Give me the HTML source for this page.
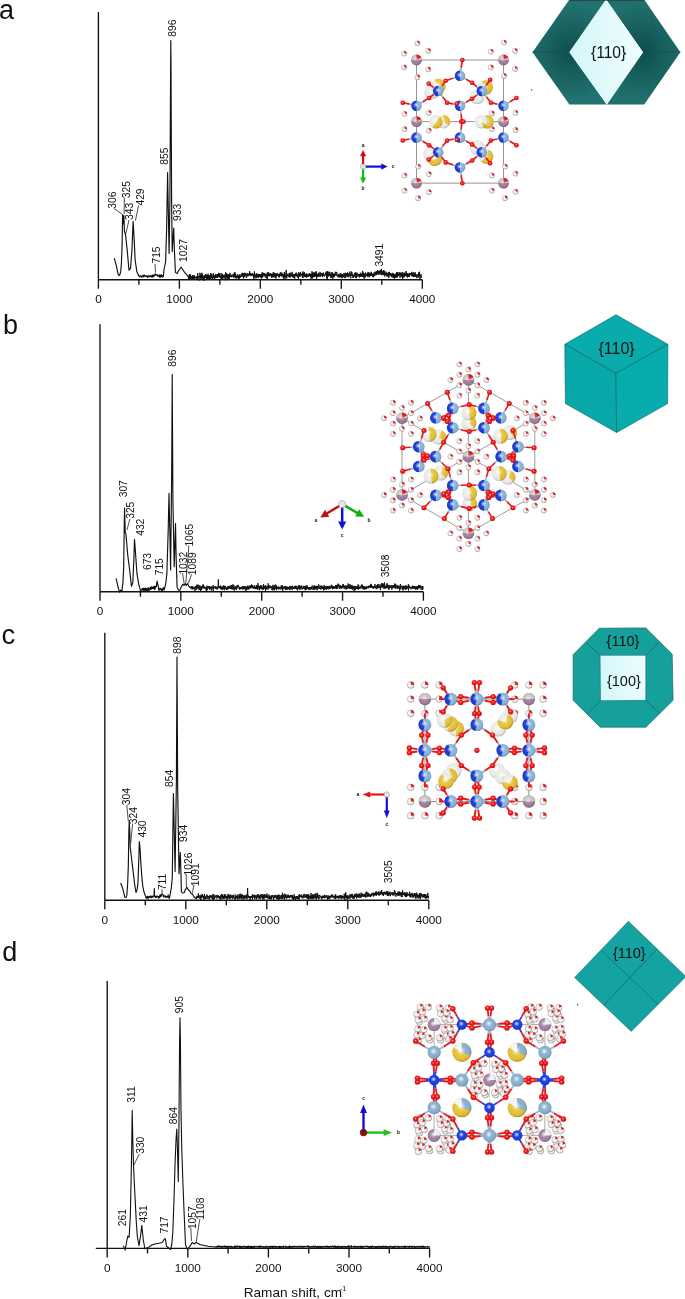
<!DOCTYPE html>
<html><head><meta charset="utf-8"><style>
html,body{margin:0;padding:0;background:#fff;}
svg{display:block;filter:blur(0.3px);}
text{font-family:"Liberation Sans", sans-serif;fill:#111;}
</style></head><body>
<svg width="685" height="1299" viewBox="0 0 685 1299">
<text x="-1" y="18.8" font-size="27">a</text>
<text x="3.1" y="333.6" font-size="27">b</text>
<text x="1.6" y="644" font-size="27.5">c</text>
<text x="2.2" y="960.7" font-size="27">d</text>
<line x1="98.4" y1="12" x2="98.4" y2="279.7" stroke="#111" stroke-width="1.35"/>
<line x1="98.4" y1="279.7" x2="422.3" y2="279.7" stroke="#111" stroke-width="1.35"/>
<line x1="98.40" y1="279.7" x2="98.40" y2="288.7" stroke="#111" stroke-width="1.35"/>
<text x="98.40" y="303.1" font-size="10.5" text-anchor="middle" transform="translate(98.40,0) scale(1.12,1) translate(-98.40,0)">0</text>
<line x1="138.89" y1="279.7" x2="138.89" y2="284.7" stroke="#111" stroke-width="1.35"/>
<line x1="179.38" y1="279.7" x2="179.38" y2="288.7" stroke="#111" stroke-width="1.35"/>
<text x="179.38" y="303.1" font-size="10.5" text-anchor="middle" transform="translate(179.38,0) scale(1.12,1) translate(-179.38,0)">1000</text>
<line x1="219.86" y1="279.7" x2="219.86" y2="284.7" stroke="#111" stroke-width="1.35"/>
<line x1="260.35" y1="279.7" x2="260.35" y2="288.7" stroke="#111" stroke-width="1.35"/>
<text x="260.35" y="303.1" font-size="10.5" text-anchor="middle" transform="translate(260.35,0) scale(1.12,1) translate(-260.35,0)">2000</text>
<line x1="300.84" y1="279.7" x2="300.84" y2="284.7" stroke="#111" stroke-width="1.35"/>
<line x1="341.32" y1="279.7" x2="341.32" y2="288.7" stroke="#111" stroke-width="1.35"/>
<text x="341.32" y="303.1" font-size="10.5" text-anchor="middle" transform="translate(341.32,0) scale(1.12,1) translate(-341.32,0)">3000</text>
<line x1="381.81" y1="279.7" x2="381.81" y2="284.7" stroke="#111" stroke-width="1.35"/>
<line x1="422.30" y1="279.7" x2="422.30" y2="288.7" stroke="#111" stroke-width="1.35"/>
<text x="422.30" y="303.1" font-size="10.5" text-anchor="middle" transform="translate(422.30,0) scale(1.12,1) translate(-422.30,0)">4000</text>
<polyline points="114.30,258.10 116.30,265.60 118.30,274.80 119.50,275.50 120.70,271.90 121.50,262.00 122.10,245.00 122.60,214.80 123.30,224.00 123.90,215.50 124.40,231.00 125.60,235.00 127.30,251.20 129.00,270.20 130.50,268.50 131.90,251.20 133.10,221.20 134.20,239.60 135.10,259.80 136.80,271.40 139.10,276.60 139.40,276.12 139.70,276.66 140.00,276.14 140.30,276.08 140.60,275.65 140.90,276.15 141.20,277.08 141.50,276.60 141.80,277.03 142.10,276.47 142.40,276.58 142.70,276.43 143.00,275.13 143.30,276.90 143.60,276.65 143.90,276.65 144.20,275.12 144.50,275.08 144.80,275.68 145.10,275.97 145.40,276.51 145.70,276.27 146.00,276.66 146.30,275.85 146.60,276.52 146.90,276.58 147.20,275.84 147.50,277.50 147.80,276.69 148.10,277.14 148.40,275.87 148.70,275.78 149.00,276.06 149.30,276.23 149.60,276.74 149.90,276.47 150.20,275.99 150.50,275.63 150.80,275.94 151.10,277.15 151.40,275.73 151.70,276.47 152.00,276.60 152.30,275.26 152.60,276.33 152.90,277.21 153.20,274.87 153.50,276.03 153.80,276.11 154.10,275.46 154.40,276.12 154.70,275.34 155.00,273.85 155.30,274.93 155.60,274.42 155.90,274.46 156.20,274.96 156.50,274.61 156.80,274.96 157.10,274.47 157.40,276.21 157.70,275.61 158.00,275.87 158.30,275.37 158.60,275.61 158.90,275.92 159.20,277.20 159.50,274.88 159.80,275.28 160.10,276.47 160.40,277.31 160.70,276.70 161.00,274.97 161.30,274.54 161.60,276.55 161.90,275.78 162.20,275.52 162.50,276.98 162.80,277.07 163.10,276.41 163.40,276.47 163.90,270.00 165.60,262.00 166.60,230.00 167.60,172.50 168.40,215.00 169.10,253.40 169.90,200.00 170.60,70.00 170.80,40.60 171.00,70.00 171.60,200.00 172.20,251.60 172.90,240.00 173.70,228.00 174.40,250.00 175.40,272.40 177.10,273.60 179.00,270.00 181.20,267.20 183.00,270.00 184.60,272.40 188.10,276.30 188.40,277.84" fill="none" stroke="#111" stroke-width="1.15" stroke-linejoin="round"/>
<polyline points="188.40,277.84 188.55,279.58 188.70,278.11 188.85,277.96 189.00,277.99 189.15,274.82 189.30,279.09 189.45,278.59 189.60,277.95 189.75,274.19 189.90,276.20 190.05,278.41 190.20,274.42 190.35,276.86 190.50,278.66 190.65,275.16 190.80,279.54 190.95,277.95 191.10,276.89 191.25,277.60 191.40,278.08 191.55,277.29 191.70,278.82 191.85,276.11 192.00,276.47 192.15,278.65 192.30,277.13 192.45,275.76 192.60,278.50 192.75,279.27 192.90,276.40 193.05,275.00 193.20,276.86 193.35,276.83 193.50,276.61 193.65,279.16 193.80,275.50 193.95,278.93 194.10,275.13 194.25,275.85 194.40,277.98 194.55,278.72 194.70,278.31 194.85,277.54 195.00,277.23 195.15,277.24 195.30,277.87 195.45,276.74 195.60,277.41 195.75,277.85 195.90,276.99 196.05,278.13 196.20,277.83 196.35,279.99 196.50,277.46 196.65,276.33 196.80,276.41 196.95,276.94 197.10,278.34 197.25,276.45 197.40,277.53 197.55,279.70 197.70,273.09 197.85,275.25 198.00,277.30 198.15,277.53 198.30,277.28 198.45,276.27 198.60,277.90 198.75,277.34 198.90,276.13 199.05,280.55 199.20,277.43 199.35,276.07 199.50,276.74 199.65,276.55 199.80,276.79 199.95,272.79 200.10,276.15 200.25,278.39 200.40,275.12 200.55,276.77 200.70,278.29 200.85,278.14 201.00,279.09 201.15,274.30 201.30,276.32 201.45,276.33 201.60,277.77 201.75,278.47 201.90,272.81 202.05,278.46 202.20,274.65 202.35,277.84 202.50,274.58 202.65,277.07 202.80,278.60 202.95,276.58 203.10,277.08 203.25,277.99 203.40,277.00 203.55,276.65 203.70,279.08 203.85,278.35 204.00,276.33 204.15,280.89 204.30,275.05 204.45,278.13 204.60,276.36 204.75,276.95 204.90,277.81 205.05,277.08 205.20,277.70 205.35,274.45 205.50,274.47 205.65,277.65 205.80,275.28 205.95,275.18 206.10,274.51 206.25,278.61 206.40,277.83 206.55,278.91 206.70,275.29 206.85,276.70 207.00,274.98 207.15,277.84 207.30,279.07 207.45,275.35 207.60,279.02 207.75,278.16 207.90,276.40 208.05,273.71 208.20,278.77 208.35,276.51 208.50,275.75 208.65,277.25 208.80,277.26 208.95,278.89 209.10,275.11 209.25,278.34 209.40,278.86 209.55,278.80 209.70,276.35 209.85,275.50 210.00,278.14 210.15,276.78 210.30,276.79 210.45,278.74 210.60,276.20 210.75,273.15 210.90,276.01 211.05,273.80 211.20,277.81 211.35,277.05 211.50,275.66 211.65,276.55 211.80,277.81 211.95,276.68 212.10,278.55 212.25,276.46 212.40,278.11 212.55,278.78 212.70,278.96 212.85,275.53 213.00,277.85 213.15,273.72 213.30,274.90 213.45,273.58 213.60,278.12 213.75,274.67 213.90,276.49 214.05,276.22 214.20,276.46 214.35,275.61 214.50,276.84 214.65,279.18 214.80,276.55 214.95,277.28 215.10,277.98 215.25,276.18 215.40,274.58 215.55,275.63 215.70,278.07 215.85,273.99 216.00,275.56 216.15,277.96 216.30,277.63 216.45,276.45 216.60,277.65 216.75,276.68 216.90,274.66 217.05,274.08 217.20,275.46 217.35,277.80 217.50,275.57 217.65,275.06 217.80,275.25 217.95,274.10 218.10,276.22 218.25,274.62 218.40,276.94 218.55,272.85 218.70,276.87 218.85,275.41 219.00,273.46 219.15,277.46 219.30,275.95 219.45,273.02 219.60,275.04 219.75,276.79 219.90,275.66 220.05,277.52 220.20,277.46 220.35,277.34 220.50,276.82 220.65,278.33 220.80,277.32 220.95,277.00 221.10,273.19 221.25,277.66 221.40,278.27 221.55,275.86 221.70,275.60 221.85,279.21 222.00,273.66 222.15,276.99 222.30,279.92 222.45,274.89 222.60,277.31 222.75,279.10 222.90,276.09 223.05,277.11 223.20,277.62 223.35,274.90 223.50,276.12 223.65,276.69 223.80,277.48 223.95,276.19 224.10,275.94 224.25,274.71 224.40,275.69 224.55,277.56 224.70,276.37 224.85,274.94 225.00,274.95 225.15,280.21 225.30,277.92 225.45,277.16 225.60,272.31 225.75,277.13 225.90,276.91 226.05,278.71 226.20,276.82 226.35,276.08 226.50,276.96 226.65,273.25 226.80,277.72 226.95,276.65 227.10,275.10 227.25,278.14 227.40,278.86 227.55,274.04 227.70,275.14 227.85,276.57 228.00,276.41 228.15,275.53 228.30,274.66 228.45,279.30 228.60,277.67 228.75,274.32 228.90,274.09 229.05,278.66 229.20,277.59 229.35,278.83 229.50,277.31 229.65,274.78 229.80,276.48 229.95,272.84 230.10,274.96 230.25,275.98 230.40,276.85 230.55,274.97 230.70,275.87 230.85,276.75 231.00,276.62 231.15,277.01 231.30,276.36 231.45,275.56 231.60,277.22 231.75,276.11 231.90,274.79 232.05,275.09 232.20,276.02 232.35,275.85 232.50,276.25 232.65,276.01 232.80,276.27 232.95,275.80 233.10,274.11 233.25,276.63 233.40,277.57 233.55,276.64 233.70,275.70 233.85,276.65 234.00,274.52 234.15,273.13 234.30,276.05 234.45,274.57 234.60,277.07 234.75,274.33 234.90,272.01 235.05,274.39 235.20,278.31 235.35,275.36 235.50,273.88 235.65,274.78 235.80,276.71 235.95,276.67 236.10,276.18 236.25,278.14 236.40,276.97 236.55,275.87 236.70,276.80 236.85,278.38 237.00,277.35 237.15,277.42 237.30,274.26 237.45,275.66 237.60,276.97 237.75,275.43 237.90,277.47 238.05,276.76 238.20,277.22 238.35,275.54 238.50,279.67 238.65,277.71 238.80,275.52 238.95,275.98 239.10,279.73 239.25,275.32 239.40,277.14 239.55,277.30 239.70,275.83 239.85,274.07 240.00,276.09 240.15,276.35 240.30,277.50 240.45,276.98 240.60,275.83 240.75,277.07 240.90,276.60 241.05,276.09 241.20,275.86 241.35,275.41 241.50,276.80 241.65,274.19 241.80,274.82 241.95,275.77 242.10,273.56 242.25,275.10 242.40,272.74 242.55,274.72 242.70,276.59 242.85,276.59 243.00,275.65 243.15,275.38 243.30,273.60 243.45,278.46 243.60,276.49 243.75,277.35 243.90,274.39 244.05,275.43 244.20,272.97 244.35,276.87 244.50,277.10 244.65,272.84 244.80,275.61 244.95,276.63 245.10,273.03 245.25,272.94 245.40,274.07 245.55,274.72 245.70,273.56 245.85,275.70 246.00,276.03 246.15,276.60 246.30,276.70 246.45,277.90 246.60,277.38 246.75,273.67 246.90,274.87 247.05,274.04 247.20,274.01 247.35,275.50 247.50,275.62 247.65,276.34 247.80,273.22 247.95,273.74 248.10,275.07 248.25,274.80 248.40,274.63 248.55,275.01 248.70,273.96 248.85,276.15 249.00,275.63 249.15,274.97 249.30,274.09 249.45,274.84 249.60,271.02 249.75,273.63 249.90,275.16 250.05,272.84 250.20,275.40 250.35,275.32 250.50,273.03 250.65,274.72 250.80,274.63 250.95,275.79 251.10,276.02 251.25,275.05 251.40,273.82 251.55,274.88 251.70,275.00 251.85,276.20 252.00,275.54 252.15,274.02 252.30,273.07 252.45,274.54 252.60,273.99 252.75,273.43 252.90,274.93 253.05,274.36 253.20,275.26 253.35,275.88 253.50,274.48 253.65,278.59 253.80,274.62 253.95,276.75 254.10,275.28 254.25,276.77 254.40,271.54 254.55,273.97 254.70,275.47 254.85,276.00 255.00,278.60 255.15,275.58 255.30,277.02 255.45,276.25 255.60,276.52 255.75,275.87 255.90,274.87 256.05,275.86 256.20,273.48 256.35,276.87 256.50,273.57 256.65,275.47 256.80,278.28 256.95,274.76 257.10,275.13 257.25,276.84 257.40,275.14 257.55,273.89 257.70,275.49 257.85,275.97 258.00,276.17 258.15,273.94 258.30,277.73 258.45,277.60 258.60,275.13 258.75,275.50 258.90,274.46 259.05,277.22 259.20,274.04 259.35,276.11 259.50,274.38 259.65,274.06 259.80,276.18 259.95,277.10 260.10,275.08 260.25,274.08 260.40,276.32 260.55,275.03 260.70,275.57 260.85,277.38 261.00,276.80 261.15,274.32 261.30,278.53 261.45,275.11 261.60,276.28 261.75,274.13 261.90,275.03 262.05,272.48 262.20,277.78 262.35,277.15 262.50,273.28 262.65,272.84 262.80,272.67 262.95,276.86 263.10,274.41 263.25,275.01 263.40,274.63 263.55,274.92 263.70,273.47 263.85,275.14 264.00,272.94 264.15,274.99 264.30,275.56 264.45,275.80 264.60,274.75 264.75,273.74 264.90,275.34 265.05,274.37 265.20,277.45 265.35,276.25 265.50,274.93 265.65,274.39 265.80,274.05 265.95,273.69 266.10,274.57 266.25,275.54 266.40,275.87 266.55,275.95 266.70,278.25 266.85,274.04 267.00,275.12 267.15,279.29 267.30,272.30 267.45,274.32 267.60,275.35 267.75,275.33 267.90,275.71 268.05,274.74 268.20,275.65 268.35,275.18 268.50,276.26 268.65,272.26 268.80,273.77 268.95,275.10 269.10,273.55 269.25,273.53 269.40,276.04 269.55,274.13 269.70,276.05 269.85,276.22 270.00,275.56 270.15,275.86 270.30,274.94 270.45,272.99 270.60,275.05 270.75,275.78 270.90,274.31 271.05,274.95 271.20,276.22 271.35,273.78 271.50,276.06 271.65,277.89 271.80,274.27 271.95,275.32 272.10,274.87 272.25,277.41 272.40,275.57 272.55,276.45 272.70,274.06 272.85,275.08 273.00,275.09 273.15,272.44 273.30,277.26 273.45,276.45 273.60,272.48 273.75,276.22 273.90,274.90 274.05,275.77 274.20,275.65 274.35,272.85 274.50,274.78 274.65,277.34 274.80,274.24 274.95,273.57 275.10,273.06 275.25,273.27 275.40,275.60 275.55,277.64 275.70,275.74 275.85,275.47 276.00,278.45 276.15,274.32 276.30,274.09 276.45,275.89 276.60,275.92 276.75,273.58 276.90,273.35 277.05,275.54 277.20,275.47 277.35,273.14 277.50,274.80 277.65,274.29 277.80,275.79 277.95,274.92 278.10,274.97 278.25,274.57 278.40,276.68 278.55,277.19 278.70,274.55 278.85,276.37 279.00,273.96 279.15,275.21 279.30,276.22 279.45,277.37 279.60,274.53 279.75,274.99 279.90,275.39 280.05,272.85 280.20,275.12 280.35,274.09 280.50,275.66 280.65,273.41 280.80,272.13 280.95,275.16 281.10,275.49 281.25,274.28 281.40,276.43 281.55,274.69 281.70,274.19 281.85,275.82 282.00,272.75 282.15,274.08 282.30,275.07 282.45,276.37 282.60,274.86 282.75,275.56 282.90,274.12 283.05,275.55 283.20,277.60 283.35,274.07 283.50,278.65 283.65,274.13 283.80,275.13 283.95,275.36 284.10,276.64 284.25,273.24 284.40,271.95 284.55,276.01 284.70,276.29 284.85,276.04 285.00,279.05 285.15,275.41 285.30,275.48 285.45,276.49 285.60,275.65 285.75,277.60 285.90,273.24 286.05,274.54 286.20,269.93 286.35,276.32 286.50,274.54 286.65,276.49 286.80,278.33 286.95,275.09 287.10,274.72 287.25,274.35 287.40,273.84 287.55,274.15 287.70,276.06 287.85,275.16 288.00,275.20 288.15,274.84 288.30,276.47 288.45,275.84 288.60,274.89 288.75,276.10 288.90,274.87 289.05,273.37 289.20,277.28 289.35,275.80 289.50,273.66 289.65,276.72 289.80,275.62 289.95,272.75 290.10,277.51 290.25,275.60 290.40,276.44 290.55,275.40 290.70,274.88 290.85,272.78 291.00,276.56 291.15,275.15 291.30,274.67 291.45,275.63 291.60,275.22 291.75,276.11 291.90,274.54 292.05,275.05 292.20,271.89 292.35,274.47 292.50,276.11 292.65,277.11 292.80,274.55 292.95,274.92 293.10,277.48 293.25,274.61 293.40,276.20 293.55,277.62 293.70,275.16 293.85,276.94 294.00,274.03 294.15,275.41 294.30,274.98 294.45,275.27 294.60,276.79 294.75,278.68 294.90,274.10 295.05,274.24 295.20,275.85 295.35,273.52 295.50,275.85 295.65,275.96 295.80,274.68 295.95,275.90 296.10,272.78 296.25,276.24 296.40,272.78 296.55,274.06 296.70,274.27 296.85,274.50 297.00,276.39 297.15,275.22 297.30,274.50 297.45,275.92 297.60,277.47 297.75,275.11 297.90,275.65 298.05,276.96 298.20,275.50 298.35,273.17 298.50,278.84 298.65,278.41 298.80,272.12 298.95,275.04 299.10,275.73 299.25,276.55 299.40,276.10 299.55,274.69 299.70,273.52 299.85,275.25 300.00,276.65 300.15,273.47 300.30,273.56 300.45,275.06 300.60,272.19 300.75,274.71 300.90,274.45 301.05,275.78 301.20,274.05 301.35,273.78 301.50,274.51 301.65,275.03 301.80,274.10 301.95,275.12 302.10,276.23 302.25,276.88 302.40,277.66 302.55,273.92 302.70,274.47 302.85,271.38 303.00,277.95 303.15,274.01 303.30,275.05 303.45,275.88 303.60,273.06 303.75,275.80 303.90,275.06 304.05,272.36 304.20,275.54 304.35,276.89 304.50,272.30 304.65,276.31 304.80,275.41 304.95,275.81 305.10,275.76 305.25,277.06 305.40,274.76 305.55,276.41 305.70,274.49 305.85,276.19 306.00,273.88 306.15,274.94 306.30,277.70 306.45,275.77 306.60,274.86 306.75,273.38 306.90,273.91 307.05,275.39 307.20,276.51 307.35,275.74 307.50,275.89 307.65,275.04 307.80,277.13 307.95,274.51 308.10,274.28 308.25,276.43 308.40,275.20 308.55,274.68 308.70,274.24 308.85,274.71 309.00,276.04 309.15,275.63 309.30,273.29 309.45,275.74 309.60,275.37 309.75,273.60 309.90,276.26 310.05,274.68 310.20,274.60 310.35,276.29 310.50,277.08 310.65,274.07 310.80,275.76 310.95,273.79 311.10,278.57 311.25,274.36 311.40,276.89 311.55,274.13 311.70,276.32 311.85,278.43 312.00,271.29 312.15,274.45 312.30,275.85 312.45,274.96 312.60,274.10 312.75,278.33 312.90,275.22 313.05,272.63 313.20,276.38 313.35,272.52 313.50,276.83 313.65,274.23 313.80,275.32 313.95,276.99 314.10,275.28 314.25,273.01 314.40,272.56 314.55,276.87 314.70,276.21 314.85,273.88 315.00,276.39 315.15,275.84 315.30,276.07 315.45,271.71 315.60,274.65 315.75,276.45 315.90,276.20 316.05,276.42 316.20,271.41 316.35,275.35 316.50,275.84 316.65,278.93 316.80,273.67 316.95,274.61 317.10,275.15 317.25,276.43 317.40,274.44 317.55,276.82 317.70,273.92 317.85,275.50 318.00,274.31 318.15,275.34 318.30,274.06 318.45,272.70 318.60,276.74 318.75,275.56 318.90,274.26 319.05,275.40 319.20,276.59 319.35,273.63 319.50,274.93 319.65,275.91 319.80,275.89 319.95,274.60 320.10,271.94 320.25,276.96 320.40,275.59 320.55,275.12 320.70,274.68 320.85,275.50 321.00,274.46 321.15,273.56 321.30,273.99 321.45,274.20 321.60,274.18 321.75,273.36 321.90,276.05 322.05,273.14 322.20,276.09 322.35,273.58 322.50,275.63 322.65,277.16 322.80,275.40 322.95,274.00 323.10,275.17 323.25,275.32 323.40,272.50 323.55,274.19 323.70,275.34 323.85,274.40 324.00,275.22 324.15,276.20 324.30,276.25 324.45,276.46 324.60,275.98 324.75,274.67 324.90,275.07 325.05,274.69 325.20,274.63 325.35,274.83 325.50,272.51 325.65,274.60 325.80,275.06 325.95,273.64 326.10,275.06 326.25,275.87 326.40,274.85 326.55,278.21 326.70,271.19 326.85,274.79 327.00,272.36 327.15,276.57 327.30,279.08 327.45,271.35 327.60,275.29 327.75,275.88 327.90,274.65 328.05,275.93 328.20,271.74 328.35,276.38 328.50,275.66 328.65,275.13 328.80,274.22 328.95,276.06 329.10,274.37 329.25,275.43 329.40,274.33 329.55,271.73 329.70,275.05 329.85,275.40 330.00,276.23 330.15,273.79 330.30,275.05 330.45,276.03 330.60,275.32 330.75,276.96 330.90,278.09 331.05,273.74 331.20,272.22 331.35,276.38 331.50,277.39 331.65,276.48 331.80,276.32 331.95,274.17 332.10,274.03 332.25,276.43 332.40,273.73 332.55,272.38 332.70,273.60 332.85,278.84 333.00,277.99 333.15,274.07 333.30,274.01 333.45,275.45 333.60,273.98 333.75,277.07 333.90,274.98 334.05,273.47 334.20,277.06 334.35,274.23 334.50,275.43 334.65,275.08 334.80,274.63 334.95,275.59 335.10,274.06 335.25,272.33 335.40,271.79 335.55,273.20 335.70,273.96 335.85,275.07 336.00,275.18 336.15,275.93 336.30,275.28 336.45,273.91 336.60,274.04 336.75,271.92 336.90,274.85 337.05,275.83 337.20,275.89 337.35,274.92 337.50,274.84 337.65,276.50 337.80,275.12 337.95,276.21 338.10,275.97 338.25,275.42 338.40,277.06 338.55,274.24 338.70,274.56 338.85,273.89 339.00,273.90 339.15,277.43 339.30,277.74 339.45,275.13 339.60,275.95 339.75,276.86 339.90,276.31 340.05,276.91 340.20,273.21 340.35,274.14 340.50,275.78 340.65,277.25 340.80,275.26 340.95,273.81 341.10,274.57 341.25,274.11 341.40,273.81 341.55,277.35 341.70,274.16 341.85,275.13 342.00,278.34 342.15,276.88 342.30,275.60 342.45,274.18 342.60,275.72 342.75,277.53 342.90,276.03 343.05,276.99 343.20,275.25 343.35,275.87 343.50,274.80 343.65,275.74 343.80,277.05 343.95,272.95 344.10,275.01 344.25,275.46 344.40,274.24 344.55,274.64 344.70,276.28 344.85,278.10 345.00,276.04 345.15,275.59 345.30,272.77 345.45,277.99 345.60,275.22 345.75,275.05 345.90,273.42 346.05,275.01 346.20,273.46 346.35,275.21 346.50,275.80 346.65,275.15 346.80,275.52 346.95,273.82 347.10,277.24 347.25,274.12 347.40,272.37 347.55,274.82 347.70,273.95 347.85,273.59 348.00,274.57 348.15,275.54 348.30,273.33 348.45,274.89 348.60,277.24 348.75,276.12 348.90,274.87 349.05,275.29 349.20,274.92 349.35,275.03 349.50,276.20 349.65,274.96 349.80,271.49 349.95,275.07 350.10,273.77 350.25,276.08 350.40,274.18 350.55,275.32 350.70,278.37 350.85,273.53 351.00,273.41 351.15,272.98 351.30,271.51 351.45,272.28 351.60,275.65 351.75,274.14 351.90,272.30 352.05,272.88 352.20,276.03 352.35,273.94 352.50,274.55 352.65,275.60 352.80,277.13 352.95,278.01 353.10,276.65 353.25,275.32 353.40,275.38 353.55,277.80 353.70,277.24 353.85,274.63 354.00,275.79 354.15,275.53 354.30,275.18 354.45,274.35 354.60,273.11 354.75,274.30 354.90,272.78 355.05,276.94 355.20,275.90 355.35,273.29 355.50,277.19 355.65,276.44 355.80,272.24 355.95,277.86 356.10,276.31 356.25,278.20 356.40,273.25 356.55,275.90 356.70,275.73 356.85,275.40 357.00,275.36 357.15,276.68 357.30,272.86 357.45,273.24 357.60,273.01 357.75,274.26 357.90,274.19 358.05,275.65 358.20,275.50 358.35,275.15 358.50,274.08 358.65,274.44 358.80,276.53 358.95,276.24 359.10,275.25 359.25,274.61 359.40,277.43 359.55,274.21 359.70,276.07 359.85,276.83 360.00,274.70 360.15,276.34 360.30,273.42 360.45,276.62 360.60,275.40 360.75,272.72 360.90,276.10 361.05,273.76 361.20,277.02 361.35,274.08 361.50,274.85 361.65,275.52 361.80,274.59 361.95,275.48 362.10,274.26 362.25,276.10 362.40,275.10 362.55,275.41 362.70,270.96 362.85,276.83 363.00,275.13 363.15,272.41 363.30,275.23 363.45,275.78 363.60,276.69 363.75,273.45 363.90,277.40 364.05,274.84 364.20,278.67 364.35,274.85 364.50,276.09 364.65,274.52 364.80,273.39 364.95,276.71 365.10,276.42 365.25,277.36 365.40,276.34 365.55,274.19 365.70,272.55 365.85,274.06 366.00,274.02 366.15,273.81 366.30,275.90 366.45,275.51 366.60,274.61 366.75,275.27 366.90,274.78 367.05,275.31 367.20,276.12 367.35,276.42 367.50,273.94 367.65,272.70 367.80,277.10 367.95,275.12 368.10,276.60 368.25,272.46 368.40,274.42 368.55,274.95 368.70,272.73 368.85,274.11 369.00,275.95 369.15,276.47 369.30,277.23 369.45,273.53 369.60,272.71 369.75,275.58 369.90,276.19 370.05,275.05 370.20,272.79 370.35,275.90 370.50,275.90 370.65,275.52 370.80,273.94 370.95,275.10 371.10,275.81 371.25,273.76 371.40,271.81 371.55,275.05 371.70,275.25 371.85,274.53 372.00,275.81 372.15,273.57 372.30,274.30 372.45,273.94 372.60,275.23 372.75,276.73 372.90,273.93 373.05,277.36 373.20,276.54 373.35,275.40 373.50,275.07 373.65,276.81 373.80,273.85 373.95,273.92 374.10,272.46 374.25,274.73 374.40,276.00 374.55,274.75 374.70,274.55 374.85,273.58 375.00,274.10 375.15,271.67 375.30,275.35 375.45,273.13 375.60,272.05 375.75,272.54 375.90,272.40 376.05,274.88 376.20,275.15 376.35,271.49 376.50,274.89 376.65,274.80 376.80,272.56 376.95,271.17 377.10,272.25 377.25,272.38 377.40,273.82 377.55,272.74 377.70,270.20 377.85,273.57 378.00,270.89 378.15,274.52 378.30,271.33 378.45,272.07 378.60,271.81 378.75,272.25 378.90,274.99 379.05,274.30 379.20,273.91 379.35,273.47 379.50,270.65 379.65,272.18 379.80,272.12 379.95,271.47 380.10,273.69 380.25,271.81 380.40,271.85 380.55,271.34 380.70,269.82 380.85,273.79 381.00,274.90 381.15,273.16 381.30,271.44 381.45,268.85 381.60,273.17 381.75,274.74 381.90,273.37 382.05,274.33 382.20,275.17 382.35,274.65 382.50,272.31 382.65,274.57 382.80,274.17 382.95,270.72 383.10,272.44 383.25,270.93 383.40,272.93 383.55,273.98 383.70,271.53 383.85,270.08 384.00,275.14 384.15,273.78 384.30,275.45 384.45,271.29 384.60,274.89 384.75,276.44 384.90,276.38 385.05,273.08 385.20,273.83 385.35,273.23 385.50,274.99 385.65,275.09 385.80,273.70 385.95,271.56 386.10,274.75 386.25,272.97 386.40,274.65 386.55,274.14 386.70,276.21 386.85,275.52 387.00,273.17 387.15,274.41 387.30,276.56 387.45,273.15 387.60,274.64 387.75,275.81 387.90,275.94 388.05,274.87 388.20,272.14 388.35,272.26 388.50,274.56 388.65,274.80 388.80,278.07 388.95,272.99 389.10,276.02 389.25,275.50 389.40,271.86 389.55,273.17 389.70,274.68 389.85,273.71 390.00,274.25 390.15,275.21 390.30,273.32 390.45,275.25 390.60,273.62 390.75,273.78 390.90,275.43 391.05,273.79 391.20,275.10 391.35,277.09 391.50,274.75 391.65,274.51 391.80,275.85 391.95,274.21 392.10,276.40 392.25,272.87 392.40,275.74 392.55,274.06 392.70,273.64 392.85,277.51 393.00,273.59 393.15,277.52 393.30,275.88 393.45,277.08 393.60,273.45 393.75,276.72 393.90,277.12 394.05,274.77 394.20,274.76 394.35,278.65 394.50,275.24 394.65,274.35 394.80,274.04 394.95,275.66 395.10,275.50 395.25,275.27 395.40,277.60 395.55,274.53 395.70,275.73 395.85,277.22 396.00,273.53 396.15,276.60 396.30,277.79 396.45,273.02 396.60,273.40 396.75,273.50 396.90,272.29 397.05,275.74 397.20,272.28 397.35,275.81 397.50,277.25 397.65,272.65 397.80,274.60 397.95,272.20 398.10,276.25 398.25,273.97 398.40,274.68 398.55,275.16 398.70,275.90 398.85,274.56 399.00,275.11 399.15,274.27 399.30,275.26 399.45,273.33 399.60,275.19 399.75,272.19 399.90,274.36 400.05,277.97 400.20,275.21 400.35,273.20 400.50,275.48 400.65,273.64 400.80,272.62 400.95,273.99 401.10,276.20 401.25,275.67 401.40,274.95 401.55,273.71 401.70,273.48 401.85,277.12 402.00,275.46 402.15,273.67 402.30,271.93 402.45,273.04 402.60,278.81 402.75,273.38 402.90,274.98 403.05,275.41 403.20,274.86 403.35,274.68 403.50,273.04 403.65,273.52 403.80,277.63 403.95,273.96 404.10,276.37 404.25,272.56 404.40,274.69 404.55,275.49 404.70,276.65 404.85,273.42 405.00,275.99 405.15,275.68 405.30,273.99 405.45,275.82 405.60,273.75 405.75,273.91 405.90,275.07 406.05,271.03 406.20,274.94 406.35,273.60 406.50,272.91 406.65,274.46 406.80,276.24 406.95,274.49 407.10,277.00 407.25,273.36 407.40,273.13 407.55,277.43 407.70,275.70 407.85,276.52 408.00,273.86 408.15,276.31 408.30,275.49 408.45,276.07 408.60,275.14 408.75,276.91 408.90,274.13 409.05,273.65 409.20,272.88 409.35,276.84 409.50,273.99 409.65,273.54 409.80,273.69 409.95,274.43 410.10,273.19 410.25,274.66 410.40,274.16 410.55,274.27 410.70,273.66 410.85,275.16 411.00,274.41 411.15,275.27 411.30,275.47 411.45,275.61 411.60,271.82 411.75,274.30 411.90,273.91 412.05,276.26 412.20,272.73 412.35,274.03 412.50,274.66 412.65,274.60 412.80,276.59 412.95,274.44 413.10,276.55 413.25,272.90 413.40,272.38 413.55,276.93 413.70,275.75 413.85,275.83 414.00,275.28 414.15,275.83 414.30,273.28 414.45,276.52 414.60,274.30 414.75,276.58 414.90,275.23 415.05,272.14 415.20,273.17 415.35,276.79 415.50,274.89 415.65,274.51 415.80,275.46 415.95,274.46 416.10,274.28 416.25,275.25 416.40,275.32 416.55,277.38 416.70,275.17 416.85,277.92 417.00,277.80 417.15,277.67 417.30,276.69 417.45,275.30 417.60,275.31 417.75,274.89 417.90,274.00 418.05,275.00 418.20,274.14 418.35,277.56 418.50,275.90 418.65,274.43 418.80,272.23 418.95,275.02 419.10,274.48 419.25,273.47 419.40,273.40 419.55,271.72 419.70,275.95 419.85,275.00 420.00,278.97 420.15,275.05 420.30,274.88 420.45,277.27 420.60,275.30 420.75,275.35 420.90,274.54 421.05,274.19 421.20,277.35 421.35,276.60 421.50,277.67" fill="none" stroke="#111" stroke-width="0.95" stroke-linejoin="round"/>
<text x="0" y="0" font-size="10.3" text-anchor="middle" transform="translate(116.21,200.10) rotate(-90)">306</text>
<text x="0" y="0" font-size="10.3" text-anchor="middle" transform="translate(129.91,189.70) rotate(-90)">325</text>
<text x="0" y="0" font-size="10.3" text-anchor="middle" transform="translate(132.61,211.40) rotate(-90)">343</text>
<text x="0" y="0" font-size="10.3" text-anchor="middle" transform="translate(143.71,197.00) rotate(-90)">429</text>
<text x="0" y="0" font-size="10.3" text-anchor="middle" transform="translate(159.61,255.00) rotate(-90)">715</text>
<text x="0" y="0" font-size="10.3" text-anchor="middle" transform="translate(167.61,156.05) rotate(-90)">855</text>
<text x="0" y="0" font-size="10.3" text-anchor="middle" transform="translate(175.51,28.15) rotate(-90)">896</text>
<text x="0" y="0" font-size="10.3" text-anchor="middle" transform="translate(181.41,212.35) rotate(-90)">933</text>
<text x="0" y="0" font-size="10.3" text-anchor="middle" transform="translate(187.21,250.50) rotate(-90)">1027</text>
<text x="0" y="0" font-size="10.3" text-anchor="middle" transform="translate(383.41,255.15) rotate(-90)">3491</text>
<line x1="113.8" y1="208.3" x2="122.5" y2="214.5" stroke="#222" stroke-width="0.8"/>
<line x1="124.3" y1="197.6" x2="124.1" y2="214" stroke="#222" stroke-width="0.8"/>
<line x1="129" y1="220" x2="125.8" y2="233.9" stroke="#222" stroke-width="0.8"/>
<line x1="138.5" y1="205.5" x2="135.4" y2="220.6" stroke="#222" stroke-width="0.8"/>
<line x1="155" y1="263.8" x2="155.5" y2="272.7" stroke="#222" stroke-width="0.8"/>
<line x1="100" y1="324.2" x2="100" y2="591.7" stroke="#111" stroke-width="1.35"/>
<line x1="100" y1="591.7" x2="423.4" y2="591.7" stroke="#111" stroke-width="1.35"/>
<line x1="100.00" y1="591.7" x2="100.00" y2="600.7" stroke="#111" stroke-width="1.35"/>
<text x="100.00" y="615.4" font-size="10.5" text-anchor="middle" transform="translate(100.00,0) scale(1.12,1) translate(-100.00,0)">0</text>
<line x1="140.43" y1="591.7" x2="140.43" y2="596.7" stroke="#111" stroke-width="1.35"/>
<line x1="180.85" y1="591.7" x2="180.85" y2="600.7" stroke="#111" stroke-width="1.35"/>
<text x="180.85" y="615.4" font-size="10.5" text-anchor="middle" transform="translate(180.85,0) scale(1.12,1) translate(-180.85,0)">1000</text>
<line x1="221.27" y1="591.7" x2="221.27" y2="596.7" stroke="#111" stroke-width="1.35"/>
<line x1="261.70" y1="591.7" x2="261.70" y2="600.7" stroke="#111" stroke-width="1.35"/>
<text x="261.70" y="615.4" font-size="10.5" text-anchor="middle" transform="translate(261.70,0) scale(1.12,1) translate(-261.70,0)">2000</text>
<line x1="302.12" y1="591.7" x2="302.12" y2="596.7" stroke="#111" stroke-width="1.35"/>
<line x1="342.55" y1="591.7" x2="342.55" y2="600.7" stroke="#111" stroke-width="1.35"/>
<text x="342.55" y="615.4" font-size="10.5" text-anchor="middle" transform="translate(342.55,0) scale(1.12,1) translate(-342.55,0)">3000</text>
<line x1="382.97" y1="591.7" x2="382.97" y2="596.7" stroke="#111" stroke-width="1.35"/>
<line x1="423.40" y1="591.7" x2="423.40" y2="600.7" stroke="#111" stroke-width="1.35"/>
<text x="423.40" y="615.4" font-size="10.5" text-anchor="middle" transform="translate(423.40,0) scale(1.12,1) translate(-423.40,0)">4000</text>
<polyline points="116.00,578.30 117.10,582.70 118.20,587.80 119.70,592.20 120.80,590.00 121.90,591.40 123.00,581.90 123.70,565.80 124.30,521.90 124.60,508.00 125.20,532.20 125.90,533.70 127.70,554.90 129.60,569.50 131.40,586.30 132.80,582.70 133.90,558.50 134.50,539.50 135.40,551.20 136.90,573.20 138.70,584.10 140.50,590.70 141.60,590.00 141.90,588.99 142.20,589.33 142.50,588.51 142.80,590.17 143.10,588.05 143.40,589.81 143.70,590.29 144.00,590.57 144.30,588.45 144.60,590.28 144.90,588.66 145.20,588.62 145.50,588.11 145.80,590.34 146.10,590.78 146.40,588.76 146.70,588.61 147.00,588.98 147.30,591.54 147.60,590.17 147.90,588.77 148.20,587.62 148.50,588.60 148.80,590.24 149.10,590.81 149.40,588.83 149.70,588.38 150.00,588.46 150.30,587.12 150.60,589.53 150.90,587.62 151.20,589.42 151.50,586.80 151.80,587.07 152.10,588.35 152.40,587.30 152.70,588.61 153.00,587.85 153.30,586.75 153.60,588.36 153.90,588.58 154.20,586.16 154.50,589.60 154.80,588.49 155.10,588.78 155.40,586.39 155.70,587.14 156.00,586.82 156.30,586.97 156.60,583.28 156.90,582.61 157.20,581.15 157.50,583.35 157.80,585.23 158.10,584.97 158.40,587.24 158.70,589.05 159.00,590.44 159.30,589.79 159.60,588.98 159.90,588.22 160.20,588.45 160.50,588.70 160.80,589.43 161.10,589.25 161.40,590.80 161.70,589.56 162.00,588.33 162.30,590.69 162.60,590.15 162.90,589.39 163.20,588.65 163.50,587.62 163.80,588.38 164.10,590.12 164.40,588.58 164.70,588.20 166.00,582.00 166.90,573.10 168.20,530.00 169.00,493.40 169.80,530.00 170.60,570.00 171.70,470.00 172.10,400.00 172.20,374.20 172.35,400.00 172.90,500.00 174.20,566.70 174.90,545.00 175.50,523.60 176.20,560.00 177.10,587.20 178.50,590.00 179.80,590.40 181.20,587.00 183.00,584.00 184.00,585.50 185.20,583.50 186.20,585.50 187.30,583.50 189.00,586.50 191.10,588.20 191.40,585.98" fill="none" stroke="#111" stroke-width="1.15" stroke-linejoin="round"/>
<polyline points="191.40,585.98 191.56,587.95 191.72,588.02 191.88,588.49 192.04,588.55 192.20,589.53 192.36,586.61 192.52,588.97 192.68,586.42 192.84,588.60 193.00,587.93 193.16,588.02 193.32,588.96 193.48,587.68 193.64,589.15 193.80,588.84 193.96,587.88 194.12,586.96 194.28,586.72 194.44,587.01 194.60,587.44 194.76,587.67 194.92,591.58 195.08,588.53 195.24,588.70 195.40,586.58 195.56,586.78 195.72,587.29 195.88,587.95 196.04,586.35 196.20,589.80 196.36,586.97 196.52,589.10 196.68,584.66 196.84,587.69 197.00,588.06 197.16,587.95 197.32,588.48 197.48,588.06 197.64,587.91 197.80,585.24 197.96,586.77 198.12,584.65 198.28,588.52 198.44,588.10 198.60,587.45 198.76,586.63 198.92,586.94 199.08,590.10 199.24,589.95 199.40,587.62 199.56,589.37 199.72,585.64 199.88,585.18 200.04,587.07 200.20,586.56 200.36,586.97 200.52,587.94 200.68,591.63 200.84,586.84 201.00,587.76 201.16,588.06 201.32,587.66 201.48,588.91 201.64,590.01 201.80,586.08 201.96,587.91 202.12,587.36 202.28,588.16 202.44,585.71 202.60,585.41 202.76,584.69 202.92,588.38 203.08,587.95 203.24,587.80 203.40,584.62 203.56,587.21 203.72,586.72 203.88,585.86 204.04,586.51 204.20,588.61 204.36,588.41 204.52,587.67 204.68,588.37 204.84,586.92 205.00,587.79 205.16,587.75 205.32,588.42 205.48,587.61 205.64,587.51 205.80,587.52 205.96,586.86 206.12,590.60 206.28,588.37 206.44,588.26 206.60,590.68 206.76,589.52 206.92,585.68 207.08,588.60 207.24,588.79 207.40,590.15 207.56,589.41 207.72,588.70 207.88,586.17 208.04,586.57 208.20,588.05 208.36,588.36 208.52,586.37 208.68,587.20 208.84,587.18 209.00,587.78 209.16,588.14 209.32,587.33 209.48,586.09 209.64,589.32 209.80,589.77 209.96,587.56 210.12,589.03 210.28,588.28 210.44,588.56 210.60,588.33 210.76,586.71 210.92,588.45 211.08,589.01 211.24,586.53 211.40,590.26 211.56,590.42 211.72,590.07 211.88,590.29 212.04,588.67 212.20,587.26 212.36,586.92 212.52,586.64 212.68,587.85 212.84,587.66 213.00,588.57 213.16,585.07 213.32,590.71 213.48,590.66 213.64,587.66 213.80,588.58 213.96,588.32 214.12,588.06 214.28,587.43 214.44,587.54 214.60,586.63 214.76,587.93 214.92,587.67 215.08,588.12 215.24,586.59 215.40,587.75 215.56,587.76 215.72,588.49 215.88,586.32 216.04,588.25 216.20,588.98 216.36,588.48 216.52,587.22 216.68,587.06 216.84,587.39 217.00,588.65 217.16,589.72 217.32,587.49 217.48,586.86 217.64,588.19 217.80,587.97 217.96,586.52 218.12,586.74 218.28,579.50 218.44,579.50 218.60,586.15 218.76,586.38 218.92,588.35 219.08,586.11 219.24,587.84 219.40,588.16 219.56,587.56 219.72,586.38 219.88,587.62 220.04,587.27 220.20,588.14 220.36,586.61 220.52,589.12 220.68,585.52 220.84,587.47 221.00,587.71 221.16,588.95 221.32,586.91 221.48,588.41 221.64,586.96 221.80,588.66 221.96,589.96 222.12,587.18 222.28,588.28 222.44,586.49 222.60,588.97 222.76,589.27 222.92,587.75 223.08,586.22 223.24,588.22 223.40,589.19 223.56,589.12 223.72,588.76 223.88,585.32 224.04,586.82 224.20,589.55 224.36,586.11 224.52,589.17 224.68,590.15 224.84,588.69 225.00,589.16 225.16,587.27 225.32,586.11 225.48,587.57 225.64,587.44 225.80,587.64 225.96,588.61 226.12,587.51 226.28,587.95 226.44,588.25 226.60,587.69 226.76,590.10 226.92,588.28 227.08,587.81 227.24,587.43 227.40,586.89 227.56,589.45 227.72,587.90 227.88,586.30 228.04,586.97 228.20,587.52 228.36,587.12 228.52,589.11 228.68,586.19 228.84,588.34 229.00,587.89 229.16,586.17 229.32,587.76 229.48,587.58 229.64,588.35 229.80,587.11 229.96,588.09 230.12,585.54 230.28,586.29 230.44,588.72 230.60,589.05 230.76,587.68 230.92,586.92 231.08,589.11 231.24,584.98 231.40,586.66 231.56,588.57 231.72,588.55 231.88,586.36 232.04,585.25 232.20,589.59 232.36,587.90 232.52,586.53 232.68,587.77 232.84,588.87 233.00,584.33 233.16,589.14 233.32,588.66 233.48,584.99 233.64,588.70 233.80,585.39 233.96,589.18 234.12,588.22 234.28,590.63 234.44,586.91 234.60,587.71 234.76,589.06 234.92,586.87 235.08,586.78 235.24,587.22 235.40,587.61 235.56,586.29 235.72,588.33 235.88,588.41 236.04,587.79 236.20,589.91 236.36,587.27 236.52,589.40 236.68,586.99 236.84,588.68 237.00,585.18 237.16,587.96 237.32,587.47 237.48,587.06 237.64,586.91 237.80,587.25 237.96,586.76 238.12,584.85 238.28,586.92 238.44,586.99 238.60,587.02 238.76,586.32 238.92,587.52 239.08,588.72 239.24,587.37 239.40,587.06 239.56,589.46 239.72,588.97 239.88,588.90 240.04,589.20 240.20,587.27 240.36,587.53 240.52,589.15 240.68,586.98 240.84,587.54 241.00,588.19 241.16,588.18 241.32,587.34 241.48,588.98 241.64,587.47 241.80,588.64 241.96,589.09 242.12,588.56 242.28,588.65 242.44,586.19 242.60,586.00 242.76,586.90 242.92,588.32 243.08,589.65 243.24,586.11 243.40,588.10 243.56,586.59 243.72,586.75 243.88,587.34 244.04,588.60 244.20,587.98 244.36,589.23 244.52,586.42 244.68,588.86 244.84,588.91 245.00,587.79 245.16,588.32 245.32,586.97 245.48,586.28 245.64,587.17 245.80,586.86 245.96,591.46 246.12,587.07 246.28,589.85 246.44,587.96 246.60,588.11 246.76,588.67 246.92,586.69 247.08,588.89 247.24,588.19 247.40,585.73 247.56,588.48 247.72,588.42 247.88,588.29 248.04,589.76 248.20,587.16 248.36,588.37 248.52,588.67 248.68,586.53 248.84,589.26 249.00,585.81 249.16,586.01 249.32,588.38 249.48,586.28 249.64,587.55 249.80,585.56 249.96,587.79 250.12,586.23 250.28,588.14 250.44,585.71 250.60,588.28 250.76,587.35 250.92,587.78 251.08,587.61 251.24,587.87 251.40,585.98 251.56,584.37 251.72,587.74 251.88,586.48 252.04,587.11 252.20,588.25 252.36,585.12 252.52,586.71 252.68,586.91 252.84,586.33 253.00,588.12 253.16,587.52 253.32,586.63 253.48,586.42 253.64,588.75 253.80,586.84 253.96,588.46 254.12,588.28 254.28,585.24 254.44,586.29 254.60,587.70 254.76,588.14 254.92,588.71 255.08,588.74 255.24,589.04 255.40,587.21 255.56,587.43 255.72,588.71 255.88,587.15 256.04,589.07 256.20,585.63 256.36,588.55 256.52,587.47 256.68,585.14 256.84,588.97 257.00,588.10 257.16,587.73 257.32,586.30 257.48,587.10 257.64,589.67 257.80,586.62 257.96,583.19 258.12,586.59 258.28,586.14 258.44,587.53 258.60,587.19 258.76,586.51 258.92,586.61 259.08,589.06 259.24,585.82 259.40,590.24 259.56,586.99 259.72,586.28 259.88,588.72 260.04,588.43 260.20,586.34 260.36,588.67 260.52,585.31 260.68,586.50 260.84,589.16 261.00,587.37 261.16,586.01 261.32,588.37 261.48,588.89 261.64,587.67 261.80,585.35 261.96,587.25 262.12,588.24 262.28,588.70 262.44,590.11 262.60,587.37 262.76,587.07 262.92,587.65 263.08,589.27 263.24,586.48 263.40,589.40 263.56,584.13 263.72,588.74 263.88,586.82 264.04,588.30 264.20,588.60 264.36,586.16 264.52,587.59 264.68,588.01 264.84,588.46 265.00,586.49 265.16,586.41 265.32,585.20 265.48,591.00 265.64,587.45 265.80,587.41 265.96,585.76 266.12,588.91 266.28,587.00 266.44,589.57 266.60,588.81 266.76,587.73 266.92,588.65 267.08,586.25 267.24,587.28 267.40,586.95 267.56,586.05 267.72,587.72 267.88,587.51 268.04,589.57 268.20,583.34 268.36,586.83 268.52,586.51 268.68,587.10 268.84,588.25 269.00,588.22 269.16,587.74 269.32,587.08 269.48,588.34 269.64,588.17 269.80,585.30 269.96,587.36 270.12,585.91 270.28,586.16 270.44,587.89 270.60,587.78 270.76,587.85 270.92,586.56 271.08,587.44 271.24,586.51 271.40,588.20 271.56,588.60 271.72,589.98 271.88,589.35 272.04,586.65 272.20,587.10 272.36,586.48 272.52,588.10 272.68,590.27 272.84,588.62 273.00,584.84 273.16,586.07 273.32,586.02 273.48,588.37 273.64,587.70 273.80,588.09 273.96,590.02 274.12,586.62 274.28,586.60 274.44,590.26 274.60,588.14 274.76,586.69 274.92,585.06 275.08,585.72 275.24,584.52 275.40,587.79 275.56,587.76 275.72,588.99 275.88,587.52 276.04,586.80 276.20,586.74 276.36,590.17 276.52,585.40 276.68,587.93 276.84,587.73 277.00,588.50 277.16,587.17 277.32,588.35 277.48,588.76 277.64,587.51 277.80,587.11 277.96,587.46 278.12,586.45 278.28,587.43 278.44,587.31 278.60,587.97 278.76,589.44 278.92,589.40 279.08,587.12 279.24,588.48 279.40,588.08 279.56,588.69 279.72,587.73 279.88,588.05 280.04,587.09 280.20,586.68 280.36,588.83 280.52,589.39 280.68,588.56 280.84,588.27 281.00,588.05 281.16,587.11 281.32,585.38 281.48,588.56 281.64,587.96 281.80,586.98 281.96,586.45 282.12,589.36 282.28,585.35 282.44,589.99 282.60,588.53 282.76,590.78 282.92,586.77 283.08,587.67 283.24,587.04 283.40,587.90 283.56,587.43 283.72,586.73 283.88,589.10 284.04,586.68 284.20,587.04 284.36,588.42 284.52,587.00 284.68,587.14 284.84,588.16 285.00,587.22 285.16,586.08 285.32,587.57 285.48,587.41 285.64,589.92 285.80,586.27 285.96,588.96 286.12,586.68 286.28,587.24 286.44,587.28 286.60,588.05 286.76,588.82 286.92,589.97 287.08,586.87 287.24,589.43 287.40,588.99 287.56,588.76 287.72,586.71 287.88,588.87 288.04,587.56 288.20,588.16 288.36,587.35 288.52,588.56 288.68,589.15 288.84,589.17 289.00,587.43 289.16,588.99 289.32,589.59 289.48,586.48 289.64,589.61 289.80,585.96 289.96,588.41 290.12,588.47 290.28,589.63 290.44,588.06 290.60,587.08 290.76,586.66 290.92,586.07 291.08,588.70 291.24,587.39 291.40,586.77 291.56,588.39 291.72,586.71 291.88,587.13 292.04,587.10 292.20,589.85 292.36,589.60 292.52,587.49 292.68,585.66 292.84,588.06 293.00,587.79 293.16,588.15 293.32,588.44 293.48,587.28 293.64,588.90 293.80,588.79 293.96,587.97 294.12,587.17 294.28,587.08 294.44,588.60 294.60,586.27 294.76,587.49 294.92,586.73 295.08,585.89 295.24,588.48 295.40,587.67 295.56,587.75 295.72,588.84 295.88,585.76 296.04,587.61 296.20,588.08 296.36,588.78 296.52,586.29 296.68,588.63 296.84,587.99 297.00,589.46 297.16,589.18 297.32,588.41 297.48,590.49 297.64,587.70 297.80,587.15 297.96,587.26 298.12,586.48 298.28,587.66 298.44,585.26 298.60,587.59 298.76,588.25 298.92,588.99 299.08,587.25 299.24,589.51 299.40,586.85 299.56,587.53 299.72,585.26 299.88,586.71 300.04,586.67 300.20,589.60 300.36,588.37 300.52,586.30 300.68,588.38 300.84,588.31 301.00,587.40 301.16,587.73 301.32,587.31 301.48,587.01 301.64,585.45 301.80,587.59 301.96,589.33 302.12,589.52 302.28,587.35 302.44,586.75 302.60,587.43 302.76,588.84 302.92,588.15 303.08,586.96 303.24,588.16 303.40,587.44 303.56,588.35 303.72,587.18 303.88,585.83 304.04,587.77 304.20,588.66 304.36,586.30 304.52,587.56 304.68,588.81 304.84,587.23 305.00,586.88 305.16,590.27 305.32,588.75 305.48,589.00 305.64,586.50 305.80,589.77 305.96,585.60 306.12,587.04 306.28,588.64 306.44,589.38 306.60,586.52 306.76,586.86 306.92,587.95 307.08,585.26 307.24,588.51 307.40,588.41 307.56,587.13 307.72,588.38 307.88,588.68 308.04,588.09 308.20,588.36 308.36,589.61 308.52,587.10 308.68,587.90 308.84,587.04 309.00,589.00 309.16,587.19 309.32,588.30 309.48,587.87 309.64,587.78 309.80,589.86 309.96,587.59 310.12,589.48 310.28,588.74 310.44,589.36 310.60,587.49 310.76,588.87 310.92,588.65 311.08,586.93 311.24,588.04 311.40,587.54 311.56,587.65 311.72,589.34 311.88,586.79 312.04,585.59 312.20,585.51 312.36,587.13 312.52,586.89 312.68,587.72 312.84,588.41 313.00,589.91 313.16,588.09 313.32,588.28 313.48,586.78 313.64,588.43 313.80,589.40 313.96,589.38 314.12,585.25 314.28,588.82 314.44,589.68 314.60,588.73 314.76,585.82 314.92,587.31 315.08,588.43 315.24,588.22 315.40,586.68 315.56,586.58 315.72,588.91 315.88,586.03 316.04,589.49 316.20,587.72 316.36,588.07 316.52,586.03 316.68,586.95 316.84,588.56 317.00,585.85 317.16,590.29 317.32,585.94 317.48,586.17 317.64,587.75 317.80,588.30 317.96,588.61 318.12,587.23 318.28,587.43 318.44,587.40 318.60,586.97 318.76,584.47 318.92,588.89 319.08,588.00 319.24,587.88 319.40,586.90 319.56,588.00 319.72,587.67 319.88,587.59 320.04,589.06 320.20,585.53 320.36,587.99 320.52,586.35 320.68,587.28 320.84,589.55 321.00,586.32 321.16,587.55 321.32,586.93 321.48,588.85 321.64,586.44 321.80,585.56 321.96,588.30 322.12,587.22 322.28,587.26 322.44,589.00 322.60,586.54 322.76,587.18 322.92,587.83 323.08,588.16 323.24,586.99 323.40,588.93 323.56,590.43 323.72,587.12 323.88,589.96 324.04,584.99 324.20,589.37 324.36,587.18 324.52,587.78 324.68,587.18 324.84,586.81 325.00,586.00 325.16,587.10 325.32,589.20 325.48,589.00 325.64,587.14 325.80,586.91 325.96,586.68 326.12,586.06 326.28,589.80 326.44,588.37 326.60,587.68 326.76,586.91 326.92,586.24 327.08,589.16 327.24,588.48 327.40,586.31 327.56,588.72 327.72,586.10 327.88,588.27 328.04,586.26 328.20,586.93 328.36,588.06 328.52,587.97 328.68,588.68 328.84,586.37 329.00,589.37 329.16,589.07 329.32,587.37 329.48,587.95 329.64,586.39 329.80,587.16 329.96,585.69 330.12,587.43 330.28,587.56 330.44,588.98 330.60,588.47 330.76,588.29 330.92,586.81 331.08,586.97 331.24,586.81 331.40,587.50 331.56,584.80 331.72,588.16 331.88,585.23 332.04,586.53 332.20,587.18 332.36,586.50 332.52,589.20 332.68,586.99 332.84,589.06 333.00,588.55 333.16,586.45 333.32,587.56 333.48,588.67 333.64,586.62 333.80,587.13 333.96,586.31 334.12,587.07 334.28,586.54 334.44,587.07 334.60,588.20 334.76,588.68 334.92,587.09 335.08,587.17 335.24,587.97 335.40,586.53 335.56,585.56 335.72,588.25 335.88,585.69 336.04,588.01 336.20,585.63 336.36,589.11 336.52,585.51 336.68,587.86 336.84,588.67 337.00,585.59 337.16,588.63 337.32,585.74 337.48,584.56 337.64,587.66 337.80,587.62 337.96,586.49 338.12,583.58 338.28,586.66 338.44,586.34 338.60,586.25 338.76,586.35 338.92,584.48 339.08,586.00 339.24,588.95 339.40,588.63 339.56,586.25 339.72,585.81 339.88,587.19 340.04,588.03 340.20,587.60 340.36,585.24 340.52,586.90 340.68,586.88 340.84,588.50 341.00,588.20 341.16,587.37 341.32,588.24 341.48,586.23 341.64,588.65 341.80,586.20 341.96,587.23 342.12,587.89 342.28,585.61 342.44,585.88 342.60,584.57 342.76,586.98 342.92,586.71 343.08,586.38 343.24,587.42 343.40,584.17 343.56,586.79 343.72,586.94 343.88,586.51 344.04,587.84 344.20,589.05 344.36,586.32 344.52,585.71 344.68,586.14 344.84,587.02 345.00,587.65 345.16,585.86 345.32,588.19 345.48,585.68 345.64,588.00 345.80,587.52 345.96,587.58 346.12,589.71 346.28,586.70 346.44,586.83 346.60,587.65 346.76,588.14 346.92,585.41 347.08,587.44 347.24,586.18 347.40,587.91 347.56,588.84 347.72,587.21 347.88,587.03 348.04,587.40 348.20,583.50 348.36,588.16 348.52,587.92 348.68,587.43 348.84,586.75 349.00,586.34 349.16,587.04 349.32,588.79 349.48,587.17 349.64,588.99 349.80,584.11 349.96,586.76 350.12,587.68 350.28,587.34 350.44,585.29 350.60,586.55 350.76,588.95 350.92,585.78 351.08,586.17 351.24,586.05 351.40,586.74 351.56,588.24 351.72,588.19 351.88,584.92 352.04,589.29 352.20,586.73 352.36,586.75 352.52,589.57 352.68,587.40 352.84,585.96 353.00,586.72 353.16,586.62 353.32,586.27 353.48,587.12 353.64,588.64 353.80,587.99 353.96,585.83 354.12,591.04 354.28,586.33 354.44,587.72 354.60,587.62 354.76,588.54 354.92,587.18 355.08,588.17 355.24,590.23 355.40,587.73 355.56,586.26 355.72,588.02 355.88,586.62 356.04,587.16 356.20,587.86 356.36,588.05 356.52,587.28 356.68,588.70 356.84,587.40 357.00,586.02 357.16,588.74 357.32,587.19 357.48,589.17 357.64,586.84 357.80,588.37 357.96,588.05 358.12,584.30 358.28,585.80 358.44,586.27 358.60,589.42 358.76,585.31 358.92,588.81 359.08,589.03 359.24,588.29 359.40,588.52 359.56,587.06 359.72,587.66 359.88,587.96 360.04,588.20 360.20,588.56 360.36,587.42 360.52,586.80 360.68,586.98 360.84,588.19 361.00,585.61 361.16,586.12 361.32,587.17 361.48,586.99 361.64,587.34 361.80,584.36 361.96,587.26 362.12,587.37 362.28,588.65 362.44,585.21 362.60,587.30 362.76,588.27 362.92,588.29 363.08,589.17 363.24,589.00 363.40,586.37 363.56,588.47 363.72,587.26 363.88,586.67 364.04,589.59 364.20,586.88 364.36,586.60 364.52,587.16 364.68,586.60 364.84,588.92 365.00,588.14 365.16,589.41 365.32,588.17 365.48,586.89 365.64,588.96 365.80,586.83 365.96,587.07 366.12,587.43 366.28,587.69 366.44,589.13 366.60,586.87 366.76,588.07 366.92,587.59 367.08,586.04 367.24,586.24 367.40,587.33 367.56,588.11 367.72,588.00 367.88,588.19 368.04,587.65 368.20,587.02 368.36,588.11 368.52,586.31 368.68,585.88 368.84,587.14 369.00,585.75 369.16,586.89 369.32,586.59 369.48,586.83 369.64,587.45 369.80,586.50 369.96,586.96 370.12,585.34 370.28,587.65 370.44,586.36 370.60,587.96 370.76,583.89 370.92,586.42 371.08,587.72 371.24,584.34 371.40,586.93 371.56,587.49 371.72,587.49 371.88,585.47 372.04,587.61 372.20,587.50 372.36,586.08 372.52,588.21 372.68,587.20 372.84,587.27 373.00,586.66 373.16,587.89 373.32,587.31 373.48,588.60 373.64,587.72 373.80,586.36 373.96,586.83 374.12,588.24 374.28,586.61 374.44,587.52 374.60,587.68 374.76,586.77 374.92,584.05 375.08,587.12 375.24,587.20 375.40,587.07 375.56,585.93 375.72,588.37 375.88,586.66 376.04,586.02 376.20,585.88 376.36,587.20 376.52,585.35 376.68,585.44 376.84,589.19 377.00,588.29 377.16,587.94 377.32,588.31 377.48,587.31 377.64,584.42 377.80,588.01 377.96,588.04 378.12,587.07 378.28,583.97 378.44,587.96 378.60,588.09 378.76,585.73 378.92,586.48 379.08,587.27 379.24,586.16 379.40,587.62 379.56,586.31 379.72,587.06 379.88,586.27 380.04,584.27 380.20,584.86 380.36,590.08 380.52,586.42 380.68,587.69 380.84,587.45 381.00,588.16 381.16,586.67 381.32,585.20 381.48,585.96 381.64,583.50 381.80,585.66 381.96,587.02 382.12,583.13 382.28,586.09 382.44,586.87 382.60,587.49 382.76,584.63 382.92,584.96 383.08,583.41 383.24,584.48 383.40,586.42 383.56,588.35 383.72,584.29 383.88,587.46 384.04,586.26 384.20,585.09 384.36,588.48 384.52,582.52 384.68,585.62 384.84,585.98 385.00,588.39 385.16,587.97 385.32,588.56 385.48,585.87 385.64,586.95 385.80,587.44 385.96,586.36 386.12,586.18 386.28,585.50 386.44,585.23 386.60,584.20 386.76,588.22 386.92,585.21 387.08,583.16 387.24,586.13 387.40,585.77 387.56,586.05 387.72,588.14 387.88,585.73 388.04,585.54 388.20,584.95 388.36,585.89 388.52,585.38 388.68,586.21 388.84,589.92 389.00,586.49 389.16,584.93 389.32,588.48 389.48,587.16 389.64,587.12 389.80,587.02 389.96,587.17 390.12,587.01 390.28,587.97 390.44,587.49 390.60,587.94 390.76,585.63 390.92,586.29 391.08,585.40 391.24,587.56 391.40,587.42 391.56,585.81 391.72,587.17 391.88,589.78 392.04,588.05 392.20,585.10 392.36,586.42 392.52,587.37 392.68,586.55 392.84,587.11 393.00,588.14 393.16,587.09 393.32,585.31 393.48,587.63 393.64,586.63 393.80,586.92 393.96,586.09 394.12,585.08 394.28,585.28 394.44,586.43 394.60,585.55 394.76,583.49 394.92,588.41 395.08,585.51 395.24,586.08 395.40,587.69 395.56,583.99 395.72,588.77 395.88,586.11 396.04,587.94 396.20,586.52 396.36,587.54 396.52,587.30 396.68,587.19 396.84,584.89 397.00,585.37 397.16,587.19 397.32,589.05 397.48,586.59 397.64,587.97 397.80,587.52 397.96,587.94 398.12,588.60 398.28,585.46 398.44,587.72 398.60,587.16 398.76,587.00 398.92,586.33 399.08,586.43 399.24,586.13 399.40,586.06 399.56,590.64 399.72,589.62 399.88,587.49 400.04,588.43 400.20,586.27 400.36,583.99 400.52,585.21 400.68,587.71 400.84,589.36 401.00,587.49 401.16,586.29 401.32,587.25 401.48,586.30 401.64,585.81 401.80,587.29 401.96,587.08 402.12,586.56 402.28,586.48 402.44,586.43 402.60,587.91 402.76,589.38 402.92,587.35 403.08,590.46 403.24,585.58 403.40,587.98 403.56,586.17 403.72,587.44 403.88,587.77 404.04,588.35 404.20,589.08 404.36,586.95 404.52,586.08 404.68,587.42 404.84,588.03 405.00,586.78 405.16,588.80 405.32,589.80 405.48,585.87 405.64,588.13 405.80,588.96 405.96,585.24 406.12,587.94 406.28,587.39 406.44,585.88 406.60,589.35 406.76,587.96 406.92,587.08 407.08,588.25 407.24,588.50 407.40,588.66 407.56,588.42 407.72,588.21 407.88,586.20 408.04,587.16 408.20,587.85 408.36,584.18 408.52,590.39 408.68,587.21 408.84,586.36 409.00,585.39 409.16,588.01 409.32,587.74 409.48,586.96 409.64,587.17 409.80,586.57 409.96,586.75 410.12,587.57 410.28,586.88 410.44,588.56 410.60,587.52 410.76,587.86 410.92,588.21 411.08,589.31 411.24,588.46 411.40,587.99 411.56,587.49 411.72,586.68 411.88,587.26 412.04,588.56 412.20,587.99 412.36,587.21 412.52,586.01 412.68,585.76 412.84,588.11 413.00,589.00 413.16,588.17 413.32,585.96 413.48,587.43 413.64,587.98 413.80,586.54 413.96,588.14 414.12,587.45 414.28,586.64 414.44,586.13 414.60,588.73 414.76,588.15 414.92,586.58 415.08,586.42 415.24,588.83 415.40,588.45 415.56,587.31 415.72,589.72 415.88,587.33 416.04,586.36 416.20,589.08 416.36,587.46 416.52,588.14 416.68,587.75 416.84,586.43 417.00,586.20 417.16,587.45 417.32,589.48 417.48,586.43 417.64,589.42 417.80,587.98 417.96,586.29 418.12,588.04 418.28,588.42 418.44,586.56 418.60,585.00 418.76,588.15 418.92,586.30 419.08,588.26 419.24,585.28 419.40,587.52 419.56,586.68 419.72,585.83 419.88,587.39 420.04,587.92 420.20,587.00 420.36,586.21 420.52,587.97 420.68,585.49 420.84,588.38 421.00,588.32 421.16,589.82 421.32,588.82 421.48,588.15 421.64,588.03 421.80,587.73 421.96,586.02 422.12,589.55 422.28,588.37 422.44,587.34 422.60,586.25 422.76,589.58 422.92,588.37 423.08,586.20" fill="none" stroke="#111" stroke-width="0.95" stroke-linejoin="round"/>
<text x="0" y="0" font-size="10.3" text-anchor="middle" transform="translate(126.71,488.75) rotate(-90)">307</text>
<text x="0" y="0" font-size="10.3" text-anchor="middle" transform="translate(134.21,510.25) rotate(-90)">325</text>
<text x="0" y="0" font-size="10.3" text-anchor="middle" transform="translate(144.21,527.25) rotate(-90)">432</text>
<text x="0" y="0" font-size="10.3" text-anchor="middle" transform="translate(151.21,561.50) rotate(-90)">673</text>
<text x="0" y="0" font-size="10.3" text-anchor="middle" transform="translate(163.21,566.75) rotate(-90)">715</text>
<text x="0" y="0" font-size="10.3" text-anchor="middle" transform="translate(175.91,358.15) rotate(-90)">896</text>
<text x="0" y="0" font-size="10.3" text-anchor="middle" transform="translate(186.51,563.15) rotate(-90)">1032</text>
<text x="0" y="0" font-size="10.3" text-anchor="middle" transform="translate(193.21,535.15) rotate(-90)">1065</text>
<text x="0" y="0" font-size="10.3" text-anchor="middle" transform="translate(195.91,563.70) rotate(-90)">1089</text>
<text x="0" y="0" font-size="10.3" text-anchor="middle" transform="translate(389.21,565.90) rotate(-90)">3508</text>
<line x1="129.9" y1="518.8" x2="127" y2="530" stroke="#222" stroke-width="0.8"/>
<line x1="182.5" y1="573.2" x2="184.2" y2="583.5" stroke="#222" stroke-width="0.8"/>
<line x1="188.9" y1="545.3" x2="185.8" y2="582.8" stroke="#222" stroke-width="0.8"/>
<line x1="191.6" y1="574.2" x2="188.3" y2="583.5" stroke="#222" stroke-width="0.8"/>
<line x1="104.8" y1="632.7" x2="104.8" y2="900.2" stroke="#111" stroke-width="1.35"/>
<line x1="104.8" y1="900.2" x2="428.8" y2="900.2" stroke="#111" stroke-width="1.35"/>
<line x1="104.80" y1="900.2" x2="104.80" y2="909.2" stroke="#111" stroke-width="1.35"/>
<text x="104.80" y="923.7" font-size="10.5" text-anchor="middle" transform="translate(104.80,0) scale(1.12,1) translate(-104.80,0)">0</text>
<line x1="145.30" y1="900.2" x2="145.30" y2="905.2" stroke="#111" stroke-width="1.35"/>
<line x1="185.80" y1="900.2" x2="185.80" y2="909.2" stroke="#111" stroke-width="1.35"/>
<text x="185.80" y="923.7" font-size="10.5" text-anchor="middle" transform="translate(185.80,0) scale(1.12,1) translate(-185.80,0)">1000</text>
<line x1="226.30" y1="900.2" x2="226.30" y2="905.2" stroke="#111" stroke-width="1.35"/>
<line x1="266.80" y1="900.2" x2="266.80" y2="909.2" stroke="#111" stroke-width="1.35"/>
<text x="266.80" y="923.7" font-size="10.5" text-anchor="middle" transform="translate(266.80,0) scale(1.12,1) translate(-266.80,0)">2000</text>
<line x1="307.30" y1="900.2" x2="307.30" y2="905.2" stroke="#111" stroke-width="1.35"/>
<line x1="347.80" y1="900.2" x2="347.80" y2="909.2" stroke="#111" stroke-width="1.35"/>
<text x="347.80" y="923.7" font-size="10.5" text-anchor="middle" transform="translate(347.80,0) scale(1.12,1) translate(-347.80,0)">3000</text>
<line x1="388.30" y1="900.2" x2="388.30" y2="905.2" stroke="#111" stroke-width="1.35"/>
<line x1="428.80" y1="900.2" x2="428.80" y2="909.2" stroke="#111" stroke-width="1.35"/>
<text x="428.80" y="923.7" font-size="10.5" text-anchor="middle" transform="translate(428.80,0) scale(1.12,1) translate(-428.80,0)">4000</text>
<polyline points="120.60,882.90 122.50,887.70 124.90,897.30 126.00,897.50 126.80,895.40 127.60,885.00 128.30,866.50 128.80,835.00 129.20,821.30 129.70,830.00 130.20,847.30 131.50,858.00 133.10,871.30 134.60,884.00 136.00,892.50 137.00,890.00 137.90,883.80 138.80,860.00 139.30,841.50 140.00,848.00 140.80,861.70 141.70,875.00 142.70,885.80 144.00,892.00 145.60,896.30 145.90,897.32 146.20,898.27 146.50,896.78 146.80,897.11 147.10,896.48 147.40,896.31 147.70,897.63 148.00,899.19 148.30,896.89 148.60,896.70 148.90,897.42 149.20,896.56 149.50,897.37 149.80,897.44 150.10,896.01 150.40,895.97 150.70,896.74 151.00,897.45 151.30,897.02 151.60,897.76 151.90,895.73 152.20,897.18 152.50,896.32 152.80,896.88 153.10,897.05 153.40,896.05 153.70,896.62 154.00,895.90 154.30,888.50 154.60,896.14 154.90,896.42 155.20,896.97 155.50,896.29 155.80,897.69 156.10,896.31 156.40,897.46 156.70,897.02 157.00,896.00 157.30,896.63 157.60,896.15 157.90,896.52 158.20,896.59 158.50,898.21 158.80,896.47 159.10,898.01 159.40,897.12 159.70,895.72 160.00,894.86 160.30,897.03 160.60,894.71 160.90,896.44 161.20,896.21 161.50,895.23 161.80,894.36 162.10,894.12 162.40,894.56 162.70,894.41 163.00,894.67 163.30,895.29 163.60,896.92 163.90,895.87 164.20,896.86 164.50,895.80 164.80,896.20 165.10,895.72 165.40,896.64 165.70,897.33 166.00,897.04 166.30,896.42 166.60,897.27 166.90,896.53 167.20,897.09 167.50,897.01 167.80,897.22 168.10,894.88 168.40,895.79 168.70,897.40 169.00,896.72 169.30,898.54 169.60,896.62 169.90,896.37 170.20,894.00 171.30,888.00 172.30,877.20 172.90,830.00 173.40,793.50 174.20,830.00 175.10,871.60 176.40,780.00 176.85,690.00 177.00,657.10 177.15,690.00 177.70,790.00 179.00,873.80 179.70,862.00 180.30,852.60 180.80,868.00 181.40,891.70 182.50,893.00 184.00,892.80 185.50,889.50 186.80,887.20 188.20,889.50 190.10,891.70 191.20,893.50 192.40,894.00 193.80,896.50 195.70,898.40 196.00,898.75" fill="none" stroke="#111" stroke-width="1.15" stroke-linejoin="round"/>
<polyline points="196.00,898.75 196.16,897.53 196.32,899.28 196.48,897.47 196.64,896.53 196.80,897.75 196.96,895.77 197.12,896.22 197.28,896.08 197.44,896.51 197.60,897.82 197.76,896.17 197.92,897.22 198.08,896.15 198.24,897.95 198.40,893.20 198.56,896.53 198.72,897.02 198.88,895.39 199.04,898.12 199.20,897.08 199.36,898.47 199.52,898.06 199.68,897.64 199.84,896.60 200.00,895.38 200.16,896.51 200.32,896.20 200.48,897.13 200.64,896.19 200.80,900.79 200.96,894.72 201.12,898.33 201.28,896.19 201.44,896.48 201.60,898.01 201.76,896.80 201.92,895.22 202.08,897.34 202.24,896.55 202.40,894.12 202.56,897.06 202.72,895.42 202.88,895.83 203.04,897.43 203.20,897.19 203.36,896.42 203.52,899.63 203.68,897.35 203.84,896.00 204.00,897.11 204.16,896.64 204.32,893.93 204.48,894.75 204.64,894.99 204.80,899.49 204.96,896.56 205.12,896.44 205.28,896.06 205.44,898.08 205.60,896.84 205.76,899.02 205.92,897.83 206.08,898.94 206.24,896.65 206.40,897.29 206.56,896.24 206.72,896.58 206.88,894.55 207.04,896.04 207.20,895.56 207.36,895.95 207.52,898.38 207.68,897.14 207.84,898.40 208.00,897.92 208.16,898.00 208.32,898.11 208.48,896.01 208.64,897.84 208.80,896.38 208.96,896.11 209.12,898.36 209.28,899.62 209.44,895.53 209.60,899.06 209.76,897.88 209.92,895.70 210.08,897.16 210.24,897.28 210.40,897.29 210.56,896.34 210.72,895.13 210.88,896.84 211.04,897.92 211.20,897.82 211.36,897.66 211.52,898.23 211.68,895.51 211.84,896.75 212.00,897.24 212.16,898.10 212.32,897.00 212.48,897.47 212.64,896.97 212.80,899.53 212.96,893.96 213.12,896.77 213.28,900.02 213.44,897.11 213.60,894.42 213.76,896.97 213.92,894.94 214.08,895.92 214.24,897.09 214.40,899.03 214.56,897.40 214.72,897.67 214.88,898.12 215.04,897.06 215.20,895.69 215.36,896.67 215.52,897.24 215.68,896.44 215.84,895.93 216.00,896.33 216.16,894.85 216.32,895.47 216.48,896.68 216.64,896.33 216.80,896.85 216.96,898.62 217.12,897.19 217.28,896.76 217.44,895.27 217.60,895.40 217.76,897.29 217.92,895.67 218.08,897.36 218.24,895.40 218.40,896.97 218.56,896.71 218.72,898.09 218.88,896.29 219.04,896.32 219.20,897.12 219.36,896.87 219.52,899.00 219.68,896.47 219.84,896.10 220.00,896.39 220.16,897.42 220.32,897.10 220.48,897.70 220.64,895.00 220.80,900.02 220.96,899.19 221.12,896.76 221.28,895.23 221.44,897.00 221.60,897.34 221.76,893.90 221.92,896.82 222.08,894.88 222.24,897.40 222.40,898.60 222.56,898.14 222.72,894.84 222.88,898.59 223.04,897.98 223.20,896.33 223.36,897.45 223.52,898.77 223.68,896.37 223.84,896.78 224.00,896.07 224.16,898.30 224.32,894.00 224.48,898.64 224.64,895.54 224.80,898.00 224.96,894.69 225.12,895.58 225.28,896.02 225.44,897.88 225.60,894.69 225.76,897.58 225.92,895.97 226.08,898.41 226.24,896.40 226.40,897.43 226.56,896.58 226.72,899.13 226.88,896.33 227.04,896.77 227.20,899.38 227.36,896.90 227.52,897.69 227.68,895.84 227.84,897.06 228.00,893.85 228.16,896.94 228.32,895.96 228.48,894.85 228.64,894.96 228.80,898.28 228.96,897.35 229.12,894.83 229.28,899.16 229.44,895.90 229.60,896.32 229.76,897.12 229.92,895.32 230.08,894.70 230.24,895.83 230.40,898.33 230.56,898.04 230.72,894.75 230.88,898.36 231.04,896.84 231.20,897.45 231.36,896.87 231.52,897.34 231.68,895.50 231.84,895.62 232.00,895.89 232.16,896.32 232.32,897.60 232.48,895.22 232.64,898.87 232.80,895.98 232.96,896.04 233.12,897.71 233.28,897.36 233.44,896.36 233.60,895.41 233.76,895.50 233.92,894.72 234.08,898.29 234.24,898.21 234.40,899.23 234.56,897.45 234.72,897.23 234.88,897.78 235.04,898.04 235.20,896.46 235.36,897.26 235.52,899.60 235.68,894.60 235.84,894.97 236.00,895.55 236.16,897.78 236.32,898.34 236.48,896.36 236.64,897.67 236.80,896.74 236.96,897.19 237.12,896.10 237.28,896.76 237.44,896.79 237.60,898.27 237.76,899.70 237.92,894.44 238.08,897.49 238.24,896.79 238.40,898.06 238.56,898.18 238.72,897.81 238.88,897.85 239.04,895.57 239.20,894.58 239.36,898.97 239.52,898.37 239.68,895.56 239.84,898.48 240.00,897.67 240.16,893.61 240.32,897.97 240.48,895.52 240.64,898.32 240.80,895.91 240.96,895.83 241.12,894.79 241.28,896.52 241.44,898.12 241.60,895.93 241.76,894.38 241.92,899.59 242.08,899.20 242.24,897.70 242.40,896.10 242.56,895.22 242.72,894.67 242.88,897.53 243.04,898.49 243.20,895.42 243.36,896.80 243.52,896.44 243.68,896.47 243.84,897.45 244.00,899.52 244.16,895.97 244.32,897.91 244.48,898.22 244.64,896.43 244.80,896.61 244.96,895.05 245.12,898.20 245.28,896.11 245.44,895.95 245.60,896.89 245.76,895.68 245.92,895.44 246.08,896.41 246.24,898.73 246.40,896.53 246.56,897.49 246.72,894.89 246.88,894.27 247.04,899.17 247.20,896.28 247.36,894.80 247.52,888.00 247.68,888.00 247.84,894.55 248.00,895.65 248.16,897.14 248.32,895.60 248.48,897.84 248.64,898.05 248.80,897.38 248.96,896.24 249.12,896.74 249.28,895.98 249.44,896.63 249.60,897.21 249.76,896.41 249.92,898.07 250.08,900.18 250.24,896.09 250.40,897.25 250.56,897.87 250.72,897.64 250.88,896.49 251.04,896.18 251.20,898.11 251.36,897.61 251.52,897.46 251.68,895.75 251.84,897.62 252.00,897.84 252.16,896.56 252.32,897.64 252.48,899.63 252.64,894.35 252.80,897.59 252.96,895.27 253.12,895.02 253.28,896.49 253.44,897.51 253.60,896.87 253.76,895.28 253.92,894.92 254.08,896.07 254.24,896.82 254.40,895.72 254.56,894.84 254.72,899.09 254.88,895.71 255.04,896.60 255.20,896.08 255.36,896.04 255.52,896.85 255.68,896.41 255.84,897.61 256.00,895.25 256.16,894.86 256.32,899.35 256.48,896.70 256.64,897.80 256.80,898.34 256.96,897.52 257.12,896.85 257.28,894.77 257.44,894.71 257.60,898.08 257.76,897.68 257.92,897.54 258.08,894.63 258.24,894.01 258.40,895.42 258.56,895.26 258.72,897.01 258.88,895.46 259.04,898.87 259.20,895.99 259.36,896.07 259.52,897.93 259.68,897.23 259.84,895.62 260.00,897.87 260.16,899.32 260.32,895.19 260.48,896.47 260.64,895.39 260.80,894.26 260.96,897.62 261.12,897.71 261.28,898.08 261.44,897.36 261.60,894.16 261.76,896.76 261.92,895.92 262.08,895.26 262.24,895.35 262.40,897.80 262.56,896.41 262.72,899.38 262.88,897.42 263.04,894.30 263.20,897.97 263.36,898.44 263.52,896.84 263.68,895.21 263.84,899.12 264.00,895.08 264.16,896.69 264.32,894.30 264.48,895.15 264.64,894.57 264.80,898.23 264.96,898.35 265.12,896.27 265.28,895.02 265.44,896.72 265.60,897.30 265.76,894.79 265.92,895.28 266.08,896.67 266.24,897.72 266.40,896.90 266.56,897.39 266.72,895.16 266.88,893.53 267.04,897.21 267.20,895.59 267.36,896.64 267.52,896.30 267.68,897.43 267.84,895.78 268.00,898.70 268.16,896.84 268.32,897.50 268.48,897.63 268.64,898.17 268.80,897.33 268.96,894.49 269.12,895.97 269.28,899.25 269.44,897.42 269.60,897.54 269.76,897.42 269.92,895.95 270.08,895.91 270.24,895.95 270.40,898.33 270.56,897.28 270.72,899.15 270.88,897.46 271.04,899.30 271.20,897.40 271.36,895.24 271.52,899.10 271.68,897.25 271.84,898.37 272.00,897.08 272.16,896.37 272.32,897.02 272.48,895.32 272.64,895.22 272.80,895.62 272.96,896.11 273.12,895.01 273.28,896.66 273.44,897.20 273.60,899.48 273.76,899.24 273.92,896.73 274.08,897.97 274.24,896.51 274.40,897.32 274.56,896.76 274.72,896.08 274.88,896.90 275.04,894.84 275.20,897.38 275.36,896.42 275.52,895.36 275.68,896.32 275.84,897.53 276.00,895.90 276.16,897.43 276.32,897.56 276.48,898.87 276.64,895.36 276.80,896.65 276.96,897.48 277.12,898.79 277.28,897.15 277.44,897.80 277.60,894.85 277.76,896.02 277.92,899.01 278.08,896.42 278.24,899.68 278.40,895.83 278.56,896.43 278.72,894.68 278.88,897.65 279.04,897.15 279.20,899.49 279.36,897.02 279.52,896.47 279.68,894.93 279.84,896.69 280.00,898.06 280.16,897.79 280.32,898.44 280.48,897.95 280.64,896.74 280.80,897.61 280.96,897.03 281.12,895.02 281.28,899.08 281.44,897.30 281.60,895.40 281.76,897.31 281.92,897.18 282.08,898.13 282.24,898.73 282.40,892.74 282.56,897.54 282.72,898.84 282.88,895.53 283.04,894.32 283.20,897.17 283.36,897.25 283.52,897.27 283.68,895.32 283.84,896.18 284.00,897.06 284.16,897.80 284.32,899.73 284.48,897.19 284.64,895.99 284.80,893.65 284.96,898.24 285.12,896.62 285.28,896.65 285.44,895.48 285.60,897.78 285.76,894.40 285.92,896.94 286.08,896.96 286.24,897.20 286.40,898.55 286.56,896.67 286.72,896.93 286.88,897.95 287.04,894.72 287.20,896.41 287.36,896.89 287.52,898.08 287.68,895.73 287.84,897.88 288.00,897.31 288.16,894.81 288.32,894.82 288.48,894.88 288.64,896.99 288.80,897.08 288.96,897.77 289.12,897.90 289.28,896.06 289.44,898.23 289.60,897.90 289.76,897.43 289.92,897.44 290.08,895.08 290.24,897.28 290.40,895.41 290.56,895.20 290.72,896.33 290.88,896.99 291.04,896.73 291.20,896.36 291.36,895.46 291.52,897.05 291.68,895.81 291.84,894.91 292.00,896.93 292.16,898.75 292.32,896.26 292.48,895.37 292.64,898.66 292.80,899.10 292.96,896.41 293.12,896.52 293.28,897.08 293.44,900.76 293.60,896.98 293.76,898.14 293.92,897.40 294.08,894.36 294.24,895.32 294.40,895.14 294.56,897.38 294.72,896.94 294.88,899.21 295.04,896.44 295.20,897.21 295.36,896.90 295.52,896.99 295.68,899.91 295.84,897.18 296.00,898.78 296.16,898.54 296.32,895.98 296.48,897.72 296.64,896.29 296.80,896.95 296.96,897.01 297.12,896.83 297.28,896.17 297.44,898.89 297.60,896.44 297.76,897.75 297.92,899.06 298.08,897.64 298.24,898.18 298.40,898.67 298.56,898.26 298.72,899.11 298.88,894.88 299.04,899.44 299.20,896.84 299.36,894.45 299.52,895.94 299.68,894.92 299.84,896.77 300.00,894.79 300.16,895.45 300.32,897.20 300.48,897.01 300.64,895.73 300.80,896.48 300.96,896.67 301.12,896.90 301.28,896.79 301.44,896.50 301.60,897.98 301.76,894.64 301.92,896.13 302.08,896.98 302.24,896.26 302.40,896.06 302.56,896.21 302.72,897.08 302.88,898.48 303.04,896.55 303.20,896.44 303.36,897.28 303.52,896.47 303.68,894.19 303.84,897.16 304.00,896.29 304.16,896.03 304.32,897.65 304.48,896.86 304.64,896.04 304.80,893.86 304.96,894.48 305.12,896.82 305.28,896.64 305.44,897.39 305.60,897.10 305.76,896.15 305.92,895.09 306.08,895.32 306.24,896.61 306.40,895.25 306.56,897.82 306.72,895.01 306.88,894.38 307.04,896.54 307.20,894.40 307.36,899.00 307.52,895.46 307.68,896.73 307.84,896.47 308.00,895.69 308.16,894.41 308.32,894.29 308.48,897.97 308.64,898.18 308.80,899.72 308.96,894.83 309.12,897.56 309.28,896.78 309.44,897.94 309.60,896.11 309.76,897.77 309.92,898.01 310.08,897.62 310.24,898.75 310.40,896.56 310.56,898.88 310.72,895.85 310.88,899.05 311.04,893.09 311.20,896.82 311.36,895.72 311.52,896.80 311.68,898.19 311.84,897.77 312.00,896.93 312.16,899.10 312.32,894.81 312.48,895.70 312.64,898.84 312.80,897.24 312.96,894.00 313.12,897.26 313.28,895.20 313.44,898.79 313.60,898.34 313.76,896.06 313.92,898.55 314.08,895.67 314.24,898.04 314.40,897.58 314.56,896.63 314.72,894.88 314.88,896.42 315.04,893.71 315.20,896.04 315.36,894.30 315.52,898.44 315.68,895.49 315.84,893.52 316.00,897.59 316.16,897.30 316.32,896.11 316.48,899.66 316.64,897.84 316.80,896.89 316.96,895.93 317.12,892.81 317.28,897.45 317.44,898.09 317.60,896.00 317.76,894.89 317.92,896.74 318.08,894.54 318.24,896.81 318.40,897.84 318.56,898.84 318.72,897.16 318.88,897.06 319.04,897.81 319.20,898.69 319.36,896.37 319.52,895.14 319.68,895.73 319.84,895.10 320.00,895.60 320.16,896.63 320.32,897.26 320.48,897.01 320.64,896.89 320.80,896.31 320.96,897.37 321.12,897.99 321.28,897.82 321.44,898.82 321.60,896.40 321.76,896.45 321.92,899.08 322.08,897.07 322.24,897.35 322.40,896.34 322.56,898.10 322.72,896.25 322.88,895.43 323.04,896.71 323.20,896.20 323.36,897.92 323.52,896.28 323.68,896.96 323.84,896.50 324.00,897.25 324.16,895.94 324.32,898.28 324.48,894.87 324.64,896.27 324.80,895.83 324.96,897.66 325.12,896.84 325.28,897.44 325.44,896.34 325.60,895.82 325.76,895.28 325.92,896.34 326.08,896.06 326.24,897.17 326.40,897.27 326.56,898.11 326.72,896.64 326.88,895.78 327.04,895.35 327.20,896.87 327.36,897.27 327.52,899.41 327.68,897.03 327.84,899.16 328.00,899.31 328.16,895.37 328.32,898.42 328.48,898.32 328.64,898.60 328.80,896.77 328.96,898.07 329.12,896.13 329.28,896.68 329.44,896.80 329.60,899.18 329.76,896.49 329.92,898.06 330.08,896.86 330.24,895.82 330.40,897.10 330.56,897.66 330.72,895.81 330.88,897.63 331.04,895.81 331.20,895.59 331.36,897.07 331.52,896.45 331.68,895.44 331.84,894.57 332.00,896.80 332.16,897.09 332.32,896.14 332.48,897.02 332.64,894.70 332.80,897.29 332.96,897.32 333.12,897.13 333.28,895.93 333.44,896.86 333.60,896.93 333.76,898.20 333.92,897.13 334.08,897.09 334.24,895.77 334.40,897.91 334.56,898.33 334.72,896.08 334.88,897.61 335.04,897.16 335.20,896.68 335.36,895.00 335.52,899.11 335.68,894.22 335.84,897.14 336.00,896.23 336.16,898.28 336.32,896.16 336.48,896.78 336.64,897.55 336.80,897.34 336.96,896.02 337.12,897.64 337.28,897.25 337.44,898.05 337.60,896.03 337.76,896.65 337.92,896.18 338.08,895.58 338.24,897.05 338.40,897.26 338.56,898.62 338.72,896.26 338.88,897.22 339.04,898.24 339.20,896.54 339.36,896.78 339.52,896.87 339.68,895.76 339.84,895.35 340.00,898.18 340.16,896.91 340.32,896.57 340.48,895.00 340.64,896.83 340.80,898.25 340.96,895.12 341.12,895.46 341.28,898.15 341.44,898.58 341.60,898.74 341.76,895.90 341.92,897.45 342.08,895.63 342.24,897.34 342.40,896.14 342.56,896.89 342.72,898.43 342.88,897.08 343.04,896.30 343.20,896.69 343.36,896.97 343.52,895.92 343.68,896.88 343.84,897.40 344.00,898.69 344.16,893.82 344.32,894.99 344.48,894.92 344.64,897.75 344.80,899.85 344.96,896.83 345.12,896.73 345.28,898.09 345.44,893.28 345.60,896.31 345.76,892.36 345.92,896.75 346.08,895.85 346.24,895.88 346.40,896.98 346.56,895.73 346.72,898.00 346.88,896.50 347.04,897.01 347.20,899.90 347.36,895.89 347.52,897.72 347.68,895.37 347.84,898.14 348.00,897.76 348.16,896.64 348.32,897.78 348.48,898.60 348.64,898.28 348.80,896.43 348.96,896.35 349.12,897.90 349.28,894.44 349.44,895.59 349.60,897.04 349.76,897.15 349.92,898.87 350.08,898.73 350.24,896.80 350.40,896.95 350.56,894.58 350.72,896.09 350.88,896.68 351.04,896.02 351.20,896.39 351.36,897.12 351.52,895.02 351.68,895.53 351.84,893.90 352.00,897.80 352.16,894.85 352.32,893.98 352.48,897.27 352.64,895.95 352.80,897.52 352.96,895.72 353.12,899.04 353.28,897.15 353.44,896.39 353.60,896.33 353.76,895.89 353.92,897.23 354.08,898.81 354.24,895.57 354.40,894.67 354.56,896.91 354.72,897.53 354.88,894.10 355.04,895.15 355.20,894.74 355.36,896.81 355.52,896.72 355.68,895.05 355.84,894.52 356.00,896.92 356.16,893.25 356.32,896.84 356.48,895.77 356.64,898.52 356.80,897.27 356.96,895.16 357.12,895.56 357.28,895.54 357.44,894.93 357.60,895.99 357.76,897.15 357.92,893.85 358.08,895.54 358.24,897.82 358.40,896.80 358.56,894.72 358.72,894.71 358.88,894.64 359.04,893.62 359.20,897.28 359.36,895.82 359.52,894.79 359.68,893.79 359.84,895.18 360.00,894.99 360.16,897.95 360.32,895.03 360.48,895.78 360.64,897.04 360.80,896.48 360.96,895.34 361.12,892.66 361.28,897.41 361.44,896.33 361.60,894.94 361.76,895.38 361.92,894.21 362.08,894.27 362.24,893.48 362.40,896.10 362.56,896.11 362.72,895.63 362.88,896.42 363.04,896.08 363.20,895.51 363.36,894.16 363.52,896.10 363.68,896.87 363.84,896.12 364.00,896.92 364.16,894.62 364.32,893.93 364.48,896.87 364.64,894.42 364.80,895.50 364.96,894.91 365.12,895.17 365.28,894.76 365.44,894.39 365.60,892.72 365.76,897.59 365.92,895.32 366.08,892.48 366.24,893.81 366.40,893.50 366.56,893.99 366.72,891.58 366.88,895.70 367.04,897.09 367.20,894.58 367.36,895.87 367.52,895.66 367.68,893.20 367.84,896.44 368.00,892.58 368.16,894.03 368.32,894.29 368.48,896.41 368.64,894.89 368.80,894.55 368.96,893.63 369.12,894.79 369.28,894.71 369.44,895.60 369.60,896.46 369.76,895.57 369.92,894.60 370.08,894.36 370.24,896.66 370.40,894.79 370.56,894.48 370.72,896.86 370.88,896.54 371.04,895.20 371.20,894.29 371.36,893.57 371.52,895.80 371.68,893.77 371.84,895.62 372.00,893.30 372.16,894.45 372.32,894.83 372.48,894.47 372.64,894.57 372.80,894.75 372.96,892.74 373.12,892.74 373.28,893.99 373.44,896.55 373.60,893.99 373.76,892.91 373.92,893.24 374.08,894.14 374.24,895.64 374.40,893.31 374.56,894.78 374.72,894.27 374.88,893.54 375.04,892.75 375.20,893.77 375.36,893.00 375.52,894.65 375.68,891.60 375.84,895.40 376.00,894.89 376.16,894.64 376.32,895.83 376.48,894.64 376.64,891.57 376.80,893.88 376.96,894.39 377.12,892.88 377.28,892.27 377.44,894.32 377.60,894.41 377.76,893.16 377.92,893.38 378.08,893.02 378.24,892.93 378.40,893.58 378.56,895.06 378.72,891.51 378.88,893.17 379.04,895.73 379.20,894.01 379.36,893.78 379.52,894.66 379.68,892.23 379.84,891.94 380.00,891.34 380.16,891.59 380.32,893.83 380.48,894.61 380.64,892.93 380.80,892.57 380.96,893.99 381.12,894.25 381.28,893.77 381.44,890.92 381.60,892.69 381.76,890.07 381.92,893.71 382.08,892.26 382.24,892.51 382.40,895.34 382.56,895.09 382.72,893.98 382.88,893.70 383.04,893.56 383.20,892.55 383.36,893.25 383.52,895.82 383.68,892.15 383.84,892.42 384.00,893.50 384.16,894.45 384.32,894.37 384.48,892.00 384.64,893.09 384.80,892.91 384.96,891.63 385.12,893.35 385.28,892.61 385.44,894.44 385.60,893.80 385.76,892.20 385.92,893.33 386.08,892.75 386.24,892.38 386.40,892.57 386.56,894.61 386.72,892.67 386.88,890.96 387.04,892.19 387.20,894.26 387.36,896.03 387.52,891.82 387.68,892.73 387.84,892.77 388.00,891.35 388.16,893.73 388.32,893.13 388.48,893.57 388.64,896.14 388.80,892.85 388.96,894.25 389.12,894.30 389.28,892.37 389.44,892.43 389.60,895.26 389.76,894.16 389.92,893.41 390.08,891.79 390.24,894.39 390.40,893.92 390.56,896.12 390.72,895.17 390.88,894.30 391.04,893.60 391.20,893.34 391.36,892.54 391.52,893.67 391.68,893.59 391.84,894.13 392.00,894.71 392.16,893.70 392.32,892.59 392.48,894.37 392.64,895.35 392.80,892.23 392.96,893.88 393.12,894.06 393.28,894.05 393.44,894.02 393.60,893.24 393.76,893.24 393.92,895.60 394.08,895.67 394.24,891.56 394.40,890.08 394.56,894.00 394.72,892.55 394.88,892.77 395.04,891.36 395.20,893.93 395.36,893.41 395.52,892.78 395.68,894.68 395.84,896.70 396.00,895.46 396.16,895.08 396.32,893.01 396.48,894.43 396.64,893.53 396.80,895.11 396.96,894.37 397.12,893.57 397.28,894.36 397.44,892.70 397.60,894.70 397.76,895.65 397.92,893.21 398.08,894.43 398.24,891.53 398.40,894.96 398.56,894.90 398.72,892.42 398.88,896.07 399.04,893.94 399.20,891.54 399.36,892.03 399.52,894.99 399.68,893.50 399.84,895.32 400.00,891.86 400.16,893.78 400.32,895.21 400.48,893.05 400.64,894.85 400.80,893.50 400.96,894.44 401.12,894.43 401.28,896.96 401.44,892.42 401.60,895.08 401.76,895.80 401.92,892.62 402.08,894.22 402.24,897.16 402.40,895.53 402.56,890.28 402.72,893.88 402.88,891.96 403.04,894.62 403.20,893.29 403.36,893.52 403.52,893.18 403.68,894.68 403.84,893.71 404.00,893.15 404.16,894.06 404.32,894.91 404.48,893.27 404.64,895.87 404.80,892.25 404.96,894.98 405.12,893.96 405.28,896.55 405.44,893.66 405.60,893.65 405.76,892.78 405.92,897.17 406.08,895.39 406.24,893.18 406.40,894.18 406.56,893.38 406.72,896.65 406.88,895.22 407.04,892.02 407.20,894.99 407.36,895.93 407.52,894.75 407.68,895.39 407.84,894.64 408.00,895.08 408.16,895.11 408.32,893.92 408.48,895.32 408.64,895.10 408.80,894.85 408.96,894.02 409.12,893.61 409.28,895.28 409.44,896.06 409.60,891.82 409.76,894.31 409.92,896.81 410.08,896.25 410.24,894.13 410.40,896.86 410.56,893.81 410.72,894.09 410.88,897.69 411.04,894.59 411.20,894.89 411.36,893.03 411.52,893.89 411.68,893.69 411.84,895.07 412.00,892.86 412.16,896.68 412.32,894.83 412.48,894.52 412.64,894.50 412.80,896.33 412.96,897.38 413.12,894.85 413.28,897.52 413.44,897.53 413.60,897.20 413.76,895.84 413.92,893.51 414.08,896.37 414.24,894.96 414.40,895.77 414.56,893.06 414.72,895.18 414.88,895.87 415.04,894.35 415.20,895.98 415.36,897.81 415.52,895.93 415.68,894.74 415.84,898.79 416.00,892.84 416.16,894.48 416.32,896.24 416.48,894.94 416.64,892.72 416.80,896.09 416.96,896.85 417.12,894.73 417.28,897.71 417.44,896.46 417.60,897.38 417.76,893.82 417.92,895.84 418.08,897.96 418.24,898.52 418.40,897.62 418.56,895.90 418.72,896.15 418.88,895.10 419.04,897.38 419.20,895.03 419.36,896.12 419.52,893.26 419.68,894.01 419.84,898.34 420.00,896.09 420.16,896.30 420.32,893.14 420.48,896.00 420.64,898.78 420.80,894.10 420.96,892.95 421.12,895.88 421.28,895.40 421.44,895.83 421.60,894.47 421.76,894.35 421.92,894.52 422.08,897.00 422.24,896.10 422.40,897.26 422.56,894.76 422.72,896.97 422.88,895.62 423.04,896.33 423.20,897.45 423.36,896.28 423.52,895.78 423.68,894.06 423.84,896.35 424.00,897.30 424.16,895.45 424.32,896.20 424.48,893.96 424.64,894.54 424.80,896.85 424.96,898.03 425.12,895.92 425.28,894.13 425.44,895.85 425.60,894.29 425.76,896.00 425.92,898.92 426.08,896.77 426.24,896.18 426.40,897.76 426.56,895.90 426.72,896.85 426.88,896.68 427.04,897.01 427.20,894.49 427.36,897.38 427.52,897.61 427.68,893.43 427.84,892.87 428.00,895.28 428.16,898.44 428.32,896.50 428.48,897.38" fill="none" stroke="#111" stroke-width="0.95" stroke-linejoin="round"/>
<text x="0" y="0" font-size="10.3" text-anchor="middle" transform="translate(130.01,796.60) rotate(-90)">304</text>
<text x="0" y="0" font-size="10.3" text-anchor="middle" transform="translate(136.81,815.60) rotate(-90)">324</text>
<text x="0" y="0" font-size="10.3" text-anchor="middle" transform="translate(146.41,829.00) rotate(-90)">430</text>
<text x="0" y="0" font-size="10.3" text-anchor="middle" transform="translate(166.11,881.90) rotate(-90)">711</text>
<text x="0" y="0" font-size="10.3" text-anchor="middle" transform="translate(173.21,778.40) rotate(-90)">854</text>
<text x="0" y="0" font-size="10.3" text-anchor="middle" transform="translate(180.91,645.05) rotate(-90)">898</text>
<text x="0" y="0" font-size="10.3" text-anchor="middle" transform="translate(186.61,833.35) rotate(-90)">934</text>
<text x="0" y="0" font-size="10.3" text-anchor="middle" transform="translate(192.21,864.05) rotate(-90)">1026</text>
<text x="0" y="0" font-size="10.3" text-anchor="middle" transform="translate(199.41,874.70) rotate(-90)">1091</text>
<text x="0" y="0" font-size="10.3" text-anchor="middle" transform="translate(391.71,871.85) rotate(-90)">3505</text>
<line x1="126.8" y1="804.8" x2="128.3" y2="821.3" stroke="#222" stroke-width="0.8"/>
<line x1="132.6" y1="823.6" x2="130.7" y2="843.5" stroke="#222" stroke-width="0.8"/>
<line x1="162" y1="889.3" x2="162" y2="894" stroke="#222" stroke-width="0.8"/>
<line x1="186.2" y1="874" x2="186.4" y2="887.2" stroke="#222" stroke-width="0.8"/>
<line x1="194" y1="884.6" x2="192.4" y2="892.8" stroke="#222" stroke-width="0.8"/>
<line x1="107.2" y1="980.9" x2="107.2" y2="1248.4" stroke="#111" stroke-width="1.35"/>
<line x1="95.8" y1="1248.4" x2="429.6" y2="1248.4" stroke="#111" stroke-width="1.35"/>
<line x1="107.20" y1="1248.4" x2="107.20" y2="1257.4" stroke="#111" stroke-width="1.35"/>
<text x="107.20" y="1272.2" font-size="10.5" text-anchor="middle" transform="translate(107.20,0) scale(1.12,1) translate(-107.20,0)">0</text>
<line x1="147.50" y1="1248.4" x2="147.50" y2="1253.4" stroke="#111" stroke-width="1.35"/>
<line x1="187.80" y1="1248.4" x2="187.80" y2="1257.4" stroke="#111" stroke-width="1.35"/>
<text x="187.80" y="1272.2" font-size="10.5" text-anchor="middle" transform="translate(187.80,0) scale(1.12,1) translate(-187.80,0)">1000</text>
<line x1="228.10" y1="1248.4" x2="228.10" y2="1253.4" stroke="#111" stroke-width="1.35"/>
<line x1="268.40" y1="1248.4" x2="268.40" y2="1257.4" stroke="#111" stroke-width="1.35"/>
<text x="268.40" y="1272.2" font-size="10.5" text-anchor="middle" transform="translate(268.40,0) scale(1.12,1) translate(-268.40,0)">2000</text>
<line x1="308.70" y1="1248.4" x2="308.70" y2="1253.4" stroke="#111" stroke-width="1.35"/>
<line x1="349.00" y1="1248.4" x2="349.00" y2="1257.4" stroke="#111" stroke-width="1.35"/>
<text x="349.00" y="1272.2" font-size="10.5" text-anchor="middle" transform="translate(349.00,0) scale(1.12,1) translate(-349.00,0)">3000</text>
<line x1="389.30" y1="1248.4" x2="389.30" y2="1253.4" stroke="#111" stroke-width="1.35"/>
<line x1="429.60" y1="1248.4" x2="429.60" y2="1257.4" stroke="#111" stroke-width="1.35"/>
<text x="429.60" y="1272.2" font-size="10.5" text-anchor="middle" transform="translate(429.60,0) scale(1.12,1) translate(-429.60,0)">4000</text>
<polyline points="123.30,1245.70 125.20,1250.10 126.50,1242.50 127.80,1236.10 129.10,1237.40 130.30,1217.00 131.10,1180.00 131.60,1153.50 132.20,1110.30 132.80,1140.00 133.50,1165.00 134.40,1185.00 135.40,1204.40 136.30,1222.00 137.30,1236.10 139.00,1245.70 140.50,1236.10 141.80,1225.30 143.30,1240.00 144.90,1248.80 148.10,1247.60 151.90,1245.00 155.70,1243.70 159.00,1243.20 162.10,1242.50 164.60,1238.70 165.30,1238.70 166.50,1246.30 167.50,1247.00 169.10,1248.20 170.50,1249.50 171.70,1245.00 172.80,1232.70 174.00,1200.00 175.00,1165.10 176.00,1140.00 176.80,1129.10 177.50,1150.00 178.30,1181.60 179.00,1120.00 179.60,1040.00 180.00,1017.80 180.40,1040.00 181.00,1110.00 181.80,1150.00 183.00,1185.00 184.00,1210.20 185.50,1244.70 187.50,1249.50 190.00,1246.20 192.30,1242.40 194.20,1244.00 196.00,1242.40 200.50,1244.70 208.00,1246.20 215.00,1247.00 215.30,1247.02 215.50,1247.15 215.70,1246.55 215.90,1246.57 216.10,1246.95 216.30,1247.04 216.50,1247.03 216.70,1246.93 216.90,1246.61 217.10,1247.23 217.30,1246.99 217.50,1247.22 217.70,1245.80 217.90,1247.20 218.10,1245.84 218.30,1246.88 218.50,1246.54 218.70,1246.85 218.90,1246.61 219.10,1246.68 219.30,1246.88 219.50,1246.94 219.70,1246.49 219.90,1245.80 220.10,1246.49 220.30,1247.01 220.50,1246.47 220.70,1246.97 220.90,1246.65 221.10,1246.43 221.30,1247.26 221.50,1247.45 221.70,1246.76 221.90,1246.78 222.10,1247.18 222.30,1246.28 222.50,1246.46 222.70,1247.25 222.90,1247.16 223.10,1246.61 223.30,1246.49 223.50,1246.94 223.70,1246.24 223.90,1246.60 224.10,1246.71 224.30,1245.83 224.50,1247.03 224.70,1247.10 224.90,1247.22 225.10,1246.23 225.30,1246.29 225.50,1246.48 225.70,1246.28 225.90,1247.61 226.10,1246.41 226.30,1246.68 226.50,1246.88 226.70,1246.98 226.90,1247.37 227.10,1246.37 227.30,1247.15 227.50,1246.86 227.70,1246.34 227.90,1246.86 228.10,1246.24 228.30,1247.44 228.50,1246.51 228.70,1247.20 228.90,1247.32 229.10,1246.55 229.30,1246.44 229.50,1246.85 229.70,1246.38 229.90,1247.16 230.10,1246.87 230.30,1246.50 230.50,1246.53 230.70,1247.09 230.90,1246.22 231.10,1247.47 231.30,1246.49 231.50,1246.72 231.70,1246.43 231.90,1247.45 232.10,1247.13 232.30,1247.32 232.50,1247.06 232.70,1246.84 232.90,1247.47 233.10,1247.06 233.30,1246.97 233.50,1247.03 233.70,1247.09 233.90,1246.91 234.10,1246.73 234.30,1246.17 234.50,1247.62 234.70,1246.28 234.90,1245.94 235.10,1246.52 235.30,1247.57 235.50,1247.29 235.70,1246.56 235.90,1246.91 236.10,1246.79 236.30,1246.01 236.50,1246.67 236.70,1246.92 236.90,1247.27 237.10,1246.32 237.30,1245.90 237.50,1246.17 237.70,1246.93 237.90,1246.83 238.10,1246.86 238.30,1246.86 238.50,1246.65 238.70,1246.26 238.90,1246.98 239.10,1246.95 239.30,1247.03 239.50,1247.30 239.70,1246.31 239.90,1245.87 240.10,1246.09 240.30,1247.65 240.50,1246.43 240.70,1246.96 240.90,1246.79 241.10,1247.09 241.30,1248.08 241.50,1246.59 241.70,1246.73 241.90,1246.56 242.10,1246.90 242.30,1247.01 242.50,1246.41 242.70,1247.33 242.90,1247.26 243.10,1246.98 243.30,1246.76 243.50,1246.71 243.70,1246.14 243.90,1247.06 244.10,1246.41 244.30,1246.60 244.50,1247.20 244.70,1246.43 244.90,1246.59 245.10,1247.14 245.30,1247.54 245.50,1246.52 245.70,1247.24 245.90,1246.54 246.10,1246.96 246.30,1246.99 246.50,1246.34 246.70,1247.21 246.90,1247.52 247.10,1246.82 247.30,1246.91 247.50,1246.33 247.70,1247.52 247.90,1246.83 248.10,1246.29 248.30,1247.11 248.50,1246.22 248.70,1246.53 248.90,1245.95 249.10,1247.35 249.30,1247.68 249.50,1246.55 249.70,1246.54 249.90,1246.57 250.10,1246.57 250.30,1247.02 250.50,1247.38 250.70,1246.40 250.90,1246.98 251.10,1246.08 251.30,1247.41 251.50,1246.76 251.70,1246.52 251.90,1247.41 252.10,1246.76 252.30,1247.35 252.50,1247.23 252.70,1247.46 252.90,1246.48 253.10,1246.82 253.30,1246.95 253.50,1246.72 253.70,1247.41 253.90,1246.51 254.10,1247.20 254.30,1247.35 254.50,1246.02 254.70,1246.41 254.90,1246.44 255.10,1246.58 255.30,1246.96 255.50,1246.73 255.70,1246.83 255.90,1246.62 256.10,1246.77 256.30,1246.99 256.50,1247.10 256.70,1246.49 256.90,1246.75 257.10,1246.50 257.30,1246.73 257.50,1246.23 257.70,1247.18 257.90,1247.07 258.10,1246.75 258.30,1246.53 258.50,1246.62 258.70,1246.53 258.90,1246.18 259.10,1247.45 259.30,1248.12 259.50,1246.31 259.70,1246.33 259.90,1247.03 260.10,1247.04 260.30,1246.17 260.50,1246.03 260.70,1247.02 260.90,1246.00 261.10,1247.37 261.30,1246.60 261.50,1246.83 261.70,1246.80 261.90,1246.58 262.10,1246.74 262.30,1246.68 262.50,1247.30 262.70,1246.76 262.90,1246.79 263.10,1246.59 263.30,1246.55 263.50,1246.51 263.70,1246.80 263.90,1247.53 264.10,1247.25 264.30,1246.89 264.50,1247.47 264.70,1247.21 264.90,1246.88 265.10,1246.73 265.30,1246.36 265.50,1246.90 265.70,1246.67 265.90,1246.17 266.10,1246.29 266.30,1247.57 266.50,1246.89 266.70,1247.00 266.90,1246.88 267.10,1246.61 267.30,1246.98 267.50,1247.23 267.70,1246.68 267.90,1247.00 268.10,1247.21 268.30,1246.61 268.50,1246.87 268.70,1246.50 268.90,1247.04 269.10,1246.65 269.30,1247.26 269.50,1246.49 269.70,1247.48 269.90,1246.68 270.10,1246.46 270.30,1246.44 270.50,1247.07 270.70,1246.46 270.90,1247.52 271.10,1247.31 271.30,1247.01 271.50,1246.23 271.70,1246.79 271.90,1246.51 272.10,1246.08 272.30,1246.97 272.50,1247.68 272.70,1246.59 272.90,1247.12 273.10,1247.31 273.30,1246.42 273.50,1246.66 273.70,1246.91 273.90,1246.99 274.10,1246.34 274.30,1246.89 274.50,1246.76 274.70,1247.18 274.90,1246.16 275.10,1246.57 275.30,1246.60 275.50,1246.67 275.70,1247.09 275.90,1246.55 276.10,1247.90 276.30,1246.52 276.50,1247.14 276.70,1247.21 276.90,1247.19 277.10,1246.72 277.30,1246.47 277.50,1246.70 277.70,1247.07 277.90,1246.85 278.10,1247.03 278.30,1247.03 278.50,1246.45 278.70,1246.43 278.90,1247.38 279.10,1246.61 279.30,1246.17 279.50,1247.54 279.70,1246.47 279.90,1246.43 280.10,1247.19 280.30,1246.35 280.50,1246.45 280.70,1247.22 280.90,1246.47 281.10,1247.80 281.30,1246.84 281.50,1247.87 281.70,1246.85 281.90,1246.82 282.10,1246.54 282.30,1246.71 282.50,1246.60 282.70,1246.79 282.90,1247.11 283.10,1246.29 283.30,1246.43 283.50,1245.96 283.70,1247.40 283.90,1246.77 284.10,1246.79 284.30,1246.78 284.50,1247.20 284.70,1246.93 284.90,1247.14 285.10,1246.73 285.30,1246.75 285.50,1246.78 285.70,1246.06 285.90,1247.24 286.10,1246.17 286.30,1246.40 286.50,1247.07 286.70,1246.82 286.90,1247.13 287.10,1247.48 287.30,1247.54 287.50,1247.35 287.70,1246.71 287.90,1247.62 288.10,1246.45 288.30,1246.77 288.50,1247.20 288.70,1246.71 288.90,1246.75 289.10,1246.66 289.30,1247.35 289.50,1245.81 289.70,1247.31 289.90,1247.22 290.10,1246.77 290.30,1247.02 290.50,1246.41 290.70,1247.24 290.90,1248.02 291.10,1246.43 291.30,1247.36 291.50,1246.78 291.70,1246.66 291.90,1246.61 292.10,1246.72 292.30,1246.30 292.50,1246.26 292.70,1247.46 292.90,1246.79 293.10,1247.02 293.30,1246.92 293.50,1246.99 293.70,1246.19 293.90,1246.42 294.10,1247.05 294.30,1247.20 294.50,1246.34 294.70,1246.57 294.90,1246.37 295.10,1247.06 295.30,1246.94 295.50,1246.81 295.70,1246.54 295.90,1246.94 296.10,1246.81 296.30,1246.50 296.50,1246.93 296.70,1246.53 296.90,1247.18 297.10,1247.05 297.30,1246.52 297.50,1247.03 297.70,1246.83 297.90,1246.52 298.10,1246.43 298.30,1246.13 298.50,1246.35 298.70,1246.94 298.90,1247.28 299.10,1246.55 299.30,1246.86 299.50,1246.94 299.70,1247.11 299.90,1246.98 300.10,1247.29 300.30,1247.11 300.50,1246.50 300.70,1246.96 300.90,1245.86 301.10,1246.73 301.30,1246.81 301.50,1247.03 301.70,1246.68 301.90,1247.13 302.10,1247.33 302.30,1246.46 302.50,1246.58 302.70,1246.90 302.90,1247.00 303.10,1246.86 303.30,1247.13 303.50,1246.33 303.70,1247.11 303.90,1247.27 304.10,1247.24 304.30,1246.97 304.50,1246.70 304.70,1246.96 304.90,1246.77 305.10,1246.17 305.30,1246.56 305.50,1246.78 305.70,1246.59 305.90,1246.43 306.10,1246.71 306.30,1246.65 306.50,1246.83 306.70,1246.78 306.90,1246.87 307.10,1247.20 307.30,1246.85 307.50,1246.96 307.70,1246.31 307.90,1245.62 308.10,1246.64 308.30,1247.07 308.50,1246.66 308.70,1246.55 308.90,1246.30 309.10,1247.16 309.30,1246.59 309.50,1246.90 309.70,1247.25 309.90,1247.01 310.10,1247.70 310.30,1246.75 310.50,1247.18 310.70,1247.08 310.90,1246.54 311.10,1246.82 311.30,1246.57 311.50,1246.39 311.70,1246.92 311.90,1246.49 312.10,1247.47 312.30,1246.50 312.50,1246.58 312.70,1246.84 312.90,1246.59 313.10,1246.82 313.30,1246.56 313.50,1246.23 313.70,1245.83 313.90,1246.28 314.10,1247.41 314.30,1246.98 314.50,1246.86 314.70,1246.61 314.90,1246.74 315.10,1246.92 315.30,1246.24 315.50,1246.48 315.70,1246.44 315.90,1247.30 316.10,1246.38 316.30,1247.27 316.50,1246.61 316.70,1247.89 316.90,1246.77 317.10,1246.81 317.30,1247.34 317.50,1247.15 317.70,1247.18 317.90,1246.37 318.10,1247.25 318.30,1247.47 318.50,1246.76 318.70,1246.61 318.90,1246.36 319.10,1247.21 319.30,1246.92 319.50,1246.80 319.70,1246.31 319.90,1247.45 320.10,1247.15 320.30,1246.79 320.50,1247.39 320.70,1246.42 320.90,1247.15 321.10,1246.40 321.30,1247.36 321.50,1246.69 321.70,1247.29 321.90,1246.63 322.10,1246.96 322.30,1247.26 322.50,1246.44 322.70,1246.84 322.90,1246.46 323.10,1247.14 323.30,1246.56 323.50,1246.65 323.70,1246.72 323.90,1247.27 324.10,1246.38 324.30,1246.79 324.50,1246.67 324.70,1246.58 324.90,1246.49 325.10,1246.74 325.30,1246.88 325.50,1246.18 325.70,1246.89 325.90,1246.33 326.10,1246.81 326.30,1247.71 326.50,1246.41 326.70,1246.77 326.90,1246.70 327.10,1247.19 327.30,1246.61 327.50,1246.09 327.70,1246.16 327.90,1246.87 328.10,1246.90 328.30,1247.23 328.50,1246.59 328.70,1247.07 328.90,1246.37 329.10,1247.32 329.30,1246.77 329.50,1246.53 329.70,1246.87 329.90,1247.50 330.10,1246.46 330.30,1246.30 330.50,1246.39 330.70,1246.34 330.90,1246.78 331.10,1246.94 331.30,1246.73 331.50,1246.88 331.70,1247.27 331.90,1246.68 332.10,1246.30 332.30,1245.89 332.50,1246.90 332.70,1246.53 332.90,1246.70 333.10,1246.96 333.30,1246.99 333.50,1246.17 333.70,1246.42 333.90,1246.83 334.10,1246.74 334.30,1247.26 334.50,1246.60 334.70,1245.97 334.90,1247.27 335.10,1246.15 335.30,1246.41 335.50,1246.96 335.70,1246.38 335.90,1247.80 336.10,1246.90 336.30,1247.01 336.50,1246.63 336.70,1247.69 336.90,1247.02 337.10,1246.51 337.30,1247.30 337.50,1246.12 337.70,1246.57 337.90,1246.92 338.10,1246.86 338.30,1246.42 338.50,1247.43 338.70,1247.39 338.90,1246.43 339.10,1246.95 339.30,1246.55 339.50,1246.63 339.70,1247.19 339.90,1246.85 340.10,1246.76 340.30,1246.84 340.50,1246.33 340.70,1247.29 340.90,1246.50 341.10,1247.32 341.30,1246.62 341.50,1246.62 341.70,1247.39 341.90,1246.88 342.10,1246.54 342.30,1246.59 342.50,1247.04 342.70,1247.55 342.90,1247.05 343.10,1246.64 343.30,1246.35 343.50,1246.53 343.70,1246.75 343.90,1246.90 344.10,1246.54 344.30,1247.31 344.50,1246.42 344.70,1246.51 344.90,1247.00 345.10,1246.99 345.30,1246.64 345.50,1247.18 345.70,1246.24 345.90,1247.45 346.10,1247.67 346.30,1247.58 346.50,1246.85 346.70,1247.59 346.90,1246.82 347.10,1247.33 347.30,1246.72 347.50,1246.88 347.70,1247.01 347.90,1246.10 348.10,1246.72 348.30,1247.49 348.50,1245.63 348.70,1246.95 348.90,1247.17 349.10,1246.93 349.30,1246.88 349.50,1247.35 349.70,1246.93 349.90,1246.04 350.10,1246.42 350.30,1246.68 350.50,1246.86 350.70,1246.62 350.90,1246.76 351.10,1247.47 351.30,1245.63 351.50,1247.26 351.70,1247.17 351.90,1247.04 352.10,1246.81 352.30,1246.83 352.50,1246.95 352.70,1246.90 352.90,1246.51 353.10,1247.11 353.30,1246.47 353.50,1246.78 353.70,1246.66 353.90,1246.34 354.10,1247.04 354.30,1246.77 354.50,1246.33 354.70,1246.77 354.90,1246.25 355.10,1247.37 355.30,1247.01 355.50,1247.59 355.70,1246.57 355.90,1247.08 356.10,1246.41 356.30,1246.46 356.50,1246.76 356.70,1246.96 356.90,1247.17 357.10,1246.69 357.30,1247.24 357.50,1247.19 357.70,1246.45 357.90,1246.73 358.10,1246.43 358.30,1247.48 358.50,1246.58 358.70,1247.15 358.90,1247.16 359.10,1246.70 359.30,1246.61 359.50,1246.94 359.70,1246.49 359.90,1246.30 360.10,1246.41 360.30,1246.94 360.50,1246.88 360.70,1247.50 360.90,1246.07 361.10,1247.00 361.30,1246.34 361.50,1247.26 361.70,1247.08 361.90,1246.85 362.10,1247.39 362.30,1246.65 362.50,1246.59 362.70,1246.38 362.90,1246.54 363.10,1246.85 363.30,1247.07 363.50,1247.31 363.70,1246.69 363.90,1246.51 364.10,1246.67 364.30,1246.63 364.50,1246.61 364.70,1246.64 364.90,1246.45 365.10,1246.78 365.30,1246.60 365.50,1246.73 365.70,1246.25 365.90,1246.86 366.10,1247.03 366.30,1247.06 366.50,1246.58 366.70,1246.35 366.90,1246.28 367.10,1246.33 367.30,1246.54 367.50,1246.68 367.70,1246.10 367.90,1247.07 368.10,1246.19 368.30,1246.53 368.50,1246.51 368.70,1247.13 368.90,1247.53 369.10,1246.66 369.30,1246.69 369.50,1246.64 369.70,1246.72 369.90,1246.73 370.10,1247.78 370.30,1246.37 370.50,1246.76 370.70,1246.49 370.90,1246.94 371.10,1246.59 371.30,1247.03 371.50,1246.37 371.70,1247.64 371.90,1246.88 372.10,1246.10 372.30,1247.08 372.50,1246.61 372.70,1246.34 372.90,1246.97 373.10,1246.60 373.30,1247.09 373.50,1246.58 373.70,1247.16 373.90,1246.86 374.10,1246.94 374.30,1246.86 374.50,1246.66 374.70,1246.66 374.90,1246.98 375.10,1247.08 375.30,1246.64 375.50,1247.68 375.70,1247.47 375.90,1246.35 376.10,1247.23 376.30,1246.77 376.50,1246.89 376.70,1246.49 376.90,1247.45 377.10,1246.47 377.30,1246.77 377.50,1246.51 377.70,1247.56 377.90,1247.30 378.10,1246.28 378.30,1246.62 378.50,1246.94 378.70,1246.63 378.90,1246.66 379.10,1246.38 379.30,1246.90 379.50,1246.37 379.70,1247.13 379.90,1247.75 380.10,1246.67 380.30,1247.45 380.50,1246.95 380.70,1246.54 380.90,1246.66 381.10,1246.42 381.30,1246.85 381.50,1247.08 381.70,1247.17 381.90,1246.69 382.10,1246.33 382.30,1246.77 382.50,1247.46 382.70,1246.91 382.90,1246.78 383.10,1245.98 383.30,1246.63 383.50,1247.01 383.70,1246.43 383.90,1247.33 384.10,1246.58 384.30,1246.46 384.50,1246.57 384.70,1246.76 384.90,1247.19 385.10,1246.58 385.30,1246.10 385.50,1246.77 385.70,1247.01 385.90,1247.41 386.10,1246.36 386.30,1247.38 386.50,1247.07 386.70,1246.98 386.90,1246.50 387.10,1246.45 387.30,1246.42 387.50,1247.17 387.70,1246.89 387.90,1247.22 388.10,1247.52 388.30,1246.81 388.50,1246.78 388.70,1247.55 388.90,1246.29 389.10,1246.63 389.30,1246.65 389.50,1246.65 389.70,1246.86 389.90,1246.47 390.10,1247.26 390.30,1246.27 390.50,1246.48 390.70,1246.14 390.90,1246.25 391.10,1247.03 391.30,1247.05 391.50,1246.72 391.70,1247.13 391.90,1247.04 392.10,1246.57 392.30,1246.79 392.50,1246.94 392.70,1247.59 392.90,1246.63 393.10,1246.95 393.30,1247.01 393.50,1247.28 393.70,1246.97 393.90,1247.22 394.10,1246.38 394.30,1246.70 394.50,1246.04 394.70,1246.78 394.90,1247.72 395.10,1246.90 395.30,1246.84 395.50,1246.91 395.70,1246.86 395.90,1246.28 396.10,1246.53 396.30,1246.73 396.50,1246.87 396.70,1246.46 396.90,1246.76 397.10,1246.52 397.30,1246.28 397.50,1246.54 397.70,1246.48 397.90,1247.13 398.10,1247.33 398.30,1247.03 398.50,1246.72 398.70,1246.58 398.90,1246.18 399.10,1246.60 399.30,1247.42 399.50,1247.25 399.70,1246.89 399.90,1246.71 400.10,1246.80 400.30,1246.97 400.50,1246.80 400.70,1246.97 400.90,1246.50 401.10,1246.82 401.30,1246.66 401.50,1247.22 401.70,1246.31 401.90,1247.31 402.10,1246.77 402.30,1246.61 402.50,1246.81 402.70,1246.85 402.90,1246.71 403.10,1246.97 403.30,1246.57 403.50,1246.14 403.70,1247.07 403.90,1246.79 404.10,1247.45 404.30,1246.95 404.50,1246.01 404.70,1247.29 404.90,1246.53 405.10,1247.02 405.30,1247.67 405.50,1247.23 405.70,1246.37 405.90,1246.77 406.10,1246.17 406.30,1247.06 406.50,1247.02 406.70,1246.40 406.90,1246.98 407.10,1247.17 407.30,1247.12 407.50,1246.54 407.70,1246.53 407.90,1246.37 408.10,1246.29 408.30,1246.93 408.50,1246.82 408.70,1247.31 408.90,1246.91 409.10,1246.68 409.30,1246.24 409.50,1247.40 409.70,1246.86 409.90,1246.79 410.10,1246.41 410.30,1246.39 410.50,1247.05 410.70,1246.42 410.90,1247.03 411.10,1247.05 411.30,1246.65 411.50,1246.17 411.70,1246.96 411.90,1247.35 412.10,1246.48 412.30,1246.31 412.50,1247.23 412.70,1246.86 412.90,1246.56 413.10,1247.28 413.30,1246.69 413.50,1246.98 413.70,1246.64 413.90,1246.51 414.10,1246.89 414.30,1246.47 414.50,1246.10 414.70,1246.59 414.90,1247.28 415.10,1247.23 415.30,1247.65 415.50,1247.19 415.70,1247.43 415.90,1246.90 416.10,1246.63 416.30,1246.98 416.50,1246.43 416.70,1247.09 416.90,1246.62 417.10,1246.90 417.30,1246.47 417.50,1246.75 417.70,1247.18 417.90,1246.72 418.10,1246.54 418.30,1246.91 418.50,1247.15 418.70,1246.73 418.90,1246.34 419.10,1246.20 419.30,1246.27 419.50,1247.22 419.70,1246.77 419.90,1246.99 420.10,1247.22 420.30,1246.91 420.50,1246.99 420.70,1246.61 420.90,1246.17 421.10,1247.05 421.30,1246.76 421.50,1247.03 421.70,1246.38 421.90,1246.75 422.10,1247.59 422.30,1246.48 422.50,1246.84 422.70,1247.31 422.90,1246.71 423.10,1246.85 423.30,1245.96 423.50,1247.10 423.70,1246.63 423.90,1247.30 424.10,1246.76 424.30,1246.66 424.50,1246.97 424.70,1246.71 424.90,1246.60 425.10,1247.40 425.30,1247.19 425.50,1246.85 425.70,1247.12 425.90,1247.12 426.10,1247.03 426.30,1246.82 426.50,1246.83 426.70,1246.96 426.90,1247.02 427.10,1246.94 427.30,1246.58 427.50,1246.78 427.70,1246.98 427.90,1246.43 428.10,1246.80 428.30,1247.10 428.50,1246.87 428.70,1246.70 428.90,1246.79 429.10,1246.62 429.30,1247.19 429.50,1246.66" fill="none" stroke="#111" stroke-width="1.1" stroke-linejoin="round"/>
<text x="0" y="0" font-size="10.3" text-anchor="middle" transform="translate(126.41,1217.70) rotate(-90)">261</text>
<text x="0" y="0" font-size="10.3" text-anchor="middle" transform="translate(134.71,1094.50) rotate(-90)">311</text>
<text x="0" y="0" font-size="10.3" text-anchor="middle" transform="translate(144.21,1145.25) rotate(-90)">330</text>
<text x="0" y="0" font-size="10.3" text-anchor="middle" transform="translate(147.41,1213.85) rotate(-90)">431</text>
<text x="0" y="0" font-size="10.3" text-anchor="middle" transform="translate(167.71,1225.00) rotate(-90)">717</text>
<text x="0" y="0" font-size="10.3" text-anchor="middle" transform="translate(176.91,1115.55) rotate(-90)">864</text>
<text x="0" y="0" font-size="10.3" text-anchor="middle" transform="translate(183.01,1004.55) rotate(-90)">905</text>
<text x="0" y="0" font-size="10.3" text-anchor="middle" transform="translate(196.01,1217.65) rotate(-90)">1057</text>
<text x="0" y="0" font-size="10.3" text-anchor="middle" transform="translate(204.21,1208.65) rotate(-90)">1108</text>
<line x1="139.2" y1="1154.2" x2="133.9" y2="1165" stroke="#222" stroke-width="0.8"/>
<line x1="190.8" y1="1227.6" x2="191.5" y2="1241" stroke="#222" stroke-width="0.8"/>
<line x1="199.8" y1="1219" x2="196" y2="1243.2" stroke="#222" stroke-width="0.8"/>
<text x="0" y="0" font-size="12.2" transform="translate(243.7,1296.9) scale(1.117,1)">Raman shift, cm</text>
<text x="339.9" y="1290.8" font-size="7.2">-1</text>

<defs>
<radialGradient id="gSh" cx="0.45" cy="0.42" r="0.62">
 <stop offset="0" stop-color="#fff" stop-opacity="0.95"/><stop offset="0.14" stop-color="#fff" stop-opacity="0.55"/><stop offset="0.42" stop-color="#fff" stop-opacity="0"/><stop offset="0.78" stop-color="#000" stop-opacity="0.06"/><stop offset="1" stop-color="#000" stop-opacity="0.32"/>
</radialGradient>
<radialGradient id="gSh2" cx="0.45" cy="0.42" r="0.62">
 <stop offset="0" stop-color="#fff" stop-opacity="0.7"/><stop offset="0.2" stop-color="#fff" stop-opacity="0.25"/><stop offset="0.5" stop-color="#fff" stop-opacity="0"/><stop offset="0.8" stop-color="#000" stop-opacity="0.08"/><stop offset="1" stop-color="#000" stop-opacity="0.38"/>
</radialGradient>
</defs>

<radialGradient id="tA1" gradientUnits="userSpaceOnUse" cx="572" cy="52" r="48"><stop offset="0" stop-color="#0e4f4d"/><stop offset="1" stop-color="#217270"/></radialGradient>
<radialGradient id="tA2" gradientUnits="userSpaceOnUse" cx="641" cy="52" r="48"><stop offset="0" stop-color="#0d4e4c"/><stop offset="1" stop-color="#20706d"/></radialGradient>
<linearGradient id="tAL" x1="0" y1="0" x2="1" y2="0"><stop offset="0" stop-color="#d3f6fa"/><stop offset="1" stop-color="#f0fdfd"/></linearGradient>
<polygon points="569.4,-0.5 606.1,-0.5 569.4,52.2 532.5,52.2" fill="url(#tA1)"/>
<polygon points="606.1,-0.5 644.2,-0.5 680.4,52.2 643,52.2" fill="url(#tA2)"/>
<polygon points="532.5,52.2 569.4,52.2 606.8,104.4 569.4,104.4" fill="url(#tA1)"/>
<polygon points="643,52.2 680.4,52.2 644.2,104.4 606.8,104.4" fill="url(#tA2)"/>
<polygon points="606.1,-0.5 643,52.2 606.8,104.4 569.4,52.2" fill="url(#tAL)"/>
<line x1="532.5" y1="52.2" x2="569.4" y2="52.2" stroke="#0a3836" stroke-width="0.8"/>
<line x1="643" y1="52.2" x2="680.4" y2="52.2" stroke="#0a3836" stroke-width="0.8"/>
<line x1="569.4" y1="0.3" x2="644.2" y2="0.3" stroke="#333" stroke-width="0.8"/>
<text x="608.6" y="57.8" font-size="15.6" text-anchor="middle">{110}</text>
<polyline points="416.5,60.0 503.5,60.0 503.5,183.1 416.5,183.1 416.5,60.0" fill="none" stroke="#707070" stroke-width="0.75"/>
<polyline points="416.5,121.6 503.5,121.6" fill="none" stroke="#707070" stroke-width="0.75"/>
<circle cx="417.40" cy="43.30" r="2.6" fill="#f2f2f2"/>
<path d="M417.40,43.30 L417.40,40.70 A2.6,2.6 0 0 1 420.00,43.30 Z" fill="#e81010"/>
<circle cx="417.40" cy="43.30" r="2.6" fill="url(#gSh2)" stroke="#777" stroke-width="0.35"/>
<circle cx="404.10" cy="53.60" r="2.6" fill="#f2f2f2"/>
<path d="M404.10,53.60 L404.10,51.00 A2.6,2.6 0 0 1 406.70,53.60 Z" fill="#e81010"/>
<circle cx="404.10" cy="53.60" r="2.6" fill="url(#gSh2)" stroke="#777" stroke-width="0.35"/>
<circle cx="428.20" cy="50.80" r="2.6" fill="#f2f2f2"/>
<path d="M428.20,50.80 L428.20,48.20 A2.6,2.6 0 0 1 430.80,50.80 Z" fill="#e81010"/>
<circle cx="428.20" cy="50.80" r="2.6" fill="url(#gSh2)" stroke="#777" stroke-width="0.35"/>
<circle cx="504.00" cy="42.50" r="2.6" fill="#f2f2f2"/>
<path d="M504.00,42.50 L504.00,39.90 A2.6,2.6 0 0 1 506.60,42.50 Z" fill="#e81010"/>
<circle cx="504.00" cy="42.50" r="2.6" fill="url(#gSh2)" stroke="#777" stroke-width="0.35"/>
<circle cx="515.00" cy="50.80" r="2.6" fill="#f2f2f2"/>
<path d="M515.00,50.80 L515.00,48.20 A2.6,2.6 0 0 1 517.60,50.80 Z" fill="#e81010"/>
<circle cx="515.00" cy="50.80" r="2.6" fill="url(#gSh2)" stroke="#777" stroke-width="0.35"/>
<circle cx="490.90" cy="51.60" r="2.6" fill="#f2f2f2"/>
<path d="M490.90,51.60 L490.90,49.00 A2.6,2.6 0 0 1 493.50,51.60 Z" fill="#e81010"/>
<circle cx="490.90" cy="51.60" r="2.6" fill="url(#gSh2)" stroke="#777" stroke-width="0.35"/>
<circle cx="404.10" cy="67.40" r="2.6" fill="#f2f2f2"/>
<path d="M404.10,67.40 L404.10,64.80 A2.6,2.6 0 0 1 406.70,67.40 Z" fill="#e81010"/>
<circle cx="404.10" cy="67.40" r="2.6" fill="url(#gSh2)" stroke="#777" stroke-width="0.35"/>
<circle cx="428.20" cy="69.40" r="2.6" fill="#f2f2f2"/>
<path d="M428.20,69.40 L428.20,66.80 A2.6,2.6 0 0 1 430.80,69.40 Z" fill="#e81010"/>
<circle cx="428.20" cy="69.40" r="2.6" fill="url(#gSh2)" stroke="#777" stroke-width="0.35"/>
<circle cx="490.90" cy="67.40" r="2.6" fill="#f2f2f2"/>
<path d="M490.90,67.40 L490.90,64.80 A2.6,2.6 0 0 1 493.50,67.40 Z" fill="#e81010"/>
<circle cx="490.90" cy="67.40" r="2.6" fill="url(#gSh2)" stroke="#777" stroke-width="0.35"/>
<circle cx="515.00" cy="68.80" r="2.6" fill="#f2f2f2"/>
<path d="M515.00,68.80 L515.00,66.20 A2.6,2.6 0 0 1 517.60,68.80 Z" fill="#e81010"/>
<circle cx="515.00" cy="68.80" r="2.6" fill="url(#gSh2)" stroke="#777" stroke-width="0.35"/>
<circle cx="417.40" cy="77.20" r="2.6" fill="#f2f2f2"/>
<path d="M417.40,77.20 L417.40,74.60 A2.6,2.6 0 0 1 420.00,77.20 Z" fill="#e81010"/>
<circle cx="417.40" cy="77.20" r="2.6" fill="url(#gSh2)" stroke="#777" stroke-width="0.35"/>
<circle cx="504.00" cy="75.80" r="2.6" fill="#f2f2f2"/>
<path d="M504.00,75.80 L504.00,73.20 A2.6,2.6 0 0 1 506.60,75.80 Z" fill="#e81010"/>
<circle cx="504.00" cy="75.80" r="2.6" fill="url(#gSh2)" stroke="#777" stroke-width="0.35"/>
<circle cx="404.50" cy="113.80" r="2.6" fill="#f2f2f2"/>
<path d="M404.50,113.80 L404.50,111.20 A2.6,2.6 0 0 1 407.10,113.80 Z" fill="#e81010"/>
<circle cx="404.50" cy="113.80" r="2.6" fill="url(#gSh2)" stroke="#777" stroke-width="0.35"/>
<circle cx="428.80" cy="112.80" r="2.6" fill="#f2f2f2"/>
<path d="M428.80,112.80 L428.80,110.20 A2.6,2.6 0 0 1 431.40,112.80 Z" fill="#e81010"/>
<circle cx="428.80" cy="112.80" r="2.6" fill="url(#gSh2)" stroke="#777" stroke-width="0.35"/>
<circle cx="491.80" cy="113.40" r="2.6" fill="#f2f2f2"/>
<path d="M491.80,113.40 L491.80,110.80 A2.6,2.6 0 0 1 494.40,113.40 Z" fill="#e81010"/>
<circle cx="491.80" cy="113.40" r="2.6" fill="url(#gSh2)" stroke="#777" stroke-width="0.35"/>
<circle cx="515.50" cy="112.80" r="2.6" fill="#f2f2f2"/>
<path d="M515.50,112.80 L515.50,110.20 A2.6,2.6 0 0 1 518.10,112.80 Z" fill="#e81010"/>
<circle cx="515.50" cy="112.80" r="2.6" fill="url(#gSh2)" stroke="#777" stroke-width="0.35"/>
<circle cx="404.50" cy="129.00" r="2.6" fill="#f2f2f2"/>
<path d="M404.50,129.00 L404.50,126.40 A2.6,2.6 0 0 1 407.10,129.00 Z" fill="#e81010"/>
<circle cx="404.50" cy="129.00" r="2.6" fill="url(#gSh2)" stroke="#777" stroke-width="0.35"/>
<circle cx="428.80" cy="130.50" r="2.6" fill="#f2f2f2"/>
<path d="M428.80,130.50 L428.80,127.90 A2.6,2.6 0 0 1 431.40,130.50 Z" fill="#e81010"/>
<circle cx="428.80" cy="130.50" r="2.6" fill="url(#gSh2)" stroke="#777" stroke-width="0.35"/>
<circle cx="491.80" cy="129.00" r="2.6" fill="#f2f2f2"/>
<path d="M491.80,129.00 L491.80,126.40 A2.6,2.6 0 0 1 494.40,129.00 Z" fill="#e81010"/>
<circle cx="491.80" cy="129.00" r="2.6" fill="url(#gSh2)" stroke="#777" stroke-width="0.35"/>
<circle cx="515.50" cy="129.90" r="2.6" fill="#f2f2f2"/>
<path d="M515.50,129.90 L515.50,127.30 A2.6,2.6 0 0 1 518.10,129.90 Z" fill="#e81010"/>
<circle cx="515.50" cy="129.90" r="2.6" fill="url(#gSh2)" stroke="#777" stroke-width="0.35"/>
<circle cx="418.10" cy="166.50" r="2.6" fill="#f2f2f2"/>
<path d="M418.10,166.50 L418.10,163.90 A2.6,2.6 0 0 1 420.70,166.50 Z" fill="#e81010"/>
<circle cx="418.10" cy="166.50" r="2.6" fill="url(#gSh2)" stroke="#777" stroke-width="0.35"/>
<circle cx="505.00" cy="166.50" r="2.6" fill="#f2f2f2"/>
<path d="M505.00,166.50 L505.00,163.90 A2.6,2.6 0 0 1 507.60,166.50 Z" fill="#e81010"/>
<circle cx="505.00" cy="166.50" r="2.6" fill="url(#gSh2)" stroke="#777" stroke-width="0.35"/>
<circle cx="404.50" cy="175.50" r="2.6" fill="#f2f2f2"/>
<path d="M404.50,175.50 L404.50,172.90 A2.6,2.6 0 0 1 407.10,175.50 Z" fill="#e81010"/>
<circle cx="404.50" cy="175.50" r="2.6" fill="url(#gSh2)" stroke="#777" stroke-width="0.35"/>
<circle cx="428.80" cy="174.10" r="2.6" fill="#f2f2f2"/>
<path d="M428.80,174.10 L428.80,171.50 A2.6,2.6 0 0 1 431.40,174.10 Z" fill="#e81010"/>
<circle cx="428.80" cy="174.10" r="2.6" fill="url(#gSh2)" stroke="#777" stroke-width="0.35"/>
<circle cx="491.80" cy="175.50" r="2.6" fill="#f2f2f2"/>
<path d="M491.80,175.50 L491.80,172.90 A2.6,2.6 0 0 1 494.40,175.50 Z" fill="#e81010"/>
<circle cx="491.80" cy="175.50" r="2.6" fill="url(#gSh2)" stroke="#777" stroke-width="0.35"/>
<circle cx="515.50" cy="173.60" r="2.6" fill="#f2f2f2"/>
<path d="M515.50,173.60 L515.50,171.00 A2.6,2.6 0 0 1 518.10,173.60 Z" fill="#e81010"/>
<circle cx="515.50" cy="173.60" r="2.6" fill="url(#gSh2)" stroke="#777" stroke-width="0.35"/>
<circle cx="404.50" cy="190.60" r="2.6" fill="#f2f2f2"/>
<path d="M404.50,190.60 L404.50,188.00 A2.6,2.6 0 0 1 407.10,190.60 Z" fill="#e81010"/>
<circle cx="404.50" cy="190.60" r="2.6" fill="url(#gSh2)" stroke="#777" stroke-width="0.35"/>
<circle cx="428.80" cy="192.00" r="2.6" fill="#f2f2f2"/>
<path d="M428.80,192.00 L428.80,189.40 A2.6,2.6 0 0 1 431.40,192.00 Z" fill="#e81010"/>
<circle cx="428.80" cy="192.00" r="2.6" fill="url(#gSh2)" stroke="#777" stroke-width="0.35"/>
<circle cx="491.80" cy="190.60" r="2.6" fill="#f2f2f2"/>
<path d="M491.80,190.60 L491.80,188.00 A2.6,2.6 0 0 1 494.40,190.60 Z" fill="#e81010"/>
<circle cx="491.80" cy="190.60" r="2.6" fill="url(#gSh2)" stroke="#777" stroke-width="0.35"/>
<circle cx="515.50" cy="191.60" r="2.6" fill="#f2f2f2"/>
<path d="M515.50,191.60 L515.50,189.00 A2.6,2.6 0 0 1 518.10,191.60 Z" fill="#e81010"/>
<circle cx="515.50" cy="191.60" r="2.6" fill="url(#gSh2)" stroke="#777" stroke-width="0.35"/>
<circle cx="418.10" cy="198.20" r="2.6" fill="#f2f2f2"/>
<path d="M418.10,198.20 L418.10,195.60 A2.6,2.6 0 0 1 420.70,198.20 Z" fill="#e81010"/>
<circle cx="418.10" cy="198.20" r="2.6" fill="url(#gSh2)" stroke="#777" stroke-width="0.35"/>
<circle cx="505.00" cy="198.20" r="2.6" fill="#f2f2f2"/>
<path d="M505.00,198.20 L505.00,195.60 A2.6,2.6 0 0 1 507.60,198.20 Z" fill="#e81010"/>
<circle cx="505.00" cy="198.20" r="2.6" fill="url(#gSh2)" stroke="#777" stroke-width="0.35"/>
<circle cx="431.50" cy="92.00" r="7.3" fill="#ececea"/>
<circle cx="431.50" cy="92.00" r="7.3" fill="url(#gSh)"/>
<circle cx="438.30" cy="86.00" r="7.3" fill="#ececea"/>
<path d="M438.30,86.00 L434.65,79.68 A7.3,7.3 0 1 1 439.57,93.19 Z" fill="#e8c438"/>
<circle cx="438.30" cy="86.00" r="7.3" fill="url(#gSh)"/>
<circle cx="477.00" cy="97.00" r="7.3" fill="#ececea"/>
<circle cx="477.00" cy="97.00" r="7.3" fill="url(#gSh)"/>
<circle cx="485.50" cy="87.50" r="7.3" fill="#ececea"/>
<path d="M485.50,87.50 L481.85,81.18 A7.3,7.3 0 1 1 486.77,94.69 Z" fill="#e8c438"/>
<circle cx="485.50" cy="87.50" r="7.3" fill="url(#gSh)"/>
<circle cx="430.50" cy="154.00" r="7.3" fill="#ececea"/>
<circle cx="430.50" cy="154.00" r="7.3" fill="url(#gSh)"/>
<circle cx="434.80" cy="158.80" r="7.3" fill="#ececea"/>
<path d="M434.80,158.80 L441.12,155.15 A7.3,7.3 0 1 1 427.50,158.80 Z" fill="#e8c438"/>
<circle cx="434.80" cy="158.80" r="7.3" fill="url(#gSh)"/>
<circle cx="477.00" cy="147.50" r="7.3" fill="#ececea"/>
<circle cx="477.00" cy="147.50" r="7.3" fill="url(#gSh)"/>
<circle cx="486.00" cy="156.50" r="7.3" fill="#ececea"/>
<path d="M486.00,156.50 L488.50,149.64 A7.3,7.3 0 1 1 481.31,162.09 Z" fill="#e8c438"/>
<circle cx="486.00" cy="156.50" r="7.3" fill="url(#gSh)"/>
<circle cx="443.40" cy="121.80" r="6.8" fill="#ececea"/>
<path d="M443.40,121.80 L443.40,115.00 A6.8,6.8 0 0 1 449.29,125.20 Z" fill="#e8c438"/>
<circle cx="443.40" cy="121.80" r="6.8" fill="url(#gSh)"/>
<circle cx="435.80" cy="121.80" r="6.8" fill="#ececea"/>
<path d="M435.80,121.80 L440.17,116.59 A6.8,6.8 0 0 1 432.40,127.69 Z" fill="#e8c438"/>
<circle cx="435.80" cy="121.80" r="6.8" fill="url(#gSh)"/>
<circle cx="487.00" cy="121.80" r="6.8" fill="#ececea"/>
<path d="M487.00,121.80 L485.82,115.10 A6.8,6.8 0 1 1 484.67,128.19 Z" fill="#e8c438"/>
<circle cx="487.00" cy="121.80" r="6.8" fill="url(#gSh)"/>
<circle cx="481.30" cy="121.80" r="6.8" fill="#ececea"/>
<path d="M481.30,121.80 L487.19,125.20 A6.8,6.8 0 0 1 483.63,128.19 Z" fill="#e8c438"/>
<circle cx="481.30" cy="121.80" r="6.8" fill="url(#gSh)"/>
<line x1="445.7" y1="80.8" x2="452.9" y2="78.3" stroke="#e81818" stroke-width="1.7"/>
<line x1="452.9" y1="78.3" x2="460.0" y2="75.8" stroke="#8cb8d8" stroke-width="1.7"/>
<line x1="445.7" y1="80.8" x2="441.9" y2="85.9" stroke="#e81818" stroke-width="1.7"/>
<line x1="441.9" y1="85.9" x2="438.2" y2="91.0" stroke="#8cb8d8" stroke-width="1.7"/>
<line x1="472.1" y1="82.7" x2="466.1" y2="79.2" stroke="#e81818" stroke-width="1.7"/>
<line x1="466.1" y1="79.2" x2="460.0" y2="75.8" stroke="#8cb8d8" stroke-width="1.7"/>
<line x1="472.1" y1="82.7" x2="477.0" y2="86.8" stroke="#e81818" stroke-width="1.7"/>
<line x1="477.0" y1="86.8" x2="481.8" y2="91.0" stroke="#8cb8d8" stroke-width="1.7"/>
<line x1="490.1" y1="79.9" x2="486.0" y2="85.4" stroke="#e81818" stroke-width="1.7"/>
<line x1="486.0" y1="85.4" x2="481.8" y2="91.0" stroke="#8cb8d8" stroke-width="1.7"/>
<line x1="428.7" y1="83.6" x2="433.4" y2="87.3" stroke="#e81818" stroke-width="1.7"/>
<line x1="433.4" y1="87.3" x2="438.2" y2="91.0" stroke="#8cb8d8" stroke-width="1.7"/>
<line x1="429.1" y1="98.0" x2="433.6" y2="94.5" stroke="#e81818" stroke-width="1.7"/>
<line x1="433.6" y1="94.5" x2="438.2" y2="91.0" stroke="#8cb8d8" stroke-width="1.7"/>
<line x1="429.1" y1="98.0" x2="422.8" y2="101.8" stroke="#e81818" stroke-width="1.7"/>
<line x1="422.8" y1="101.8" x2="416.5" y2="105.7" stroke="#8cb8d8" stroke-width="1.7"/>
<line x1="447.1" y1="102.7" x2="442.6" y2="96.8" stroke="#e81818" stroke-width="1.7"/>
<line x1="442.6" y1="96.8" x2="438.2" y2="91.0" stroke="#8cb8d8" stroke-width="1.7"/>
<line x1="447.1" y1="102.7" x2="453.6" y2="104.2" stroke="#e81818" stroke-width="1.7"/>
<line x1="453.6" y1="104.2" x2="460.0" y2="105.7" stroke="#8cb8d8" stroke-width="1.7"/>
<line x1="456.8" y1="103.5" x2="458.4" y2="104.6" stroke="#e81818" stroke-width="1.7"/>
<line x1="458.4" y1="104.6" x2="460.0" y2="105.7" stroke="#8cb8d8" stroke-width="1.7"/>
<line x1="472.1" y1="98.8" x2="477.0" y2="94.9" stroke="#e81818" stroke-width="1.7"/>
<line x1="477.0" y1="94.9" x2="481.8" y2="91.0" stroke="#8cb8d8" stroke-width="1.7"/>
<line x1="472.1" y1="98.8" x2="466.1" y2="102.2" stroke="#e81818" stroke-width="1.7"/>
<line x1="466.1" y1="102.2" x2="460.0" y2="105.7" stroke="#8cb8d8" stroke-width="1.7"/>
<line x1="490.9" y1="102.7" x2="486.4" y2="96.8" stroke="#e81818" stroke-width="1.7"/>
<line x1="486.4" y1="96.8" x2="481.8" y2="91.0" stroke="#8cb8d8" stroke-width="1.7"/>
<line x1="490.9" y1="102.7" x2="497.2" y2="104.2" stroke="#e81818" stroke-width="1.7"/>
<line x1="497.2" y1="104.2" x2="503.5" y2="105.7" stroke="#8cb8d8" stroke-width="1.7"/>
<line x1="402.7" y1="102.7" x2="409.6" y2="104.2" stroke="#e81818" stroke-width="1.7"/>
<line x1="409.6" y1="104.2" x2="416.5" y2="105.7" stroke="#8cb8d8" stroke-width="1.7"/>
<line x1="516.4" y1="98.0" x2="509.9" y2="101.8" stroke="#e81818" stroke-width="1.7"/>
<line x1="509.9" y1="101.8" x2="503.5" y2="105.7" stroke="#8cb8d8" stroke-width="1.7"/>
<line x1="445.7" y1="162.4" x2="452.9" y2="164.9" stroke="#e81818" stroke-width="1.7"/>
<line x1="452.9" y1="164.9" x2="460.0" y2="167.4" stroke="#8cb8d8" stroke-width="1.7"/>
<line x1="445.7" y1="162.4" x2="441.9" y2="157.3" stroke="#e81818" stroke-width="1.7"/>
<line x1="441.9" y1="157.3" x2="438.2" y2="152.2" stroke="#8cb8d8" stroke-width="1.7"/>
<line x1="472.1" y1="160.5" x2="466.1" y2="163.9" stroke="#e81818" stroke-width="1.7"/>
<line x1="466.1" y1="163.9" x2="460.0" y2="167.4" stroke="#8cb8d8" stroke-width="1.7"/>
<line x1="472.1" y1="160.5" x2="477.0" y2="156.3" stroke="#e81818" stroke-width="1.7"/>
<line x1="477.0" y1="156.3" x2="481.8" y2="152.2" stroke="#8cb8d8" stroke-width="1.7"/>
<line x1="490.1" y1="163.3" x2="486.0" y2="157.8" stroke="#e81818" stroke-width="1.7"/>
<line x1="486.0" y1="157.8" x2="481.8" y2="152.2" stroke="#8cb8d8" stroke-width="1.7"/>
<line x1="428.7" y1="159.6" x2="433.4" y2="155.9" stroke="#e81818" stroke-width="1.7"/>
<line x1="433.4" y1="155.9" x2="438.2" y2="152.2" stroke="#8cb8d8" stroke-width="1.7"/>
<line x1="429.1" y1="145.2" x2="433.6" y2="148.7" stroke="#e81818" stroke-width="1.7"/>
<line x1="433.6" y1="148.7" x2="438.2" y2="152.2" stroke="#8cb8d8" stroke-width="1.7"/>
<line x1="429.1" y1="145.2" x2="422.8" y2="141.3" stroke="#e81818" stroke-width="1.7"/>
<line x1="422.8" y1="141.3" x2="416.5" y2="137.5" stroke="#8cb8d8" stroke-width="1.7"/>
<line x1="447.1" y1="140.5" x2="442.6" y2="146.3" stroke="#e81818" stroke-width="1.7"/>
<line x1="442.6" y1="146.3" x2="438.2" y2="152.2" stroke="#8cb8d8" stroke-width="1.7"/>
<line x1="447.1" y1="140.5" x2="453.6" y2="139.0" stroke="#e81818" stroke-width="1.7"/>
<line x1="453.6" y1="139.0" x2="460.0" y2="137.5" stroke="#8cb8d8" stroke-width="1.7"/>
<line x1="456.8" y1="139.7" x2="458.4" y2="138.6" stroke="#e81818" stroke-width="1.7"/>
<line x1="458.4" y1="138.6" x2="460.0" y2="137.5" stroke="#8cb8d8" stroke-width="1.7"/>
<line x1="472.1" y1="144.4" x2="477.0" y2="148.3" stroke="#e81818" stroke-width="1.7"/>
<line x1="477.0" y1="148.3" x2="481.8" y2="152.2" stroke="#8cb8d8" stroke-width="1.7"/>
<line x1="472.1" y1="144.4" x2="466.1" y2="140.9" stroke="#e81818" stroke-width="1.7"/>
<line x1="466.1" y1="140.9" x2="460.0" y2="137.5" stroke="#8cb8d8" stroke-width="1.7"/>
<line x1="490.9" y1="140.5" x2="486.4" y2="146.3" stroke="#e81818" stroke-width="1.7"/>
<line x1="486.4" y1="146.3" x2="481.8" y2="152.2" stroke="#8cb8d8" stroke-width="1.7"/>
<line x1="490.9" y1="140.5" x2="497.2" y2="139.0" stroke="#e81818" stroke-width="1.7"/>
<line x1="497.2" y1="139.0" x2="503.5" y2="137.5" stroke="#8cb8d8" stroke-width="1.7"/>
<line x1="402.7" y1="140.5" x2="409.6" y2="139.0" stroke="#e81818" stroke-width="1.7"/>
<line x1="409.6" y1="139.0" x2="416.5" y2="137.5" stroke="#8cb8d8" stroke-width="1.7"/>
<line x1="516.4" y1="145.2" x2="509.9" y2="141.3" stroke="#e81818" stroke-width="1.7"/>
<line x1="509.9" y1="141.3" x2="503.5" y2="137.5" stroke="#8cb8d8" stroke-width="1.7"/>
<line x1="462.3" y1="60.0" x2="461.1" y2="67.9" stroke="#e81818" stroke-width="1.7"/>
<line x1="461.1" y1="67.9" x2="460.0" y2="75.8" stroke="#8cb8d8" stroke-width="1.7"/>
<line x1="462.3" y1="183.1" x2="461.1" y2="175.2" stroke="#e81818" stroke-width="1.7"/>
<line x1="461.1" y1="175.2" x2="460.0" y2="167.4" stroke="#8cb8d8" stroke-width="1.7"/>
<line x1="462.0" y1="121.6" x2="461.0" y2="113.7" stroke="#e81818" stroke-width="1.7"/>
<line x1="461.0" y1="113.7" x2="460.0" y2="105.7" stroke="#8cb8d8" stroke-width="1.7"/>
<line x1="462.0" y1="121.6" x2="461.0" y2="129.6" stroke="#e81818" stroke-width="1.7"/>
<line x1="461.0" y1="129.6" x2="460.0" y2="137.5" stroke="#8cb8d8" stroke-width="1.7"/>
<circle cx="460.00" cy="75.80" r="5.2" fill="#8cb6dc"/>
<path d="M460.00,75.80 L460.00,81.00 A5.2,5.2 0 0 1 460.00,70.60 Z" fill="#1c3cd8"/>
<circle cx="460.00" cy="75.80" r="5.2" fill="url(#gSh)"/>
<circle cx="438.20" cy="91.00" r="5.2" fill="#8cb6dc"/>
<path d="M438.20,91.00 L438.20,96.20 A5.2,5.2 0 0 1 438.20,85.80 Z" fill="#1c3cd8"/>
<circle cx="438.20" cy="91.00" r="5.2" fill="url(#gSh)"/>
<circle cx="481.80" cy="91.00" r="5.2" fill="#8cb6dc"/>
<path d="M481.80,91.00 L481.80,96.20 A5.2,5.2 0 0 1 481.80,85.80 Z" fill="#1c3cd8"/>
<circle cx="481.80" cy="91.00" r="5.2" fill="url(#gSh)"/>
<circle cx="416.50" cy="105.70" r="5.2" fill="#8cb6dc"/>
<path d="M416.50,105.70 L416.50,110.90 A5.2,5.2 0 0 1 416.50,100.50 Z" fill="#1c3cd8"/>
<circle cx="416.50" cy="105.70" r="5.2" fill="url(#gSh)"/>
<circle cx="460.00" cy="105.70" r="5.2" fill="#8cb6dc"/>
<path d="M460.00,105.70 L460.00,110.90 A5.2,5.2 0 0 1 460.00,100.50 Z" fill="#1c3cd8"/>
<circle cx="460.00" cy="105.70" r="5.2" fill="url(#gSh)"/>
<circle cx="503.50" cy="105.70" r="5.2" fill="#8cb6dc"/>
<path d="M503.50,105.70 L503.50,110.90 A5.2,5.2 0 0 1 503.50,100.50 Z" fill="#1c3cd8"/>
<circle cx="503.50" cy="105.70" r="5.2" fill="url(#gSh)"/>
<circle cx="460.00" cy="167.40" r="5.2" fill="#8cb6dc"/>
<path d="M460.00,167.40 L460.00,172.60 A5.2,5.2 0 0 1 460.00,162.20 Z" fill="#1c3cd8"/>
<circle cx="460.00" cy="167.40" r="5.2" fill="url(#gSh)"/>
<circle cx="438.20" cy="152.20" r="5.2" fill="#8cb6dc"/>
<path d="M438.20,152.20 L438.20,157.40 A5.2,5.2 0 0 1 438.20,147.00 Z" fill="#1c3cd8"/>
<circle cx="438.20" cy="152.20" r="5.2" fill="url(#gSh)"/>
<circle cx="481.80" cy="152.20" r="5.2" fill="#8cb6dc"/>
<path d="M481.80,152.20 L481.80,157.40 A5.2,5.2 0 0 1 481.80,147.00 Z" fill="#1c3cd8"/>
<circle cx="481.80" cy="152.20" r="5.2" fill="url(#gSh)"/>
<circle cx="416.50" cy="137.50" r="5.2" fill="#8cb6dc"/>
<path d="M416.50,137.50 L416.50,142.70 A5.2,5.2 0 0 1 416.50,132.30 Z" fill="#1c3cd8"/>
<circle cx="416.50" cy="137.50" r="5.2" fill="url(#gSh)"/>
<circle cx="460.00" cy="137.50" r="5.2" fill="#8cb6dc"/>
<path d="M460.00,137.50 L460.00,142.70 A5.2,5.2 0 0 1 460.00,132.30 Z" fill="#1c3cd8"/>
<circle cx="460.00" cy="137.50" r="5.2" fill="url(#gSh)"/>
<circle cx="503.50" cy="137.50" r="5.2" fill="#8cb6dc"/>
<path d="M503.50,137.50 L503.50,142.70 A5.2,5.2 0 0 1 503.50,132.30 Z" fill="#1c3cd8"/>
<circle cx="503.50" cy="137.50" r="5.2" fill="url(#gSh)"/>
<circle cx="462.30" cy="60.00" r="2.3" fill="#f01010"/>
<circle cx="462.30" cy="60.00" r="2.3" fill="url(#gSh2)"/>
<circle cx="445.70" cy="80.80" r="2.3" fill="#f01010"/>
<circle cx="445.70" cy="80.80" r="2.3" fill="url(#gSh2)"/>
<circle cx="472.10" cy="82.70" r="2.3" fill="#f01010"/>
<circle cx="472.10" cy="82.70" r="2.3" fill="url(#gSh2)"/>
<circle cx="490.10" cy="79.90" r="2.3" fill="#f01010"/>
<circle cx="490.10" cy="79.90" r="2.3" fill="url(#gSh2)"/>
<circle cx="428.70" cy="83.60" r="2.3" fill="#f01010"/>
<circle cx="428.70" cy="83.60" r="2.3" fill="url(#gSh2)"/>
<circle cx="429.10" cy="98.00" r="2.3" fill="#f01010"/>
<circle cx="429.10" cy="98.00" r="2.3" fill="url(#gSh2)"/>
<circle cx="447.10" cy="102.70" r="2.3" fill="#f01010"/>
<circle cx="447.10" cy="102.70" r="2.3" fill="url(#gSh2)"/>
<circle cx="456.80" cy="103.50" r="2.3" fill="#f01010"/>
<circle cx="456.80" cy="103.50" r="2.3" fill="url(#gSh2)"/>
<circle cx="472.10" cy="98.80" r="2.3" fill="#f01010"/>
<circle cx="472.10" cy="98.80" r="2.3" fill="url(#gSh2)"/>
<circle cx="490.90" cy="102.70" r="2.3" fill="#f01010"/>
<circle cx="490.90" cy="102.70" r="2.3" fill="url(#gSh2)"/>
<circle cx="402.70" cy="102.70" r="2.3" fill="#f01010"/>
<circle cx="402.70" cy="102.70" r="2.3" fill="url(#gSh2)"/>
<circle cx="516.40" cy="98.00" r="2.3" fill="#f01010"/>
<circle cx="516.40" cy="98.00" r="2.3" fill="url(#gSh2)"/>
<circle cx="462.30" cy="183.20" r="2.3" fill="#f01010"/>
<circle cx="462.30" cy="183.20" r="2.3" fill="url(#gSh2)"/>
<circle cx="445.70" cy="162.40" r="2.3" fill="#f01010"/>
<circle cx="445.70" cy="162.40" r="2.3" fill="url(#gSh2)"/>
<circle cx="472.10" cy="160.50" r="2.3" fill="#f01010"/>
<circle cx="472.10" cy="160.50" r="2.3" fill="url(#gSh2)"/>
<circle cx="490.10" cy="163.30" r="2.3" fill="#f01010"/>
<circle cx="490.10" cy="163.30" r="2.3" fill="url(#gSh2)"/>
<circle cx="428.70" cy="159.60" r="2.3" fill="#f01010"/>
<circle cx="428.70" cy="159.60" r="2.3" fill="url(#gSh2)"/>
<circle cx="429.10" cy="145.20" r="2.3" fill="#f01010"/>
<circle cx="429.10" cy="145.20" r="2.3" fill="url(#gSh2)"/>
<circle cx="447.10" cy="140.50" r="2.3" fill="#f01010"/>
<circle cx="447.10" cy="140.50" r="2.3" fill="url(#gSh2)"/>
<circle cx="456.80" cy="139.70" r="2.3" fill="#f01010"/>
<circle cx="456.80" cy="139.70" r="2.3" fill="url(#gSh2)"/>
<circle cx="472.10" cy="144.40" r="2.3" fill="#f01010"/>
<circle cx="472.10" cy="144.40" r="2.3" fill="url(#gSh2)"/>
<circle cx="490.90" cy="140.50" r="2.3" fill="#f01010"/>
<circle cx="490.90" cy="140.50" r="2.3" fill="url(#gSh2)"/>
<circle cx="402.70" cy="140.50" r="2.3" fill="#f01010"/>
<circle cx="402.70" cy="140.50" r="2.3" fill="url(#gSh2)"/>
<circle cx="516.40" cy="145.20" r="2.3" fill="#f01010"/>
<circle cx="516.40" cy="145.20" r="2.3" fill="url(#gSh2)"/>
<circle cx="461.50" cy="121.60" r="2.5" fill="#f01010"/>
<circle cx="461.50" cy="121.60" r="2.5" fill="url(#gSh2)"/>
<circle cx="463.50" cy="121.60" r="2.3" fill="#f01010"/>
<circle cx="463.50" cy="121.60" r="2.3" fill="url(#gSh2)"/>
<circle cx="416.50" cy="60.00" r="5.4" fill="#a07c9c"/>
<path d="M416.50,60.00 L411.10,60.00 A5.4,5.4 0 0 1 421.90,60.00 Z" fill="#c8c6c2"/>
<path d="M416.50,60.00 L416.50,54.60 A5.4,5.4 0 0 1 421.18,57.30 Z" fill="#e01818"/>
<circle cx="416.50" cy="60.00" r="5.4" fill="url(#gSh2)"/>
<circle cx="503.50" cy="60.00" r="5.4" fill="#a07c9c"/>
<path d="M503.50,60.00 L498.10,60.00 A5.4,5.4 0 0 1 508.90,60.00 Z" fill="#c8c6c2"/>
<path d="M503.50,60.00 L503.50,54.60 A5.4,5.4 0 0 1 508.18,57.30 Z" fill="#e01818"/>
<circle cx="503.50" cy="60.00" r="5.4" fill="url(#gSh2)"/>
<circle cx="416.50" cy="121.60" r="5.4" fill="#a07c9c"/>
<path d="M416.50,121.60 L411.10,121.60 A5.4,5.4 0 0 1 421.90,121.60 Z" fill="#c8c6c2"/>
<path d="M416.50,121.60 L416.50,116.20 A5.4,5.4 0 0 1 421.18,118.90 Z" fill="#e01818"/>
<circle cx="416.50" cy="121.60" r="5.4" fill="url(#gSh2)"/>
<circle cx="503.50" cy="121.60" r="5.4" fill="#a07c9c"/>
<path d="M503.50,121.60 L498.10,121.60 A5.4,5.4 0 0 1 508.90,121.60 Z" fill="#c8c6c2"/>
<path d="M503.50,121.60 L503.50,116.20 A5.4,5.4 0 0 1 508.18,118.90 Z" fill="#e01818"/>
<circle cx="503.50" cy="121.60" r="5.4" fill="url(#gSh2)"/>
<circle cx="416.50" cy="183.10" r="5.4" fill="#a07c9c"/>
<path d="M416.50,183.10 L411.10,183.10 A5.4,5.4 0 0 1 421.90,183.10 Z" fill="#c8c6c2"/>
<path d="M416.50,183.10 L416.50,177.70 A5.4,5.4 0 0 1 421.18,180.40 Z" fill="#e01818"/>
<circle cx="416.50" cy="183.10" r="5.4" fill="url(#gSh2)"/>
<circle cx="503.50" cy="183.10" r="5.4" fill="#a07c9c"/>
<path d="M503.50,183.10 L498.10,183.10 A5.4,5.4 0 0 1 508.90,183.10 Z" fill="#c8c6c2"/>
<path d="M503.50,183.10 L503.50,177.70 A5.4,5.4 0 0 1 508.18,180.40 Z" fill="#e01818"/>
<circle cx="503.50" cy="183.10" r="5.4" fill="url(#gSh2)"/>
<line x1="363.1" y1="166.6" x2="363.1" y2="155.8" stroke="#d01010" stroke-width="2.2"/>
<path d="M363.1,149.9 L366.2,156.3 L360.0,156.3 Z" fill="#d01010"/>
<line x1="363.1" y1="166.6" x2="381.7" y2="166.6" stroke="#1010d8" stroke-width="2.2"/>
<path d="M387.6,166.6 L381.2,169.7 L381.2,163.5 Z" fill="#1010d8"/>
<line x1="363.1" y1="166.6" x2="363.1" y2="177.9" stroke="#10c010" stroke-width="2.2"/>
<path d="M363.1,183.8 L360.0,177.4 L366.2,177.4 Z" fill="#10c010"/>
<circle cx="363.1" cy="166.6" r="2.7" fill="#e6e6e6" stroke="#999" stroke-width="0.6"/>
<text x="363.1" y="147.3" font-size="5" text-anchor="middle" style="font-weight:bold">a</text>
<text x="393.1" y="168.2" font-size="5" text-anchor="middle" style="font-weight:bold">c</text>
<text x="363.1" y="189.6" font-size="5" text-anchor="middle" style="font-weight:bold">b</text>
<circle cx="531.6" cy="89.9" r="0.7" fill="#333"/>
<polygon points="616,314.8 667.9,344.3 616,373.3 564.8,344.3" fill="#0aabab" stroke="#0b5e5e" stroke-width="0.6"/>
<polygon points="564.8,344.3 616,373.3 616.6,432.5 565.4,403.6" fill="#08a8a8" stroke="#0b5e5e" stroke-width="0.6"/>
<polygon points="616,373.3 667.9,344.3 667.6,403.6 616.6,432.5" fill="#07adad" stroke="#0b5e5e" stroke-width="0.6"/>
<text x="616.6" y="353.6" font-size="16" text-anchor="middle">{110}</text>
<polyline points="468.4,379.9 402.0,418.2 402.0,495.0 468.4,533.3 534.8,495.0 534.8,418.2 468.4,379.9" fill="none" stroke="#555" stroke-width="0.6"/>
<polyline points="468.4,456.6 468.4,379.9" fill="none" stroke="#555" stroke-width="0.6"/>
<polyline points="468.4,456.6 402.0,418.2" fill="none" stroke="#555" stroke-width="0.6"/>
<polyline points="468.4,456.6 402.0,495.0" fill="none" stroke="#555" stroke-width="0.6"/>
<polyline points="468.4,456.6 468.4,533.3" fill="none" stroke="#555" stroke-width="0.6"/>
<polyline points="468.4,456.6 534.8,495.0" fill="none" stroke="#555" stroke-width="0.6"/>
<polyline points="468.4,456.6 534.8,418.2" fill="none" stroke="#555" stroke-width="0.6"/>
<circle cx="486.40" cy="379.90" r="2.6" fill="#f2f2f2"/>
<path d="M486.40,379.90 L486.40,377.30 A2.6,2.6 0 0 1 489.00,379.90 Z" fill="#e81010"/>
<circle cx="486.40" cy="379.90" r="2.6" fill="url(#gSh2)" stroke="#777" stroke-width="0.35"/>
<circle cx="477.49" cy="385.15" r="2.6" fill="#f2f2f2"/>
<path d="M477.49,385.15 L477.49,382.55 A2.6,2.6 0 0 1 480.09,385.15 Z" fill="#e81010"/>
<circle cx="477.49" cy="385.15" r="2.6" fill="url(#gSh2)" stroke="#777" stroke-width="0.35"/>
<circle cx="477.40" cy="395.49" r="2.6" fill="#f2f2f2"/>
<path d="M477.40,395.49 L477.40,392.89 A2.6,2.6 0 0 1 480.00,395.49 Z" fill="#e81010"/>
<circle cx="477.40" cy="395.49" r="2.6" fill="url(#gSh2)" stroke="#777" stroke-width="0.35"/>
<circle cx="468.40" cy="390.40" r="2.6" fill="#f2f2f2"/>
<path d="M468.40,390.40 L468.40,387.80 A2.6,2.6 0 0 1 471.00,390.40 Z" fill="#e81010"/>
<circle cx="468.40" cy="390.40" r="2.6" fill="url(#gSh2)" stroke="#777" stroke-width="0.35"/>
<circle cx="459.40" cy="395.49" r="2.6" fill="#f2f2f2"/>
<path d="M459.40,395.49 L459.40,392.89 A2.6,2.6 0 0 1 462.00,395.49 Z" fill="#e81010"/>
<circle cx="459.40" cy="395.49" r="2.6" fill="url(#gSh2)" stroke="#777" stroke-width="0.35"/>
<circle cx="459.31" cy="385.15" r="2.6" fill="#f2f2f2"/>
<path d="M459.31,385.15 L459.31,382.55 A2.6,2.6 0 0 1 461.91,385.15 Z" fill="#e81010"/>
<circle cx="459.31" cy="385.15" r="2.6" fill="url(#gSh2)" stroke="#777" stroke-width="0.35"/>
<circle cx="450.40" cy="379.90" r="2.6" fill="#f2f2f2"/>
<path d="M450.40,379.90 L450.40,377.30 A2.6,2.6 0 0 1 453.00,379.90 Z" fill="#e81010"/>
<circle cx="450.40" cy="379.90" r="2.6" fill="url(#gSh2)" stroke="#777" stroke-width="0.35"/>
<circle cx="459.31" cy="374.65" r="2.6" fill="#f2f2f2"/>
<path d="M459.31,374.65 L459.31,372.05 A2.6,2.6 0 0 1 461.91,374.65 Z" fill="#e81010"/>
<circle cx="459.31" cy="374.65" r="2.6" fill="url(#gSh2)" stroke="#777" stroke-width="0.35"/>
<circle cx="459.40" cy="364.31" r="2.6" fill="#f2f2f2"/>
<path d="M459.40,364.31 L459.40,361.71 A2.6,2.6 0 0 1 462.00,364.31 Z" fill="#e81010"/>
<circle cx="459.40" cy="364.31" r="2.6" fill="url(#gSh2)" stroke="#777" stroke-width="0.35"/>
<circle cx="468.40" cy="369.40" r="2.6" fill="#f2f2f2"/>
<path d="M468.40,369.40 L468.40,366.80 A2.6,2.6 0 0 1 471.00,369.40 Z" fill="#e81010"/>
<circle cx="468.40" cy="369.40" r="2.6" fill="url(#gSh2)" stroke="#777" stroke-width="0.35"/>
<circle cx="477.40" cy="364.31" r="2.6" fill="#f2f2f2"/>
<path d="M477.40,364.31 L477.40,361.71 A2.6,2.6 0 0 1 480.00,364.31 Z" fill="#e81010"/>
<circle cx="477.40" cy="364.31" r="2.6" fill="url(#gSh2)" stroke="#777" stroke-width="0.35"/>
<circle cx="477.49" cy="374.65" r="2.6" fill="#f2f2f2"/>
<path d="M477.49,374.65 L477.49,372.05 A2.6,2.6 0 0 1 480.09,374.65 Z" fill="#e81010"/>
<circle cx="477.49" cy="374.65" r="2.6" fill="url(#gSh2)" stroke="#777" stroke-width="0.35"/>
<circle cx="419.98" cy="418.25" r="2.6" fill="#f2f2f2"/>
<path d="M419.98,418.25 L419.98,415.65 A2.6,2.6 0 0 1 422.58,418.25 Z" fill="#e81010"/>
<circle cx="419.98" cy="418.25" r="2.6" fill="url(#gSh2)" stroke="#777" stroke-width="0.35"/>
<circle cx="411.07" cy="423.50" r="2.6" fill="#f2f2f2"/>
<path d="M411.07,423.50 L411.07,420.90 A2.6,2.6 0 0 1 413.67,423.50 Z" fill="#e81010"/>
<circle cx="411.07" cy="423.50" r="2.6" fill="url(#gSh2)" stroke="#777" stroke-width="0.35"/>
<circle cx="410.98" cy="433.84" r="2.6" fill="#f2f2f2"/>
<path d="M410.98,433.84 L410.98,431.24 A2.6,2.6 0 0 1 413.58,433.84 Z" fill="#e81010"/>
<circle cx="410.98" cy="433.84" r="2.6" fill="url(#gSh2)" stroke="#777" stroke-width="0.35"/>
<circle cx="401.98" cy="428.75" r="2.6" fill="#f2f2f2"/>
<path d="M401.98,428.75 L401.98,426.15 A2.6,2.6 0 0 1 404.58,428.75 Z" fill="#e81010"/>
<circle cx="401.98" cy="428.75" r="2.6" fill="url(#gSh2)" stroke="#777" stroke-width="0.35"/>
<circle cx="392.98" cy="433.84" r="2.6" fill="#f2f2f2"/>
<path d="M392.98,433.84 L392.98,431.24 A2.6,2.6 0 0 1 395.58,433.84 Z" fill="#e81010"/>
<circle cx="392.98" cy="433.84" r="2.6" fill="url(#gSh2)" stroke="#777" stroke-width="0.35"/>
<circle cx="392.88" cy="423.50" r="2.6" fill="#f2f2f2"/>
<path d="M392.88,423.50 L392.88,420.90 A2.6,2.6 0 0 1 395.48,423.50 Z" fill="#e81010"/>
<circle cx="392.88" cy="423.50" r="2.6" fill="url(#gSh2)" stroke="#777" stroke-width="0.35"/>
<circle cx="383.98" cy="418.25" r="2.6" fill="#f2f2f2"/>
<path d="M383.98,418.25 L383.98,415.65 A2.6,2.6 0 0 1 386.58,418.25 Z" fill="#e81010"/>
<circle cx="383.98" cy="418.25" r="2.6" fill="url(#gSh2)" stroke="#777" stroke-width="0.35"/>
<circle cx="392.88" cy="413.00" r="2.6" fill="#f2f2f2"/>
<path d="M392.88,413.00 L392.88,410.40 A2.6,2.6 0 0 1 395.48,413.00 Z" fill="#e81010"/>
<circle cx="392.88" cy="413.00" r="2.6" fill="url(#gSh2)" stroke="#777" stroke-width="0.35"/>
<circle cx="392.98" cy="402.66" r="2.6" fill="#f2f2f2"/>
<path d="M392.98,402.66 L392.98,400.06 A2.6,2.6 0 0 1 395.58,402.66 Z" fill="#e81010"/>
<circle cx="392.98" cy="402.66" r="2.6" fill="url(#gSh2)" stroke="#777" stroke-width="0.35"/>
<circle cx="401.98" cy="407.75" r="2.6" fill="#f2f2f2"/>
<path d="M401.98,407.75 L401.98,405.15 A2.6,2.6 0 0 1 404.58,407.75 Z" fill="#e81010"/>
<circle cx="401.98" cy="407.75" r="2.6" fill="url(#gSh2)" stroke="#777" stroke-width="0.35"/>
<circle cx="410.98" cy="402.66" r="2.6" fill="#f2f2f2"/>
<path d="M410.98,402.66 L410.98,400.06 A2.6,2.6 0 0 1 413.58,402.66 Z" fill="#e81010"/>
<circle cx="410.98" cy="402.66" r="2.6" fill="url(#gSh2)" stroke="#777" stroke-width="0.35"/>
<circle cx="411.07" cy="413.00" r="2.6" fill="#f2f2f2"/>
<path d="M411.07,413.00 L411.07,410.40 A2.6,2.6 0 0 1 413.67,413.00 Z" fill="#e81010"/>
<circle cx="411.07" cy="413.00" r="2.6" fill="url(#gSh2)" stroke="#777" stroke-width="0.35"/>
<circle cx="419.98" cy="494.95" r="2.6" fill="#f2f2f2"/>
<path d="M419.98,494.95 L419.98,492.35 A2.6,2.6 0 0 1 422.58,494.95 Z" fill="#e81010"/>
<circle cx="419.98" cy="494.95" r="2.6" fill="url(#gSh2)" stroke="#777" stroke-width="0.35"/>
<circle cx="411.07" cy="500.20" r="2.6" fill="#f2f2f2"/>
<path d="M411.07,500.20 L411.07,497.60 A2.6,2.6 0 0 1 413.67,500.20 Z" fill="#e81010"/>
<circle cx="411.07" cy="500.20" r="2.6" fill="url(#gSh2)" stroke="#777" stroke-width="0.35"/>
<circle cx="410.98" cy="510.54" r="2.6" fill="#f2f2f2"/>
<path d="M410.98,510.54 L410.98,507.94 A2.6,2.6 0 0 1 413.58,510.54 Z" fill="#e81010"/>
<circle cx="410.98" cy="510.54" r="2.6" fill="url(#gSh2)" stroke="#777" stroke-width="0.35"/>
<circle cx="401.98" cy="505.45" r="2.6" fill="#f2f2f2"/>
<path d="M401.98,505.45 L401.98,502.85 A2.6,2.6 0 0 1 404.58,505.45 Z" fill="#e81010"/>
<circle cx="401.98" cy="505.45" r="2.6" fill="url(#gSh2)" stroke="#777" stroke-width="0.35"/>
<circle cx="392.98" cy="510.54" r="2.6" fill="#f2f2f2"/>
<path d="M392.98,510.54 L392.98,507.94 A2.6,2.6 0 0 1 395.58,510.54 Z" fill="#e81010"/>
<circle cx="392.98" cy="510.54" r="2.6" fill="url(#gSh2)" stroke="#777" stroke-width="0.35"/>
<circle cx="392.88" cy="500.20" r="2.6" fill="#f2f2f2"/>
<path d="M392.88,500.20 L392.88,497.60 A2.6,2.6 0 0 1 395.48,500.20 Z" fill="#e81010"/>
<circle cx="392.88" cy="500.20" r="2.6" fill="url(#gSh2)" stroke="#777" stroke-width="0.35"/>
<circle cx="383.98" cy="494.95" r="2.6" fill="#f2f2f2"/>
<path d="M383.98,494.95 L383.98,492.35 A2.6,2.6 0 0 1 386.58,494.95 Z" fill="#e81010"/>
<circle cx="383.98" cy="494.95" r="2.6" fill="url(#gSh2)" stroke="#777" stroke-width="0.35"/>
<circle cx="392.88" cy="489.70" r="2.6" fill="#f2f2f2"/>
<path d="M392.88,489.70 L392.88,487.10 A2.6,2.6 0 0 1 395.48,489.70 Z" fill="#e81010"/>
<circle cx="392.88" cy="489.70" r="2.6" fill="url(#gSh2)" stroke="#777" stroke-width="0.35"/>
<circle cx="392.98" cy="479.36" r="2.6" fill="#f2f2f2"/>
<path d="M392.98,479.36 L392.98,476.76 A2.6,2.6 0 0 1 395.58,479.36 Z" fill="#e81010"/>
<circle cx="392.98" cy="479.36" r="2.6" fill="url(#gSh2)" stroke="#777" stroke-width="0.35"/>
<circle cx="401.98" cy="484.45" r="2.6" fill="#f2f2f2"/>
<path d="M401.98,484.45 L401.98,481.85 A2.6,2.6 0 0 1 404.58,484.45 Z" fill="#e81010"/>
<circle cx="401.98" cy="484.45" r="2.6" fill="url(#gSh2)" stroke="#777" stroke-width="0.35"/>
<circle cx="410.98" cy="479.36" r="2.6" fill="#f2f2f2"/>
<path d="M410.98,479.36 L410.98,476.76 A2.6,2.6 0 0 1 413.58,479.36 Z" fill="#e81010"/>
<circle cx="410.98" cy="479.36" r="2.6" fill="url(#gSh2)" stroke="#777" stroke-width="0.35"/>
<circle cx="411.07" cy="489.70" r="2.6" fill="#f2f2f2"/>
<path d="M411.07,489.70 L411.07,487.10 A2.6,2.6 0 0 1 413.67,489.70 Z" fill="#e81010"/>
<circle cx="411.07" cy="489.70" r="2.6" fill="url(#gSh2)" stroke="#777" stroke-width="0.35"/>
<circle cx="486.40" cy="533.30" r="2.6" fill="#f2f2f2"/>
<path d="M486.40,533.30 L486.40,530.70 A2.6,2.6 0 0 1 489.00,533.30 Z" fill="#e81010"/>
<circle cx="486.40" cy="533.30" r="2.6" fill="url(#gSh2)" stroke="#777" stroke-width="0.35"/>
<circle cx="477.49" cy="538.55" r="2.6" fill="#f2f2f2"/>
<path d="M477.49,538.55 L477.49,535.95 A2.6,2.6 0 0 1 480.09,538.55 Z" fill="#e81010"/>
<circle cx="477.49" cy="538.55" r="2.6" fill="url(#gSh2)" stroke="#777" stroke-width="0.35"/>
<circle cx="477.40" cy="548.89" r="2.6" fill="#f2f2f2"/>
<path d="M477.40,548.89 L477.40,546.29 A2.6,2.6 0 0 1 480.00,548.89 Z" fill="#e81010"/>
<circle cx="477.40" cy="548.89" r="2.6" fill="url(#gSh2)" stroke="#777" stroke-width="0.35"/>
<circle cx="468.40" cy="543.80" r="2.6" fill="#f2f2f2"/>
<path d="M468.40,543.80 L468.40,541.20 A2.6,2.6 0 0 1 471.00,543.80 Z" fill="#e81010"/>
<circle cx="468.40" cy="543.80" r="2.6" fill="url(#gSh2)" stroke="#777" stroke-width="0.35"/>
<circle cx="459.40" cy="548.89" r="2.6" fill="#f2f2f2"/>
<path d="M459.40,548.89 L459.40,546.29 A2.6,2.6 0 0 1 462.00,548.89 Z" fill="#e81010"/>
<circle cx="459.40" cy="548.89" r="2.6" fill="url(#gSh2)" stroke="#777" stroke-width="0.35"/>
<circle cx="459.31" cy="538.55" r="2.6" fill="#f2f2f2"/>
<path d="M459.31,538.55 L459.31,535.95 A2.6,2.6 0 0 1 461.91,538.55 Z" fill="#e81010"/>
<circle cx="459.31" cy="538.55" r="2.6" fill="url(#gSh2)" stroke="#777" stroke-width="0.35"/>
<circle cx="450.40" cy="533.30" r="2.6" fill="#f2f2f2"/>
<path d="M450.40,533.30 L450.40,530.70 A2.6,2.6 0 0 1 453.00,533.30 Z" fill="#e81010"/>
<circle cx="450.40" cy="533.30" r="2.6" fill="url(#gSh2)" stroke="#777" stroke-width="0.35"/>
<circle cx="459.31" cy="528.05" r="2.6" fill="#f2f2f2"/>
<path d="M459.31,528.05 L459.31,525.45 A2.6,2.6 0 0 1 461.91,528.05 Z" fill="#e81010"/>
<circle cx="459.31" cy="528.05" r="2.6" fill="url(#gSh2)" stroke="#777" stroke-width="0.35"/>
<circle cx="459.40" cy="517.71" r="2.6" fill="#f2f2f2"/>
<path d="M459.40,517.71 L459.40,515.11 A2.6,2.6 0 0 1 462.00,517.71 Z" fill="#e81010"/>
<circle cx="459.40" cy="517.71" r="2.6" fill="url(#gSh2)" stroke="#777" stroke-width="0.35"/>
<circle cx="468.40" cy="522.80" r="2.6" fill="#f2f2f2"/>
<path d="M468.40,522.80 L468.40,520.20 A2.6,2.6 0 0 1 471.00,522.80 Z" fill="#e81010"/>
<circle cx="468.40" cy="522.80" r="2.6" fill="url(#gSh2)" stroke="#777" stroke-width="0.35"/>
<circle cx="477.40" cy="517.71" r="2.6" fill="#f2f2f2"/>
<path d="M477.40,517.71 L477.40,515.11 A2.6,2.6 0 0 1 480.00,517.71 Z" fill="#e81010"/>
<circle cx="477.40" cy="517.71" r="2.6" fill="url(#gSh2)" stroke="#777" stroke-width="0.35"/>
<circle cx="477.49" cy="528.05" r="2.6" fill="#f2f2f2"/>
<path d="M477.49,528.05 L477.49,525.45 A2.6,2.6 0 0 1 480.09,528.05 Z" fill="#e81010"/>
<circle cx="477.49" cy="528.05" r="2.6" fill="url(#gSh2)" stroke="#777" stroke-width="0.35"/>
<circle cx="552.82" cy="494.95" r="2.6" fill="#f2f2f2"/>
<path d="M552.82,494.95 L552.82,492.35 A2.6,2.6 0 0 1 555.42,494.95 Z" fill="#e81010"/>
<circle cx="552.82" cy="494.95" r="2.6" fill="url(#gSh2)" stroke="#777" stroke-width="0.35"/>
<circle cx="543.92" cy="500.20" r="2.6" fill="#f2f2f2"/>
<path d="M543.92,500.20 L543.92,497.60 A2.6,2.6 0 0 1 546.52,500.20 Z" fill="#e81010"/>
<circle cx="543.92" cy="500.20" r="2.6" fill="url(#gSh2)" stroke="#777" stroke-width="0.35"/>
<circle cx="543.82" cy="510.54" r="2.6" fill="#f2f2f2"/>
<path d="M543.82,510.54 L543.82,507.94 A2.6,2.6 0 0 1 546.42,510.54 Z" fill="#e81010"/>
<circle cx="543.82" cy="510.54" r="2.6" fill="url(#gSh2)" stroke="#777" stroke-width="0.35"/>
<circle cx="534.82" cy="505.45" r="2.6" fill="#f2f2f2"/>
<path d="M534.82,505.45 L534.82,502.85 A2.6,2.6 0 0 1 537.42,505.45 Z" fill="#e81010"/>
<circle cx="534.82" cy="505.45" r="2.6" fill="url(#gSh2)" stroke="#777" stroke-width="0.35"/>
<circle cx="525.82" cy="510.54" r="2.6" fill="#f2f2f2"/>
<path d="M525.82,510.54 L525.82,507.94 A2.6,2.6 0 0 1 528.42,510.54 Z" fill="#e81010"/>
<circle cx="525.82" cy="510.54" r="2.6" fill="url(#gSh2)" stroke="#777" stroke-width="0.35"/>
<circle cx="525.73" cy="500.20" r="2.6" fill="#f2f2f2"/>
<path d="M525.73,500.20 L525.73,497.60 A2.6,2.6 0 0 1 528.33,500.20 Z" fill="#e81010"/>
<circle cx="525.73" cy="500.20" r="2.6" fill="url(#gSh2)" stroke="#777" stroke-width="0.35"/>
<circle cx="516.82" cy="494.95" r="2.6" fill="#f2f2f2"/>
<path d="M516.82,494.95 L516.82,492.35 A2.6,2.6 0 0 1 519.42,494.95 Z" fill="#e81010"/>
<circle cx="516.82" cy="494.95" r="2.6" fill="url(#gSh2)" stroke="#777" stroke-width="0.35"/>
<circle cx="525.73" cy="489.70" r="2.6" fill="#f2f2f2"/>
<path d="M525.73,489.70 L525.73,487.10 A2.6,2.6 0 0 1 528.33,489.70 Z" fill="#e81010"/>
<circle cx="525.73" cy="489.70" r="2.6" fill="url(#gSh2)" stroke="#777" stroke-width="0.35"/>
<circle cx="525.82" cy="479.36" r="2.6" fill="#f2f2f2"/>
<path d="M525.82,479.36 L525.82,476.76 A2.6,2.6 0 0 1 528.42,479.36 Z" fill="#e81010"/>
<circle cx="525.82" cy="479.36" r="2.6" fill="url(#gSh2)" stroke="#777" stroke-width="0.35"/>
<circle cx="534.82" cy="484.45" r="2.6" fill="#f2f2f2"/>
<path d="M534.82,484.45 L534.82,481.85 A2.6,2.6 0 0 1 537.42,484.45 Z" fill="#e81010"/>
<circle cx="534.82" cy="484.45" r="2.6" fill="url(#gSh2)" stroke="#777" stroke-width="0.35"/>
<circle cx="543.82" cy="479.36" r="2.6" fill="#f2f2f2"/>
<path d="M543.82,479.36 L543.82,476.76 A2.6,2.6 0 0 1 546.42,479.36 Z" fill="#e81010"/>
<circle cx="543.82" cy="479.36" r="2.6" fill="url(#gSh2)" stroke="#777" stroke-width="0.35"/>
<circle cx="543.92" cy="489.70" r="2.6" fill="#f2f2f2"/>
<path d="M543.92,489.70 L543.92,487.10 A2.6,2.6 0 0 1 546.52,489.70 Z" fill="#e81010"/>
<circle cx="543.92" cy="489.70" r="2.6" fill="url(#gSh2)" stroke="#777" stroke-width="0.35"/>
<circle cx="552.82" cy="418.25" r="2.6" fill="#f2f2f2"/>
<path d="M552.82,418.25 L552.82,415.65 A2.6,2.6 0 0 1 555.42,418.25 Z" fill="#e81010"/>
<circle cx="552.82" cy="418.25" r="2.6" fill="url(#gSh2)" stroke="#777" stroke-width="0.35"/>
<circle cx="543.92" cy="423.50" r="2.6" fill="#f2f2f2"/>
<path d="M543.92,423.50 L543.92,420.90 A2.6,2.6 0 0 1 546.52,423.50 Z" fill="#e81010"/>
<circle cx="543.92" cy="423.50" r="2.6" fill="url(#gSh2)" stroke="#777" stroke-width="0.35"/>
<circle cx="543.82" cy="433.84" r="2.6" fill="#f2f2f2"/>
<path d="M543.82,433.84 L543.82,431.24 A2.6,2.6 0 0 1 546.42,433.84 Z" fill="#e81010"/>
<circle cx="543.82" cy="433.84" r="2.6" fill="url(#gSh2)" stroke="#777" stroke-width="0.35"/>
<circle cx="534.82" cy="428.75" r="2.6" fill="#f2f2f2"/>
<path d="M534.82,428.75 L534.82,426.15 A2.6,2.6 0 0 1 537.42,428.75 Z" fill="#e81010"/>
<circle cx="534.82" cy="428.75" r="2.6" fill="url(#gSh2)" stroke="#777" stroke-width="0.35"/>
<circle cx="525.82" cy="433.84" r="2.6" fill="#f2f2f2"/>
<path d="M525.82,433.84 L525.82,431.24 A2.6,2.6 0 0 1 528.42,433.84 Z" fill="#e81010"/>
<circle cx="525.82" cy="433.84" r="2.6" fill="url(#gSh2)" stroke="#777" stroke-width="0.35"/>
<circle cx="525.73" cy="423.50" r="2.6" fill="#f2f2f2"/>
<path d="M525.73,423.50 L525.73,420.90 A2.6,2.6 0 0 1 528.33,423.50 Z" fill="#e81010"/>
<circle cx="525.73" cy="423.50" r="2.6" fill="url(#gSh2)" stroke="#777" stroke-width="0.35"/>
<circle cx="516.82" cy="418.25" r="2.6" fill="#f2f2f2"/>
<path d="M516.82,418.25 L516.82,415.65 A2.6,2.6 0 0 1 519.42,418.25 Z" fill="#e81010"/>
<circle cx="516.82" cy="418.25" r="2.6" fill="url(#gSh2)" stroke="#777" stroke-width="0.35"/>
<circle cx="525.73" cy="413.00" r="2.6" fill="#f2f2f2"/>
<path d="M525.73,413.00 L525.73,410.40 A2.6,2.6 0 0 1 528.33,413.00 Z" fill="#e81010"/>
<circle cx="525.73" cy="413.00" r="2.6" fill="url(#gSh2)" stroke="#777" stroke-width="0.35"/>
<circle cx="525.82" cy="402.66" r="2.6" fill="#f2f2f2"/>
<path d="M525.82,402.66 L525.82,400.06 A2.6,2.6 0 0 1 528.42,402.66 Z" fill="#e81010"/>
<circle cx="525.82" cy="402.66" r="2.6" fill="url(#gSh2)" stroke="#777" stroke-width="0.35"/>
<circle cx="534.82" cy="407.75" r="2.6" fill="#f2f2f2"/>
<path d="M534.82,407.75 L534.82,405.15 A2.6,2.6 0 0 1 537.42,407.75 Z" fill="#e81010"/>
<circle cx="534.82" cy="407.75" r="2.6" fill="url(#gSh2)" stroke="#777" stroke-width="0.35"/>
<circle cx="543.82" cy="402.66" r="2.6" fill="#f2f2f2"/>
<path d="M543.82,402.66 L543.82,400.06 A2.6,2.6 0 0 1 546.42,402.66 Z" fill="#e81010"/>
<circle cx="543.82" cy="402.66" r="2.6" fill="url(#gSh2)" stroke="#777" stroke-width="0.35"/>
<circle cx="543.92" cy="413.00" r="2.6" fill="#f2f2f2"/>
<path d="M543.92,413.00 L543.92,410.40 A2.6,2.6 0 0 1 546.52,413.00 Z" fill="#e81010"/>
<circle cx="543.92" cy="413.00" r="2.6" fill="url(#gSh2)" stroke="#777" stroke-width="0.35"/>
<circle cx="486.40" cy="456.60" r="2.6" fill="#f2f2f2"/>
<path d="M486.40,456.60 L486.40,454.00 A2.6,2.6 0 0 1 489.00,456.60 Z" fill="#e81010"/>
<circle cx="486.40" cy="456.60" r="2.6" fill="url(#gSh2)" stroke="#777" stroke-width="0.35"/>
<circle cx="477.49" cy="461.85" r="2.6" fill="#f2f2f2"/>
<path d="M477.49,461.85 L477.49,459.25 A2.6,2.6 0 0 1 480.09,461.85 Z" fill="#e81010"/>
<circle cx="477.49" cy="461.85" r="2.6" fill="url(#gSh2)" stroke="#777" stroke-width="0.35"/>
<circle cx="477.40" cy="472.19" r="2.6" fill="#f2f2f2"/>
<path d="M477.40,472.19 L477.40,469.59 A2.6,2.6 0 0 1 480.00,472.19 Z" fill="#e81010"/>
<circle cx="477.40" cy="472.19" r="2.6" fill="url(#gSh2)" stroke="#777" stroke-width="0.35"/>
<circle cx="468.40" cy="467.10" r="2.6" fill="#f2f2f2"/>
<path d="M468.40,467.10 L468.40,464.50 A2.6,2.6 0 0 1 471.00,467.10 Z" fill="#e81010"/>
<circle cx="468.40" cy="467.10" r="2.6" fill="url(#gSh2)" stroke="#777" stroke-width="0.35"/>
<circle cx="459.40" cy="472.19" r="2.6" fill="#f2f2f2"/>
<path d="M459.40,472.19 L459.40,469.59 A2.6,2.6 0 0 1 462.00,472.19 Z" fill="#e81010"/>
<circle cx="459.40" cy="472.19" r="2.6" fill="url(#gSh2)" stroke="#777" stroke-width="0.35"/>
<circle cx="459.31" cy="461.85" r="2.6" fill="#f2f2f2"/>
<path d="M459.31,461.85 L459.31,459.25 A2.6,2.6 0 0 1 461.91,461.85 Z" fill="#e81010"/>
<circle cx="459.31" cy="461.85" r="2.6" fill="url(#gSh2)" stroke="#777" stroke-width="0.35"/>
<circle cx="450.40" cy="456.60" r="2.6" fill="#f2f2f2"/>
<path d="M450.40,456.60 L450.40,454.00 A2.6,2.6 0 0 1 453.00,456.60 Z" fill="#e81010"/>
<circle cx="450.40" cy="456.60" r="2.6" fill="url(#gSh2)" stroke="#777" stroke-width="0.35"/>
<circle cx="459.31" cy="451.35" r="2.6" fill="#f2f2f2"/>
<path d="M459.31,451.35 L459.31,448.75 A2.6,2.6 0 0 1 461.91,451.35 Z" fill="#e81010"/>
<circle cx="459.31" cy="451.35" r="2.6" fill="url(#gSh2)" stroke="#777" stroke-width="0.35"/>
<circle cx="459.40" cy="441.01" r="2.6" fill="#f2f2f2"/>
<path d="M459.40,441.01 L459.40,438.41 A2.6,2.6 0 0 1 462.00,441.01 Z" fill="#e81010"/>
<circle cx="459.40" cy="441.01" r="2.6" fill="url(#gSh2)" stroke="#777" stroke-width="0.35"/>
<circle cx="468.40" cy="446.10" r="2.6" fill="#f2f2f2"/>
<path d="M468.40,446.10 L468.40,443.50 A2.6,2.6 0 0 1 471.00,446.10 Z" fill="#e81010"/>
<circle cx="468.40" cy="446.10" r="2.6" fill="url(#gSh2)" stroke="#777" stroke-width="0.35"/>
<circle cx="477.40" cy="441.01" r="2.6" fill="#f2f2f2"/>
<path d="M477.40,441.01 L477.40,438.41 A2.6,2.6 0 0 1 480.00,441.01 Z" fill="#e81010"/>
<circle cx="477.40" cy="441.01" r="2.6" fill="url(#gSh2)" stroke="#777" stroke-width="0.35"/>
<circle cx="477.49" cy="451.35" r="2.6" fill="#f2f2f2"/>
<path d="M477.49,451.35 L477.49,448.75 A2.6,2.6 0 0 1 480.09,451.35 Z" fill="#e81010"/>
<circle cx="477.49" cy="451.35" r="2.6" fill="url(#gSh2)" stroke="#777" stroke-width="0.35"/>
<circle cx="468.90" cy="423.00" r="7.5" fill="#ececea"/>
<path d="M468.90,423.00 L472.65,416.50 A7.5,7.5 0 0 1 474.65,427.82 Z" fill="#e8c438"/>
<circle cx="468.90" cy="423.00" r="7.5" fill="url(#gSh)"/>
<circle cx="468.90" cy="412.70" r="7.5" fill="#ececea"/>
<path d="M468.90,412.70 L468.90,405.20 A7.5,7.5 0 0 1 470.20,420.09 Z" fill="#e8c438"/>
<circle cx="468.90" cy="412.70" r="7.5" fill="url(#gSh)"/>
<circle cx="438.50" cy="437.00" r="7.5" fill="#ececea"/>
<path d="M438.50,437.00 L442.25,430.50 A7.5,7.5 0 0 1 444.25,441.82 Z" fill="#e8c438"/>
<circle cx="438.50" cy="437.00" r="7.5" fill="url(#gSh)"/>
<circle cx="429.00" cy="434.40" r="7.5" fill="#ececea"/>
<path d="M429.00,434.40 L429.00,426.90 A7.5,7.5 0 0 1 430.30,441.79 Z" fill="#e8c438"/>
<circle cx="429.00" cy="434.40" r="7.5" fill="url(#gSh)"/>
<circle cx="509.50" cy="432.50" r="7.5" fill="#ececea"/>
<path d="M509.50,432.50 L513.25,426.00 A7.5,7.5 0 0 1 515.25,437.32 Z" fill="#e8c438"/>
<circle cx="509.50" cy="432.50" r="7.5" fill="url(#gSh)"/>
<circle cx="500.40" cy="436.30" r="7.5" fill="#ececea"/>
<path d="M500.40,436.30 L500.40,428.80 A7.5,7.5 0 0 1 501.70,443.69 Z" fill="#e8c438"/>
<circle cx="500.40" cy="436.30" r="7.5" fill="url(#gSh)"/>
<circle cx="440.40" cy="473.10" r="7.5" fill="#ececea"/>
<path d="M440.40,473.10 L444.15,466.60 A7.5,7.5 0 0 1 446.15,477.92 Z" fill="#e8c438"/>
<circle cx="440.40" cy="473.10" r="7.5" fill="url(#gSh)"/>
<circle cx="430.90" cy="476.10" r="7.5" fill="#ececea"/>
<path d="M430.90,476.10 L430.90,468.60 A7.5,7.5 0 0 1 432.20,483.49 Z" fill="#e8c438"/>
<circle cx="430.90" cy="476.10" r="7.5" fill="url(#gSh)"/>
<circle cx="508.00" cy="477.30" r="7.5" fill="#ececea"/>
<path d="M508.00,477.30 L511.75,470.80 A7.5,7.5 0 0 1 513.75,482.12 Z" fill="#e8c438"/>
<circle cx="508.00" cy="477.30" r="7.5" fill="url(#gSh)"/>
<circle cx="499.20" cy="473.50" r="7.5" fill="#ececea"/>
<path d="M499.20,473.50 L499.20,466.00 A7.5,7.5 0 0 1 500.50,480.89 Z" fill="#e8c438"/>
<circle cx="499.20" cy="473.50" r="7.5" fill="url(#gSh)"/>
<circle cx="469.60" cy="503.80" r="7.5" fill="#ececea"/>
<path d="M469.60,503.80 L473.35,497.30 A7.5,7.5 0 0 1 475.35,508.62 Z" fill="#e8c438"/>
<circle cx="469.60" cy="503.80" r="7.5" fill="url(#gSh)"/>
<circle cx="469.60" cy="493.20" r="7.5" fill="#ececea"/>
<path d="M469.60,493.20 L469.60,485.70 A7.5,7.5 0 0 1 470.90,500.59 Z" fill="#e8c438"/>
<circle cx="469.60" cy="493.20" r="7.5" fill="url(#gSh)"/>
<line x1="447.3" y1="392.2" x2="450.0" y2="400.3" stroke="#e81818" stroke-width="1.6"/>
<line x1="450.0" y1="400.3" x2="452.7" y2="408.4" stroke="#8cb8d8" stroke-width="1.6"/>
<line x1="489.5" y1="392.2" x2="486.8" y2="400.3" stroke="#e81818" stroke-width="1.6"/>
<line x1="486.8" y1="400.3" x2="484.1" y2="408.4" stroke="#8cb8d8" stroke-width="1.6"/>
<line x1="427.6" y1="403.6" x2="431.8" y2="410.7" stroke="#e81818" stroke-width="1.6"/>
<line x1="431.8" y1="410.7" x2="435.9" y2="417.8" stroke="#8cb8d8" stroke-width="1.6"/>
<line x1="509.2" y1="403.6" x2="505.0" y2="410.7" stroke="#e81818" stroke-width="1.6"/>
<line x1="505.0" y1="410.7" x2="500.9" y2="417.8" stroke="#8cb8d8" stroke-width="1.6"/>
<line x1="423.9" y1="430.6" x2="421.3" y2="438.7" stroke="#e81818" stroke-width="1.6"/>
<line x1="421.3" y1="438.7" x2="418.8" y2="446.7" stroke="#8cb8d8" stroke-width="1.6"/>
<line x1="512.9" y1="430.6" x2="515.5" y2="438.7" stroke="#e81818" stroke-width="1.6"/>
<line x1="515.5" y1="438.7" x2="518.0" y2="446.7" stroke="#8cb8d8" stroke-width="1.6"/>
<line x1="402.7" y1="447.7" x2="410.8" y2="447.2" stroke="#e81818" stroke-width="1.6"/>
<line x1="410.8" y1="447.2" x2="418.8" y2="446.7" stroke="#8cb8d8" stroke-width="1.6"/>
<line x1="534.1" y1="447.7" x2="526.0" y2="447.2" stroke="#e81818" stroke-width="1.6"/>
<line x1="526.0" y1="447.2" x2="518.0" y2="446.7" stroke="#8cb8d8" stroke-width="1.6"/>
<line x1="443.6" y1="442.3" x2="448.1" y2="435.0" stroke="#e81818" stroke-width="1.6"/>
<line x1="448.1" y1="435.0" x2="452.7" y2="427.7" stroke="#8cb8d8" stroke-width="1.6"/>
<line x1="443.6" y1="442.3" x2="439.6" y2="449.5" stroke="#e81818" stroke-width="1.6"/>
<line x1="439.6" y1="449.5" x2="435.6" y2="456.6" stroke="#8cb8d8" stroke-width="1.6"/>
<line x1="493.2" y1="442.3" x2="488.6" y2="435.0" stroke="#e81818" stroke-width="1.6"/>
<line x1="488.6" y1="435.0" x2="484.1" y2="427.7" stroke="#8cb8d8" stroke-width="1.6"/>
<line x1="493.2" y1="442.3" x2="497.2" y2="449.5" stroke="#e81818" stroke-width="1.6"/>
<line x1="497.2" y1="449.5" x2="501.2" y2="456.6" stroke="#8cb8d8" stroke-width="1.6"/>
<line x1="469.2" y1="431.6" x2="476.6" y2="429.7" stroke="#e81818" stroke-width="1.6"/>
<line x1="476.6" y1="429.7" x2="484.1" y2="427.7" stroke="#8cb8d8" stroke-width="1.6"/>
<line x1="469.2" y1="431.6" x2="460.9" y2="429.7" stroke="#e81818" stroke-width="1.6"/>
<line x1="460.9" y1="429.7" x2="452.7" y2="427.7" stroke="#8cb8d8" stroke-width="1.6"/>
<line x1="443.6" y1="417.8" x2="448.1" y2="413.1" stroke="#e81818" stroke-width="1.6"/>
<line x1="448.1" y1="413.1" x2="452.7" y2="408.4" stroke="#8cb8d8" stroke-width="1.6"/>
<line x1="443.6" y1="417.8" x2="439.8" y2="417.8" stroke="#e81818" stroke-width="1.6"/>
<line x1="439.8" y1="417.8" x2="435.9" y2="417.8" stroke="#8cb8d8" stroke-width="1.6"/>
<line x1="443.6" y1="417.8" x2="448.1" y2="422.8" stroke="#e81818" stroke-width="1.6"/>
<line x1="448.1" y1="422.8" x2="452.7" y2="427.7" stroke="#8cb8d8" stroke-width="1.6"/>
<line x1="493.2" y1="417.8" x2="488.6" y2="413.1" stroke="#e81818" stroke-width="1.6"/>
<line x1="488.6" y1="413.1" x2="484.1" y2="408.4" stroke="#8cb8d8" stroke-width="1.6"/>
<line x1="493.2" y1="417.8" x2="497.0" y2="417.8" stroke="#e81818" stroke-width="1.6"/>
<line x1="497.0" y1="417.8" x2="500.9" y2="417.8" stroke="#8cb8d8" stroke-width="1.6"/>
<line x1="493.2" y1="417.8" x2="488.6" y2="422.8" stroke="#e81818" stroke-width="1.6"/>
<line x1="488.6" y1="422.8" x2="484.1" y2="427.7" stroke="#8cb8d8" stroke-width="1.6"/>
<line x1="448.7" y1="415.6" x2="450.7" y2="412.0" stroke="#e81818" stroke-width="1.6"/>
<line x1="450.7" y1="412.0" x2="452.7" y2="408.4" stroke="#8cb8d8" stroke-width="1.6"/>
<line x1="448.7" y1="415.6" x2="442.3" y2="416.7" stroke="#e81818" stroke-width="1.6"/>
<line x1="442.3" y1="416.7" x2="435.9" y2="417.8" stroke="#8cb8d8" stroke-width="1.6"/>
<line x1="448.7" y1="415.6" x2="450.7" y2="421.7" stroke="#e81818" stroke-width="1.6"/>
<line x1="450.7" y1="421.7" x2="452.7" y2="427.7" stroke="#8cb8d8" stroke-width="1.6"/>
<line x1="488.1" y1="415.6" x2="486.1" y2="412.0" stroke="#e81818" stroke-width="1.6"/>
<line x1="486.1" y1="412.0" x2="484.1" y2="408.4" stroke="#8cb8d8" stroke-width="1.6"/>
<line x1="488.1" y1="415.6" x2="494.5" y2="416.7" stroke="#e81818" stroke-width="1.6"/>
<line x1="494.5" y1="416.7" x2="500.9" y2="417.8" stroke="#8cb8d8" stroke-width="1.6"/>
<line x1="488.1" y1="415.6" x2="486.1" y2="421.7" stroke="#e81818" stroke-width="1.6"/>
<line x1="486.1" y1="421.7" x2="484.1" y2="427.7" stroke="#8cb8d8" stroke-width="1.6"/>
<line x1="447.3" y1="421.4" x2="450.0" y2="414.9" stroke="#e81818" stroke-width="1.6"/>
<line x1="450.0" y1="414.9" x2="452.7" y2="408.4" stroke="#8cb8d8" stroke-width="1.6"/>
<line x1="447.3" y1="421.4" x2="441.6" y2="419.6" stroke="#e81818" stroke-width="1.6"/>
<line x1="441.6" y1="419.6" x2="435.9" y2="417.8" stroke="#8cb8d8" stroke-width="1.6"/>
<line x1="447.3" y1="421.4" x2="450.0" y2="424.6" stroke="#e81818" stroke-width="1.6"/>
<line x1="450.0" y1="424.6" x2="452.7" y2="427.7" stroke="#8cb8d8" stroke-width="1.6"/>
<line x1="489.5" y1="421.4" x2="486.8" y2="414.9" stroke="#e81818" stroke-width="1.6"/>
<line x1="486.8" y1="414.9" x2="484.1" y2="408.4" stroke="#8cb8d8" stroke-width="1.6"/>
<line x1="489.5" y1="421.4" x2="495.2" y2="419.6" stroke="#e81818" stroke-width="1.6"/>
<line x1="495.2" y1="419.6" x2="500.9" y2="417.8" stroke="#8cb8d8" stroke-width="1.6"/>
<line x1="489.5" y1="421.4" x2="486.8" y2="424.6" stroke="#e81818" stroke-width="1.6"/>
<line x1="486.8" y1="424.6" x2="484.1" y2="427.7" stroke="#8cb8d8" stroke-width="1.6"/>
<line x1="402.7" y1="471.2" x2="410.8" y2="468.9" stroke="#e81818" stroke-width="1.6"/>
<line x1="410.8" y1="468.9" x2="418.8" y2="466.5" stroke="#8cb8d8" stroke-width="1.6"/>
<line x1="534.1" y1="471.2" x2="526.0" y2="468.9" stroke="#e81818" stroke-width="1.6"/>
<line x1="526.0" y1="468.9" x2="518.0" y2="466.5" stroke="#8cb8d8" stroke-width="1.6"/>
<line x1="423.9" y1="507.7" x2="429.9" y2="501.6" stroke="#e81818" stroke-width="1.6"/>
<line x1="429.9" y1="501.6" x2="435.9" y2="495.4" stroke="#8cb8d8" stroke-width="1.6"/>
<line x1="512.9" y1="507.7" x2="506.9" y2="501.6" stroke="#e81818" stroke-width="1.6"/>
<line x1="506.9" y1="501.6" x2="500.9" y2="495.4" stroke="#8cb8d8" stroke-width="1.6"/>
<line x1="444.3" y1="518.6" x2="448.5" y2="511.7" stroke="#e81818" stroke-width="1.6"/>
<line x1="448.5" y1="511.7" x2="452.7" y2="504.8" stroke="#8cb8d8" stroke-width="1.6"/>
<line x1="492.5" y1="518.6" x2="488.3" y2="511.7" stroke="#e81818" stroke-width="1.6"/>
<line x1="488.3" y1="511.7" x2="484.1" y2="504.8" stroke="#8cb8d8" stroke-width="1.6"/>
<line x1="448.0" y1="468.7" x2="450.4" y2="477.1" stroke="#e81818" stroke-width="1.6"/>
<line x1="450.4" y1="477.1" x2="452.7" y2="485.5" stroke="#8cb8d8" stroke-width="1.6"/>
<line x1="448.0" y1="468.7" x2="441.8" y2="462.7" stroke="#e81818" stroke-width="1.6"/>
<line x1="441.8" y1="462.7" x2="435.6" y2="456.6" stroke="#8cb8d8" stroke-width="1.6"/>
<line x1="488.8" y1="468.7" x2="486.4" y2="477.1" stroke="#e81818" stroke-width="1.6"/>
<line x1="486.4" y1="477.1" x2="484.1" y2="485.5" stroke="#8cb8d8" stroke-width="1.6"/>
<line x1="488.8" y1="468.7" x2="495.0" y2="462.7" stroke="#e81818" stroke-width="1.6"/>
<line x1="495.0" y1="462.7" x2="501.2" y2="456.6" stroke="#8cb8d8" stroke-width="1.6"/>
<line x1="469.2" y1="485.0" x2="476.6" y2="485.2" stroke="#e81818" stroke-width="1.6"/>
<line x1="476.6" y1="485.2" x2="484.1" y2="485.5" stroke="#8cb8d8" stroke-width="1.6"/>
<line x1="469.2" y1="485.0" x2="460.9" y2="485.2" stroke="#e81818" stroke-width="1.6"/>
<line x1="460.9" y1="485.2" x2="452.7" y2="485.5" stroke="#8cb8d8" stroke-width="1.6"/>
<line x1="469.2" y1="508.4" x2="476.6" y2="506.6" stroke="#e81818" stroke-width="1.6"/>
<line x1="476.6" y1="506.6" x2="484.1" y2="504.8" stroke="#8cb8d8" stroke-width="1.6"/>
<line x1="469.2" y1="508.4" x2="460.9" y2="506.6" stroke="#e81818" stroke-width="1.6"/>
<line x1="460.9" y1="506.6" x2="452.7" y2="504.8" stroke="#8cb8d8" stroke-width="1.6"/>
<line x1="443.6" y1="493.8" x2="448.1" y2="499.3" stroke="#e81818" stroke-width="1.6"/>
<line x1="448.1" y1="499.3" x2="452.7" y2="504.8" stroke="#8cb8d8" stroke-width="1.6"/>
<line x1="443.6" y1="493.8" x2="439.8" y2="494.6" stroke="#e81818" stroke-width="1.6"/>
<line x1="439.8" y1="494.6" x2="435.9" y2="495.4" stroke="#8cb8d8" stroke-width="1.6"/>
<line x1="443.6" y1="493.8" x2="448.1" y2="489.6" stroke="#e81818" stroke-width="1.6"/>
<line x1="448.1" y1="489.6" x2="452.7" y2="485.5" stroke="#8cb8d8" stroke-width="1.6"/>
<line x1="493.2" y1="493.8" x2="488.6" y2="499.3" stroke="#e81818" stroke-width="1.6"/>
<line x1="488.6" y1="499.3" x2="484.1" y2="504.8" stroke="#8cb8d8" stroke-width="1.6"/>
<line x1="493.2" y1="493.8" x2="497.0" y2="494.6" stroke="#e81818" stroke-width="1.6"/>
<line x1="497.0" y1="494.6" x2="500.9" y2="495.4" stroke="#8cb8d8" stroke-width="1.6"/>
<line x1="493.2" y1="493.8" x2="488.6" y2="489.6" stroke="#e81818" stroke-width="1.6"/>
<line x1="488.6" y1="489.6" x2="484.1" y2="485.5" stroke="#8cb8d8" stroke-width="1.6"/>
<line x1="448.7" y1="492.3" x2="450.7" y2="498.6" stroke="#e81818" stroke-width="1.6"/>
<line x1="450.7" y1="498.6" x2="452.7" y2="504.8" stroke="#8cb8d8" stroke-width="1.6"/>
<line x1="448.7" y1="492.3" x2="442.3" y2="493.9" stroke="#e81818" stroke-width="1.6"/>
<line x1="442.3" y1="493.9" x2="435.9" y2="495.4" stroke="#8cb8d8" stroke-width="1.6"/>
<line x1="448.7" y1="492.3" x2="450.7" y2="488.9" stroke="#e81818" stroke-width="1.6"/>
<line x1="450.7" y1="488.9" x2="452.7" y2="485.5" stroke="#8cb8d8" stroke-width="1.6"/>
<line x1="488.1" y1="492.3" x2="486.1" y2="498.6" stroke="#e81818" stroke-width="1.6"/>
<line x1="486.1" y1="498.6" x2="484.1" y2="504.8" stroke="#8cb8d8" stroke-width="1.6"/>
<line x1="488.1" y1="492.3" x2="494.5" y2="493.9" stroke="#e81818" stroke-width="1.6"/>
<line x1="494.5" y1="493.9" x2="500.9" y2="495.4" stroke="#8cb8d8" stroke-width="1.6"/>
<line x1="488.1" y1="492.3" x2="486.1" y2="488.9" stroke="#e81818" stroke-width="1.6"/>
<line x1="486.1" y1="488.9" x2="484.1" y2="485.5" stroke="#8cb8d8" stroke-width="1.6"/>
<line x1="448.0" y1="497.4" x2="450.4" y2="501.1" stroke="#e81818" stroke-width="1.6"/>
<line x1="450.4" y1="501.1" x2="452.7" y2="504.8" stroke="#8cb8d8" stroke-width="1.6"/>
<line x1="448.0" y1="497.4" x2="441.9" y2="496.4" stroke="#e81818" stroke-width="1.6"/>
<line x1="441.9" y1="496.4" x2="435.9" y2="495.4" stroke="#8cb8d8" stroke-width="1.6"/>
<line x1="448.0" y1="497.4" x2="450.4" y2="491.5" stroke="#e81818" stroke-width="1.6"/>
<line x1="450.4" y1="491.5" x2="452.7" y2="485.5" stroke="#8cb8d8" stroke-width="1.6"/>
<line x1="488.8" y1="497.4" x2="486.4" y2="501.1" stroke="#e81818" stroke-width="1.6"/>
<line x1="486.4" y1="501.1" x2="484.1" y2="504.8" stroke="#8cb8d8" stroke-width="1.6"/>
<line x1="488.8" y1="497.4" x2="494.8" y2="496.4" stroke="#e81818" stroke-width="1.6"/>
<line x1="494.8" y1="496.4" x2="500.9" y2="495.4" stroke="#8cb8d8" stroke-width="1.6"/>
<line x1="488.8" y1="497.4" x2="486.4" y2="491.5" stroke="#e81818" stroke-width="1.6"/>
<line x1="486.4" y1="491.5" x2="484.1" y2="485.5" stroke="#8cb8d8" stroke-width="1.6"/>
<line x1="423.2" y1="455.8" x2="421.0" y2="461.1" stroke="#e81818" stroke-width="1.6"/>
<line x1="421.0" y1="461.1" x2="418.8" y2="466.5" stroke="#8cb8d8" stroke-width="1.6"/>
<line x1="423.2" y1="455.8" x2="421.0" y2="451.2" stroke="#e81818" stroke-width="1.6"/>
<line x1="421.0" y1="451.2" x2="418.8" y2="446.7" stroke="#8cb8d8" stroke-width="1.6"/>
<line x1="423.2" y1="455.8" x2="429.4" y2="456.2" stroke="#e81818" stroke-width="1.6"/>
<line x1="429.4" y1="456.2" x2="435.6" y2="456.6" stroke="#8cb8d8" stroke-width="1.6"/>
<line x1="513.6" y1="455.8" x2="515.8" y2="461.1" stroke="#e81818" stroke-width="1.6"/>
<line x1="515.8" y1="461.1" x2="518.0" y2="466.5" stroke="#8cb8d8" stroke-width="1.6"/>
<line x1="513.6" y1="455.8" x2="515.8" y2="451.2" stroke="#e81818" stroke-width="1.6"/>
<line x1="515.8" y1="451.2" x2="518.0" y2="446.7" stroke="#8cb8d8" stroke-width="1.6"/>
<line x1="513.6" y1="455.8" x2="507.4" y2="456.2" stroke="#e81818" stroke-width="1.6"/>
<line x1="507.4" y1="456.2" x2="501.2" y2="456.6" stroke="#8cb8d8" stroke-width="1.6"/>
<line x1="427.4" y1="455.8" x2="423.1" y2="461.1" stroke="#e81818" stroke-width="1.6"/>
<line x1="423.1" y1="461.1" x2="418.8" y2="466.5" stroke="#8cb8d8" stroke-width="1.6"/>
<line x1="427.4" y1="455.8" x2="423.1" y2="451.2" stroke="#e81818" stroke-width="1.6"/>
<line x1="423.1" y1="451.2" x2="418.8" y2="446.7" stroke="#8cb8d8" stroke-width="1.6"/>
<line x1="427.4" y1="455.8" x2="431.5" y2="456.2" stroke="#e81818" stroke-width="1.6"/>
<line x1="431.5" y1="456.2" x2="435.6" y2="456.6" stroke="#8cb8d8" stroke-width="1.6"/>
<line x1="509.4" y1="455.8" x2="513.7" y2="461.1" stroke="#e81818" stroke-width="1.6"/>
<line x1="513.7" y1="461.1" x2="518.0" y2="466.5" stroke="#8cb8d8" stroke-width="1.6"/>
<line x1="509.4" y1="455.8" x2="513.7" y2="451.2" stroke="#e81818" stroke-width="1.6"/>
<line x1="513.7" y1="451.2" x2="518.0" y2="446.7" stroke="#8cb8d8" stroke-width="1.6"/>
<line x1="509.4" y1="455.8" x2="505.3" y2="456.2" stroke="#e81818" stroke-width="1.6"/>
<line x1="505.3" y1="456.2" x2="501.2" y2="456.6" stroke="#8cb8d8" stroke-width="1.6"/>
<line x1="423.9" y1="460.2" x2="421.3" y2="463.4" stroke="#e81818" stroke-width="1.6"/>
<line x1="421.3" y1="463.4" x2="418.8" y2="466.5" stroke="#8cb8d8" stroke-width="1.6"/>
<line x1="423.9" y1="460.2" x2="421.3" y2="453.5" stroke="#e81818" stroke-width="1.6"/>
<line x1="421.3" y1="453.5" x2="418.8" y2="446.7" stroke="#8cb8d8" stroke-width="1.6"/>
<line x1="423.9" y1="460.2" x2="429.8" y2="458.4" stroke="#e81818" stroke-width="1.6"/>
<line x1="429.8" y1="458.4" x2="435.6" y2="456.6" stroke="#8cb8d8" stroke-width="1.6"/>
<line x1="512.9" y1="460.2" x2="515.5" y2="463.4" stroke="#e81818" stroke-width="1.6"/>
<line x1="515.5" y1="463.4" x2="518.0" y2="466.5" stroke="#8cb8d8" stroke-width="1.6"/>
<line x1="512.9" y1="460.2" x2="515.5" y2="453.5" stroke="#e81818" stroke-width="1.6"/>
<line x1="515.5" y1="453.5" x2="518.0" y2="446.7" stroke="#8cb8d8" stroke-width="1.6"/>
<line x1="512.9" y1="460.2" x2="507.0" y2="458.4" stroke="#e81818" stroke-width="1.6"/>
<line x1="507.0" y1="458.4" x2="501.2" y2="456.6" stroke="#8cb8d8" stroke-width="1.6"/>
<line x1="469.2" y1="404.6" x2="476.6" y2="406.5" stroke="#e81818" stroke-width="1.6"/>
<line x1="476.6" y1="406.5" x2="484.1" y2="408.4" stroke="#8cb8d8" stroke-width="1.6"/>
<line x1="469.2" y1="404.6" x2="460.9" y2="406.5" stroke="#e81818" stroke-width="1.6"/>
<line x1="460.9" y1="406.5" x2="452.7" y2="408.4" stroke="#8cb8d8" stroke-width="1.6"/>
<circle cx="484.10" cy="504.80" r="5.8" fill="#8cb6dc"/>
<path d="M484.10,504.80 L484.10,510.60 A5.8,5.8 0 0 1 484.10,499.00 Z" fill="#1c3cd8"/>
<circle cx="484.10" cy="504.80" r="5.8" fill="url(#gSh)"/>
<circle cx="484.10" cy="408.40" r="5.8" fill="#8cb6dc"/>
<path d="M484.10,408.40 L484.10,414.20 A5.8,5.8 0 0 1 484.10,402.60 Z" fill="#1c3cd8"/>
<circle cx="484.10" cy="408.40" r="5.8" fill="url(#gSh)"/>
<circle cx="452.70" cy="504.80" r="5.8" fill="#8cb6dc"/>
<path d="M452.70,504.80 L452.70,510.60 A5.8,5.8 0 0 1 452.70,499.00 Z" fill="#1c3cd8"/>
<circle cx="452.70" cy="504.80" r="5.8" fill="url(#gSh)"/>
<circle cx="452.70" cy="408.40" r="5.8" fill="#8cb6dc"/>
<path d="M452.70,408.40 L452.70,414.20 A5.8,5.8 0 0 1 452.70,402.60 Z" fill="#1c3cd8"/>
<circle cx="452.70" cy="408.40" r="5.8" fill="url(#gSh)"/>
<circle cx="500.90" cy="495.40" r="5.8" fill="#8cb6dc"/>
<path d="M500.90,495.40 L500.90,501.20 A5.8,5.8 0 0 1 500.90,489.60 Z" fill="#1c3cd8"/>
<circle cx="500.90" cy="495.40" r="5.8" fill="url(#gSh)"/>
<circle cx="500.90" cy="417.80" r="5.8" fill="#8cb6dc"/>
<path d="M500.90,417.80 L500.90,423.60 A5.8,5.8 0 0 1 500.90,412.00 Z" fill="#1c3cd8"/>
<circle cx="500.90" cy="417.80" r="5.8" fill="url(#gSh)"/>
<circle cx="435.90" cy="495.40" r="5.8" fill="#8cb6dc"/>
<path d="M435.90,495.40 L435.90,501.20 A5.8,5.8 0 0 1 435.90,489.60 Z" fill="#1c3cd8"/>
<circle cx="435.90" cy="495.40" r="5.8" fill="url(#gSh)"/>
<circle cx="435.90" cy="417.80" r="5.8" fill="#8cb6dc"/>
<path d="M435.90,417.80 L435.90,423.60 A5.8,5.8 0 0 1 435.90,412.00 Z" fill="#1c3cd8"/>
<circle cx="435.90" cy="417.80" r="5.8" fill="url(#gSh)"/>
<circle cx="484.10" cy="485.50" r="5.8" fill="#8cb6dc"/>
<path d="M484.10,485.50 L484.10,491.30 A5.8,5.8 0 0 1 484.10,479.70 Z" fill="#1c3cd8"/>
<circle cx="484.10" cy="485.50" r="5.8" fill="url(#gSh)"/>
<circle cx="484.10" cy="427.70" r="5.8" fill="#8cb6dc"/>
<path d="M484.10,427.70 L484.10,433.50 A5.8,5.8 0 0 1 484.10,421.90 Z" fill="#1c3cd8"/>
<circle cx="484.10" cy="427.70" r="5.8" fill="url(#gSh)"/>
<circle cx="452.70" cy="485.50" r="5.8" fill="#8cb6dc"/>
<path d="M452.70,485.50 L452.70,491.30 A5.8,5.8 0 0 1 452.70,479.70 Z" fill="#1c3cd8"/>
<circle cx="452.70" cy="485.50" r="5.8" fill="url(#gSh)"/>
<circle cx="452.70" cy="427.70" r="5.8" fill="#8cb6dc"/>
<path d="M452.70,427.70 L452.70,433.50 A5.8,5.8 0 0 1 452.70,421.90 Z" fill="#1c3cd8"/>
<circle cx="452.70" cy="427.70" r="5.8" fill="url(#gSh)"/>
<circle cx="518.00" cy="466.50" r="5.8" fill="#8cb6dc"/>
<path d="M518.00,466.50 L518.00,472.30 A5.8,5.8 0 0 1 518.00,460.70 Z" fill="#1c3cd8"/>
<circle cx="518.00" cy="466.50" r="5.8" fill="url(#gSh)"/>
<circle cx="518.00" cy="446.70" r="5.8" fill="#8cb6dc"/>
<path d="M518.00,446.70 L518.00,452.50 A5.8,5.8 0 0 1 518.00,440.90 Z" fill="#1c3cd8"/>
<circle cx="518.00" cy="446.70" r="5.8" fill="url(#gSh)"/>
<circle cx="418.80" cy="466.50" r="5.8" fill="#8cb6dc"/>
<path d="M418.80,466.50 L418.80,472.30 A5.8,5.8 0 0 1 418.80,460.70 Z" fill="#1c3cd8"/>
<circle cx="418.80" cy="466.50" r="5.8" fill="url(#gSh)"/>
<circle cx="418.80" cy="446.70" r="5.8" fill="#8cb6dc"/>
<path d="M418.80,446.70 L418.80,452.50 A5.8,5.8 0 0 1 418.80,440.90 Z" fill="#1c3cd8"/>
<circle cx="418.80" cy="446.70" r="5.8" fill="url(#gSh)"/>
<circle cx="501.20" cy="456.60" r="5.8" fill="#8cb6dc"/>
<path d="M501.20,456.60 L501.20,462.40 A5.8,5.8 0 0 1 501.20,450.80 Z" fill="#1c3cd8"/>
<circle cx="501.20" cy="456.60" r="5.8" fill="url(#gSh)"/>
<circle cx="435.60" cy="456.60" r="5.8" fill="#8cb6dc"/>
<path d="M435.60,456.60 L435.60,462.40 A5.8,5.8 0 0 1 435.60,450.80 Z" fill="#1c3cd8"/>
<circle cx="435.60" cy="456.60" r="5.8" fill="url(#gSh)"/>
<circle cx="447.30" cy="392.20" r="2.5" fill="#f01010"/>
<circle cx="447.30" cy="392.20" r="2.5" fill="url(#gSh2)"/>
<circle cx="489.50" cy="392.20" r="2.5" fill="#f01010"/>
<circle cx="489.50" cy="392.20" r="2.5" fill="url(#gSh2)"/>
<circle cx="427.60" cy="403.60" r="2.5" fill="#f01010"/>
<circle cx="427.60" cy="403.60" r="2.5" fill="url(#gSh2)"/>
<circle cx="509.20" cy="403.60" r="2.5" fill="#f01010"/>
<circle cx="509.20" cy="403.60" r="2.5" fill="url(#gSh2)"/>
<circle cx="423.90" cy="430.60" r="2.5" fill="#f01010"/>
<circle cx="423.90" cy="430.60" r="2.5" fill="url(#gSh2)"/>
<circle cx="512.90" cy="430.60" r="2.5" fill="#f01010"/>
<circle cx="512.90" cy="430.60" r="2.5" fill="url(#gSh2)"/>
<circle cx="402.70" cy="447.70" r="2.5" fill="#f01010"/>
<circle cx="402.70" cy="447.70" r="2.5" fill="url(#gSh2)"/>
<circle cx="534.10" cy="447.70" r="2.5" fill="#f01010"/>
<circle cx="534.10" cy="447.70" r="2.5" fill="url(#gSh2)"/>
<circle cx="443.60" cy="442.30" r="2.5" fill="#f01010"/>
<circle cx="443.60" cy="442.30" r="2.5" fill="url(#gSh2)"/>
<circle cx="493.20" cy="442.30" r="2.5" fill="#f01010"/>
<circle cx="493.20" cy="442.30" r="2.5" fill="url(#gSh2)"/>
<circle cx="469.20" cy="431.60" r="2.5" fill="#f01010"/>
<circle cx="469.20" cy="431.60" r="2.5" fill="url(#gSh2)"/>
<circle cx="443.60" cy="417.80" r="2.5" fill="#f01010"/>
<circle cx="443.60" cy="417.80" r="2.5" fill="url(#gSh2)"/>
<circle cx="493.20" cy="417.80" r="2.5" fill="#f01010"/>
<circle cx="493.20" cy="417.80" r="2.5" fill="url(#gSh2)"/>
<circle cx="448.70" cy="415.60" r="2.5" fill="#f01010"/>
<circle cx="448.70" cy="415.60" r="2.5" fill="url(#gSh2)"/>
<circle cx="488.10" cy="415.60" r="2.5" fill="#f01010"/>
<circle cx="488.10" cy="415.60" r="2.5" fill="url(#gSh2)"/>
<circle cx="447.30" cy="421.40" r="2.5" fill="#f01010"/>
<circle cx="447.30" cy="421.40" r="2.5" fill="url(#gSh2)"/>
<circle cx="489.50" cy="421.40" r="2.5" fill="#f01010"/>
<circle cx="489.50" cy="421.40" r="2.5" fill="url(#gSh2)"/>
<circle cx="402.70" cy="471.20" r="2.5" fill="#f01010"/>
<circle cx="402.70" cy="471.20" r="2.5" fill="url(#gSh2)"/>
<circle cx="534.10" cy="471.20" r="2.5" fill="#f01010"/>
<circle cx="534.10" cy="471.20" r="2.5" fill="url(#gSh2)"/>
<circle cx="423.90" cy="507.70" r="2.5" fill="#f01010"/>
<circle cx="423.90" cy="507.70" r="2.5" fill="url(#gSh2)"/>
<circle cx="512.90" cy="507.70" r="2.5" fill="#f01010"/>
<circle cx="512.90" cy="507.70" r="2.5" fill="url(#gSh2)"/>
<circle cx="444.30" cy="518.60" r="2.5" fill="#f01010"/>
<circle cx="444.30" cy="518.60" r="2.5" fill="url(#gSh2)"/>
<circle cx="492.50" cy="518.60" r="2.5" fill="#f01010"/>
<circle cx="492.50" cy="518.60" r="2.5" fill="url(#gSh2)"/>
<circle cx="448.00" cy="468.70" r="2.5" fill="#f01010"/>
<circle cx="448.00" cy="468.70" r="2.5" fill="url(#gSh2)"/>
<circle cx="488.80" cy="468.70" r="2.5" fill="#f01010"/>
<circle cx="488.80" cy="468.70" r="2.5" fill="url(#gSh2)"/>
<circle cx="469.20" cy="485.00" r="2.5" fill="#f01010"/>
<circle cx="469.20" cy="485.00" r="2.5" fill="url(#gSh2)"/>
<circle cx="469.20" cy="508.40" r="2.5" fill="#f01010"/>
<circle cx="469.20" cy="508.40" r="2.5" fill="url(#gSh2)"/>
<circle cx="443.60" cy="493.80" r="2.5" fill="#f01010"/>
<circle cx="443.60" cy="493.80" r="2.5" fill="url(#gSh2)"/>
<circle cx="493.20" cy="493.80" r="2.5" fill="#f01010"/>
<circle cx="493.20" cy="493.80" r="2.5" fill="url(#gSh2)"/>
<circle cx="448.70" cy="492.30" r="2.5" fill="#f01010"/>
<circle cx="448.70" cy="492.30" r="2.5" fill="url(#gSh2)"/>
<circle cx="488.10" cy="492.30" r="2.5" fill="#f01010"/>
<circle cx="488.10" cy="492.30" r="2.5" fill="url(#gSh2)"/>
<circle cx="448.00" cy="497.40" r="2.5" fill="#f01010"/>
<circle cx="448.00" cy="497.40" r="2.5" fill="url(#gSh2)"/>
<circle cx="488.80" cy="497.40" r="2.5" fill="#f01010"/>
<circle cx="488.80" cy="497.40" r="2.5" fill="url(#gSh2)"/>
<circle cx="423.20" cy="455.80" r="2.5" fill="#f01010"/>
<circle cx="423.20" cy="455.80" r="2.5" fill="url(#gSh2)"/>
<circle cx="513.60" cy="455.80" r="2.5" fill="#f01010"/>
<circle cx="513.60" cy="455.80" r="2.5" fill="url(#gSh2)"/>
<circle cx="427.40" cy="455.80" r="2.5" fill="#f01010"/>
<circle cx="427.40" cy="455.80" r="2.5" fill="url(#gSh2)"/>
<circle cx="509.40" cy="455.80" r="2.5" fill="#f01010"/>
<circle cx="509.40" cy="455.80" r="2.5" fill="url(#gSh2)"/>
<circle cx="423.90" cy="460.20" r="2.5" fill="#f01010"/>
<circle cx="423.90" cy="460.20" r="2.5" fill="url(#gSh2)"/>
<circle cx="512.90" cy="460.20" r="2.5" fill="#f01010"/>
<circle cx="512.90" cy="460.20" r="2.5" fill="url(#gSh2)"/>
<circle cx="469.20" cy="404.60" r="2.5" fill="#f01010"/>
<circle cx="469.20" cy="404.60" r="2.5" fill="url(#gSh2)"/>
<circle cx="468.40" cy="379.90" r="5.8" fill="#a07c9c"/>
<path d="M468.40,379.90 L462.60,379.90 A5.8,5.8 0 0 1 474.20,379.90 Z" fill="#c8c6c2"/>
<path d="M468.40,379.90 L468.40,374.10 A5.8,5.8 0 0 1 473.42,377.00 Z" fill="#e01818"/>
<circle cx="468.40" cy="379.90" r="5.8" fill="url(#gSh2)"/>
<circle cx="401.98" cy="418.25" r="5.8" fill="#a07c9c"/>
<path d="M401.98,418.25 L396.18,418.25 A5.8,5.8 0 0 1 407.78,418.25 Z" fill="#c8c6c2"/>
<path d="M401.98,418.25 L401.98,412.45 A5.8,5.8 0 0 1 407.00,415.35 Z" fill="#e01818"/>
<circle cx="401.98" cy="418.25" r="5.8" fill="url(#gSh2)"/>
<circle cx="401.98" cy="494.95" r="5.8" fill="#a07c9c"/>
<path d="M401.98,494.95 L396.18,494.95 A5.8,5.8 0 0 1 407.78,494.95 Z" fill="#c8c6c2"/>
<path d="M401.98,494.95 L401.98,489.15 A5.8,5.8 0 0 1 407.00,492.05 Z" fill="#e01818"/>
<circle cx="401.98" cy="494.95" r="5.8" fill="url(#gSh2)"/>
<circle cx="468.40" cy="533.30" r="5.8" fill="#a07c9c"/>
<path d="M468.40,533.30 L462.60,533.30 A5.8,5.8 0 0 1 474.20,533.30 Z" fill="#c8c6c2"/>
<path d="M468.40,533.30 L468.40,527.50 A5.8,5.8 0 0 1 473.42,530.40 Z" fill="#e01818"/>
<circle cx="468.40" cy="533.30" r="5.8" fill="url(#gSh2)"/>
<circle cx="534.82" cy="494.95" r="5.8" fill="#a07c9c"/>
<path d="M534.82,494.95 L529.02,494.95 A5.8,5.8 0 0 1 540.62,494.95 Z" fill="#c8c6c2"/>
<path d="M534.82,494.95 L534.82,489.15 A5.8,5.8 0 0 1 539.85,492.05 Z" fill="#e01818"/>
<circle cx="534.82" cy="494.95" r="5.8" fill="url(#gSh2)"/>
<circle cx="534.82" cy="418.25" r="5.8" fill="#a07c9c"/>
<path d="M534.82,418.25 L529.02,418.25 A5.8,5.8 0 0 1 540.62,418.25 Z" fill="#c8c6c2"/>
<path d="M534.82,418.25 L534.82,412.45 A5.8,5.8 0 0 1 539.85,415.35 Z" fill="#e01818"/>
<circle cx="534.82" cy="418.25" r="5.8" fill="url(#gSh2)"/>
<circle cx="468.40" cy="456.60" r="5.8" fill="#a07c9c"/>
<path d="M468.40,456.60 L462.60,456.60 A5.8,5.8 0 0 1 474.20,456.60 Z" fill="#c8c6c2"/>
<path d="M468.40,456.60 L468.40,450.80 A5.8,5.8 0 0 1 473.42,453.70 Z" fill="#e01818"/>
<circle cx="468.40" cy="456.60" r="5.8" fill="url(#gSh2)"/>
<line x1="342.2" y1="504.2" x2="326.7" y2="513.5" stroke="#c01010" stroke-width="2.5"/>
<path d="M320.3,517.4 L325.0,509.8 L329.3,516.8 Z" fill="#c01010"/>
<line x1="342.2" y1="504.2" x2="357.6" y2="513.1" stroke="#10b010" stroke-width="2.5"/>
<path d="M364.1,516.8 L355.1,516.4 L359.2,509.3 Z" fill="#10b010"/>
<line x1="342.2" y1="504.2" x2="342.2" y2="521.9" stroke="#1010d8" stroke-width="2.5"/>
<path d="M342.2,529.4 L338.1,521.4 L346.3,521.4 Z" fill="#1010d8"/>
<circle cx="342.2" cy="504.2" r="3.6" fill="#e6e6e6" stroke="#999" stroke-width="0.6"/>
<text x="316" y="521.8" font-size="5" text-anchor="middle" style="font-weight:bold">a</text>
<text x="369" y="521.8" font-size="5" text-anchor="middle" style="font-weight:bold">b</text>
<text x="342.2" y="537.3" font-size="5" text-anchor="middle" style="font-weight:bold">c</text>
<text x="384.3" y="559" font-size="5" text-anchor="middle">&#8734;</text>
<linearGradient id="tCL" x1="0" y1="0" x2="1" y2="0"><stop offset="0" stop-color="#d4f7fb"/><stop offset="1" stop-color="#ecfdfd"/></linearGradient>
<polygon points="599.2,628.2 645.8,627.9 672.2,654.2 673.1,700.3 645.8,727.2 600.1,727.2 573.1,700.3 573.1,654.7" fill="#16a09c" stroke="#0c5a58" stroke-width="0.6"/>
<polygon points="600.1,655.3 645.8,655.3 645.8,700.3 600.5,700.7" fill="url(#tCL)" stroke="#0c5a58" stroke-width="0.5"/>
<line x1="600.1" y1="655.3" x2="586.5" y2="642.5" stroke="#0c5a58" stroke-width="0.6"/>
<line x1="645.8" y1="655.3" x2="659.5" y2="641.9" stroke="#0c5a58" stroke-width="0.6"/>
<line x1="645.8" y1="700.3" x2="660" y2="713.6" stroke="#0c5a58" stroke-width="0.6"/>
<line x1="600.5" y1="700.7" x2="587.4" y2="714" stroke="#0c5a58" stroke-width="0.6"/>
<text x="623" y="645.8" font-size="14.5" text-anchor="middle">{110}</text>
<text x="623.9" y="686.3" font-size="14.5" text-anchor="middle">{100}</text>
<polyline points="424.9,699.1 528.9,699.1 528.9,801.5 424.9,801.5 424.9,699.1" fill="none" stroke="#666" stroke-width="0.7"/>
<circle cx="410.70" cy="684.90" r="3.4" fill="#f2f2f2"/>
<path d="M410.70,684.90 L410.70,681.50 A3.4,3.4 0 0 1 414.10,684.90 Z" fill="#e81010"/>
<circle cx="410.70" cy="684.90" r="3.4" fill="url(#gSh2)" stroke="#777" stroke-width="0.35"/>
<circle cx="410.70" cy="699.10" r="3.4" fill="#f2f2f2"/>
<path d="M410.70,699.10 L410.70,695.70 A3.4,3.4 0 0 1 414.10,699.10 Z" fill="#e81010"/>
<circle cx="410.70" cy="699.10" r="3.4" fill="url(#gSh2)" stroke="#777" stroke-width="0.35"/>
<circle cx="410.70" cy="713.30" r="3.4" fill="#f2f2f2"/>
<path d="M410.70,713.30 L410.70,709.90 A3.4,3.4 0 0 1 414.10,713.30 Z" fill="#e81010"/>
<circle cx="410.70" cy="713.30" r="3.4" fill="url(#gSh2)" stroke="#777" stroke-width="0.35"/>
<circle cx="424.90" cy="684.90" r="3.4" fill="#f2f2f2"/>
<path d="M424.90,684.90 L424.90,681.50 A3.4,3.4 0 0 1 428.30,684.90 Z" fill="#e81010"/>
<circle cx="424.90" cy="684.90" r="3.4" fill="url(#gSh2)" stroke="#777" stroke-width="0.35"/>
<circle cx="424.90" cy="713.30" r="3.4" fill="#f2f2f2"/>
<path d="M424.90,713.30 L424.90,709.90 A3.4,3.4 0 0 1 428.30,713.30 Z" fill="#e81010"/>
<circle cx="424.90" cy="713.30" r="3.4" fill="url(#gSh2)" stroke="#777" stroke-width="0.35"/>
<circle cx="439.10" cy="684.90" r="3.4" fill="#f2f2f2"/>
<path d="M439.10,684.90 L439.10,681.50 A3.4,3.4 0 0 1 442.50,684.90 Z" fill="#e81010"/>
<circle cx="439.10" cy="684.90" r="3.4" fill="url(#gSh2)" stroke="#777" stroke-width="0.35"/>
<circle cx="439.10" cy="699.10" r="3.4" fill="#f2f2f2"/>
<path d="M439.10,699.10 L439.10,695.70 A3.4,3.4 0 0 1 442.50,699.10 Z" fill="#e81010"/>
<circle cx="439.10" cy="699.10" r="3.4" fill="url(#gSh2)" stroke="#777" stroke-width="0.35"/>
<circle cx="439.10" cy="713.30" r="3.4" fill="#f2f2f2"/>
<path d="M439.10,713.30 L439.10,709.90 A3.4,3.4 0 0 1 442.50,713.30 Z" fill="#e81010"/>
<circle cx="439.10" cy="713.30" r="3.4" fill="url(#gSh2)" stroke="#777" stroke-width="0.35"/>
<circle cx="410.70" cy="787.30" r="3.4" fill="#f2f2f2"/>
<path d="M410.70,787.30 L410.70,783.90 A3.4,3.4 0 0 1 414.10,787.30 Z" fill="#e81010"/>
<circle cx="410.70" cy="787.30" r="3.4" fill="url(#gSh2)" stroke="#777" stroke-width="0.35"/>
<circle cx="410.70" cy="801.50" r="3.4" fill="#f2f2f2"/>
<path d="M410.70,801.50 L410.70,798.10 A3.4,3.4 0 0 1 414.10,801.50 Z" fill="#e81010"/>
<circle cx="410.70" cy="801.50" r="3.4" fill="url(#gSh2)" stroke="#777" stroke-width="0.35"/>
<circle cx="410.70" cy="815.70" r="3.4" fill="#f2f2f2"/>
<path d="M410.70,815.70 L410.70,812.30 A3.4,3.4 0 0 1 414.10,815.70 Z" fill="#e81010"/>
<circle cx="410.70" cy="815.70" r="3.4" fill="url(#gSh2)" stroke="#777" stroke-width="0.35"/>
<circle cx="424.90" cy="787.30" r="3.4" fill="#f2f2f2"/>
<path d="M424.90,787.30 L424.90,783.90 A3.4,3.4 0 0 1 428.30,787.30 Z" fill="#e81010"/>
<circle cx="424.90" cy="787.30" r="3.4" fill="url(#gSh2)" stroke="#777" stroke-width="0.35"/>
<circle cx="424.90" cy="815.70" r="3.4" fill="#f2f2f2"/>
<path d="M424.90,815.70 L424.90,812.30 A3.4,3.4 0 0 1 428.30,815.70 Z" fill="#e81010"/>
<circle cx="424.90" cy="815.70" r="3.4" fill="url(#gSh2)" stroke="#777" stroke-width="0.35"/>
<circle cx="439.10" cy="787.30" r="3.4" fill="#f2f2f2"/>
<path d="M439.10,787.30 L439.10,783.90 A3.4,3.4 0 0 1 442.50,787.30 Z" fill="#e81010"/>
<circle cx="439.10" cy="787.30" r="3.4" fill="url(#gSh2)" stroke="#777" stroke-width="0.35"/>
<circle cx="439.10" cy="801.50" r="3.4" fill="#f2f2f2"/>
<path d="M439.10,801.50 L439.10,798.10 A3.4,3.4 0 0 1 442.50,801.50 Z" fill="#e81010"/>
<circle cx="439.10" cy="801.50" r="3.4" fill="url(#gSh2)" stroke="#777" stroke-width="0.35"/>
<circle cx="439.10" cy="815.70" r="3.4" fill="#f2f2f2"/>
<path d="M439.10,815.70 L439.10,812.30 A3.4,3.4 0 0 1 442.50,815.70 Z" fill="#e81010"/>
<circle cx="439.10" cy="815.70" r="3.4" fill="url(#gSh2)" stroke="#777" stroke-width="0.35"/>
<circle cx="514.70" cy="684.90" r="3.4" fill="#f2f2f2"/>
<path d="M514.70,684.90 L514.70,681.50 A3.4,3.4 0 0 1 518.10,684.90 Z" fill="#e81010"/>
<circle cx="514.70" cy="684.90" r="3.4" fill="url(#gSh2)" stroke="#777" stroke-width="0.35"/>
<circle cx="514.70" cy="699.10" r="3.4" fill="#f2f2f2"/>
<path d="M514.70,699.10 L514.70,695.70 A3.4,3.4 0 0 1 518.10,699.10 Z" fill="#e81010"/>
<circle cx="514.70" cy="699.10" r="3.4" fill="url(#gSh2)" stroke="#777" stroke-width="0.35"/>
<circle cx="514.70" cy="713.30" r="3.4" fill="#f2f2f2"/>
<path d="M514.70,713.30 L514.70,709.90 A3.4,3.4 0 0 1 518.10,713.30 Z" fill="#e81010"/>
<circle cx="514.70" cy="713.30" r="3.4" fill="url(#gSh2)" stroke="#777" stroke-width="0.35"/>
<circle cx="528.90" cy="684.90" r="3.4" fill="#f2f2f2"/>
<path d="M528.90,684.90 L528.90,681.50 A3.4,3.4 0 0 1 532.30,684.90 Z" fill="#e81010"/>
<circle cx="528.90" cy="684.90" r="3.4" fill="url(#gSh2)" stroke="#777" stroke-width="0.35"/>
<circle cx="528.90" cy="713.30" r="3.4" fill="#f2f2f2"/>
<path d="M528.90,713.30 L528.90,709.90 A3.4,3.4 0 0 1 532.30,713.30 Z" fill="#e81010"/>
<circle cx="528.90" cy="713.30" r="3.4" fill="url(#gSh2)" stroke="#777" stroke-width="0.35"/>
<circle cx="543.10" cy="684.90" r="3.4" fill="#f2f2f2"/>
<path d="M543.10,684.90 L543.10,681.50 A3.4,3.4 0 0 1 546.50,684.90 Z" fill="#e81010"/>
<circle cx="543.10" cy="684.90" r="3.4" fill="url(#gSh2)" stroke="#777" stroke-width="0.35"/>
<circle cx="543.10" cy="699.10" r="3.4" fill="#f2f2f2"/>
<path d="M543.10,699.10 L543.10,695.70 A3.4,3.4 0 0 1 546.50,699.10 Z" fill="#e81010"/>
<circle cx="543.10" cy="699.10" r="3.4" fill="url(#gSh2)" stroke="#777" stroke-width="0.35"/>
<circle cx="543.10" cy="713.30" r="3.4" fill="#f2f2f2"/>
<path d="M543.10,713.30 L543.10,709.90 A3.4,3.4 0 0 1 546.50,713.30 Z" fill="#e81010"/>
<circle cx="543.10" cy="713.30" r="3.4" fill="url(#gSh2)" stroke="#777" stroke-width="0.35"/>
<circle cx="514.70" cy="787.30" r="3.4" fill="#f2f2f2"/>
<path d="M514.70,787.30 L514.70,783.90 A3.4,3.4 0 0 1 518.10,787.30 Z" fill="#e81010"/>
<circle cx="514.70" cy="787.30" r="3.4" fill="url(#gSh2)" stroke="#777" stroke-width="0.35"/>
<circle cx="514.70" cy="801.50" r="3.4" fill="#f2f2f2"/>
<path d="M514.70,801.50 L514.70,798.10 A3.4,3.4 0 0 1 518.10,801.50 Z" fill="#e81010"/>
<circle cx="514.70" cy="801.50" r="3.4" fill="url(#gSh2)" stroke="#777" stroke-width="0.35"/>
<circle cx="514.70" cy="815.70" r="3.4" fill="#f2f2f2"/>
<path d="M514.70,815.70 L514.70,812.30 A3.4,3.4 0 0 1 518.10,815.70 Z" fill="#e81010"/>
<circle cx="514.70" cy="815.70" r="3.4" fill="url(#gSh2)" stroke="#777" stroke-width="0.35"/>
<circle cx="528.90" cy="787.30" r="3.4" fill="#f2f2f2"/>
<path d="M528.90,787.30 L528.90,783.90 A3.4,3.4 0 0 1 532.30,787.30 Z" fill="#e81010"/>
<circle cx="528.90" cy="787.30" r="3.4" fill="url(#gSh2)" stroke="#777" stroke-width="0.35"/>
<circle cx="528.90" cy="815.70" r="3.4" fill="#f2f2f2"/>
<path d="M528.90,815.70 L528.90,812.30 A3.4,3.4 0 0 1 532.30,815.70 Z" fill="#e81010"/>
<circle cx="528.90" cy="815.70" r="3.4" fill="url(#gSh2)" stroke="#777" stroke-width="0.35"/>
<circle cx="543.10" cy="787.30" r="3.4" fill="#f2f2f2"/>
<path d="M543.10,787.30 L543.10,783.90 A3.4,3.4 0 0 1 546.50,787.30 Z" fill="#e81010"/>
<circle cx="543.10" cy="787.30" r="3.4" fill="url(#gSh2)" stroke="#777" stroke-width="0.35"/>
<circle cx="543.10" cy="801.50" r="3.4" fill="#f2f2f2"/>
<path d="M543.10,801.50 L543.10,798.10 A3.4,3.4 0 0 1 546.50,801.50 Z" fill="#e81010"/>
<circle cx="543.10" cy="801.50" r="3.4" fill="url(#gSh2)" stroke="#777" stroke-width="0.35"/>
<circle cx="543.10" cy="815.70" r="3.4" fill="#f2f2f2"/>
<path d="M543.10,815.70 L543.10,812.30 A3.4,3.4 0 0 1 546.50,815.70 Z" fill="#e81010"/>
<circle cx="543.10" cy="815.70" r="3.4" fill="url(#gSh2)" stroke="#777" stroke-width="0.35"/>
<circle cx="456.10" cy="728.70" r="7.8" fill="#ececea"/>
<path d="M456.10,728.70 L456.10,720.90 A7.8,7.8 0 0 1 456.10,736.50 Z" fill="#e8c438"/>
<circle cx="456.10" cy="728.70" r="7.8" fill="url(#gSh)"/>
<circle cx="450.20" cy="724.00" r="7.8" fill="#ececea"/>
<path d="M450.20,724.00 L443.45,720.10 A7.8,7.8 0 1 1 447.53,731.33 Z" fill="#e8c438"/>
<circle cx="450.20" cy="724.00" r="7.8" fill="url(#gSh)"/>
<circle cx="444.40" cy="720.00" r="7.8" fill="#ececea"/>
<path d="M444.40,720.00 L451.15,716.10 A7.8,7.8 0 0 1 445.75,727.68 Z" fill="#e8c438"/>
<circle cx="444.40" cy="720.00" r="7.8" fill="url(#gSh)"/>
<circle cx="510.00" cy="715.90" r="7.8" fill="#ececea"/>
<circle cx="510.00" cy="715.90" r="7.8" fill="url(#gSh)"/>
<circle cx="498.40" cy="728.70" r="7.8" fill="#ececea"/>
<circle cx="498.40" cy="728.70" r="7.8" fill="url(#gSh)"/>
<circle cx="505.40" cy="721.70" r="7.8" fill="#ececea"/>
<path d="M505.40,721.70 L508.07,714.37 A7.8,7.8 0 1 1 497.72,720.35 Z" fill="#e8c438"/>
<circle cx="505.40" cy="721.70" r="7.8" fill="url(#gSh)"/>
<circle cx="453.70" cy="770.70" r="7.8" fill="#ececea"/>
<circle cx="453.70" cy="770.70" r="7.8" fill="url(#gSh)"/>
<circle cx="449.50" cy="776.00" r="7.8" fill="#ececea"/>
<path d="M449.50,776.00 L449.50,768.20 A7.8,7.8 0 0 1 449.50,783.80 Z" fill="#e8c438"/>
<circle cx="449.50" cy="776.00" r="7.8" fill="url(#gSh)"/>
<circle cx="446.00" cy="781.00" r="7.8" fill="#ececea"/>
<path d="M446.00,781.00 L452.75,777.10 A7.8,7.8 0 1 1 442.10,774.25 Z" fill="#e8c438"/>
<circle cx="446.00" cy="781.00" r="7.8" fill="url(#gSh)"/>
<circle cx="497.00" cy="770.70" r="7.8" fill="#ececea"/>
<circle cx="497.00" cy="770.70" r="7.8" fill="url(#gSh)"/>
<circle cx="502.80" cy="776.50" r="7.8" fill="#ececea"/>
<path d="M502.80,776.50 L510.60,776.50 A7.8,7.8 0 0 1 502.80,784.30 Z" fill="#e8c438"/>
<circle cx="502.80" cy="776.50" r="7.8" fill="url(#gSh)"/>
<circle cx="509.80" cy="782.40" r="7.8" fill="#ececea"/>
<path d="M509.80,782.40 L513.70,775.65 A7.8,7.8 0 1 1 502.00,782.40 Z" fill="#e8c438"/>
<circle cx="509.80" cy="782.40" r="7.8" fill="url(#gSh)"/>
<line x1="510.6" y1="812.8" x2="506.8" y2="807.1" stroke="#e81818" stroke-width="1.9"/>
<line x1="506.8" y1="807.1" x2="502.9" y2="801.5" stroke="#8cb8d8" stroke-width="1.9"/>
<line x1="510.6" y1="687.8" x2="506.8" y2="693.4" stroke="#e81818" stroke-width="1.9"/>
<line x1="506.8" y1="693.4" x2="502.9" y2="699.1" stroke="#8cb8d8" stroke-width="1.9"/>
<line x1="443.2" y1="812.8" x2="447.0" y2="807.1" stroke="#e81818" stroke-width="1.9"/>
<line x1="447.0" y1="807.1" x2="450.9" y2="801.5" stroke="#8cb8d8" stroke-width="1.9"/>
<line x1="443.2" y1="687.8" x2="447.0" y2="693.4" stroke="#e81818" stroke-width="1.9"/>
<line x1="447.0" y1="693.4" x2="450.9" y2="699.1" stroke="#8cb8d8" stroke-width="1.9"/>
<line x1="479.5" y1="818.0" x2="478.2" y2="809.8" stroke="#e81818" stroke-width="1.9"/>
<line x1="478.2" y1="809.8" x2="476.9" y2="801.5" stroke="#8cb8d8" stroke-width="1.9"/>
<line x1="479.5" y1="682.6" x2="478.2" y2="690.8" stroke="#e81818" stroke-width="1.9"/>
<line x1="478.2" y1="690.8" x2="476.9" y2="699.1" stroke="#8cb8d8" stroke-width="1.9"/>
<line x1="474.3" y1="818.0" x2="475.6" y2="809.8" stroke="#e81818" stroke-width="1.9"/>
<line x1="475.6" y1="809.8" x2="476.9" y2="801.5" stroke="#8cb8d8" stroke-width="1.9"/>
<line x1="474.3" y1="682.6" x2="475.6" y2="690.8" stroke="#e81818" stroke-width="1.9"/>
<line x1="475.6" y1="690.8" x2="476.9" y2="699.1" stroke="#8cb8d8" stroke-width="1.9"/>
<line x1="493.1" y1="804.0" x2="498.0" y2="802.8" stroke="#e81818" stroke-width="1.9"/>
<line x1="498.0" y1="802.8" x2="502.9" y2="801.5" stroke="#8cb8d8" stroke-width="1.9"/>
<line x1="493.1" y1="804.0" x2="485.0" y2="802.8" stroke="#e81818" stroke-width="1.9"/>
<line x1="485.0" y1="802.8" x2="476.9" y2="801.5" stroke="#8cb8d8" stroke-width="1.9"/>
<line x1="493.1" y1="696.6" x2="498.0" y2="697.8" stroke="#e81818" stroke-width="1.9"/>
<line x1="498.0" y1="697.8" x2="502.9" y2="699.1" stroke="#8cb8d8" stroke-width="1.9"/>
<line x1="493.1" y1="696.6" x2="485.0" y2="697.8" stroke="#e81818" stroke-width="1.9"/>
<line x1="485.0" y1="697.8" x2="476.9" y2="699.1" stroke="#8cb8d8" stroke-width="1.9"/>
<line x1="460.7" y1="804.0" x2="455.8" y2="802.8" stroke="#e81818" stroke-width="1.9"/>
<line x1="455.8" y1="802.8" x2="450.9" y2="801.5" stroke="#8cb8d8" stroke-width="1.9"/>
<line x1="460.7" y1="804.0" x2="468.8" y2="802.8" stroke="#e81818" stroke-width="1.9"/>
<line x1="468.8" y1="802.8" x2="476.9" y2="801.5" stroke="#8cb8d8" stroke-width="1.9"/>
<line x1="460.7" y1="696.6" x2="455.8" y2="697.8" stroke="#e81818" stroke-width="1.9"/>
<line x1="455.8" y1="697.8" x2="450.9" y2="699.1" stroke="#8cb8d8" stroke-width="1.9"/>
<line x1="460.7" y1="696.6" x2="468.8" y2="697.8" stroke="#e81818" stroke-width="1.9"/>
<line x1="468.8" y1="697.8" x2="476.9" y2="699.1" stroke="#8cb8d8" stroke-width="1.9"/>
<line x1="493.1" y1="798.2" x2="498.0" y2="799.8" stroke="#e81818" stroke-width="1.9"/>
<line x1="498.0" y1="799.8" x2="502.9" y2="801.5" stroke="#8cb8d8" stroke-width="1.9"/>
<line x1="493.1" y1="798.2" x2="485.0" y2="799.8" stroke="#e81818" stroke-width="1.9"/>
<line x1="485.0" y1="799.8" x2="476.9" y2="801.5" stroke="#8cb8d8" stroke-width="1.9"/>
<line x1="493.1" y1="702.4" x2="498.0" y2="700.8" stroke="#e81818" stroke-width="1.9"/>
<line x1="498.0" y1="700.8" x2="502.9" y2="699.1" stroke="#8cb8d8" stroke-width="1.9"/>
<line x1="493.1" y1="702.4" x2="485.0" y2="700.8" stroke="#e81818" stroke-width="1.9"/>
<line x1="485.0" y1="700.8" x2="476.9" y2="699.1" stroke="#8cb8d8" stroke-width="1.9"/>
<line x1="460.7" y1="798.2" x2="455.8" y2="799.8" stroke="#e81818" stroke-width="1.9"/>
<line x1="455.8" y1="799.8" x2="450.9" y2="801.5" stroke="#8cb8d8" stroke-width="1.9"/>
<line x1="460.7" y1="798.2" x2="468.8" y2="799.8" stroke="#e81818" stroke-width="1.9"/>
<line x1="468.8" y1="799.8" x2="476.9" y2="801.5" stroke="#8cb8d8" stroke-width="1.9"/>
<line x1="460.7" y1="702.4" x2="455.8" y2="700.8" stroke="#e81818" stroke-width="1.9"/>
<line x1="455.8" y1="700.8" x2="450.9" y2="699.1" stroke="#8cb8d8" stroke-width="1.9"/>
<line x1="460.7" y1="702.4" x2="468.8" y2="700.8" stroke="#e81818" stroke-width="1.9"/>
<line x1="468.8" y1="700.8" x2="476.9" y2="699.1" stroke="#8cb8d8" stroke-width="1.9"/>
<line x1="479.2" y1="787.1" x2="478.0" y2="794.3" stroke="#e81818" stroke-width="1.9"/>
<line x1="478.0" y1="794.3" x2="476.9" y2="801.5" stroke="#8cb8d8" stroke-width="1.9"/>
<line x1="479.2" y1="787.1" x2="478.0" y2="781.5" stroke="#e81818" stroke-width="1.9"/>
<line x1="478.0" y1="781.5" x2="476.9" y2="775.9" stroke="#8cb8d8" stroke-width="1.9"/>
<line x1="479.2" y1="713.5" x2="478.0" y2="706.3" stroke="#e81818" stroke-width="1.9"/>
<line x1="478.0" y1="706.3" x2="476.9" y2="699.1" stroke="#8cb8d8" stroke-width="1.9"/>
<line x1="479.2" y1="713.5" x2="478.0" y2="719.1" stroke="#e81818" stroke-width="1.9"/>
<line x1="478.0" y1="719.1" x2="476.9" y2="724.7" stroke="#8cb8d8" stroke-width="1.9"/>
<line x1="474.6" y1="787.1" x2="475.8" y2="794.3" stroke="#e81818" stroke-width="1.9"/>
<line x1="475.8" y1="794.3" x2="476.9" y2="801.5" stroke="#8cb8d8" stroke-width="1.9"/>
<line x1="474.6" y1="787.1" x2="475.8" y2="781.5" stroke="#e81818" stroke-width="1.9"/>
<line x1="475.8" y1="781.5" x2="476.9" y2="775.9" stroke="#8cb8d8" stroke-width="1.9"/>
<line x1="474.6" y1="713.5" x2="475.8" y2="706.3" stroke="#e81818" stroke-width="1.9"/>
<line x1="475.8" y1="706.3" x2="476.9" y2="699.1" stroke="#8cb8d8" stroke-width="1.9"/>
<line x1="474.6" y1="713.5" x2="475.8" y2="719.1" stroke="#e81818" stroke-width="1.9"/>
<line x1="475.8" y1="719.1" x2="476.9" y2="724.7" stroke="#8cb8d8" stroke-width="1.9"/>
<line x1="532.2" y1="765.5" x2="530.5" y2="770.7" stroke="#e81818" stroke-width="1.9"/>
<line x1="530.5" y1="770.7" x2="528.9" y2="775.9" stroke="#8cb8d8" stroke-width="1.9"/>
<line x1="532.2" y1="765.5" x2="530.5" y2="757.9" stroke="#e81818" stroke-width="1.9"/>
<line x1="530.5" y1="757.9" x2="528.9" y2="750.3" stroke="#8cb8d8" stroke-width="1.9"/>
<line x1="532.2" y1="735.1" x2="530.5" y2="729.9" stroke="#e81818" stroke-width="1.9"/>
<line x1="530.5" y1="729.9" x2="528.9" y2="724.7" stroke="#8cb8d8" stroke-width="1.9"/>
<line x1="532.2" y1="735.1" x2="530.5" y2="742.7" stroke="#e81818" stroke-width="1.9"/>
<line x1="530.5" y1="742.7" x2="528.9" y2="750.3" stroke="#8cb8d8" stroke-width="1.9"/>
<line x1="421.6" y1="765.5" x2="423.2" y2="770.7" stroke="#e81818" stroke-width="1.9"/>
<line x1="423.2" y1="770.7" x2="424.9" y2="775.9" stroke="#8cb8d8" stroke-width="1.9"/>
<line x1="421.6" y1="765.5" x2="423.2" y2="757.9" stroke="#e81818" stroke-width="1.9"/>
<line x1="423.2" y1="757.9" x2="424.9" y2="750.3" stroke="#8cb8d8" stroke-width="1.9"/>
<line x1="421.6" y1="735.1" x2="423.2" y2="729.9" stroke="#e81818" stroke-width="1.9"/>
<line x1="423.2" y1="729.9" x2="424.9" y2="724.7" stroke="#8cb8d8" stroke-width="1.9"/>
<line x1="421.6" y1="735.1" x2="423.2" y2="742.7" stroke="#e81818" stroke-width="1.9"/>
<line x1="423.2" y1="742.7" x2="424.9" y2="750.3" stroke="#8cb8d8" stroke-width="1.9"/>
<line x1="525.8" y1="765.5" x2="527.3" y2="770.7" stroke="#e81818" stroke-width="1.9"/>
<line x1="527.3" y1="770.7" x2="528.9" y2="775.9" stroke="#8cb8d8" stroke-width="1.9"/>
<line x1="525.8" y1="765.5" x2="527.3" y2="757.9" stroke="#e81818" stroke-width="1.9"/>
<line x1="527.3" y1="757.9" x2="528.9" y2="750.3" stroke="#8cb8d8" stroke-width="1.9"/>
<line x1="525.8" y1="735.1" x2="527.3" y2="729.9" stroke="#e81818" stroke-width="1.9"/>
<line x1="527.3" y1="729.9" x2="528.9" y2="724.7" stroke="#8cb8d8" stroke-width="1.9"/>
<line x1="525.8" y1="735.1" x2="527.3" y2="742.7" stroke="#e81818" stroke-width="1.9"/>
<line x1="527.3" y1="742.7" x2="528.9" y2="750.3" stroke="#8cb8d8" stroke-width="1.9"/>
<line x1="428.0" y1="765.5" x2="426.4" y2="770.7" stroke="#e81818" stroke-width="1.9"/>
<line x1="426.4" y1="770.7" x2="424.9" y2="775.9" stroke="#8cb8d8" stroke-width="1.9"/>
<line x1="428.0" y1="765.5" x2="426.4" y2="757.9" stroke="#e81818" stroke-width="1.9"/>
<line x1="426.4" y1="757.9" x2="424.9" y2="750.3" stroke="#8cb8d8" stroke-width="1.9"/>
<line x1="428.0" y1="735.1" x2="426.4" y2="729.9" stroke="#e81818" stroke-width="1.9"/>
<line x1="426.4" y1="729.9" x2="424.9" y2="724.7" stroke="#8cb8d8" stroke-width="1.9"/>
<line x1="428.0" y1="735.1" x2="426.4" y2="742.7" stroke="#e81818" stroke-width="1.9"/>
<line x1="426.4" y1="742.7" x2="424.9" y2="750.3" stroke="#8cb8d8" stroke-width="1.9"/>
<line x1="492.5" y1="765.5" x2="484.7" y2="770.7" stroke="#e81818" stroke-width="1.9"/>
<line x1="484.7" y1="770.7" x2="476.9" y2="775.9" stroke="#8cb8d8" stroke-width="1.9"/>
<line x1="492.5" y1="765.5" x2="497.7" y2="757.9" stroke="#e81818" stroke-width="1.9"/>
<line x1="497.7" y1="757.9" x2="502.9" y2="750.3" stroke="#8cb8d8" stroke-width="1.9"/>
<line x1="492.5" y1="735.1" x2="484.7" y2="729.9" stroke="#e81818" stroke-width="1.9"/>
<line x1="484.7" y1="729.9" x2="476.9" y2="724.7" stroke="#8cb8d8" stroke-width="1.9"/>
<line x1="492.5" y1="735.1" x2="497.7" y2="742.7" stroke="#e81818" stroke-width="1.9"/>
<line x1="497.7" y1="742.7" x2="502.9" y2="750.3" stroke="#8cb8d8" stroke-width="1.9"/>
<line x1="461.3" y1="765.5" x2="469.1" y2="770.7" stroke="#e81818" stroke-width="1.9"/>
<line x1="469.1" y1="770.7" x2="476.9" y2="775.9" stroke="#8cb8d8" stroke-width="1.9"/>
<line x1="461.3" y1="765.5" x2="456.1" y2="757.9" stroke="#e81818" stroke-width="1.9"/>
<line x1="456.1" y1="757.9" x2="450.9" y2="750.3" stroke="#8cb8d8" stroke-width="1.9"/>
<line x1="461.3" y1="735.1" x2="469.1" y2="729.9" stroke="#e81818" stroke-width="1.9"/>
<line x1="469.1" y1="729.9" x2="476.9" y2="724.7" stroke="#8cb8d8" stroke-width="1.9"/>
<line x1="461.3" y1="735.1" x2="456.1" y2="742.7" stroke="#e81818" stroke-width="1.9"/>
<line x1="456.1" y1="742.7" x2="450.9" y2="750.3" stroke="#8cb8d8" stroke-width="1.9"/>
<line x1="510.6" y1="788.8" x2="506.8" y2="795.1" stroke="#e81818" stroke-width="1.9"/>
<line x1="506.8" y1="795.1" x2="502.9" y2="801.5" stroke="#8cb8d8" stroke-width="1.9"/>
<line x1="510.6" y1="711.8" x2="506.8" y2="705.4" stroke="#e81818" stroke-width="1.9"/>
<line x1="506.8" y1="705.4" x2="502.9" y2="699.1" stroke="#8cb8d8" stroke-width="1.9"/>
<line x1="443.2" y1="788.8" x2="447.0" y2="795.1" stroke="#e81818" stroke-width="1.9"/>
<line x1="447.0" y1="795.1" x2="450.9" y2="801.5" stroke="#8cb8d8" stroke-width="1.9"/>
<line x1="443.2" y1="711.8" x2="447.0" y2="705.4" stroke="#e81818" stroke-width="1.9"/>
<line x1="447.0" y1="705.4" x2="450.9" y2="699.1" stroke="#8cb8d8" stroke-width="1.9"/>
<line x1="544.5" y1="752.7" x2="536.7" y2="751.5" stroke="#e81818" stroke-width="1.9"/>
<line x1="536.7" y1="751.5" x2="528.9" y2="750.3" stroke="#8cb8d8" stroke-width="1.9"/>
<line x1="544.5" y1="747.9" x2="536.7" y2="749.1" stroke="#e81818" stroke-width="1.9"/>
<line x1="536.7" y1="749.1" x2="528.9" y2="750.3" stroke="#8cb8d8" stroke-width="1.9"/>
<line x1="409.3" y1="752.7" x2="417.1" y2="751.5" stroke="#e81818" stroke-width="1.9"/>
<line x1="417.1" y1="751.5" x2="424.9" y2="750.3" stroke="#8cb8d8" stroke-width="1.9"/>
<line x1="409.3" y1="747.9" x2="417.1" y2="749.1" stroke="#e81818" stroke-width="1.9"/>
<line x1="417.1" y1="749.1" x2="424.9" y2="750.3" stroke="#8cb8d8" stroke-width="1.9"/>
<line x1="514.4" y1="752.6" x2="521.6" y2="751.4" stroke="#e81818" stroke-width="1.9"/>
<line x1="521.6" y1="751.4" x2="528.9" y2="750.3" stroke="#8cb8d8" stroke-width="1.9"/>
<line x1="514.4" y1="752.6" x2="508.6" y2="751.4" stroke="#e81818" stroke-width="1.9"/>
<line x1="508.6" y1="751.4" x2="502.9" y2="750.3" stroke="#8cb8d8" stroke-width="1.9"/>
<line x1="514.4" y1="748.0" x2="521.6" y2="749.1" stroke="#e81818" stroke-width="1.9"/>
<line x1="521.6" y1="749.1" x2="528.9" y2="750.3" stroke="#8cb8d8" stroke-width="1.9"/>
<line x1="514.4" y1="748.0" x2="508.6" y2="749.1" stroke="#e81818" stroke-width="1.9"/>
<line x1="508.6" y1="749.1" x2="502.9" y2="750.3" stroke="#8cb8d8" stroke-width="1.9"/>
<line x1="439.4" y1="752.6" x2="432.1" y2="751.4" stroke="#e81818" stroke-width="1.9"/>
<line x1="432.1" y1="751.4" x2="424.9" y2="750.3" stroke="#8cb8d8" stroke-width="1.9"/>
<line x1="439.4" y1="752.6" x2="445.1" y2="751.4" stroke="#e81818" stroke-width="1.9"/>
<line x1="445.1" y1="751.4" x2="450.9" y2="750.3" stroke="#8cb8d8" stroke-width="1.9"/>
<line x1="439.4" y1="748.0" x2="432.1" y2="749.1" stroke="#e81818" stroke-width="1.9"/>
<line x1="432.1" y1="749.1" x2="424.9" y2="750.3" stroke="#8cb8d8" stroke-width="1.9"/>
<line x1="439.4" y1="748.0" x2="445.1" y2="749.1" stroke="#e81818" stroke-width="1.9"/>
<line x1="445.1" y1="749.1" x2="450.9" y2="750.3" stroke="#8cb8d8" stroke-width="1.9"/>
<line x1="424.9" y1="713.3" x2="424.9" y2="719.0" stroke="#e81818" stroke-width="1.9"/>
<line x1="424.9" y1="719.0" x2="424.9" y2="724.7" stroke="#8cb8d8" stroke-width="1.9"/>
<line x1="439.1" y1="699.1" x2="445.0" y2="699.1" stroke="#e81818" stroke-width="1.9"/>
<line x1="445.0" y1="699.1" x2="450.9" y2="699.1" stroke="#8cb8d8" stroke-width="1.9"/>
<line x1="424.9" y1="787.3" x2="424.9" y2="781.6" stroke="#e81818" stroke-width="1.9"/>
<line x1="424.9" y1="781.6" x2="424.9" y2="775.9" stroke="#8cb8d8" stroke-width="1.9"/>
<line x1="439.1" y1="801.5" x2="445.0" y2="801.5" stroke="#e81818" stroke-width="1.9"/>
<line x1="445.0" y1="801.5" x2="450.9" y2="801.5" stroke="#8cb8d8" stroke-width="1.9"/>
<line x1="514.7" y1="699.1" x2="508.8" y2="699.1" stroke="#e81818" stroke-width="1.9"/>
<line x1="508.8" y1="699.1" x2="502.9" y2="699.1" stroke="#8cb8d8" stroke-width="1.9"/>
<line x1="528.9" y1="713.3" x2="528.9" y2="719.0" stroke="#e81818" stroke-width="1.9"/>
<line x1="528.9" y1="719.0" x2="528.9" y2="724.7" stroke="#8cb8d8" stroke-width="1.9"/>
<line x1="514.7" y1="801.5" x2="508.8" y2="801.5" stroke="#e81818" stroke-width="1.9"/>
<line x1="508.8" y1="801.5" x2="502.9" y2="801.5" stroke="#8cb8d8" stroke-width="1.9"/>
<line x1="528.9" y1="787.3" x2="528.9" y2="781.6" stroke="#e81818" stroke-width="1.9"/>
<line x1="528.9" y1="781.6" x2="528.9" y2="775.9" stroke="#8cb8d8" stroke-width="1.9"/>
<circle cx="502.90" cy="801.50" r="6.4" fill="#8cb6dc"/>
<path d="M502.90,801.50 L501.24,807.68 A6.4,6.4 0 0 1 500.20,795.70 Z" fill="#1c3cd8"/>
<circle cx="502.90" cy="801.50" r="6.4" fill="url(#gSh)"/>
<circle cx="502.90" cy="699.10" r="6.4" fill="#8cb6dc"/>
<path d="M502.90,699.10 L501.24,705.28 A6.4,6.4 0 0 1 500.20,693.30 Z" fill="#1c3cd8"/>
<circle cx="502.90" cy="699.10" r="6.4" fill="url(#gSh)"/>
<circle cx="450.90" cy="801.50" r="6.4" fill="#8cb6dc"/>
<path d="M450.90,801.50 L449.24,807.68 A6.4,6.4 0 0 1 448.20,795.70 Z" fill="#1c3cd8"/>
<circle cx="450.90" cy="801.50" r="6.4" fill="url(#gSh)"/>
<circle cx="450.90" cy="699.10" r="6.4" fill="#8cb6dc"/>
<path d="M450.90,699.10 L449.24,705.28 A6.4,6.4 0 0 1 448.20,693.30 Z" fill="#1c3cd8"/>
<circle cx="450.90" cy="699.10" r="6.4" fill="url(#gSh)"/>
<circle cx="476.90" cy="801.50" r="6.4" fill="#8cb6dc"/>
<path d="M476.90,801.50 L475.24,807.68 A6.4,6.4 0 0 1 474.20,795.70 Z" fill="#1c3cd8"/>
<circle cx="476.90" cy="801.50" r="6.4" fill="url(#gSh)"/>
<circle cx="476.90" cy="699.10" r="6.4" fill="#8cb6dc"/>
<path d="M476.90,699.10 L475.24,705.28 A6.4,6.4 0 0 1 474.20,693.30 Z" fill="#1c3cd8"/>
<circle cx="476.90" cy="699.10" r="6.4" fill="url(#gSh)"/>
<circle cx="528.90" cy="775.90" r="6.4" fill="#8cb6dc"/>
<path d="M528.90,775.90 L527.24,782.08 A6.4,6.4 0 0 1 526.20,770.10 Z" fill="#1c3cd8"/>
<circle cx="528.90" cy="775.90" r="6.4" fill="url(#gSh)"/>
<circle cx="528.90" cy="724.70" r="6.4" fill="#8cb6dc"/>
<path d="M528.90,724.70 L527.24,730.88 A6.4,6.4 0 0 1 526.20,718.90 Z" fill="#1c3cd8"/>
<circle cx="528.90" cy="724.70" r="6.4" fill="url(#gSh)"/>
<circle cx="424.90" cy="775.90" r="6.4" fill="#8cb6dc"/>
<path d="M424.90,775.90 L423.24,782.08 A6.4,6.4 0 0 1 422.20,770.10 Z" fill="#1c3cd8"/>
<circle cx="424.90" cy="775.90" r="6.4" fill="url(#gSh)"/>
<circle cx="424.90" cy="724.70" r="6.4" fill="#8cb6dc"/>
<path d="M424.90,724.70 L423.24,730.88 A6.4,6.4 0 0 1 422.20,718.90 Z" fill="#1c3cd8"/>
<circle cx="424.90" cy="724.70" r="6.4" fill="url(#gSh)"/>
<circle cx="476.90" cy="775.90" r="6.4" fill="#8cb6dc"/>
<path d="M476.90,775.90 L475.24,782.08 A6.4,6.4 0 0 1 474.20,770.10 Z" fill="#1c3cd8"/>
<circle cx="476.90" cy="775.90" r="6.4" fill="url(#gSh)"/>
<circle cx="476.90" cy="724.70" r="6.4" fill="#8cb6dc"/>
<path d="M476.90,724.70 L475.24,730.88 A6.4,6.4 0 0 1 474.20,718.90 Z" fill="#1c3cd8"/>
<circle cx="476.90" cy="724.70" r="6.4" fill="url(#gSh)"/>
<circle cx="528.90" cy="750.30" r="6.4" fill="#8cb6dc"/>
<path d="M528.90,750.30 L527.24,756.48 A6.4,6.4 0 0 1 526.20,744.50 Z" fill="#1c3cd8"/>
<circle cx="528.90" cy="750.30" r="6.4" fill="url(#gSh)"/>
<circle cx="424.90" cy="750.30" r="6.4" fill="#8cb6dc"/>
<path d="M424.90,750.30 L423.24,756.48 A6.4,6.4 0 0 1 422.20,744.50 Z" fill="#1c3cd8"/>
<circle cx="424.90" cy="750.30" r="6.4" fill="url(#gSh)"/>
<circle cx="502.90" cy="750.30" r="6.4" fill="#8cb6dc"/>
<path d="M502.90,750.30 L501.24,756.48 A6.4,6.4 0 0 1 500.20,744.50 Z" fill="#1c3cd8"/>
<circle cx="502.90" cy="750.30" r="6.4" fill="url(#gSh)"/>
<circle cx="450.90" cy="750.30" r="6.4" fill="#8cb6dc"/>
<path d="M450.90,750.30 L449.24,756.48 A6.4,6.4 0 0 1 448.20,744.50 Z" fill="#1c3cd8"/>
<circle cx="450.90" cy="750.30" r="6.4" fill="url(#gSh)"/>
<circle cx="510.60" cy="812.80" r="2.6" fill="#f01010"/>
<circle cx="510.60" cy="812.80" r="2.6" fill="url(#gSh2)"/>
<circle cx="510.60" cy="687.80" r="2.6" fill="#f01010"/>
<circle cx="510.60" cy="687.80" r="2.6" fill="url(#gSh2)"/>
<circle cx="443.20" cy="812.80" r="2.6" fill="#f01010"/>
<circle cx="443.20" cy="812.80" r="2.6" fill="url(#gSh2)"/>
<circle cx="443.20" cy="687.80" r="2.6" fill="#f01010"/>
<circle cx="443.20" cy="687.80" r="2.6" fill="url(#gSh2)"/>
<circle cx="479.50" cy="818.00" r="2.6" fill="#f01010"/>
<circle cx="479.50" cy="818.00" r="2.6" fill="url(#gSh2)"/>
<circle cx="479.50" cy="682.60" r="2.6" fill="#f01010"/>
<circle cx="479.50" cy="682.60" r="2.6" fill="url(#gSh2)"/>
<circle cx="474.30" cy="818.00" r="2.6" fill="#f01010"/>
<circle cx="474.30" cy="818.00" r="2.6" fill="url(#gSh2)"/>
<circle cx="474.30" cy="682.60" r="2.6" fill="#f01010"/>
<circle cx="474.30" cy="682.60" r="2.6" fill="url(#gSh2)"/>
<circle cx="493.10" cy="804.00" r="2.6" fill="#f01010"/>
<circle cx="493.10" cy="804.00" r="2.6" fill="url(#gSh2)"/>
<circle cx="493.10" cy="696.60" r="2.6" fill="#f01010"/>
<circle cx="493.10" cy="696.60" r="2.6" fill="url(#gSh2)"/>
<circle cx="460.70" cy="804.00" r="2.6" fill="#f01010"/>
<circle cx="460.70" cy="804.00" r="2.6" fill="url(#gSh2)"/>
<circle cx="460.70" cy="696.60" r="2.6" fill="#f01010"/>
<circle cx="460.70" cy="696.60" r="2.6" fill="url(#gSh2)"/>
<circle cx="493.10" cy="798.20" r="2.6" fill="#f01010"/>
<circle cx="493.10" cy="798.20" r="2.6" fill="url(#gSh2)"/>
<circle cx="493.10" cy="702.40" r="2.6" fill="#f01010"/>
<circle cx="493.10" cy="702.40" r="2.6" fill="url(#gSh2)"/>
<circle cx="460.70" cy="798.20" r="2.6" fill="#f01010"/>
<circle cx="460.70" cy="798.20" r="2.6" fill="url(#gSh2)"/>
<circle cx="460.70" cy="702.40" r="2.6" fill="#f01010"/>
<circle cx="460.70" cy="702.40" r="2.6" fill="url(#gSh2)"/>
<circle cx="479.20" cy="787.10" r="2.6" fill="#f01010"/>
<circle cx="479.20" cy="787.10" r="2.6" fill="url(#gSh2)"/>
<circle cx="479.20" cy="713.50" r="2.6" fill="#f01010"/>
<circle cx="479.20" cy="713.50" r="2.6" fill="url(#gSh2)"/>
<circle cx="474.60" cy="787.10" r="2.6" fill="#f01010"/>
<circle cx="474.60" cy="787.10" r="2.6" fill="url(#gSh2)"/>
<circle cx="474.60" cy="713.50" r="2.6" fill="#f01010"/>
<circle cx="474.60" cy="713.50" r="2.6" fill="url(#gSh2)"/>
<circle cx="532.20" cy="765.50" r="2.6" fill="#f01010"/>
<circle cx="532.20" cy="765.50" r="2.6" fill="url(#gSh2)"/>
<circle cx="532.20" cy="735.10" r="2.6" fill="#f01010"/>
<circle cx="532.20" cy="735.10" r="2.6" fill="url(#gSh2)"/>
<circle cx="421.60" cy="765.50" r="2.6" fill="#f01010"/>
<circle cx="421.60" cy="765.50" r="2.6" fill="url(#gSh2)"/>
<circle cx="421.60" cy="735.10" r="2.6" fill="#f01010"/>
<circle cx="421.60" cy="735.10" r="2.6" fill="url(#gSh2)"/>
<circle cx="525.80" cy="765.50" r="2.6" fill="#f01010"/>
<circle cx="525.80" cy="765.50" r="2.6" fill="url(#gSh2)"/>
<circle cx="525.80" cy="735.10" r="2.6" fill="#f01010"/>
<circle cx="525.80" cy="735.10" r="2.6" fill="url(#gSh2)"/>
<circle cx="428.00" cy="765.50" r="2.6" fill="#f01010"/>
<circle cx="428.00" cy="765.50" r="2.6" fill="url(#gSh2)"/>
<circle cx="428.00" cy="735.10" r="2.6" fill="#f01010"/>
<circle cx="428.00" cy="735.10" r="2.6" fill="url(#gSh2)"/>
<circle cx="492.50" cy="765.50" r="2.6" fill="#f01010"/>
<circle cx="492.50" cy="765.50" r="2.6" fill="url(#gSh2)"/>
<circle cx="492.50" cy="735.10" r="2.6" fill="#f01010"/>
<circle cx="492.50" cy="735.10" r="2.6" fill="url(#gSh2)"/>
<circle cx="461.30" cy="765.50" r="2.6" fill="#f01010"/>
<circle cx="461.30" cy="765.50" r="2.6" fill="url(#gSh2)"/>
<circle cx="461.30" cy="735.10" r="2.6" fill="#f01010"/>
<circle cx="461.30" cy="735.10" r="2.6" fill="url(#gSh2)"/>
<circle cx="510.60" cy="788.80" r="2.6" fill="#f01010"/>
<circle cx="510.60" cy="788.80" r="2.6" fill="url(#gSh2)"/>
<circle cx="510.60" cy="711.80" r="2.6" fill="#f01010"/>
<circle cx="510.60" cy="711.80" r="2.6" fill="url(#gSh2)"/>
<circle cx="443.20" cy="788.80" r="2.6" fill="#f01010"/>
<circle cx="443.20" cy="788.80" r="2.6" fill="url(#gSh2)"/>
<circle cx="443.20" cy="711.80" r="2.6" fill="#f01010"/>
<circle cx="443.20" cy="711.80" r="2.6" fill="url(#gSh2)"/>
<circle cx="544.50" cy="752.70" r="2.6" fill="#f01010"/>
<circle cx="544.50" cy="752.70" r="2.6" fill="url(#gSh2)"/>
<circle cx="544.50" cy="747.90" r="2.6" fill="#f01010"/>
<circle cx="544.50" cy="747.90" r="2.6" fill="url(#gSh2)"/>
<circle cx="409.30" cy="752.70" r="2.6" fill="#f01010"/>
<circle cx="409.30" cy="752.70" r="2.6" fill="url(#gSh2)"/>
<circle cx="409.30" cy="747.90" r="2.6" fill="#f01010"/>
<circle cx="409.30" cy="747.90" r="2.6" fill="url(#gSh2)"/>
<circle cx="514.40" cy="752.60" r="2.6" fill="#f01010"/>
<circle cx="514.40" cy="752.60" r="2.6" fill="url(#gSh2)"/>
<circle cx="514.40" cy="748.00" r="2.6" fill="#f01010"/>
<circle cx="514.40" cy="748.00" r="2.6" fill="url(#gSh2)"/>
<circle cx="439.40" cy="752.60" r="2.6" fill="#f01010"/>
<circle cx="439.40" cy="752.60" r="2.6" fill="url(#gSh2)"/>
<circle cx="439.40" cy="748.00" r="2.6" fill="#f01010"/>
<circle cx="439.40" cy="748.00" r="2.6" fill="url(#gSh2)"/>
<circle cx="476.90" cy="750.30" r="2.6" fill="#f01010"/>
<circle cx="476.90" cy="750.30" r="2.6" fill="url(#gSh2)"/>
<circle cx="424.90" cy="699.10" r="6.2" fill="#a07c9c"/>
<path d="M424.90,699.10 L418.70,699.10 A6.2,6.2 0 0 1 431.10,699.10 Z" fill="#c8c6c2"/>
<circle cx="424.90" cy="699.10" r="6.2" fill="url(#gSh2)"/>
<circle cx="424.90" cy="801.50" r="6.2" fill="#a07c9c"/>
<path d="M424.90,801.50 L418.70,801.50 A6.2,6.2 0 0 1 431.10,801.50 Z" fill="#c8c6c2"/>
<circle cx="424.90" cy="801.50" r="6.2" fill="url(#gSh2)"/>
<circle cx="528.90" cy="699.10" r="6.2" fill="#a07c9c"/>
<path d="M528.90,699.10 L522.70,699.10 A6.2,6.2 0 0 1 535.10,699.10 Z" fill="#c8c6c2"/>
<circle cx="528.90" cy="699.10" r="6.2" fill="url(#gSh2)"/>
<circle cx="528.90" cy="801.50" r="6.2" fill="#a07c9c"/>
<path d="M528.90,801.50 L522.70,801.50 A6.2,6.2 0 0 1 535.10,801.50 Z" fill="#c8c6c2"/>
<circle cx="528.90" cy="801.50" r="6.2" fill="url(#gSh2)"/>
<line x1="386.8" y1="794.5" x2="369.7" y2="794.5" stroke="#e01818" stroke-width="2.2"/>
<path d="M362.5,794.5 L370.2,791.6 L370.2,797.4 Z" fill="#e01818"/>
<line x1="386.8" y1="794.5" x2="386.8" y2="811.0" stroke="#1010d8" stroke-width="2.2"/>
<path d="M386.8,818.2 L383.9,810.5 L389.7,810.5 Z" fill="#1010d8"/>
<circle cx="386.8" cy="794.5" r="2.7" fill="#e6e6e6" stroke="#999" stroke-width="0.6"/>
<text x="357.9" y="796.3" font-size="5" text-anchor="middle" style="font-weight:bold">a</text>
<text x="386.8" y="825.5" font-size="5" text-anchor="middle" style="font-weight:bold">c</text>
<polygon points="628.4,921.3 686,976.6 631.2,1031.4 574.6,977.5" fill="#14a3a0" stroke="#0c5a58" stroke-width="0.5"/>
<line x1="601.6" y1="950.5" x2="657.6" y2="1004" stroke="#0c5a58" stroke-width="0.6"/>
<line x1="656.7" y1="949.2" x2="603.8" y2="1005.3" stroke="#0c5a58" stroke-width="0.6"/>
<text x="629.3" y="957.5" font-size="14.5" text-anchor="middle">{110}</text>
<polyline points="434.1,1024.6 544.9,1024.6 544.9,1135.4 434.1,1135.4 434.1,1024.6" fill="none" stroke="#888" stroke-width="0.7"/>
<polyline points="489.5,1024.6 489.5,1135.4" fill="none" stroke="#aaa" stroke-width="0.5"/>
<polyline points="434.1,1080.0 544.9,1080.0" fill="none" stroke="#aaa" stroke-width="0.5"/>
<circle cx="421.20" cy="1009.30" r="3.3" fill="#f2f2f2"/>
<path d="M421.20,1009.30 L421.49,1006.01 A3.3,3.3 0 0 1 424.19,1007.91 Z" fill="#e81010"/>
<circle cx="421.20" cy="1009.30" r="3.3" fill="url(#gSh2)" stroke="#777" stroke-width="0.35"/>
<circle cx="417.90" cy="1016.20" r="3.3" fill="#f2f2f2"/>
<path d="M417.90,1016.20 L418.19,1012.91 A3.3,3.3 0 0 1 420.89,1014.81 Z" fill="#e81010"/>
<circle cx="417.90" cy="1016.20" r="3.3" fill="url(#gSh2)" stroke="#777" stroke-width="0.35"/>
<circle cx="419.40" cy="1022.10" r="3.3" fill="#f2f2f2"/>
<path d="M419.40,1022.10 L419.69,1018.81 A3.3,3.3 0 0 1 422.39,1020.71 Z" fill="#e81010"/>
<circle cx="419.40" cy="1022.10" r="3.3" fill="url(#gSh2)" stroke="#777" stroke-width="0.35"/>
<circle cx="440.60" cy="1010.00" r="3.3" fill="#f2f2f2"/>
<path d="M440.60,1010.00 L440.89,1006.71 A3.3,3.3 0 0 1 443.59,1008.61 Z" fill="#e81010"/>
<circle cx="440.60" cy="1010.00" r="3.3" fill="url(#gSh2)" stroke="#777" stroke-width="0.35"/>
<circle cx="445.70" cy="1020.20" r="3.3" fill="#f2f2f2"/>
<path d="M445.70,1020.20 L445.99,1016.91 A3.3,3.3 0 0 1 448.69,1018.81 Z" fill="#e81010"/>
<circle cx="445.70" cy="1020.20" r="3.3" fill="url(#gSh2)" stroke="#777" stroke-width="0.35"/>
<circle cx="447.50" cy="1014.80" r="3.3" fill="#f2f2f2"/>
<path d="M447.50,1014.80 L447.79,1011.51 A3.3,3.3 0 0 1 450.49,1013.41 Z" fill="#e81010"/>
<circle cx="447.50" cy="1014.80" r="3.3" fill="url(#gSh2)" stroke="#777" stroke-width="0.35"/>
<circle cx="418.70" cy="1031.20" r="3.3" fill="#f2f2f2"/>
<path d="M418.70,1031.20 L418.99,1027.91 A3.3,3.3 0 0 1 421.69,1029.81 Z" fill="#e81010"/>
<circle cx="418.70" cy="1031.20" r="3.3" fill="url(#gSh2)" stroke="#777" stroke-width="0.35"/>
<circle cx="417.90" cy="1037.00" r="3.3" fill="#f2f2f2"/>
<path d="M417.90,1037.00 L418.19,1033.71 A3.3,3.3 0 0 1 420.89,1035.61 Z" fill="#e81010"/>
<circle cx="417.90" cy="1037.00" r="3.3" fill="url(#gSh2)" stroke="#777" stroke-width="0.35"/>
<circle cx="429.60" cy="1039.90" r="3.3" fill="#f2f2f2"/>
<path d="M429.60,1039.90 L429.89,1036.61 A3.3,3.3 0 0 1 432.59,1038.51 Z" fill="#e81010"/>
<circle cx="429.60" cy="1039.90" r="3.3" fill="url(#gSh2)" stroke="#777" stroke-width="0.35"/>
<circle cx="445.30" cy="1031.20" r="3.3" fill="#f2f2f2"/>
<path d="M445.30,1031.20 L445.59,1027.91 A3.3,3.3 0 0 1 448.29,1029.81 Z" fill="#e81010"/>
<circle cx="445.30" cy="1031.20" r="3.3" fill="url(#gSh2)" stroke="#777" stroke-width="0.35"/>
<circle cx="447.90" cy="1037.70" r="3.3" fill="#f2f2f2"/>
<path d="M447.90,1037.70 L448.19,1034.41 A3.3,3.3 0 0 1 450.89,1036.31 Z" fill="#e81010"/>
<circle cx="447.90" cy="1037.70" r="3.3" fill="url(#gSh2)" stroke="#777" stroke-width="0.35"/>
<circle cx="440.60" cy="1039.90" r="3.3" fill="#f2f2f2"/>
<path d="M440.60,1039.90 L440.89,1036.61 A3.3,3.3 0 0 1 443.59,1038.51 Z" fill="#e81010"/>
<circle cx="440.60" cy="1039.90" r="3.3" fill="url(#gSh2)" stroke="#777" stroke-width="0.35"/>
<circle cx="420.20" cy="1007.10" r="3.3" fill="#f2f2f2"/>
<path d="M420.20,1007.10 L420.49,1003.81 A3.3,3.3 0 0 1 423.19,1005.71 Z" fill="#e81010"/>
<circle cx="420.20" cy="1007.10" r="3.3" fill="url(#gSh2)" stroke="#777" stroke-width="0.35"/>
<circle cx="428.30" cy="1007.10" r="3.3" fill="#f2f2f2"/>
<path d="M428.30,1007.10 L428.59,1003.81 A3.3,3.3 0 0 1 431.29,1005.71 Z" fill="#e81010"/>
<circle cx="428.30" cy="1007.10" r="3.3" fill="url(#gSh2)" stroke="#777" stroke-width="0.35"/>
<circle cx="416.90" cy="1014.00" r="3.3" fill="#f2f2f2"/>
<path d="M416.90,1014.00 L417.19,1010.71 A3.3,3.3 0 0 1 419.89,1012.61 Z" fill="#e81010"/>
<circle cx="416.90" cy="1014.00" r="3.3" fill="url(#gSh2)" stroke="#777" stroke-width="0.35"/>
<circle cx="422.40" cy="1011.80" r="3.3" fill="#f2f2f2"/>
<path d="M422.40,1011.80 L422.69,1008.51 A3.3,3.3 0 0 1 425.39,1010.41 Z" fill="#e81010"/>
<circle cx="422.40" cy="1011.80" r="3.3" fill="url(#gSh2)" stroke="#777" stroke-width="0.35"/>
<circle cx="418.40" cy="1019.90" r="3.3" fill="#f2f2f2"/>
<path d="M418.40,1019.90 L418.69,1016.61 A3.3,3.3 0 0 1 421.39,1018.51 Z" fill="#e81010"/>
<circle cx="418.40" cy="1019.90" r="3.3" fill="url(#gSh2)" stroke="#777" stroke-width="0.35"/>
<circle cx="424.20" cy="1018.80" r="3.3" fill="#f2f2f2"/>
<path d="M424.20,1018.80 L424.49,1015.51 A3.3,3.3 0 0 1 427.19,1017.41 Z" fill="#e81010"/>
<circle cx="424.20" cy="1018.80" r="3.3" fill="url(#gSh2)" stroke="#777" stroke-width="0.35"/>
<circle cx="439.60" cy="1007.80" r="3.3" fill="#f2f2f2"/>
<path d="M439.60,1007.80 L439.89,1004.51 A3.3,3.3 0 0 1 442.59,1006.41 Z" fill="#e81010"/>
<circle cx="439.60" cy="1007.80" r="3.3" fill="url(#gSh2)" stroke="#777" stroke-width="0.35"/>
<circle cx="448.00" cy="1007.80" r="3.3" fill="#f2f2f2"/>
<path d="M448.00,1007.80 L448.29,1004.51 A3.3,3.3 0 0 1 450.99,1006.41 Z" fill="#e81010"/>
<circle cx="448.00" cy="1007.80" r="3.3" fill="url(#gSh2)" stroke="#777" stroke-width="0.35"/>
<circle cx="444.70" cy="1018.00" r="3.3" fill="#f2f2f2"/>
<path d="M444.70,1018.00 L444.99,1014.71 A3.3,3.3 0 0 1 447.69,1016.61 Z" fill="#e81010"/>
<circle cx="444.70" cy="1018.00" r="3.3" fill="url(#gSh2)" stroke="#777" stroke-width="0.35"/>
<circle cx="450.20" cy="1019.50" r="3.3" fill="#f2f2f2"/>
<path d="M450.20,1019.50 L450.49,1016.21 A3.3,3.3 0 0 1 453.19,1018.11 Z" fill="#e81010"/>
<circle cx="450.20" cy="1019.50" r="3.3" fill="url(#gSh2)" stroke="#777" stroke-width="0.35"/>
<circle cx="446.50" cy="1012.60" r="3.3" fill="#f2f2f2"/>
<path d="M446.50,1012.60 L446.79,1009.31 A3.3,3.3 0 0 1 449.49,1011.21 Z" fill="#e81010"/>
<circle cx="446.50" cy="1012.60" r="3.3" fill="url(#gSh2)" stroke="#777" stroke-width="0.35"/>
<circle cx="440.60" cy="1013.60" r="3.3" fill="#f2f2f2"/>
<path d="M440.60,1013.60 L440.89,1010.31 A3.3,3.3 0 0 1 443.59,1012.21 Z" fill="#e81010"/>
<circle cx="440.60" cy="1013.60" r="3.3" fill="url(#gSh2)" stroke="#777" stroke-width="0.35"/>
<circle cx="417.70" cy="1029.00" r="3.3" fill="#f2f2f2"/>
<path d="M417.70,1029.00 L417.99,1025.71 A3.3,3.3 0 0 1 420.69,1027.61 Z" fill="#e81010"/>
<circle cx="417.70" cy="1029.00" r="3.3" fill="url(#gSh2)" stroke="#777" stroke-width="0.35"/>
<circle cx="423.90" cy="1029.70" r="3.3" fill="#f2f2f2"/>
<path d="M423.90,1029.70 L424.19,1026.41 A3.3,3.3 0 0 1 426.89,1028.31 Z" fill="#e81010"/>
<circle cx="423.90" cy="1029.70" r="3.3" fill="url(#gSh2)" stroke="#777" stroke-width="0.35"/>
<circle cx="416.90" cy="1034.80" r="3.3" fill="#f2f2f2"/>
<path d="M416.90,1034.80 L417.19,1031.51 A3.3,3.3 0 0 1 419.89,1033.41 Z" fill="#e81010"/>
<circle cx="416.90" cy="1034.80" r="3.3" fill="url(#gSh2)" stroke="#777" stroke-width="0.35"/>
<circle cx="422.10" cy="1035.50" r="3.3" fill="#f2f2f2"/>
<path d="M422.10,1035.50 L422.39,1032.21 A3.3,3.3 0 0 1 425.09,1034.11 Z" fill="#e81010"/>
<circle cx="422.10" cy="1035.50" r="3.3" fill="url(#gSh2)" stroke="#777" stroke-width="0.35"/>
<circle cx="428.60" cy="1037.70" r="3.3" fill="#f2f2f2"/>
<path d="M428.60,1037.70 L428.89,1034.41 A3.3,3.3 0 0 1 431.59,1036.31 Z" fill="#e81010"/>
<circle cx="428.60" cy="1037.70" r="3.3" fill="url(#gSh2)" stroke="#777" stroke-width="0.35"/>
<circle cx="418.40" cy="1040.70" r="3.3" fill="#f2f2f2"/>
<path d="M418.40,1040.70 L418.69,1037.41 A3.3,3.3 0 0 1 421.39,1039.31 Z" fill="#e81010"/>
<circle cx="418.40" cy="1040.70" r="3.3" fill="url(#gSh2)" stroke="#777" stroke-width="0.35"/>
<circle cx="444.30" cy="1029.00" r="3.3" fill="#f2f2f2"/>
<path d="M444.30,1029.00 L444.59,1025.71 A3.3,3.3 0 0 1 447.29,1027.61 Z" fill="#e81010"/>
<circle cx="444.30" cy="1029.00" r="3.3" fill="url(#gSh2)" stroke="#777" stroke-width="0.35"/>
<circle cx="450.20" cy="1028.20" r="3.3" fill="#f2f2f2"/>
<path d="M450.20,1028.20 L450.49,1024.91 A3.3,3.3 0 0 1 453.19,1026.81 Z" fill="#e81010"/>
<circle cx="450.20" cy="1028.20" r="3.3" fill="url(#gSh2)" stroke="#777" stroke-width="0.35"/>
<circle cx="446.90" cy="1035.50" r="3.3" fill="#f2f2f2"/>
<path d="M446.90,1035.50 L447.19,1032.21 A3.3,3.3 0 0 1 449.89,1034.11 Z" fill="#e81010"/>
<circle cx="446.90" cy="1035.50" r="3.3" fill="url(#gSh2)" stroke="#777" stroke-width="0.35"/>
<circle cx="451.60" cy="1034.10" r="3.3" fill="#f2f2f2"/>
<path d="M451.60,1034.10 L451.89,1030.81 A3.3,3.3 0 0 1 454.59,1032.71 Z" fill="#e81010"/>
<circle cx="451.60" cy="1034.10" r="3.3" fill="url(#gSh2)" stroke="#777" stroke-width="0.35"/>
<circle cx="439.60" cy="1037.70" r="3.3" fill="#f2f2f2"/>
<path d="M439.60,1037.70 L439.89,1034.41 A3.3,3.3 0 0 1 442.59,1036.31 Z" fill="#e81010"/>
<circle cx="439.60" cy="1037.70" r="3.3" fill="url(#gSh2)" stroke="#777" stroke-width="0.35"/>
<circle cx="449.10" cy="1039.20" r="3.3" fill="#f2f2f2"/>
<path d="M449.10,1039.20 L449.39,1035.91 A3.3,3.3 0 0 1 452.09,1037.81 Z" fill="#e81010"/>
<circle cx="449.10" cy="1039.20" r="3.3" fill="url(#gSh2)" stroke="#777" stroke-width="0.35"/>
<circle cx="421.20" cy="1120.10" r="3.3" fill="#f2f2f2"/>
<path d="M421.20,1120.10 L421.49,1116.81 A3.3,3.3 0 0 1 424.19,1118.71 Z" fill="#e81010"/>
<circle cx="421.20" cy="1120.10" r="3.3" fill="url(#gSh2)" stroke="#777" stroke-width="0.35"/>
<circle cx="417.90" cy="1127.00" r="3.3" fill="#f2f2f2"/>
<path d="M417.90,1127.00 L418.19,1123.71 A3.3,3.3 0 0 1 420.89,1125.61 Z" fill="#e81010"/>
<circle cx="417.90" cy="1127.00" r="3.3" fill="url(#gSh2)" stroke="#777" stroke-width="0.35"/>
<circle cx="419.40" cy="1132.90" r="3.3" fill="#f2f2f2"/>
<path d="M419.40,1132.90 L419.69,1129.61 A3.3,3.3 0 0 1 422.39,1131.51 Z" fill="#e81010"/>
<circle cx="419.40" cy="1132.90" r="3.3" fill="url(#gSh2)" stroke="#777" stroke-width="0.35"/>
<circle cx="440.60" cy="1120.80" r="3.3" fill="#f2f2f2"/>
<path d="M440.60,1120.80 L440.89,1117.51 A3.3,3.3 0 0 1 443.59,1119.41 Z" fill="#e81010"/>
<circle cx="440.60" cy="1120.80" r="3.3" fill="url(#gSh2)" stroke="#777" stroke-width="0.35"/>
<circle cx="445.70" cy="1131.00" r="3.3" fill="#f2f2f2"/>
<path d="M445.70,1131.00 L445.99,1127.71 A3.3,3.3 0 0 1 448.69,1129.61 Z" fill="#e81010"/>
<circle cx="445.70" cy="1131.00" r="3.3" fill="url(#gSh2)" stroke="#777" stroke-width="0.35"/>
<circle cx="447.50" cy="1125.60" r="3.3" fill="#f2f2f2"/>
<path d="M447.50,1125.60 L447.79,1122.31 A3.3,3.3 0 0 1 450.49,1124.21 Z" fill="#e81010"/>
<circle cx="447.50" cy="1125.60" r="3.3" fill="url(#gSh2)" stroke="#777" stroke-width="0.35"/>
<circle cx="418.70" cy="1142.00" r="3.3" fill="#f2f2f2"/>
<path d="M418.70,1142.00 L418.99,1138.71 A3.3,3.3 0 0 1 421.69,1140.61 Z" fill="#e81010"/>
<circle cx="418.70" cy="1142.00" r="3.3" fill="url(#gSh2)" stroke="#777" stroke-width="0.35"/>
<circle cx="417.90" cy="1147.80" r="3.3" fill="#f2f2f2"/>
<path d="M417.90,1147.80 L418.19,1144.51 A3.3,3.3 0 0 1 420.89,1146.41 Z" fill="#e81010"/>
<circle cx="417.90" cy="1147.80" r="3.3" fill="url(#gSh2)" stroke="#777" stroke-width="0.35"/>
<circle cx="429.60" cy="1150.70" r="3.3" fill="#f2f2f2"/>
<path d="M429.60,1150.70 L429.89,1147.41 A3.3,3.3 0 0 1 432.59,1149.31 Z" fill="#e81010"/>
<circle cx="429.60" cy="1150.70" r="3.3" fill="url(#gSh2)" stroke="#777" stroke-width="0.35"/>
<circle cx="445.30" cy="1142.00" r="3.3" fill="#f2f2f2"/>
<path d="M445.30,1142.00 L445.59,1138.71 A3.3,3.3 0 0 1 448.29,1140.61 Z" fill="#e81010"/>
<circle cx="445.30" cy="1142.00" r="3.3" fill="url(#gSh2)" stroke="#777" stroke-width="0.35"/>
<circle cx="447.90" cy="1148.50" r="3.3" fill="#f2f2f2"/>
<path d="M447.90,1148.50 L448.19,1145.21 A3.3,3.3 0 0 1 450.89,1147.11 Z" fill="#e81010"/>
<circle cx="447.90" cy="1148.50" r="3.3" fill="url(#gSh2)" stroke="#777" stroke-width="0.35"/>
<circle cx="440.60" cy="1150.70" r="3.3" fill="#f2f2f2"/>
<path d="M440.60,1150.70 L440.89,1147.41 A3.3,3.3 0 0 1 443.59,1149.31 Z" fill="#e81010"/>
<circle cx="440.60" cy="1150.70" r="3.3" fill="url(#gSh2)" stroke="#777" stroke-width="0.35"/>
<circle cx="420.20" cy="1117.90" r="3.3" fill="#f2f2f2"/>
<path d="M420.20,1117.90 L420.49,1114.61 A3.3,3.3 0 0 1 423.19,1116.51 Z" fill="#e81010"/>
<circle cx="420.20" cy="1117.90" r="3.3" fill="url(#gSh2)" stroke="#777" stroke-width="0.35"/>
<circle cx="428.30" cy="1117.90" r="3.3" fill="#f2f2f2"/>
<path d="M428.30,1117.90 L428.59,1114.61 A3.3,3.3 0 0 1 431.29,1116.51 Z" fill="#e81010"/>
<circle cx="428.30" cy="1117.90" r="3.3" fill="url(#gSh2)" stroke="#777" stroke-width="0.35"/>
<circle cx="416.90" cy="1124.80" r="3.3" fill="#f2f2f2"/>
<path d="M416.90,1124.80 L417.19,1121.51 A3.3,3.3 0 0 1 419.89,1123.41 Z" fill="#e81010"/>
<circle cx="416.90" cy="1124.80" r="3.3" fill="url(#gSh2)" stroke="#777" stroke-width="0.35"/>
<circle cx="422.40" cy="1122.60" r="3.3" fill="#f2f2f2"/>
<path d="M422.40,1122.60 L422.69,1119.31 A3.3,3.3 0 0 1 425.39,1121.21 Z" fill="#e81010"/>
<circle cx="422.40" cy="1122.60" r="3.3" fill="url(#gSh2)" stroke="#777" stroke-width="0.35"/>
<circle cx="418.40" cy="1130.70" r="3.3" fill="#f2f2f2"/>
<path d="M418.40,1130.70 L418.69,1127.41 A3.3,3.3 0 0 1 421.39,1129.31 Z" fill="#e81010"/>
<circle cx="418.40" cy="1130.70" r="3.3" fill="url(#gSh2)" stroke="#777" stroke-width="0.35"/>
<circle cx="424.20" cy="1129.60" r="3.3" fill="#f2f2f2"/>
<path d="M424.20,1129.60 L424.49,1126.31 A3.3,3.3 0 0 1 427.19,1128.21 Z" fill="#e81010"/>
<circle cx="424.20" cy="1129.60" r="3.3" fill="url(#gSh2)" stroke="#777" stroke-width="0.35"/>
<circle cx="439.60" cy="1118.60" r="3.3" fill="#f2f2f2"/>
<path d="M439.60,1118.60 L439.89,1115.31 A3.3,3.3 0 0 1 442.59,1117.21 Z" fill="#e81010"/>
<circle cx="439.60" cy="1118.60" r="3.3" fill="url(#gSh2)" stroke="#777" stroke-width="0.35"/>
<circle cx="448.00" cy="1118.60" r="3.3" fill="#f2f2f2"/>
<path d="M448.00,1118.60 L448.29,1115.31 A3.3,3.3 0 0 1 450.99,1117.21 Z" fill="#e81010"/>
<circle cx="448.00" cy="1118.60" r="3.3" fill="url(#gSh2)" stroke="#777" stroke-width="0.35"/>
<circle cx="444.70" cy="1128.80" r="3.3" fill="#f2f2f2"/>
<path d="M444.70,1128.80 L444.99,1125.51 A3.3,3.3 0 0 1 447.69,1127.41 Z" fill="#e81010"/>
<circle cx="444.70" cy="1128.80" r="3.3" fill="url(#gSh2)" stroke="#777" stroke-width="0.35"/>
<circle cx="450.20" cy="1130.30" r="3.3" fill="#f2f2f2"/>
<path d="M450.20,1130.30 L450.49,1127.01 A3.3,3.3 0 0 1 453.19,1128.91 Z" fill="#e81010"/>
<circle cx="450.20" cy="1130.30" r="3.3" fill="url(#gSh2)" stroke="#777" stroke-width="0.35"/>
<circle cx="446.50" cy="1123.40" r="3.3" fill="#f2f2f2"/>
<path d="M446.50,1123.40 L446.79,1120.11 A3.3,3.3 0 0 1 449.49,1122.01 Z" fill="#e81010"/>
<circle cx="446.50" cy="1123.40" r="3.3" fill="url(#gSh2)" stroke="#777" stroke-width="0.35"/>
<circle cx="440.60" cy="1124.40" r="3.3" fill="#f2f2f2"/>
<path d="M440.60,1124.40 L440.89,1121.11 A3.3,3.3 0 0 1 443.59,1123.01 Z" fill="#e81010"/>
<circle cx="440.60" cy="1124.40" r="3.3" fill="url(#gSh2)" stroke="#777" stroke-width="0.35"/>
<circle cx="417.70" cy="1139.80" r="3.3" fill="#f2f2f2"/>
<path d="M417.70,1139.80 L417.99,1136.51 A3.3,3.3 0 0 1 420.69,1138.41 Z" fill="#e81010"/>
<circle cx="417.70" cy="1139.80" r="3.3" fill="url(#gSh2)" stroke="#777" stroke-width="0.35"/>
<circle cx="423.90" cy="1140.50" r="3.3" fill="#f2f2f2"/>
<path d="M423.90,1140.50 L424.19,1137.21 A3.3,3.3 0 0 1 426.89,1139.11 Z" fill="#e81010"/>
<circle cx="423.90" cy="1140.50" r="3.3" fill="url(#gSh2)" stroke="#777" stroke-width="0.35"/>
<circle cx="416.90" cy="1145.60" r="3.3" fill="#f2f2f2"/>
<path d="M416.90,1145.60 L417.19,1142.31 A3.3,3.3 0 0 1 419.89,1144.21 Z" fill="#e81010"/>
<circle cx="416.90" cy="1145.60" r="3.3" fill="url(#gSh2)" stroke="#777" stroke-width="0.35"/>
<circle cx="422.10" cy="1146.30" r="3.3" fill="#f2f2f2"/>
<path d="M422.10,1146.30 L422.39,1143.01 A3.3,3.3 0 0 1 425.09,1144.91 Z" fill="#e81010"/>
<circle cx="422.10" cy="1146.30" r="3.3" fill="url(#gSh2)" stroke="#777" stroke-width="0.35"/>
<circle cx="428.60" cy="1148.50" r="3.3" fill="#f2f2f2"/>
<path d="M428.60,1148.50 L428.89,1145.21 A3.3,3.3 0 0 1 431.59,1147.11 Z" fill="#e81010"/>
<circle cx="428.60" cy="1148.50" r="3.3" fill="url(#gSh2)" stroke="#777" stroke-width="0.35"/>
<circle cx="418.40" cy="1151.50" r="3.3" fill="#f2f2f2"/>
<path d="M418.40,1151.50 L418.69,1148.21 A3.3,3.3 0 0 1 421.39,1150.11 Z" fill="#e81010"/>
<circle cx="418.40" cy="1151.50" r="3.3" fill="url(#gSh2)" stroke="#777" stroke-width="0.35"/>
<circle cx="444.30" cy="1139.80" r="3.3" fill="#f2f2f2"/>
<path d="M444.30,1139.80 L444.59,1136.51 A3.3,3.3 0 0 1 447.29,1138.41 Z" fill="#e81010"/>
<circle cx="444.30" cy="1139.80" r="3.3" fill="url(#gSh2)" stroke="#777" stroke-width="0.35"/>
<circle cx="450.20" cy="1139.00" r="3.3" fill="#f2f2f2"/>
<path d="M450.20,1139.00 L450.49,1135.71 A3.3,3.3 0 0 1 453.19,1137.61 Z" fill="#e81010"/>
<circle cx="450.20" cy="1139.00" r="3.3" fill="url(#gSh2)" stroke="#777" stroke-width="0.35"/>
<circle cx="446.90" cy="1146.30" r="3.3" fill="#f2f2f2"/>
<path d="M446.90,1146.30 L447.19,1143.01 A3.3,3.3 0 0 1 449.89,1144.91 Z" fill="#e81010"/>
<circle cx="446.90" cy="1146.30" r="3.3" fill="url(#gSh2)" stroke="#777" stroke-width="0.35"/>
<circle cx="451.60" cy="1144.90" r="3.3" fill="#f2f2f2"/>
<path d="M451.60,1144.90 L451.89,1141.61 A3.3,3.3 0 0 1 454.59,1143.51 Z" fill="#e81010"/>
<circle cx="451.60" cy="1144.90" r="3.3" fill="url(#gSh2)" stroke="#777" stroke-width="0.35"/>
<circle cx="439.60" cy="1148.50" r="3.3" fill="#f2f2f2"/>
<path d="M439.60,1148.50 L439.89,1145.21 A3.3,3.3 0 0 1 442.59,1147.11 Z" fill="#e81010"/>
<circle cx="439.60" cy="1148.50" r="3.3" fill="url(#gSh2)" stroke="#777" stroke-width="0.35"/>
<circle cx="449.10" cy="1150.00" r="3.3" fill="#f2f2f2"/>
<path d="M449.10,1150.00 L449.39,1146.71 A3.3,3.3 0 0 1 452.09,1148.61 Z" fill="#e81010"/>
<circle cx="449.10" cy="1150.00" r="3.3" fill="url(#gSh2)" stroke="#777" stroke-width="0.35"/>
<circle cx="532.00" cy="1009.30" r="3.3" fill="#f2f2f2"/>
<path d="M532.00,1009.30 L532.29,1006.01 A3.3,3.3 0 0 1 534.99,1007.91 Z" fill="#e81010"/>
<circle cx="532.00" cy="1009.30" r="3.3" fill="url(#gSh2)" stroke="#777" stroke-width="0.35"/>
<circle cx="528.70" cy="1016.20" r="3.3" fill="#f2f2f2"/>
<path d="M528.70,1016.20 L528.99,1012.91 A3.3,3.3 0 0 1 531.69,1014.81 Z" fill="#e81010"/>
<circle cx="528.70" cy="1016.20" r="3.3" fill="url(#gSh2)" stroke="#777" stroke-width="0.35"/>
<circle cx="530.20" cy="1022.10" r="3.3" fill="#f2f2f2"/>
<path d="M530.20,1022.10 L530.49,1018.81 A3.3,3.3 0 0 1 533.19,1020.71 Z" fill="#e81010"/>
<circle cx="530.20" cy="1022.10" r="3.3" fill="url(#gSh2)" stroke="#777" stroke-width="0.35"/>
<circle cx="551.40" cy="1010.00" r="3.3" fill="#f2f2f2"/>
<path d="M551.40,1010.00 L551.69,1006.71 A3.3,3.3 0 0 1 554.39,1008.61 Z" fill="#e81010"/>
<circle cx="551.40" cy="1010.00" r="3.3" fill="url(#gSh2)" stroke="#777" stroke-width="0.35"/>
<circle cx="556.50" cy="1020.20" r="3.3" fill="#f2f2f2"/>
<path d="M556.50,1020.20 L556.79,1016.91 A3.3,3.3 0 0 1 559.49,1018.81 Z" fill="#e81010"/>
<circle cx="556.50" cy="1020.20" r="3.3" fill="url(#gSh2)" stroke="#777" stroke-width="0.35"/>
<circle cx="558.30" cy="1014.80" r="3.3" fill="#f2f2f2"/>
<path d="M558.30,1014.80 L558.59,1011.51 A3.3,3.3 0 0 1 561.29,1013.41 Z" fill="#e81010"/>
<circle cx="558.30" cy="1014.80" r="3.3" fill="url(#gSh2)" stroke="#777" stroke-width="0.35"/>
<circle cx="529.50" cy="1031.20" r="3.3" fill="#f2f2f2"/>
<path d="M529.50,1031.20 L529.79,1027.91 A3.3,3.3 0 0 1 532.49,1029.81 Z" fill="#e81010"/>
<circle cx="529.50" cy="1031.20" r="3.3" fill="url(#gSh2)" stroke="#777" stroke-width="0.35"/>
<circle cx="528.70" cy="1037.00" r="3.3" fill="#f2f2f2"/>
<path d="M528.70,1037.00 L528.99,1033.71 A3.3,3.3 0 0 1 531.69,1035.61 Z" fill="#e81010"/>
<circle cx="528.70" cy="1037.00" r="3.3" fill="url(#gSh2)" stroke="#777" stroke-width="0.35"/>
<circle cx="540.40" cy="1039.90" r="3.3" fill="#f2f2f2"/>
<path d="M540.40,1039.90 L540.69,1036.61 A3.3,3.3 0 0 1 543.39,1038.51 Z" fill="#e81010"/>
<circle cx="540.40" cy="1039.90" r="3.3" fill="url(#gSh2)" stroke="#777" stroke-width="0.35"/>
<circle cx="556.10" cy="1031.20" r="3.3" fill="#f2f2f2"/>
<path d="M556.10,1031.20 L556.39,1027.91 A3.3,3.3 0 0 1 559.09,1029.81 Z" fill="#e81010"/>
<circle cx="556.10" cy="1031.20" r="3.3" fill="url(#gSh2)" stroke="#777" stroke-width="0.35"/>
<circle cx="558.70" cy="1037.70" r="3.3" fill="#f2f2f2"/>
<path d="M558.70,1037.70 L558.99,1034.41 A3.3,3.3 0 0 1 561.69,1036.31 Z" fill="#e81010"/>
<circle cx="558.70" cy="1037.70" r="3.3" fill="url(#gSh2)" stroke="#777" stroke-width="0.35"/>
<circle cx="551.40" cy="1039.90" r="3.3" fill="#f2f2f2"/>
<path d="M551.40,1039.90 L551.69,1036.61 A3.3,3.3 0 0 1 554.39,1038.51 Z" fill="#e81010"/>
<circle cx="551.40" cy="1039.90" r="3.3" fill="url(#gSh2)" stroke="#777" stroke-width="0.35"/>
<circle cx="531.00" cy="1007.10" r="3.3" fill="#f2f2f2"/>
<path d="M531.00,1007.10 L531.29,1003.81 A3.3,3.3 0 0 1 533.99,1005.71 Z" fill="#e81010"/>
<circle cx="531.00" cy="1007.10" r="3.3" fill="url(#gSh2)" stroke="#777" stroke-width="0.35"/>
<circle cx="539.10" cy="1007.10" r="3.3" fill="#f2f2f2"/>
<path d="M539.10,1007.10 L539.39,1003.81 A3.3,3.3 0 0 1 542.09,1005.71 Z" fill="#e81010"/>
<circle cx="539.10" cy="1007.10" r="3.3" fill="url(#gSh2)" stroke="#777" stroke-width="0.35"/>
<circle cx="527.70" cy="1014.00" r="3.3" fill="#f2f2f2"/>
<path d="M527.70,1014.00 L527.99,1010.71 A3.3,3.3 0 0 1 530.69,1012.61 Z" fill="#e81010"/>
<circle cx="527.70" cy="1014.00" r="3.3" fill="url(#gSh2)" stroke="#777" stroke-width="0.35"/>
<circle cx="533.20" cy="1011.80" r="3.3" fill="#f2f2f2"/>
<path d="M533.20,1011.80 L533.49,1008.51 A3.3,3.3 0 0 1 536.19,1010.41 Z" fill="#e81010"/>
<circle cx="533.20" cy="1011.80" r="3.3" fill="url(#gSh2)" stroke="#777" stroke-width="0.35"/>
<circle cx="529.20" cy="1019.90" r="3.3" fill="#f2f2f2"/>
<path d="M529.20,1019.90 L529.49,1016.61 A3.3,3.3 0 0 1 532.19,1018.51 Z" fill="#e81010"/>
<circle cx="529.20" cy="1019.90" r="3.3" fill="url(#gSh2)" stroke="#777" stroke-width="0.35"/>
<circle cx="535.00" cy="1018.80" r="3.3" fill="#f2f2f2"/>
<path d="M535.00,1018.80 L535.29,1015.51 A3.3,3.3 0 0 1 537.99,1017.41 Z" fill="#e81010"/>
<circle cx="535.00" cy="1018.80" r="3.3" fill="url(#gSh2)" stroke="#777" stroke-width="0.35"/>
<circle cx="550.40" cy="1007.80" r="3.3" fill="#f2f2f2"/>
<path d="M550.40,1007.80 L550.69,1004.51 A3.3,3.3 0 0 1 553.39,1006.41 Z" fill="#e81010"/>
<circle cx="550.40" cy="1007.80" r="3.3" fill="url(#gSh2)" stroke="#777" stroke-width="0.35"/>
<circle cx="558.80" cy="1007.80" r="3.3" fill="#f2f2f2"/>
<path d="M558.80,1007.80 L559.09,1004.51 A3.3,3.3 0 0 1 561.79,1006.41 Z" fill="#e81010"/>
<circle cx="558.80" cy="1007.80" r="3.3" fill="url(#gSh2)" stroke="#777" stroke-width="0.35"/>
<circle cx="555.50" cy="1018.00" r="3.3" fill="#f2f2f2"/>
<path d="M555.50,1018.00 L555.79,1014.71 A3.3,3.3 0 0 1 558.49,1016.61 Z" fill="#e81010"/>
<circle cx="555.50" cy="1018.00" r="3.3" fill="url(#gSh2)" stroke="#777" stroke-width="0.35"/>
<circle cx="561.00" cy="1019.50" r="3.3" fill="#f2f2f2"/>
<path d="M561.00,1019.50 L561.29,1016.21 A3.3,3.3 0 0 1 563.99,1018.11 Z" fill="#e81010"/>
<circle cx="561.00" cy="1019.50" r="3.3" fill="url(#gSh2)" stroke="#777" stroke-width="0.35"/>
<circle cx="557.30" cy="1012.60" r="3.3" fill="#f2f2f2"/>
<path d="M557.30,1012.60 L557.59,1009.31 A3.3,3.3 0 0 1 560.29,1011.21 Z" fill="#e81010"/>
<circle cx="557.30" cy="1012.60" r="3.3" fill="url(#gSh2)" stroke="#777" stroke-width="0.35"/>
<circle cx="551.40" cy="1013.60" r="3.3" fill="#f2f2f2"/>
<path d="M551.40,1013.60 L551.69,1010.31 A3.3,3.3 0 0 1 554.39,1012.21 Z" fill="#e81010"/>
<circle cx="551.40" cy="1013.60" r="3.3" fill="url(#gSh2)" stroke="#777" stroke-width="0.35"/>
<circle cx="528.50" cy="1029.00" r="3.3" fill="#f2f2f2"/>
<path d="M528.50,1029.00 L528.79,1025.71 A3.3,3.3 0 0 1 531.49,1027.61 Z" fill="#e81010"/>
<circle cx="528.50" cy="1029.00" r="3.3" fill="url(#gSh2)" stroke="#777" stroke-width="0.35"/>
<circle cx="534.70" cy="1029.70" r="3.3" fill="#f2f2f2"/>
<path d="M534.70,1029.70 L534.99,1026.41 A3.3,3.3 0 0 1 537.69,1028.31 Z" fill="#e81010"/>
<circle cx="534.70" cy="1029.70" r="3.3" fill="url(#gSh2)" stroke="#777" stroke-width="0.35"/>
<circle cx="527.70" cy="1034.80" r="3.3" fill="#f2f2f2"/>
<path d="M527.70,1034.80 L527.99,1031.51 A3.3,3.3 0 0 1 530.69,1033.41 Z" fill="#e81010"/>
<circle cx="527.70" cy="1034.80" r="3.3" fill="url(#gSh2)" stroke="#777" stroke-width="0.35"/>
<circle cx="532.90" cy="1035.50" r="3.3" fill="#f2f2f2"/>
<path d="M532.90,1035.50 L533.19,1032.21 A3.3,3.3 0 0 1 535.89,1034.11 Z" fill="#e81010"/>
<circle cx="532.90" cy="1035.50" r="3.3" fill="url(#gSh2)" stroke="#777" stroke-width="0.35"/>
<circle cx="539.40" cy="1037.70" r="3.3" fill="#f2f2f2"/>
<path d="M539.40,1037.70 L539.69,1034.41 A3.3,3.3 0 0 1 542.39,1036.31 Z" fill="#e81010"/>
<circle cx="539.40" cy="1037.70" r="3.3" fill="url(#gSh2)" stroke="#777" stroke-width="0.35"/>
<circle cx="529.20" cy="1040.70" r="3.3" fill="#f2f2f2"/>
<path d="M529.20,1040.70 L529.49,1037.41 A3.3,3.3 0 0 1 532.19,1039.31 Z" fill="#e81010"/>
<circle cx="529.20" cy="1040.70" r="3.3" fill="url(#gSh2)" stroke="#777" stroke-width="0.35"/>
<circle cx="555.10" cy="1029.00" r="3.3" fill="#f2f2f2"/>
<path d="M555.10,1029.00 L555.39,1025.71 A3.3,3.3 0 0 1 558.09,1027.61 Z" fill="#e81010"/>
<circle cx="555.10" cy="1029.00" r="3.3" fill="url(#gSh2)" stroke="#777" stroke-width="0.35"/>
<circle cx="561.00" cy="1028.20" r="3.3" fill="#f2f2f2"/>
<path d="M561.00,1028.20 L561.29,1024.91 A3.3,3.3 0 0 1 563.99,1026.81 Z" fill="#e81010"/>
<circle cx="561.00" cy="1028.20" r="3.3" fill="url(#gSh2)" stroke="#777" stroke-width="0.35"/>
<circle cx="557.70" cy="1035.50" r="3.3" fill="#f2f2f2"/>
<path d="M557.70,1035.50 L557.99,1032.21 A3.3,3.3 0 0 1 560.69,1034.11 Z" fill="#e81010"/>
<circle cx="557.70" cy="1035.50" r="3.3" fill="url(#gSh2)" stroke="#777" stroke-width="0.35"/>
<circle cx="562.40" cy="1034.10" r="3.3" fill="#f2f2f2"/>
<path d="M562.40,1034.10 L562.69,1030.81 A3.3,3.3 0 0 1 565.39,1032.71 Z" fill="#e81010"/>
<circle cx="562.40" cy="1034.10" r="3.3" fill="url(#gSh2)" stroke="#777" stroke-width="0.35"/>
<circle cx="550.40" cy="1037.70" r="3.3" fill="#f2f2f2"/>
<path d="M550.40,1037.70 L550.69,1034.41 A3.3,3.3 0 0 1 553.39,1036.31 Z" fill="#e81010"/>
<circle cx="550.40" cy="1037.70" r="3.3" fill="url(#gSh2)" stroke="#777" stroke-width="0.35"/>
<circle cx="559.90" cy="1039.20" r="3.3" fill="#f2f2f2"/>
<path d="M559.90,1039.20 L560.19,1035.91 A3.3,3.3 0 0 1 562.89,1037.81 Z" fill="#e81010"/>
<circle cx="559.90" cy="1039.20" r="3.3" fill="url(#gSh2)" stroke="#777" stroke-width="0.35"/>
<circle cx="532.00" cy="1120.10" r="3.3" fill="#f2f2f2"/>
<path d="M532.00,1120.10 L532.29,1116.81 A3.3,3.3 0 0 1 534.99,1118.71 Z" fill="#e81010"/>
<circle cx="532.00" cy="1120.10" r="3.3" fill="url(#gSh2)" stroke="#777" stroke-width="0.35"/>
<circle cx="528.70" cy="1127.00" r="3.3" fill="#f2f2f2"/>
<path d="M528.70,1127.00 L528.99,1123.71 A3.3,3.3 0 0 1 531.69,1125.61 Z" fill="#e81010"/>
<circle cx="528.70" cy="1127.00" r="3.3" fill="url(#gSh2)" stroke="#777" stroke-width="0.35"/>
<circle cx="530.20" cy="1132.90" r="3.3" fill="#f2f2f2"/>
<path d="M530.20,1132.90 L530.49,1129.61 A3.3,3.3 0 0 1 533.19,1131.51 Z" fill="#e81010"/>
<circle cx="530.20" cy="1132.90" r="3.3" fill="url(#gSh2)" stroke="#777" stroke-width="0.35"/>
<circle cx="551.40" cy="1120.80" r="3.3" fill="#f2f2f2"/>
<path d="M551.40,1120.80 L551.69,1117.51 A3.3,3.3 0 0 1 554.39,1119.41 Z" fill="#e81010"/>
<circle cx="551.40" cy="1120.80" r="3.3" fill="url(#gSh2)" stroke="#777" stroke-width="0.35"/>
<circle cx="556.50" cy="1131.00" r="3.3" fill="#f2f2f2"/>
<path d="M556.50,1131.00 L556.79,1127.71 A3.3,3.3 0 0 1 559.49,1129.61 Z" fill="#e81010"/>
<circle cx="556.50" cy="1131.00" r="3.3" fill="url(#gSh2)" stroke="#777" stroke-width="0.35"/>
<circle cx="558.30" cy="1125.60" r="3.3" fill="#f2f2f2"/>
<path d="M558.30,1125.60 L558.59,1122.31 A3.3,3.3 0 0 1 561.29,1124.21 Z" fill="#e81010"/>
<circle cx="558.30" cy="1125.60" r="3.3" fill="url(#gSh2)" stroke="#777" stroke-width="0.35"/>
<circle cx="529.50" cy="1142.00" r="3.3" fill="#f2f2f2"/>
<path d="M529.50,1142.00 L529.79,1138.71 A3.3,3.3 0 0 1 532.49,1140.61 Z" fill="#e81010"/>
<circle cx="529.50" cy="1142.00" r="3.3" fill="url(#gSh2)" stroke="#777" stroke-width="0.35"/>
<circle cx="528.70" cy="1147.80" r="3.3" fill="#f2f2f2"/>
<path d="M528.70,1147.80 L528.99,1144.51 A3.3,3.3 0 0 1 531.69,1146.41 Z" fill="#e81010"/>
<circle cx="528.70" cy="1147.80" r="3.3" fill="url(#gSh2)" stroke="#777" stroke-width="0.35"/>
<circle cx="540.40" cy="1150.70" r="3.3" fill="#f2f2f2"/>
<path d="M540.40,1150.70 L540.69,1147.41 A3.3,3.3 0 0 1 543.39,1149.31 Z" fill="#e81010"/>
<circle cx="540.40" cy="1150.70" r="3.3" fill="url(#gSh2)" stroke="#777" stroke-width="0.35"/>
<circle cx="556.10" cy="1142.00" r="3.3" fill="#f2f2f2"/>
<path d="M556.10,1142.00 L556.39,1138.71 A3.3,3.3 0 0 1 559.09,1140.61 Z" fill="#e81010"/>
<circle cx="556.10" cy="1142.00" r="3.3" fill="url(#gSh2)" stroke="#777" stroke-width="0.35"/>
<circle cx="558.70" cy="1148.50" r="3.3" fill="#f2f2f2"/>
<path d="M558.70,1148.50 L558.99,1145.21 A3.3,3.3 0 0 1 561.69,1147.11 Z" fill="#e81010"/>
<circle cx="558.70" cy="1148.50" r="3.3" fill="url(#gSh2)" stroke="#777" stroke-width="0.35"/>
<circle cx="551.40" cy="1150.70" r="3.3" fill="#f2f2f2"/>
<path d="M551.40,1150.70 L551.69,1147.41 A3.3,3.3 0 0 1 554.39,1149.31 Z" fill="#e81010"/>
<circle cx="551.40" cy="1150.70" r="3.3" fill="url(#gSh2)" stroke="#777" stroke-width="0.35"/>
<circle cx="531.00" cy="1117.90" r="3.3" fill="#f2f2f2"/>
<path d="M531.00,1117.90 L531.29,1114.61 A3.3,3.3 0 0 1 533.99,1116.51 Z" fill="#e81010"/>
<circle cx="531.00" cy="1117.90" r="3.3" fill="url(#gSh2)" stroke="#777" stroke-width="0.35"/>
<circle cx="539.10" cy="1117.90" r="3.3" fill="#f2f2f2"/>
<path d="M539.10,1117.90 L539.39,1114.61 A3.3,3.3 0 0 1 542.09,1116.51 Z" fill="#e81010"/>
<circle cx="539.10" cy="1117.90" r="3.3" fill="url(#gSh2)" stroke="#777" stroke-width="0.35"/>
<circle cx="527.70" cy="1124.80" r="3.3" fill="#f2f2f2"/>
<path d="M527.70,1124.80 L527.99,1121.51 A3.3,3.3 0 0 1 530.69,1123.41 Z" fill="#e81010"/>
<circle cx="527.70" cy="1124.80" r="3.3" fill="url(#gSh2)" stroke="#777" stroke-width="0.35"/>
<circle cx="533.20" cy="1122.60" r="3.3" fill="#f2f2f2"/>
<path d="M533.20,1122.60 L533.49,1119.31 A3.3,3.3 0 0 1 536.19,1121.21 Z" fill="#e81010"/>
<circle cx="533.20" cy="1122.60" r="3.3" fill="url(#gSh2)" stroke="#777" stroke-width="0.35"/>
<circle cx="529.20" cy="1130.70" r="3.3" fill="#f2f2f2"/>
<path d="M529.20,1130.70 L529.49,1127.41 A3.3,3.3 0 0 1 532.19,1129.31 Z" fill="#e81010"/>
<circle cx="529.20" cy="1130.70" r="3.3" fill="url(#gSh2)" stroke="#777" stroke-width="0.35"/>
<circle cx="535.00" cy="1129.60" r="3.3" fill="#f2f2f2"/>
<path d="M535.00,1129.60 L535.29,1126.31 A3.3,3.3 0 0 1 537.99,1128.21 Z" fill="#e81010"/>
<circle cx="535.00" cy="1129.60" r="3.3" fill="url(#gSh2)" stroke="#777" stroke-width="0.35"/>
<circle cx="550.40" cy="1118.60" r="3.3" fill="#f2f2f2"/>
<path d="M550.40,1118.60 L550.69,1115.31 A3.3,3.3 0 0 1 553.39,1117.21 Z" fill="#e81010"/>
<circle cx="550.40" cy="1118.60" r="3.3" fill="url(#gSh2)" stroke="#777" stroke-width="0.35"/>
<circle cx="558.80" cy="1118.60" r="3.3" fill="#f2f2f2"/>
<path d="M558.80,1118.60 L559.09,1115.31 A3.3,3.3 0 0 1 561.79,1117.21 Z" fill="#e81010"/>
<circle cx="558.80" cy="1118.60" r="3.3" fill="url(#gSh2)" stroke="#777" stroke-width="0.35"/>
<circle cx="555.50" cy="1128.80" r="3.3" fill="#f2f2f2"/>
<path d="M555.50,1128.80 L555.79,1125.51 A3.3,3.3 0 0 1 558.49,1127.41 Z" fill="#e81010"/>
<circle cx="555.50" cy="1128.80" r="3.3" fill="url(#gSh2)" stroke="#777" stroke-width="0.35"/>
<circle cx="561.00" cy="1130.30" r="3.3" fill="#f2f2f2"/>
<path d="M561.00,1130.30 L561.29,1127.01 A3.3,3.3 0 0 1 563.99,1128.91 Z" fill="#e81010"/>
<circle cx="561.00" cy="1130.30" r="3.3" fill="url(#gSh2)" stroke="#777" stroke-width="0.35"/>
<circle cx="557.30" cy="1123.40" r="3.3" fill="#f2f2f2"/>
<path d="M557.30,1123.40 L557.59,1120.11 A3.3,3.3 0 0 1 560.29,1122.01 Z" fill="#e81010"/>
<circle cx="557.30" cy="1123.40" r="3.3" fill="url(#gSh2)" stroke="#777" stroke-width="0.35"/>
<circle cx="551.40" cy="1124.40" r="3.3" fill="#f2f2f2"/>
<path d="M551.40,1124.40 L551.69,1121.11 A3.3,3.3 0 0 1 554.39,1123.01 Z" fill="#e81010"/>
<circle cx="551.40" cy="1124.40" r="3.3" fill="url(#gSh2)" stroke="#777" stroke-width="0.35"/>
<circle cx="528.50" cy="1139.80" r="3.3" fill="#f2f2f2"/>
<path d="M528.50,1139.80 L528.79,1136.51 A3.3,3.3 0 0 1 531.49,1138.41 Z" fill="#e81010"/>
<circle cx="528.50" cy="1139.80" r="3.3" fill="url(#gSh2)" stroke="#777" stroke-width="0.35"/>
<circle cx="534.70" cy="1140.50" r="3.3" fill="#f2f2f2"/>
<path d="M534.70,1140.50 L534.99,1137.21 A3.3,3.3 0 0 1 537.69,1139.11 Z" fill="#e81010"/>
<circle cx="534.70" cy="1140.50" r="3.3" fill="url(#gSh2)" stroke="#777" stroke-width="0.35"/>
<circle cx="527.70" cy="1145.60" r="3.3" fill="#f2f2f2"/>
<path d="M527.70,1145.60 L527.99,1142.31 A3.3,3.3 0 0 1 530.69,1144.21 Z" fill="#e81010"/>
<circle cx="527.70" cy="1145.60" r="3.3" fill="url(#gSh2)" stroke="#777" stroke-width="0.35"/>
<circle cx="532.90" cy="1146.30" r="3.3" fill="#f2f2f2"/>
<path d="M532.90,1146.30 L533.19,1143.01 A3.3,3.3 0 0 1 535.89,1144.91 Z" fill="#e81010"/>
<circle cx="532.90" cy="1146.30" r="3.3" fill="url(#gSh2)" stroke="#777" stroke-width="0.35"/>
<circle cx="539.40" cy="1148.50" r="3.3" fill="#f2f2f2"/>
<path d="M539.40,1148.50 L539.69,1145.21 A3.3,3.3 0 0 1 542.39,1147.11 Z" fill="#e81010"/>
<circle cx="539.40" cy="1148.50" r="3.3" fill="url(#gSh2)" stroke="#777" stroke-width="0.35"/>
<circle cx="529.20" cy="1151.50" r="3.3" fill="#f2f2f2"/>
<path d="M529.20,1151.50 L529.49,1148.21 A3.3,3.3 0 0 1 532.19,1150.11 Z" fill="#e81010"/>
<circle cx="529.20" cy="1151.50" r="3.3" fill="url(#gSh2)" stroke="#777" stroke-width="0.35"/>
<circle cx="555.10" cy="1139.80" r="3.3" fill="#f2f2f2"/>
<path d="M555.10,1139.80 L555.39,1136.51 A3.3,3.3 0 0 1 558.09,1138.41 Z" fill="#e81010"/>
<circle cx="555.10" cy="1139.80" r="3.3" fill="url(#gSh2)" stroke="#777" stroke-width="0.35"/>
<circle cx="561.00" cy="1139.00" r="3.3" fill="#f2f2f2"/>
<path d="M561.00,1139.00 L561.29,1135.71 A3.3,3.3 0 0 1 563.99,1137.61 Z" fill="#e81010"/>
<circle cx="561.00" cy="1139.00" r="3.3" fill="url(#gSh2)" stroke="#777" stroke-width="0.35"/>
<circle cx="557.70" cy="1146.30" r="3.3" fill="#f2f2f2"/>
<path d="M557.70,1146.30 L557.99,1143.01 A3.3,3.3 0 0 1 560.69,1144.91 Z" fill="#e81010"/>
<circle cx="557.70" cy="1146.30" r="3.3" fill="url(#gSh2)" stroke="#777" stroke-width="0.35"/>
<circle cx="562.40" cy="1144.90" r="3.3" fill="#f2f2f2"/>
<path d="M562.40,1144.90 L562.69,1141.61 A3.3,3.3 0 0 1 565.39,1143.51 Z" fill="#e81010"/>
<circle cx="562.40" cy="1144.90" r="3.3" fill="url(#gSh2)" stroke="#777" stroke-width="0.35"/>
<circle cx="550.40" cy="1148.50" r="3.3" fill="#f2f2f2"/>
<path d="M550.40,1148.50 L550.69,1145.21 A3.3,3.3 0 0 1 553.39,1147.11 Z" fill="#e81010"/>
<circle cx="550.40" cy="1148.50" r="3.3" fill="url(#gSh2)" stroke="#777" stroke-width="0.35"/>
<circle cx="559.90" cy="1150.00" r="3.3" fill="#f2f2f2"/>
<path d="M559.90,1150.00 L560.19,1146.71 A3.3,3.3 0 0 1 562.89,1148.61 Z" fill="#e81010"/>
<circle cx="559.90" cy="1150.00" r="3.3" fill="url(#gSh2)" stroke="#777" stroke-width="0.35"/>
<circle cx="477.30" cy="1065.58" r="3.3" fill="#f2f2f2"/>
<path d="M477.30,1065.58 L477.58,1062.29 A3.3,3.3 0 0 1 480.29,1064.18 Z" fill="#e81010"/>
<circle cx="477.30" cy="1065.58" r="3.3" fill="url(#gSh2)" stroke="#777" stroke-width="0.35"/>
<circle cx="474.16" cy="1072.13" r="3.3" fill="#f2f2f2"/>
<path d="M474.16,1072.13 L474.45,1068.84 A3.3,3.3 0 0 1 477.15,1070.74 Z" fill="#e81010"/>
<circle cx="474.16" cy="1072.13" r="3.3" fill="url(#gSh2)" stroke="#777" stroke-width="0.35"/>
<circle cx="475.58" cy="1077.74" r="3.3" fill="#f2f2f2"/>
<path d="M475.58,1077.74 L475.87,1074.45 A3.3,3.3 0 0 1 478.58,1076.34 Z" fill="#e81010"/>
<circle cx="475.58" cy="1077.74" r="3.3" fill="url(#gSh2)" stroke="#777" stroke-width="0.35"/>
<circle cx="495.73" cy="1066.24" r="3.3" fill="#f2f2f2"/>
<path d="M495.73,1066.24 L496.01,1062.95 A3.3,3.3 0 0 1 498.72,1064.85 Z" fill="#e81010"/>
<circle cx="495.73" cy="1066.24" r="3.3" fill="url(#gSh2)" stroke="#777" stroke-width="0.35"/>
<circle cx="500.57" cy="1075.93" r="3.3" fill="#f2f2f2"/>
<path d="M500.57,1075.93 L500.86,1072.64 A3.3,3.3 0 0 1 503.56,1074.54 Z" fill="#e81010"/>
<circle cx="500.57" cy="1075.93" r="3.3" fill="url(#gSh2)" stroke="#777" stroke-width="0.35"/>
<circle cx="502.28" cy="1070.80" r="3.3" fill="#f2f2f2"/>
<path d="M502.28,1070.80 L502.57,1067.51 A3.3,3.3 0 0 1 505.27,1069.41 Z" fill="#e81010"/>
<circle cx="502.28" cy="1070.80" r="3.3" fill="url(#gSh2)" stroke="#777" stroke-width="0.35"/>
<circle cx="474.92" cy="1086.38" r="3.3" fill="#f2f2f2"/>
<path d="M474.92,1086.38 L475.21,1083.09 A3.3,3.3 0 0 1 477.91,1084.99 Z" fill="#e81010"/>
<circle cx="474.92" cy="1086.38" r="3.3" fill="url(#gSh2)" stroke="#777" stroke-width="0.35"/>
<circle cx="474.16" cy="1091.89" r="3.3" fill="#f2f2f2"/>
<path d="M474.16,1091.89 L474.45,1088.60 A3.3,3.3 0 0 1 477.15,1090.50 Z" fill="#e81010"/>
<circle cx="474.16" cy="1091.89" r="3.3" fill="url(#gSh2)" stroke="#777" stroke-width="0.35"/>
<circle cx="485.27" cy="1094.64" r="3.3" fill="#f2f2f2"/>
<path d="M485.27,1094.64 L485.56,1091.36 A3.3,3.3 0 0 1 488.27,1093.25 Z" fill="#e81010"/>
<circle cx="485.27" cy="1094.64" r="3.3" fill="url(#gSh2)" stroke="#777" stroke-width="0.35"/>
<circle cx="500.19" cy="1086.38" r="3.3" fill="#f2f2f2"/>
<path d="M500.19,1086.38 L500.48,1083.09 A3.3,3.3 0 0 1 503.18,1084.99 Z" fill="#e81010"/>
<circle cx="500.19" cy="1086.38" r="3.3" fill="url(#gSh2)" stroke="#777" stroke-width="0.35"/>
<circle cx="502.66" cy="1092.56" r="3.3" fill="#f2f2f2"/>
<path d="M502.66,1092.56 L502.95,1089.27 A3.3,3.3 0 0 1 505.65,1091.16 Z" fill="#e81010"/>
<circle cx="502.66" cy="1092.56" r="3.3" fill="url(#gSh2)" stroke="#777" stroke-width="0.35"/>
<circle cx="495.73" cy="1094.64" r="3.3" fill="#f2f2f2"/>
<path d="M495.73,1094.64 L496.01,1091.36 A3.3,3.3 0 0 1 498.72,1093.25 Z" fill="#e81010"/>
<circle cx="495.73" cy="1094.64" r="3.3" fill="url(#gSh2)" stroke="#777" stroke-width="0.35"/>
<circle cx="476.30" cy="1063.38" r="3.3" fill="#f2f2f2"/>
<path d="M476.30,1063.38 L476.58,1060.09 A3.3,3.3 0 0 1 479.29,1061.98 Z" fill="#e81010"/>
<circle cx="476.30" cy="1063.38" r="3.3" fill="url(#gSh2)" stroke="#777" stroke-width="0.35"/>
<circle cx="483.99" cy="1063.38" r="3.3" fill="#f2f2f2"/>
<path d="M483.99,1063.38 L484.28,1060.09 A3.3,3.3 0 0 1 486.98,1061.98 Z" fill="#e81010"/>
<circle cx="483.99" cy="1063.38" r="3.3" fill="url(#gSh2)" stroke="#777" stroke-width="0.35"/>
<circle cx="473.16" cy="1069.93" r="3.3" fill="#f2f2f2"/>
<path d="M473.16,1069.93 L473.45,1066.64 A3.3,3.3 0 0 1 476.15,1068.54 Z" fill="#e81010"/>
<circle cx="473.16" cy="1069.93" r="3.3" fill="url(#gSh2)" stroke="#777" stroke-width="0.35"/>
<circle cx="478.38" cy="1067.84" r="3.3" fill="#f2f2f2"/>
<path d="M478.38,1067.84 L478.67,1064.55 A3.3,3.3 0 0 1 481.38,1066.45 Z" fill="#e81010"/>
<circle cx="478.38" cy="1067.84" r="3.3" fill="url(#gSh2)" stroke="#777" stroke-width="0.35"/>
<circle cx="474.58" cy="1075.54" r="3.3" fill="#f2f2f2"/>
<path d="M474.58,1075.54 L474.87,1072.25 A3.3,3.3 0 0 1 477.58,1074.14 Z" fill="#e81010"/>
<circle cx="474.58" cy="1075.54" r="3.3" fill="url(#gSh2)" stroke="#777" stroke-width="0.35"/>
<circle cx="480.10" cy="1074.49" r="3.3" fill="#f2f2f2"/>
<path d="M480.10,1074.49 L480.38,1071.20 A3.3,3.3 0 0 1 483.09,1073.10 Z" fill="#e81010"/>
<circle cx="480.10" cy="1074.49" r="3.3" fill="url(#gSh2)" stroke="#777" stroke-width="0.35"/>
<circle cx="494.73" cy="1064.04" r="3.3" fill="#f2f2f2"/>
<path d="M494.73,1064.04 L495.01,1060.75 A3.3,3.3 0 0 1 497.72,1062.65 Z" fill="#e81010"/>
<circle cx="494.73" cy="1064.04" r="3.3" fill="url(#gSh2)" stroke="#777" stroke-width="0.35"/>
<circle cx="502.70" cy="1064.04" r="3.3" fill="#f2f2f2"/>
<path d="M502.70,1064.04 L502.99,1060.75 A3.3,3.3 0 0 1 505.70,1062.65 Z" fill="#e81010"/>
<circle cx="502.70" cy="1064.04" r="3.3" fill="url(#gSh2)" stroke="#777" stroke-width="0.35"/>
<circle cx="499.57" cy="1073.73" r="3.3" fill="#f2f2f2"/>
<path d="M499.57,1073.73 L499.86,1070.44 A3.3,3.3 0 0 1 502.56,1072.34 Z" fill="#e81010"/>
<circle cx="499.57" cy="1073.73" r="3.3" fill="url(#gSh2)" stroke="#777" stroke-width="0.35"/>
<circle cx="504.80" cy="1075.15" r="3.3" fill="#f2f2f2"/>
<path d="M504.80,1075.15 L505.08,1071.87 A3.3,3.3 0 0 1 507.79,1073.76 Z" fill="#e81010"/>
<circle cx="504.80" cy="1075.15" r="3.3" fill="url(#gSh2)" stroke="#777" stroke-width="0.35"/>
<circle cx="501.28" cy="1068.60" r="3.3" fill="#f2f2f2"/>
<path d="M501.28,1068.60 L501.57,1065.31 A3.3,3.3 0 0 1 504.27,1067.21 Z" fill="#e81010"/>
<circle cx="501.28" cy="1068.60" r="3.3" fill="url(#gSh2)" stroke="#777" stroke-width="0.35"/>
<circle cx="495.68" cy="1069.55" r="3.3" fill="#f2f2f2"/>
<path d="M495.68,1069.55 L495.96,1066.26 A3.3,3.3 0 0 1 498.67,1068.16 Z" fill="#e81010"/>
<circle cx="495.68" cy="1069.55" r="3.3" fill="url(#gSh2)" stroke="#777" stroke-width="0.35"/>
<circle cx="473.92" cy="1084.18" r="3.3" fill="#f2f2f2"/>
<path d="M473.92,1084.18 L474.21,1080.89 A3.3,3.3 0 0 1 476.91,1082.79 Z" fill="#e81010"/>
<circle cx="473.92" cy="1084.18" r="3.3" fill="url(#gSh2)" stroke="#777" stroke-width="0.35"/>
<circle cx="479.81" cy="1084.85" r="3.3" fill="#f2f2f2"/>
<path d="M479.81,1084.85 L480.10,1081.56 A3.3,3.3 0 0 1 482.80,1083.45 Z" fill="#e81010"/>
<circle cx="479.81" cy="1084.85" r="3.3" fill="url(#gSh2)" stroke="#777" stroke-width="0.35"/>
<circle cx="473.16" cy="1089.69" r="3.3" fill="#f2f2f2"/>
<path d="M473.16,1089.69 L473.45,1086.40 A3.3,3.3 0 0 1 476.15,1088.30 Z" fill="#e81010"/>
<circle cx="473.16" cy="1089.69" r="3.3" fill="url(#gSh2)" stroke="#777" stroke-width="0.35"/>
<circle cx="478.10" cy="1090.36" r="3.3" fill="#f2f2f2"/>
<path d="M478.10,1090.36 L478.39,1087.07 A3.3,3.3 0 0 1 481.09,1088.96 Z" fill="#e81010"/>
<circle cx="478.10" cy="1090.36" r="3.3" fill="url(#gSh2)" stroke="#777" stroke-width="0.35"/>
<circle cx="484.27" cy="1092.44" r="3.3" fill="#f2f2f2"/>
<path d="M484.27,1092.44 L484.56,1089.16 A3.3,3.3 0 0 1 487.27,1091.05 Z" fill="#e81010"/>
<circle cx="484.27" cy="1092.44" r="3.3" fill="url(#gSh2)" stroke="#777" stroke-width="0.35"/>
<circle cx="474.58" cy="1095.30" r="3.3" fill="#f2f2f2"/>
<path d="M474.58,1095.30 L474.87,1092.01 A3.3,3.3 0 0 1 477.58,1093.90 Z" fill="#e81010"/>
<circle cx="474.58" cy="1095.30" r="3.3" fill="url(#gSh2)" stroke="#777" stroke-width="0.35"/>
<circle cx="499.19" cy="1084.18" r="3.3" fill="#f2f2f2"/>
<path d="M499.19,1084.18 L499.48,1080.89 A3.3,3.3 0 0 1 502.18,1082.79 Z" fill="#e81010"/>
<circle cx="499.19" cy="1084.18" r="3.3" fill="url(#gSh2)" stroke="#777" stroke-width="0.35"/>
<circle cx="504.80" cy="1083.42" r="3.3" fill="#f2f2f2"/>
<path d="M504.80,1083.42 L505.08,1080.13 A3.3,3.3 0 0 1 507.79,1082.03 Z" fill="#e81010"/>
<circle cx="504.80" cy="1083.42" r="3.3" fill="url(#gSh2)" stroke="#777" stroke-width="0.35"/>
<circle cx="501.66" cy="1090.36" r="3.3" fill="#f2f2f2"/>
<path d="M501.66,1090.36 L501.95,1087.07 A3.3,3.3 0 0 1 504.65,1088.96 Z" fill="#e81010"/>
<circle cx="501.66" cy="1090.36" r="3.3" fill="url(#gSh2)" stroke="#777" stroke-width="0.35"/>
<circle cx="506.12" cy="1089.03" r="3.3" fill="#f2f2f2"/>
<path d="M506.12,1089.03 L506.41,1085.74 A3.3,3.3 0 0 1 509.12,1087.63 Z" fill="#e81010"/>
<circle cx="506.12" cy="1089.03" r="3.3" fill="url(#gSh2)" stroke="#777" stroke-width="0.35"/>
<circle cx="494.73" cy="1092.44" r="3.3" fill="#f2f2f2"/>
<path d="M494.73,1092.44 L495.01,1089.16 A3.3,3.3 0 0 1 497.72,1091.05 Z" fill="#e81010"/>
<circle cx="494.73" cy="1092.44" r="3.3" fill="url(#gSh2)" stroke="#777" stroke-width="0.35"/>
<circle cx="503.75" cy="1093.87" r="3.3" fill="#f2f2f2"/>
<path d="M503.75,1093.87 L504.04,1090.58 A3.3,3.3 0 0 1 506.74,1092.48 Z" fill="#e81010"/>
<circle cx="503.75" cy="1093.87" r="3.3" fill="url(#gSh2)" stroke="#777" stroke-width="0.35"/>
<line x1="491.5" y1="1151.9" x2="490.5" y2="1143.7" stroke="#e81818" stroke-width="1.8"/>
<line x1="490.5" y1="1143.7" x2="489.5" y2="1135.4" stroke="#8cb8d8" stroke-width="1.8"/>
<line x1="491.5" y1="1008.1" x2="490.5" y2="1016.3" stroke="#e81818" stroke-width="1.8"/>
<line x1="490.5" y1="1016.3" x2="489.5" y2="1024.6" stroke="#8cb8d8" stroke-width="1.8"/>
<line x1="487.5" y1="1151.9" x2="488.5" y2="1143.7" stroke="#e81818" stroke-width="1.8"/>
<line x1="488.5" y1="1143.7" x2="489.5" y2="1135.4" stroke="#8cb8d8" stroke-width="1.8"/>
<line x1="487.5" y1="1008.1" x2="488.5" y2="1016.3" stroke="#e81818" stroke-width="1.8"/>
<line x1="488.5" y1="1016.3" x2="489.5" y2="1024.6" stroke="#8cb8d8" stroke-width="1.8"/>
<line x1="507.0" y1="1137.0" x2="498.2" y2="1136.2" stroke="#e81818" stroke-width="1.8"/>
<line x1="498.2" y1="1136.2" x2="489.5" y2="1135.4" stroke="#8cb8d8" stroke-width="1.8"/>
<line x1="507.0" y1="1023.0" x2="498.2" y2="1023.8" stroke="#e81818" stroke-width="1.8"/>
<line x1="498.2" y1="1023.8" x2="489.5" y2="1024.6" stroke="#8cb8d8" stroke-width="1.8"/>
<line x1="472.0" y1="1137.0" x2="480.8" y2="1136.2" stroke="#e81818" stroke-width="1.8"/>
<line x1="480.8" y1="1136.2" x2="489.5" y2="1135.4" stroke="#8cb8d8" stroke-width="1.8"/>
<line x1="472.0" y1="1023.0" x2="480.8" y2="1023.8" stroke="#e81818" stroke-width="1.8"/>
<line x1="480.8" y1="1023.8" x2="489.5" y2="1024.6" stroke="#8cb8d8" stroke-width="1.8"/>
<line x1="507.0" y1="1132.1" x2="498.2" y2="1133.8" stroke="#e81818" stroke-width="1.8"/>
<line x1="498.2" y1="1133.8" x2="489.5" y2="1135.4" stroke="#8cb8d8" stroke-width="1.8"/>
<line x1="507.0" y1="1027.9" x2="498.2" y2="1026.2" stroke="#e81818" stroke-width="1.8"/>
<line x1="498.2" y1="1026.2" x2="489.5" y2="1024.6" stroke="#8cb8d8" stroke-width="1.8"/>
<line x1="472.0" y1="1132.1" x2="480.8" y2="1133.8" stroke="#e81818" stroke-width="1.8"/>
<line x1="480.8" y1="1133.8" x2="489.5" y2="1135.4" stroke="#8cb8d8" stroke-width="1.8"/>
<line x1="472.0" y1="1027.9" x2="480.8" y2="1026.2" stroke="#e81818" stroke-width="1.8"/>
<line x1="480.8" y1="1026.2" x2="489.5" y2="1024.6" stroke="#8cb8d8" stroke-width="1.8"/>
<line x1="491.5" y1="1117.8" x2="490.5" y2="1126.6" stroke="#e81818" stroke-width="1.8"/>
<line x1="490.5" y1="1126.6" x2="489.5" y2="1135.4" stroke="#8cb8d8" stroke-width="1.8"/>
<line x1="491.5" y1="1042.2" x2="490.5" y2="1033.4" stroke="#e81818" stroke-width="1.8"/>
<line x1="490.5" y1="1033.4" x2="489.5" y2="1024.6" stroke="#8cb8d8" stroke-width="1.8"/>
<line x1="487.5" y1="1117.8" x2="488.5" y2="1126.6" stroke="#e81818" stroke-width="1.8"/>
<line x1="488.5" y1="1126.6" x2="489.5" y2="1135.4" stroke="#8cb8d8" stroke-width="1.8"/>
<line x1="487.5" y1="1042.2" x2="488.5" y2="1033.4" stroke="#e81818" stroke-width="1.8"/>
<line x1="488.5" y1="1033.4" x2="489.5" y2="1024.6" stroke="#8cb8d8" stroke-width="1.8"/>
<line x1="545.4" y1="1096.7" x2="545.1" y2="1102.2" stroke="#e81818" stroke-width="1.8"/>
<line x1="545.1" y1="1102.2" x2="544.9" y2="1107.7" stroke="#8cb8d8" stroke-width="1.8"/>
<line x1="545.4" y1="1063.3" x2="545.1" y2="1057.8" stroke="#e81818" stroke-width="1.8"/>
<line x1="545.1" y1="1057.8" x2="544.9" y2="1052.3" stroke="#8cb8d8" stroke-width="1.8"/>
<line x1="433.6" y1="1096.7" x2="433.9" y2="1102.2" stroke="#e81818" stroke-width="1.8"/>
<line x1="433.9" y1="1102.2" x2="434.1" y2="1107.7" stroke="#8cb8d8" stroke-width="1.8"/>
<line x1="433.6" y1="1063.3" x2="433.9" y2="1057.8" stroke="#e81818" stroke-width="1.8"/>
<line x1="433.9" y1="1057.8" x2="434.1" y2="1052.3" stroke="#8cb8d8" stroke-width="1.8"/>
<line x1="541.7" y1="1096.7" x2="543.3" y2="1102.2" stroke="#e81818" stroke-width="1.8"/>
<line x1="543.3" y1="1102.2" x2="544.9" y2="1107.7" stroke="#8cb8d8" stroke-width="1.8"/>
<line x1="541.7" y1="1063.3" x2="543.3" y2="1057.8" stroke="#e81818" stroke-width="1.8"/>
<line x1="543.3" y1="1057.8" x2="544.9" y2="1052.3" stroke="#8cb8d8" stroke-width="1.8"/>
<line x1="437.3" y1="1096.7" x2="435.7" y2="1102.2" stroke="#e81818" stroke-width="1.8"/>
<line x1="435.7" y1="1102.2" x2="434.1" y2="1107.7" stroke="#8cb8d8" stroke-width="1.8"/>
<line x1="437.3" y1="1063.3" x2="435.7" y2="1057.8" stroke="#e81818" stroke-width="1.8"/>
<line x1="435.7" y1="1057.8" x2="434.1" y2="1052.3" stroke="#8cb8d8" stroke-width="1.8"/>
<line x1="528.7" y1="1081.9" x2="523.0" y2="1081.0" stroke="#e81818" stroke-width="1.8"/>
<line x1="523.0" y1="1081.0" x2="517.2" y2="1080.0" stroke="#8cb8d8" stroke-width="1.8"/>
<line x1="528.7" y1="1078.1" x2="523.0" y2="1079.0" stroke="#e81818" stroke-width="1.8"/>
<line x1="523.0" y1="1079.0" x2="517.2" y2="1080.0" stroke="#8cb8d8" stroke-width="1.8"/>
<line x1="450.3" y1="1081.9" x2="456.1" y2="1081.0" stroke="#e81818" stroke-width="1.8"/>
<line x1="456.1" y1="1081.0" x2="461.8" y2="1080.0" stroke="#8cb8d8" stroke-width="1.8"/>
<line x1="450.3" y1="1078.1" x2="456.1" y2="1079.0" stroke="#e81818" stroke-width="1.8"/>
<line x1="456.1" y1="1079.0" x2="461.8" y2="1080.0" stroke="#8cb8d8" stroke-width="1.8"/>
<line x1="505.7" y1="1097.3" x2="511.5" y2="1088.7" stroke="#e81818" stroke-width="1.8"/>
<line x1="511.5" y1="1088.7" x2="517.2" y2="1080.0" stroke="#8cb8d8" stroke-width="1.8"/>
<line x1="505.7" y1="1062.7" x2="511.5" y2="1071.3" stroke="#e81818" stroke-width="1.8"/>
<line x1="511.5" y1="1071.3" x2="517.2" y2="1080.0" stroke="#8cb8d8" stroke-width="1.8"/>
<line x1="473.3" y1="1097.3" x2="467.6" y2="1088.7" stroke="#e81818" stroke-width="1.8"/>
<line x1="467.6" y1="1088.7" x2="461.8" y2="1080.0" stroke="#8cb8d8" stroke-width="1.8"/>
<line x1="473.3" y1="1062.7" x2="467.6" y2="1071.3" stroke="#e81818" stroke-width="1.8"/>
<line x1="467.6" y1="1071.3" x2="461.8" y2="1080.0" stroke="#8cb8d8" stroke-width="1.8"/>
<line x1="526.2" y1="1119.0" x2="535.5" y2="1113.3" stroke="#e81818" stroke-width="1.8"/>
<line x1="535.5" y1="1113.3" x2="544.9" y2="1107.7" stroke="#8cb8d8" stroke-width="1.8"/>
<line x1="526.2" y1="1041.0" x2="535.5" y2="1046.7" stroke="#e81818" stroke-width="1.8"/>
<line x1="535.5" y1="1046.7" x2="544.9" y2="1052.3" stroke="#8cb8d8" stroke-width="1.8"/>
<line x1="452.8" y1="1119.0" x2="443.5" y2="1113.3" stroke="#e81818" stroke-width="1.8"/>
<line x1="443.5" y1="1113.3" x2="434.1" y2="1107.7" stroke="#8cb8d8" stroke-width="1.8"/>
<line x1="452.8" y1="1041.0" x2="443.5" y2="1046.7" stroke="#e81818" stroke-width="1.8"/>
<line x1="443.5" y1="1046.7" x2="434.1" y2="1052.3" stroke="#8cb8d8" stroke-width="1.8"/>
<line x1="563.4" y1="1119.0" x2="554.1" y2="1113.3" stroke="#e81818" stroke-width="1.8"/>
<line x1="554.1" y1="1113.3" x2="544.9" y2="1107.7" stroke="#8cb8d8" stroke-width="1.8"/>
<line x1="563.4" y1="1041.0" x2="554.1" y2="1046.7" stroke="#e81818" stroke-width="1.8"/>
<line x1="554.1" y1="1046.7" x2="544.9" y2="1052.3" stroke="#8cb8d8" stroke-width="1.8"/>
<line x1="415.6" y1="1119.0" x2="424.9" y2="1113.3" stroke="#e81818" stroke-width="1.8"/>
<line x1="424.9" y1="1113.3" x2="434.1" y2="1107.7" stroke="#8cb8d8" stroke-width="1.8"/>
<line x1="415.6" y1="1041.0" x2="424.9" y2="1046.7" stroke="#e81818" stroke-width="1.8"/>
<line x1="424.9" y1="1046.7" x2="434.1" y2="1052.3" stroke="#8cb8d8" stroke-width="1.8"/>
<line x1="507.0" y1="1137.0" x2="512.1" y2="1136.2" stroke="#e81818" stroke-width="1.8"/>
<line x1="512.1" y1="1136.2" x2="517.2" y2="1135.4" stroke="#2a48e0" stroke-width="1.8"/>
<line x1="507.0" y1="1023.0" x2="512.1" y2="1023.8" stroke="#e81818" stroke-width="1.8"/>
<line x1="512.1" y1="1023.8" x2="517.2" y2="1024.6" stroke="#2a48e0" stroke-width="1.8"/>
<line x1="472.0" y1="1137.0" x2="466.9" y2="1136.2" stroke="#e81818" stroke-width="1.8"/>
<line x1="466.9" y1="1136.2" x2="461.8" y2="1135.4" stroke="#2a48e0" stroke-width="1.8"/>
<line x1="472.0" y1="1023.0" x2="466.9" y2="1023.8" stroke="#e81818" stroke-width="1.8"/>
<line x1="466.9" y1="1023.8" x2="461.8" y2="1024.6" stroke="#2a48e0" stroke-width="1.8"/>
<line x1="507.0" y1="1132.1" x2="512.1" y2="1133.8" stroke="#e81818" stroke-width="1.8"/>
<line x1="512.1" y1="1133.8" x2="517.2" y2="1135.4" stroke="#2a48e0" stroke-width="1.8"/>
<line x1="507.0" y1="1027.9" x2="512.1" y2="1026.2" stroke="#e81818" stroke-width="1.8"/>
<line x1="512.1" y1="1026.2" x2="517.2" y2="1024.6" stroke="#2a48e0" stroke-width="1.8"/>
<line x1="472.0" y1="1132.1" x2="466.9" y2="1133.8" stroke="#e81818" stroke-width="1.8"/>
<line x1="466.9" y1="1133.8" x2="461.8" y2="1135.4" stroke="#2a48e0" stroke-width="1.8"/>
<line x1="472.0" y1="1027.9" x2="466.9" y2="1026.2" stroke="#e81818" stroke-width="1.8"/>
<line x1="466.9" y1="1026.2" x2="461.8" y2="1024.6" stroke="#2a48e0" stroke-width="1.8"/>
<line x1="491.5" y1="1117.8" x2="490.5" y2="1112.8" stroke="#e81818" stroke-width="1.8"/>
<line x1="490.5" y1="1112.8" x2="489.5" y2="1107.7" stroke="#2a48e0" stroke-width="1.8"/>
<line x1="491.5" y1="1042.2" x2="490.5" y2="1047.2" stroke="#e81818" stroke-width="1.8"/>
<line x1="490.5" y1="1047.2" x2="489.5" y2="1052.3" stroke="#2a48e0" stroke-width="1.8"/>
<line x1="487.5" y1="1117.8" x2="488.5" y2="1112.8" stroke="#e81818" stroke-width="1.8"/>
<line x1="488.5" y1="1112.8" x2="489.5" y2="1107.7" stroke="#2a48e0" stroke-width="1.8"/>
<line x1="487.5" y1="1042.2" x2="488.5" y2="1047.2" stroke="#e81818" stroke-width="1.8"/>
<line x1="488.5" y1="1047.2" x2="489.5" y2="1052.3" stroke="#2a48e0" stroke-width="1.8"/>
<line x1="545.4" y1="1096.7" x2="545.1" y2="1088.3" stroke="#e81818" stroke-width="1.8"/>
<line x1="545.1" y1="1088.3" x2="544.9" y2="1080.0" stroke="#2a48e0" stroke-width="1.8"/>
<line x1="545.4" y1="1063.3" x2="545.1" y2="1071.7" stroke="#e81818" stroke-width="1.8"/>
<line x1="545.1" y1="1071.7" x2="544.9" y2="1080.0" stroke="#2a48e0" stroke-width="1.8"/>
<line x1="433.6" y1="1096.7" x2="433.9" y2="1088.3" stroke="#e81818" stroke-width="1.8"/>
<line x1="433.9" y1="1088.3" x2="434.1" y2="1080.0" stroke="#2a48e0" stroke-width="1.8"/>
<line x1="433.6" y1="1063.3" x2="433.9" y2="1071.7" stroke="#e81818" stroke-width="1.8"/>
<line x1="433.9" y1="1071.7" x2="434.1" y2="1080.0" stroke="#2a48e0" stroke-width="1.8"/>
<line x1="541.7" y1="1096.7" x2="543.3" y2="1088.3" stroke="#e81818" stroke-width="1.8"/>
<line x1="543.3" y1="1088.3" x2="544.9" y2="1080.0" stroke="#2a48e0" stroke-width="1.8"/>
<line x1="541.7" y1="1063.3" x2="543.3" y2="1071.7" stroke="#e81818" stroke-width="1.8"/>
<line x1="543.3" y1="1071.7" x2="544.9" y2="1080.0" stroke="#2a48e0" stroke-width="1.8"/>
<line x1="437.3" y1="1096.7" x2="435.7" y2="1088.3" stroke="#e81818" stroke-width="1.8"/>
<line x1="435.7" y1="1088.3" x2="434.1" y2="1080.0" stroke="#2a48e0" stroke-width="1.8"/>
<line x1="437.3" y1="1063.3" x2="435.7" y2="1071.7" stroke="#e81818" stroke-width="1.8"/>
<line x1="435.7" y1="1071.7" x2="434.1" y2="1080.0" stroke="#2a48e0" stroke-width="1.8"/>
<line x1="561.6" y1="1081.9" x2="553.2" y2="1081.0" stroke="#e81818" stroke-width="1.8"/>
<line x1="553.2" y1="1081.0" x2="544.9" y2="1080.0" stroke="#2a48e0" stroke-width="1.8"/>
<line x1="561.6" y1="1078.1" x2="553.2" y2="1079.0" stroke="#e81818" stroke-width="1.8"/>
<line x1="553.2" y1="1079.0" x2="544.9" y2="1080.0" stroke="#2a48e0" stroke-width="1.8"/>
<line x1="417.4" y1="1081.9" x2="425.8" y2="1081.0" stroke="#e81818" stroke-width="1.8"/>
<line x1="425.8" y1="1081.0" x2="434.1" y2="1080.0" stroke="#2a48e0" stroke-width="1.8"/>
<line x1="417.4" y1="1078.1" x2="425.8" y2="1079.0" stroke="#e81818" stroke-width="1.8"/>
<line x1="425.8" y1="1079.0" x2="434.1" y2="1080.0" stroke="#2a48e0" stroke-width="1.8"/>
<line x1="528.7" y1="1081.9" x2="536.8" y2="1081.0" stroke="#e81818" stroke-width="1.8"/>
<line x1="536.8" y1="1081.0" x2="544.9" y2="1080.0" stroke="#2a48e0" stroke-width="1.8"/>
<line x1="528.7" y1="1078.1" x2="536.8" y2="1079.0" stroke="#e81818" stroke-width="1.8"/>
<line x1="536.8" y1="1079.0" x2="544.9" y2="1080.0" stroke="#2a48e0" stroke-width="1.8"/>
<line x1="450.3" y1="1081.9" x2="442.2" y2="1081.0" stroke="#e81818" stroke-width="1.8"/>
<line x1="442.2" y1="1081.0" x2="434.1" y2="1080.0" stroke="#2a48e0" stroke-width="1.8"/>
<line x1="450.3" y1="1078.1" x2="442.2" y2="1079.0" stroke="#e81818" stroke-width="1.8"/>
<line x1="442.2" y1="1079.0" x2="434.1" y2="1080.0" stroke="#2a48e0" stroke-width="1.8"/>
<line x1="505.7" y1="1097.3" x2="497.6" y2="1102.5" stroke="#e81818" stroke-width="1.8"/>
<line x1="497.6" y1="1102.5" x2="489.5" y2="1107.7" stroke="#2a48e0" stroke-width="1.8"/>
<line x1="505.7" y1="1062.7" x2="497.6" y2="1057.5" stroke="#e81818" stroke-width="1.8"/>
<line x1="497.6" y1="1057.5" x2="489.5" y2="1052.3" stroke="#2a48e0" stroke-width="1.8"/>
<line x1="473.3" y1="1097.3" x2="481.4" y2="1102.5" stroke="#e81818" stroke-width="1.8"/>
<line x1="481.4" y1="1102.5" x2="489.5" y2="1107.7" stroke="#2a48e0" stroke-width="1.8"/>
<line x1="473.3" y1="1062.7" x2="481.4" y2="1057.5" stroke="#e81818" stroke-width="1.8"/>
<line x1="481.4" y1="1057.5" x2="489.5" y2="1052.3" stroke="#2a48e0" stroke-width="1.8"/>
<line x1="526.2" y1="1119.0" x2="521.7" y2="1127.2" stroke="#e81818" stroke-width="1.8"/>
<line x1="521.7" y1="1127.2" x2="517.2" y2="1135.4" stroke="#2a48e0" stroke-width="1.8"/>
<line x1="526.2" y1="1041.0" x2="521.7" y2="1032.8" stroke="#e81818" stroke-width="1.8"/>
<line x1="521.7" y1="1032.8" x2="517.2" y2="1024.6" stroke="#2a48e0" stroke-width="1.8"/>
<line x1="452.8" y1="1119.0" x2="457.3" y2="1127.2" stroke="#e81818" stroke-width="1.8"/>
<line x1="457.3" y1="1127.2" x2="461.8" y2="1135.4" stroke="#2a48e0" stroke-width="1.8"/>
<line x1="452.8" y1="1041.0" x2="457.3" y2="1032.8" stroke="#e81818" stroke-width="1.8"/>
<line x1="457.3" y1="1032.8" x2="461.8" y2="1024.6" stroke="#2a48e0" stroke-width="1.8"/>
<line x1="526.2" y1="1151.3" x2="521.7" y2="1143.3" stroke="#e81818" stroke-width="1.8"/>
<line x1="521.7" y1="1143.3" x2="517.2" y2="1135.4" stroke="#2a48e0" stroke-width="1.8"/>
<line x1="526.2" y1="1008.7" x2="521.7" y2="1016.6" stroke="#e81818" stroke-width="1.8"/>
<line x1="521.7" y1="1016.6" x2="517.2" y2="1024.6" stroke="#2a48e0" stroke-width="1.8"/>
<line x1="452.8" y1="1151.3" x2="457.3" y2="1143.3" stroke="#e81818" stroke-width="1.8"/>
<line x1="457.3" y1="1143.3" x2="461.8" y2="1135.4" stroke="#2a48e0" stroke-width="1.8"/>
<line x1="452.8" y1="1008.7" x2="457.3" y2="1016.6" stroke="#e81818" stroke-width="1.8"/>
<line x1="457.3" y1="1016.6" x2="461.8" y2="1024.6" stroke="#2a48e0" stroke-width="1.8"/>
<circle cx="461.80" cy="1052.30" r="9.6" fill="#e8c438"/>
<path d="M461.80,1052.30 L453.49,1047.50 A9.6,9.6 0 0 1 461.80,1042.70 Z" fill="#f4f4f4"/>
<path d="M461.80,1052.30 L461.80,1042.70 A9.6,9.6 0 0 1 470.82,1055.58 Z" fill="#8ab2d0"/>
<circle cx="461.80" cy="1052.30" r="9.6" fill="url(#gSh)"/>
<circle cx="517.20" cy="1052.30" r="9.6" fill="#e8c438"/>
<path d="M517.20,1052.30 L508.89,1047.50 A9.6,9.6 0 0 1 517.20,1042.70 Z" fill="#f4f4f4"/>
<path d="M517.20,1052.30 L517.20,1042.70 A9.6,9.6 0 0 1 526.22,1055.58 Z" fill="#8ab2d0"/>
<circle cx="517.20" cy="1052.30" r="9.6" fill="url(#gSh)"/>
<circle cx="461.80" cy="1107.70" r="9.6" fill="#e8c438"/>
<path d="M461.80,1107.70 L453.49,1102.90 A9.6,9.6 0 0 1 461.80,1098.10 Z" fill="#f4f4f4"/>
<path d="M461.80,1107.70 L461.80,1098.10 A9.6,9.6 0 0 1 470.82,1110.98 Z" fill="#8ab2d0"/>
<circle cx="461.80" cy="1107.70" r="9.6" fill="url(#gSh)"/>
<circle cx="517.20" cy="1107.70" r="9.6" fill="#e8c438"/>
<path d="M517.20,1107.70 L508.89,1102.90 A9.6,9.6 0 0 1 517.20,1098.10 Z" fill="#f4f4f4"/>
<path d="M517.20,1107.70 L517.20,1098.10 A9.6,9.6 0 0 1 526.22,1110.98 Z" fill="#8ab2d0"/>
<circle cx="517.20" cy="1107.70" r="9.6" fill="url(#gSh)"/>
<circle cx="489.50" cy="1024.60" r="6.6" fill="#8ab2d0"/>
<circle cx="489.50" cy="1024.60" r="6.6" fill="url(#gSh)"/>
<circle cx="489.50" cy="1135.40" r="6.6" fill="#8ab2d0"/>
<circle cx="489.50" cy="1135.40" r="6.6" fill="url(#gSh)"/>
<circle cx="434.10" cy="1052.30" r="6.6" fill="#8ab2d0"/>
<circle cx="434.10" cy="1052.30" r="6.6" fill="url(#gSh)"/>
<circle cx="544.90" cy="1052.30" r="6.6" fill="#8ab2d0"/>
<circle cx="544.90" cy="1052.30" r="6.6" fill="url(#gSh)"/>
<circle cx="434.10" cy="1107.70" r="6.6" fill="#8ab2d0"/>
<circle cx="434.10" cy="1107.70" r="6.6" fill="url(#gSh)"/>
<circle cx="544.90" cy="1107.70" r="6.6" fill="#8ab2d0"/>
<circle cx="544.90" cy="1107.70" r="6.6" fill="url(#gSh)"/>
<circle cx="461.80" cy="1080.00" r="6.6" fill="#8ab2d0"/>
<circle cx="461.80" cy="1080.00" r="6.6" fill="url(#gSh)"/>
<circle cx="517.20" cy="1080.00" r="6.6" fill="#8ab2d0"/>
<circle cx="517.20" cy="1080.00" r="6.6" fill="url(#gSh)"/>
<circle cx="461.80" cy="1024.60" r="5.2" fill="#1e3ee0"/>
<circle cx="461.80" cy="1024.60" r="5.2" fill="url(#gSh)"/>
<circle cx="517.20" cy="1024.60" r="5.2" fill="#1e3ee0"/>
<circle cx="517.20" cy="1024.60" r="5.2" fill="url(#gSh)"/>
<circle cx="489.50" cy="1052.30" r="5.2" fill="#1e3ee0"/>
<circle cx="489.50" cy="1052.30" r="5.2" fill="url(#gSh)"/>
<circle cx="489.50" cy="1107.70" r="5.2" fill="#1e3ee0"/>
<circle cx="489.50" cy="1107.70" r="5.2" fill="url(#gSh)"/>
<circle cx="434.10" cy="1080.00" r="5.2" fill="#1e3ee0"/>
<circle cx="434.10" cy="1080.00" r="5.2" fill="url(#gSh)"/>
<circle cx="544.90" cy="1080.00" r="5.2" fill="#1e3ee0"/>
<circle cx="544.90" cy="1080.00" r="5.2" fill="url(#gSh)"/>
<circle cx="461.80" cy="1135.40" r="5.2" fill="#1e3ee0"/>
<circle cx="461.80" cy="1135.40" r="5.2" fill="url(#gSh)"/>
<circle cx="517.20" cy="1135.40" r="5.2" fill="#1e3ee0"/>
<circle cx="517.20" cy="1135.40" r="5.2" fill="url(#gSh)"/>
<circle cx="491.50" cy="1151.90" r="2.7" fill="#f01010"/>
<circle cx="491.50" cy="1151.90" r="2.7" fill="url(#gSh2)"/>
<circle cx="491.50" cy="1008.10" r="2.7" fill="#f01010"/>
<circle cx="491.50" cy="1008.10" r="2.7" fill="url(#gSh2)"/>
<circle cx="487.50" cy="1151.90" r="2.7" fill="#f01010"/>
<circle cx="487.50" cy="1151.90" r="2.7" fill="url(#gSh2)"/>
<circle cx="487.50" cy="1008.10" r="2.7" fill="#f01010"/>
<circle cx="487.50" cy="1008.10" r="2.7" fill="url(#gSh2)"/>
<circle cx="507.00" cy="1137.00" r="2.7" fill="#f01010"/>
<circle cx="507.00" cy="1137.00" r="2.7" fill="url(#gSh2)"/>
<circle cx="507.00" cy="1023.00" r="2.7" fill="#f01010"/>
<circle cx="507.00" cy="1023.00" r="2.7" fill="url(#gSh2)"/>
<circle cx="472.00" cy="1137.00" r="2.7" fill="#f01010"/>
<circle cx="472.00" cy="1137.00" r="2.7" fill="url(#gSh2)"/>
<circle cx="472.00" cy="1023.00" r="2.7" fill="#f01010"/>
<circle cx="472.00" cy="1023.00" r="2.7" fill="url(#gSh2)"/>
<circle cx="507.00" cy="1132.10" r="2.7" fill="#f01010"/>
<circle cx="507.00" cy="1132.10" r="2.7" fill="url(#gSh2)"/>
<circle cx="507.00" cy="1027.90" r="2.7" fill="#f01010"/>
<circle cx="507.00" cy="1027.90" r="2.7" fill="url(#gSh2)"/>
<circle cx="472.00" cy="1132.10" r="2.7" fill="#f01010"/>
<circle cx="472.00" cy="1132.10" r="2.7" fill="url(#gSh2)"/>
<circle cx="472.00" cy="1027.90" r="2.7" fill="#f01010"/>
<circle cx="472.00" cy="1027.90" r="2.7" fill="url(#gSh2)"/>
<circle cx="491.50" cy="1117.80" r="2.7" fill="#f01010"/>
<circle cx="491.50" cy="1117.80" r="2.7" fill="url(#gSh2)"/>
<circle cx="491.50" cy="1042.20" r="2.7" fill="#f01010"/>
<circle cx="491.50" cy="1042.20" r="2.7" fill="url(#gSh2)"/>
<circle cx="487.50" cy="1117.80" r="2.7" fill="#f01010"/>
<circle cx="487.50" cy="1117.80" r="2.7" fill="url(#gSh2)"/>
<circle cx="487.50" cy="1042.20" r="2.7" fill="#f01010"/>
<circle cx="487.50" cy="1042.20" r="2.7" fill="url(#gSh2)"/>
<circle cx="545.40" cy="1096.70" r="2.7" fill="#f01010"/>
<circle cx="545.40" cy="1096.70" r="2.7" fill="url(#gSh2)"/>
<circle cx="545.40" cy="1063.30" r="2.7" fill="#f01010"/>
<circle cx="545.40" cy="1063.30" r="2.7" fill="url(#gSh2)"/>
<circle cx="433.60" cy="1096.70" r="2.7" fill="#f01010"/>
<circle cx="433.60" cy="1096.70" r="2.7" fill="url(#gSh2)"/>
<circle cx="433.60" cy="1063.30" r="2.7" fill="#f01010"/>
<circle cx="433.60" cy="1063.30" r="2.7" fill="url(#gSh2)"/>
<circle cx="541.70" cy="1096.70" r="2.7" fill="#f01010"/>
<circle cx="541.70" cy="1096.70" r="2.7" fill="url(#gSh2)"/>
<circle cx="541.70" cy="1063.30" r="2.7" fill="#f01010"/>
<circle cx="541.70" cy="1063.30" r="2.7" fill="url(#gSh2)"/>
<circle cx="437.30" cy="1096.70" r="2.7" fill="#f01010"/>
<circle cx="437.30" cy="1096.70" r="2.7" fill="url(#gSh2)"/>
<circle cx="437.30" cy="1063.30" r="2.7" fill="#f01010"/>
<circle cx="437.30" cy="1063.30" r="2.7" fill="url(#gSh2)"/>
<circle cx="561.60" cy="1081.90" r="2.7" fill="#f01010"/>
<circle cx="561.60" cy="1081.90" r="2.7" fill="url(#gSh2)"/>
<circle cx="561.60" cy="1078.10" r="2.7" fill="#f01010"/>
<circle cx="561.60" cy="1078.10" r="2.7" fill="url(#gSh2)"/>
<circle cx="417.40" cy="1081.90" r="2.7" fill="#f01010"/>
<circle cx="417.40" cy="1081.90" r="2.7" fill="url(#gSh2)"/>
<circle cx="417.40" cy="1078.10" r="2.7" fill="#f01010"/>
<circle cx="417.40" cy="1078.10" r="2.7" fill="url(#gSh2)"/>
<circle cx="528.70" cy="1081.90" r="2.7" fill="#f01010"/>
<circle cx="528.70" cy="1081.90" r="2.7" fill="url(#gSh2)"/>
<circle cx="528.70" cy="1078.10" r="2.7" fill="#f01010"/>
<circle cx="528.70" cy="1078.10" r="2.7" fill="url(#gSh2)"/>
<circle cx="450.30" cy="1081.90" r="2.7" fill="#f01010"/>
<circle cx="450.30" cy="1081.90" r="2.7" fill="url(#gSh2)"/>
<circle cx="450.30" cy="1078.10" r="2.7" fill="#f01010"/>
<circle cx="450.30" cy="1078.10" r="2.7" fill="url(#gSh2)"/>
<circle cx="505.70" cy="1097.30" r="2.7" fill="#f01010"/>
<circle cx="505.70" cy="1097.30" r="2.7" fill="url(#gSh2)"/>
<circle cx="505.70" cy="1062.70" r="2.7" fill="#f01010"/>
<circle cx="505.70" cy="1062.70" r="2.7" fill="url(#gSh2)"/>
<circle cx="473.30" cy="1097.30" r="2.7" fill="#f01010"/>
<circle cx="473.30" cy="1097.30" r="2.7" fill="url(#gSh2)"/>
<circle cx="473.30" cy="1062.70" r="2.7" fill="#f01010"/>
<circle cx="473.30" cy="1062.70" r="2.7" fill="url(#gSh2)"/>
<circle cx="526.20" cy="1119.00" r="2.7" fill="#f01010"/>
<circle cx="526.20" cy="1119.00" r="2.7" fill="url(#gSh2)"/>
<circle cx="526.20" cy="1041.00" r="2.7" fill="#f01010"/>
<circle cx="526.20" cy="1041.00" r="2.7" fill="url(#gSh2)"/>
<circle cx="452.80" cy="1119.00" r="2.7" fill="#f01010"/>
<circle cx="452.80" cy="1119.00" r="2.7" fill="url(#gSh2)"/>
<circle cx="452.80" cy="1041.00" r="2.7" fill="#f01010"/>
<circle cx="452.80" cy="1041.00" r="2.7" fill="url(#gSh2)"/>
<circle cx="526.20" cy="1151.30" r="2.7" fill="#f01010"/>
<circle cx="526.20" cy="1151.30" r="2.7" fill="url(#gSh2)"/>
<circle cx="526.20" cy="1008.70" r="2.7" fill="#f01010"/>
<circle cx="526.20" cy="1008.70" r="2.7" fill="url(#gSh2)"/>
<circle cx="452.80" cy="1151.30" r="2.7" fill="#f01010"/>
<circle cx="452.80" cy="1151.30" r="2.7" fill="url(#gSh2)"/>
<circle cx="452.80" cy="1008.70" r="2.7" fill="#f01010"/>
<circle cx="452.80" cy="1008.70" r="2.7" fill="url(#gSh2)"/>
<circle cx="563.40" cy="1119.00" r="2.7" fill="#f01010"/>
<circle cx="563.40" cy="1119.00" r="2.7" fill="url(#gSh2)"/>
<circle cx="563.40" cy="1041.00" r="2.7" fill="#f01010"/>
<circle cx="563.40" cy="1041.00" r="2.7" fill="url(#gSh2)"/>
<circle cx="415.60" cy="1119.00" r="2.7" fill="#f01010"/>
<circle cx="415.60" cy="1119.00" r="2.7" fill="url(#gSh2)"/>
<circle cx="415.60" cy="1041.00" r="2.7" fill="#f01010"/>
<circle cx="415.60" cy="1041.00" r="2.7" fill="url(#gSh2)"/>
<circle cx="434.10" cy="1024.60" r="6.5" fill="#a884a4"/>
<path d="M434.10,1024.60 L434.10,1018.10 A6.5,6.5 0 0 1 440.60,1024.60 Z" fill="#f0f0f0"/>
<circle cx="434.10" cy="1024.60" r="6.5" fill="url(#gSh)"/>
<circle cx="434.10" cy="1135.40" r="6.5" fill="#a884a4"/>
<path d="M434.10,1135.40 L434.10,1128.90 A6.5,6.5 0 0 1 440.60,1135.40 Z" fill="#f0f0f0"/>
<circle cx="434.10" cy="1135.40" r="6.5" fill="url(#gSh)"/>
<circle cx="544.90" cy="1024.60" r="6.5" fill="#a884a4"/>
<path d="M544.90,1024.60 L544.90,1018.10 A6.5,6.5 0 0 1 551.40,1024.60 Z" fill="#f0f0f0"/>
<circle cx="544.90" cy="1024.60" r="6.5" fill="url(#gSh)"/>
<circle cx="544.90" cy="1135.40" r="6.5" fill="#a884a4"/>
<path d="M544.90,1135.40 L544.90,1128.90 A6.5,6.5 0 0 1 551.40,1135.40 Z" fill="#f0f0f0"/>
<circle cx="544.90" cy="1135.40" r="6.5" fill="url(#gSh)"/>
<circle cx="489.50" cy="1080.00" r="6.5" fill="#a884a4"/>
<path d="M489.50,1080.00 L489.50,1073.50 A6.5,6.5 0 0 1 496.00,1080.00 Z" fill="#f0f0f0"/>
<circle cx="489.50" cy="1080.00" r="6.5" fill="url(#gSh)"/>
<line x1="363.5" y1="1132.6" x2="363.5" y2="1112.6" stroke="#1010d8" stroke-width="2.4"/>
<path d="M363.5,1104.5 L366.9,1113.1 L360.1,1113.1 Z" fill="#1010d8"/>
<line x1="363.5" y1="1132.6" x2="384.1" y2="1132.6" stroke="#20c020" stroke-width="2.4"/>
<path d="M392.2,1132.6 L383.6,1136.0 L383.6,1129.2 Z" fill="#20c020"/>
<circle cx="363.5" cy="1132.6" r="3.4" fill="#8a1010" stroke="#6a0808" stroke-width="0.6"/>
<text x="363.7" y="1099.7" font-size="5" text-anchor="middle" style="font-weight:bold">c</text>
<text x="398.6" y="1134.3" font-size="5" text-anchor="middle" style="font-weight:bold">b</text>
<circle cx="577.6" cy="1004.7" r="0.7" fill="#333"/>
</svg></body></html>
